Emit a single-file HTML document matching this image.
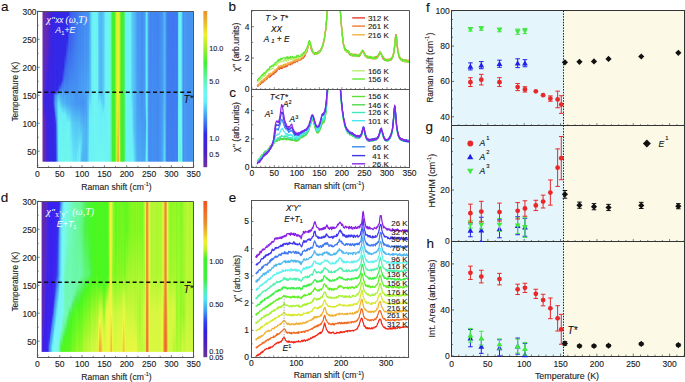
<!DOCTYPE html>
<html><head><meta charset="utf-8"><style>
html,body{margin:0;padding:0;background:#fff;width:685px;height:382px;overflow:hidden}
svg{display:block}
svg{font-family:"Liberation Sans",sans-serif}
</style></head><body>
<svg width="685" height="382" viewBox="0 0 685 382">
<defs><linearGradient id="a0" x2="0" y2="1"><stop offset="0.000" stop-color="#7030a0"/><stop offset="0.588" stop-color="#692dab"/><stop offset="0.912" stop-color="#7030a0"/><stop offset="1.000" stop-color="#7030a0"/></linearGradient><linearGradient id="a1" x2="0" y2="1"><stop offset="0.000" stop-color="#6e2fa3"/><stop offset="0.540" stop-color="#622bb5"/><stop offset="0.614" stop-color="#5928c1"/><stop offset="0.744" stop-color="#6a2ea9"/><stop offset="1.000" stop-color="#6a2ea9"/></linearGradient><linearGradient id="a2" x2="0" y2="1"><stop offset="0.000" stop-color="#692dab"/><stop offset="0.521" stop-color="#5928c1"/><stop offset="0.588" stop-color="#4822d7"/><stop offset="0.614" stop-color="#4522da"/><stop offset="0.744" stop-color="#612ab6"/><stop offset="1.000" stop-color="#612ab6"/></linearGradient><linearGradient id="a3" x2="0" y2="1"><stop offset="0.000" stop-color="#672dad"/><stop offset="0.372" stop-color="#5d29bc"/><stop offset="0.521" stop-color="#4a23d4"/><stop offset="0.558" stop-color="#3b23e3"/><stop offset="0.651" stop-color="#4120df"/><stop offset="0.744" stop-color="#5b28be"/><stop offset="1.000" stop-color="#5b28be"/></linearGradient><linearGradient id="a4" x2="0" y2="1"><stop offset="0.000" stop-color="#622bb4"/><stop offset="0.279" stop-color="#5b28bf"/><stop offset="0.484" stop-color="#3e21e1"/><stop offset="0.614" stop-color="#3427e7"/><stop offset="0.744" stop-color="#4a23d4"/><stop offset="1.000" stop-color="#4a23d4"/></linearGradient><linearGradient id="a5" x2="0" y2="1"><stop offset="0.000" stop-color="#5d29bb"/><stop offset="0.279" stop-color="#5226ca"/><stop offset="0.484" stop-color="#3626e6"/><stop offset="0.688" stop-color="#3427e7"/><stop offset="0.856" stop-color="#3d22e2"/><stop offset="1.000" stop-color="#3d22e2"/></linearGradient><linearGradient id="a6" x2="0" y2="1"><stop offset="0.000" stop-color="#5727c4"/><stop offset="0.186" stop-color="#5426c8"/><stop offset="0.372" stop-color="#3c22e2"/><stop offset="1.000" stop-color="#3526e6"/></linearGradient><linearGradient id="a7" x2="0" y2="1"><stop offset="0.000" stop-color="#4d24d0"/><stop offset="0.186" stop-color="#4a23d4"/><stop offset="0.372" stop-color="#3626e6"/><stop offset="1.000" stop-color="#3427e7"/></linearGradient><linearGradient id="a8" x2="0" y2="1"><stop offset="0.000" stop-color="#4722d7"/><stop offset="0.688" stop-color="#3427e7"/><stop offset="1.000" stop-color="#3427e7"/></linearGradient><linearGradient id="a9" x2="0" y2="1"><stop offset="0.000" stop-color="#3f21e1"/><stop offset="1.000" stop-color="#3327e7"/></linearGradient><linearGradient id="a10" x2="0" y2="1"><stop offset="0.000" stop-color="#3b23e3"/><stop offset="1.000" stop-color="#3427e7"/></linearGradient><linearGradient id="a11" x2="0" y2="1"><stop offset="0.000" stop-color="#3725e5"/><stop offset="0.540" stop-color="#3327e7"/><stop offset="0.558" stop-color="#353cea"/><stop offset="0.614" stop-color="#3641eb"/><stop offset="0.651" stop-color="#3228e8"/><stop offset="1.000" stop-color="#3327e7"/></linearGradient><linearGradient id="a12" x2="0" y2="1"><stop offset="0.000" stop-color="#3626e6"/><stop offset="0.540" stop-color="#3228e8"/><stop offset="0.558" stop-color="#3d6ef0"/><stop offset="0.614" stop-color="#407cf1"/><stop offset="0.651" stop-color="#3a5def"/><stop offset="0.688" stop-color="#3432e9"/><stop offset="1.000" stop-color="#3228e8"/></linearGradient><linearGradient id="a13" x2="0" y2="1"><stop offset="0.000" stop-color="#3526e6"/><stop offset="0.540" stop-color="#332be8"/><stop offset="0.558" stop-color="#4590f2"/><stop offset="0.614" stop-color="#49a4f4"/><stop offset="0.651" stop-color="#479af3"/><stop offset="0.688" stop-color="#407bf1"/><stop offset="0.744" stop-color="#3436ea"/><stop offset="1.000" stop-color="#332be8"/></linearGradient><linearGradient id="a14" x2="0" y2="1"><stop offset="0.000" stop-color="#3626e6"/><stop offset="0.521" stop-color="#3327e7"/><stop offset="0.540" stop-color="#3952ed"/><stop offset="0.558" stop-color="#479bf3"/><stop offset="0.614" stop-color="#50b5f5"/><stop offset="0.688" stop-color="#4ba9f4"/><stop offset="0.744" stop-color="#4180f1"/><stop offset="1.000" stop-color="#3b64ef"/></linearGradient><linearGradient id="a15" x2="0" y2="1"><stop offset="0.000" stop-color="#3626e6"/><stop offset="0.521" stop-color="#3328e8"/><stop offset="0.540" stop-color="#3f77f1"/><stop offset="0.558" stop-color="#4daff4"/><stop offset="0.614" stop-color="#5acdf6"/><stop offset="0.688" stop-color="#59cdf6"/><stop offset="0.856" stop-color="#4eb1f4"/><stop offset="1.000" stop-color="#49a3f4"/></linearGradient><linearGradient id="a16" x2="0" y2="1"><stop offset="0.000" stop-color="#3427e7"/><stop offset="0.484" stop-color="#3228e8"/><stop offset="0.521" stop-color="#363feb"/><stop offset="0.540" stop-color="#438af2"/><stop offset="0.558" stop-color="#51b9f5"/><stop offset="0.614" stop-color="#65e8f8"/><stop offset="0.856" stop-color="#68eff8"/><stop offset="1.000" stop-color="#66eaf8"/></linearGradient><linearGradient id="a17" x2="0" y2="1"><stop offset="0.000" stop-color="#3427e7"/><stop offset="0.484" stop-color="#332be8"/><stop offset="0.521" stop-color="#3d6cf0"/><stop offset="0.540" stop-color="#479bf3"/><stop offset="0.558" stop-color="#50b7f5"/><stop offset="0.651" stop-color="#68f0f8"/><stop offset="1.000" stop-color="#6df4f3"/></linearGradient><linearGradient id="a18" x2="0" y2="1"><stop offset="0.000" stop-color="#3427e7"/><stop offset="0.458" stop-color="#3228e8"/><stop offset="0.484" stop-color="#332fe9"/><stop offset="0.540" stop-color="#489ff3"/><stop offset="0.651" stop-color="#64e7f8"/><stop offset="0.744" stop-color="#6cf3f4"/><stop offset="1.000" stop-color="#6df4f3"/></linearGradient><linearGradient id="a19" x2="0" y2="1"><stop offset="0.000" stop-color="#3427e7"/><stop offset="0.458" stop-color="#3228e8"/><stop offset="0.484" stop-color="#3958ee"/><stop offset="0.521" stop-color="#417df1"/><stop offset="0.540" stop-color="#489df3"/><stop offset="0.614" stop-color="#54bff5"/><stop offset="0.651" stop-color="#61e0f7"/><stop offset="0.688" stop-color="#69f1f7"/><stop offset="1.000" stop-color="#6ef4f2"/></linearGradient><linearGradient id="a20" x2="0" y2="1"><stop offset="0.000" stop-color="#3328e8"/><stop offset="0.372" stop-color="#332be8"/><stop offset="0.458" stop-color="#3642eb"/><stop offset="0.484" stop-color="#3f73f1"/><stop offset="0.521" stop-color="#4388f2"/><stop offset="0.540" stop-color="#49a1f4"/><stop offset="0.614" stop-color="#53bdf5"/><stop offset="0.651" stop-color="#61dff7"/><stop offset="0.688" stop-color="#69f1f7"/><stop offset="1.000" stop-color="#70f6f0"/></linearGradient><linearGradient id="a21" x2="0" y2="1"><stop offset="0.000" stop-color="#3427e7"/><stop offset="0.372" stop-color="#3327e7"/><stop offset="0.484" stop-color="#3f76f1"/><stop offset="0.521" stop-color="#4181f2"/><stop offset="0.540" stop-color="#4798f3"/><stop offset="0.614" stop-color="#4eb2f5"/><stop offset="0.688" stop-color="#67edf8"/><stop offset="1.000" stop-color="#6ff5f1"/></linearGradient><linearGradient id="a22" x2="0" y2="1"><stop offset="0.000" stop-color="#3228e8"/><stop offset="0.279" stop-color="#322ae8"/><stop offset="0.372" stop-color="#374bec"/><stop offset="0.484" stop-color="#4387f2"/><stop offset="0.521" stop-color="#438af2"/><stop offset="0.558" stop-color="#4aa9f4"/><stop offset="0.614" stop-color="#50b6f5"/><stop offset="0.688" stop-color="#68f0f8"/><stop offset="1.000" stop-color="#6ef6ea"/></linearGradient><linearGradient id="a23" x2="0" y2="1"><stop offset="0.000" stop-color="#3327e7"/><stop offset="0.279" stop-color="#3228e8"/><stop offset="0.372" stop-color="#3c65f0"/><stop offset="0.521" stop-color="#4286f2"/><stop offset="0.558" stop-color="#49a3f4"/><stop offset="0.614" stop-color="#4daff4"/><stop offset="0.688" stop-color="#66ebf8"/><stop offset="0.856" stop-color="#6ff5f1"/><stop offset="1.000" stop-color="#6ef6e9"/></linearGradient><linearGradient id="a24" x2="0" y2="1"><stop offset="0.000" stop-color="#3327e7"/><stop offset="0.186" stop-color="#3327e7"/><stop offset="0.372" stop-color="#3d6cf0"/><stop offset="0.484" stop-color="#4283f2"/><stop offset="0.521" stop-color="#4285f2"/><stop offset="0.558" stop-color="#48a1f4"/><stop offset="0.614" stop-color="#4babf4"/><stop offset="0.688" stop-color="#62e2f7"/><stop offset="0.744" stop-color="#6df3f3"/><stop offset="1.000" stop-color="#6df6e5"/></linearGradient><linearGradient id="a25" x2="0" y2="1"><stop offset="0.000" stop-color="#3327e7"/><stop offset="0.186" stop-color="#3328e8"/><stop offset="0.279" stop-color="#3b5fef"/><stop offset="0.484" stop-color="#4284f2"/><stop offset="0.521" stop-color="#4386f2"/><stop offset="0.558" stop-color="#489ff3"/><stop offset="0.614" stop-color="#4aa8f4"/><stop offset="0.744" stop-color="#6df4f3"/><stop offset="1.000" stop-color="#6ef6e9"/></linearGradient><linearGradient id="a26" x2="0" y2="1"><stop offset="0.000" stop-color="#3328e8"/><stop offset="0.093" stop-color="#332fe9"/><stop offset="0.279" stop-color="#3c68f0"/><stop offset="0.521" stop-color="#4389f2"/><stop offset="0.558" stop-color="#48a0f4"/><stop offset="0.614" stop-color="#4aa7f4"/><stop offset="0.744" stop-color="#6cf3f4"/><stop offset="1.000" stop-color="#6ff6f1"/></linearGradient><linearGradient id="a27" x2="0" y2="1"><stop offset="0.000" stop-color="#353deb"/><stop offset="0.093" stop-color="#3958ee"/><stop offset="0.521" stop-color="#458ff2"/><stop offset="0.558" stop-color="#49a4f4"/><stop offset="0.614" stop-color="#4aa9f4"/><stop offset="0.744" stop-color="#6af1f6"/><stop offset="1.000" stop-color="#6ef5f2"/></linearGradient><linearGradient id="a28" x2="0" y2="1"><stop offset="0.000" stop-color="#3a5aee"/><stop offset="0.186" stop-color="#3b5fef"/><stop offset="0.484" stop-color="#4389f2"/><stop offset="0.521" stop-color="#438af2"/><stop offset="0.558" stop-color="#489df3"/><stop offset="0.614" stop-color="#48a0f4"/><stop offset="0.744" stop-color="#63e4f7"/><stop offset="0.967" stop-color="#6bf2f5"/><stop offset="1.000" stop-color="#6bf2f5"/></linearGradient><linearGradient id="a29" x2="0" y2="1"><stop offset="0.000" stop-color="#3b62ef"/><stop offset="0.186" stop-color="#3c67f0"/><stop offset="0.521" stop-color="#458ff2"/><stop offset="0.558" stop-color="#48a0f4"/><stop offset="0.614" stop-color="#48a1f4"/><stop offset="0.744" stop-color="#5dd6f7"/><stop offset="0.912" stop-color="#68f0f8"/><stop offset="1.000" stop-color="#6af1f6"/></linearGradient><linearGradient id="a30" x2="0" y2="1"><stop offset="0.000" stop-color="#3c67f0"/><stop offset="0.186" stop-color="#3d6cf0"/><stop offset="0.521" stop-color="#4591f3"/><stop offset="0.558" stop-color="#48a0f3"/><stop offset="0.614" stop-color="#489ff3"/><stop offset="0.744" stop-color="#59cdf6"/><stop offset="1.000" stop-color="#68eff8"/></linearGradient><linearGradient id="a31" x2="0" y2="1"><stop offset="0.000" stop-color="#3c68f0"/><stop offset="0.186" stop-color="#3d6ef0"/><stop offset="0.521" stop-color="#458ff2"/><stop offset="0.558" stop-color="#479cf3"/><stop offset="0.614" stop-color="#479bf3"/><stop offset="0.744" stop-color="#58c9f6"/><stop offset="1.000" stop-color="#64e6f7"/></linearGradient><linearGradient id="a32" x2="0" y2="1"><stop offset="0.000" stop-color="#3d6df0"/><stop offset="0.279" stop-color="#417ff1"/><stop offset="0.521" stop-color="#4592f3"/><stop offset="0.558" stop-color="#479cf3"/><stop offset="0.614" stop-color="#479bf3"/><stop offset="0.744" stop-color="#58caf6"/><stop offset="1.000" stop-color="#64e7f8"/></linearGradient><linearGradient id="a33" x2="0" y2="1"><stop offset="0.000" stop-color="#3d6cf0"/><stop offset="0.372" stop-color="#4386f2"/><stop offset="0.614" stop-color="#4696f3"/><stop offset="0.744" stop-color="#56c4f6"/><stop offset="1.000" stop-color="#63e3f7"/></linearGradient><linearGradient id="a34" x2="0" y2="1"><stop offset="0.000" stop-color="#3e6ff0"/><stop offset="0.372" stop-color="#4388f2"/><stop offset="0.614" stop-color="#4694f3"/><stop offset="0.744" stop-color="#55c3f5"/><stop offset="1.000" stop-color="#63e3f7"/></linearGradient><linearGradient id="a35" x2="0" y2="1"><stop offset="0.000" stop-color="#3f75f1"/><stop offset="0.372" stop-color="#448bf2"/><stop offset="0.588" stop-color="#4695f3"/><stop offset="0.614" stop-color="#4694f3"/><stop offset="0.744" stop-color="#55c3f6"/><stop offset="0.912" stop-color="#5fdbf7"/><stop offset="0.967" stop-color="#67edf8"/><stop offset="1.000" stop-color="#67edf8"/></linearGradient><linearGradient id="a36" x2="0" y2="1"><stop offset="0.000" stop-color="#417ef1"/><stop offset="0.279" stop-color="#4389f2"/><stop offset="0.558" stop-color="#4799f3"/><stop offset="0.614" stop-color="#4697f3"/><stop offset="0.744" stop-color="#57c6f6"/><stop offset="1.000" stop-color="#6bf2f5"/></linearGradient><linearGradient id="a37" x2="0" y2="1"><stop offset="0.000" stop-color="#4180f2"/><stop offset="0.279" stop-color="#4389f2"/><stop offset="0.540" stop-color="#479af3"/><stop offset="0.614" stop-color="#4694f3"/><stop offset="0.744" stop-color="#55c3f5"/><stop offset="0.856" stop-color="#5ed9f7"/><stop offset="0.912" stop-color="#68f0f8"/><stop offset="1.000" stop-color="#6af1f6"/></linearGradient><linearGradient id="a38" x2="0" y2="1"><stop offset="0.000" stop-color="#4282f2"/><stop offset="0.279" stop-color="#4389f2"/><stop offset="0.521" stop-color="#479af3"/><stop offset="0.614" stop-color="#4592f3"/><stop offset="0.856" stop-color="#60dcf7"/><stop offset="0.912" stop-color="#63e4f7"/><stop offset="1.000" stop-color="#60dcf7"/></linearGradient><linearGradient id="a39" x2="0" y2="1"><stop offset="0.000" stop-color="#4284f2"/><stop offset="0.279" stop-color="#448df2"/><stop offset="0.521" stop-color="#489ef3"/><stop offset="0.614" stop-color="#4694f3"/><stop offset="0.856" stop-color="#5cd4f6"/><stop offset="0.912" stop-color="#5cd4f6"/><stop offset="0.967" stop-color="#54c1f5"/><stop offset="1.000" stop-color="#54c1f5"/></linearGradient><linearGradient id="a40" x2="0" y2="1"><stop offset="0.000" stop-color="#4285f2"/><stop offset="0.279" stop-color="#448df2"/><stop offset="0.521" stop-color="#489ef3"/><stop offset="0.614" stop-color="#4592f3"/><stop offset="0.800" stop-color="#54c1f5"/><stop offset="0.856" stop-color="#57c7f6"/><stop offset="1.000" stop-color="#4eb1f4"/></linearGradient><linearGradient id="a41" x2="0" y2="1"><stop offset="0.000" stop-color="#4386f2"/><stop offset="0.279" stop-color="#448ef2"/><stop offset="0.521" stop-color="#489df3"/><stop offset="0.614" stop-color="#4590f2"/><stop offset="0.800" stop-color="#52baf5"/><stop offset="1.000" stop-color="#4daff4"/></linearGradient><linearGradient id="a42" x2="0" y2="1"><stop offset="0.000" stop-color="#448ef2"/><stop offset="0.279" stop-color="#4695f3"/><stop offset="0.521" stop-color="#49a2f4"/><stop offset="0.614" stop-color="#4696f3"/><stop offset="0.800" stop-color="#51baf5"/><stop offset="1.000" stop-color="#4fb4f5"/></linearGradient><linearGradient id="a43" x2="0" y2="1"><stop offset="0.000" stop-color="#448ef2"/><stop offset="0.279" stop-color="#4695f3"/><stop offset="0.521" stop-color="#49a2f4"/><stop offset="0.614" stop-color="#479af3"/><stop offset="0.744" stop-color="#4eb3f5"/><stop offset="1.000" stop-color="#4eb3f5"/></linearGradient><linearGradient id="a44" x2="0" y2="1"><stop offset="0.000" stop-color="#438af2"/><stop offset="0.279" stop-color="#4592f3"/><stop offset="0.521" stop-color="#48a0f3"/><stop offset="0.651" stop-color="#48a0f4"/><stop offset="0.856" stop-color="#50b7f5"/><stop offset="1.000" stop-color="#4daff4"/></linearGradient><linearGradient id="a45" x2="0" y2="1"><stop offset="0.000" stop-color="#448ff2"/><stop offset="0.279" stop-color="#4697f3"/><stop offset="0.800" stop-color="#54c1f5"/><stop offset="1.000" stop-color="#54c1f5"/></linearGradient><linearGradient id="a46" x2="0" y2="1"><stop offset="0.000" stop-color="#4591f3"/><stop offset="0.279" stop-color="#4799f3"/><stop offset="0.521" stop-color="#4aa8f4"/><stop offset="0.588" stop-color="#54bff5"/><stop offset="1.000" stop-color="#61def7"/></linearGradient><linearGradient id="a47" x2="0" y2="1"><stop offset="0.000" stop-color="#4baaf4"/><stop offset="0.521" stop-color="#50b7f5"/><stop offset="0.558" stop-color="#5dd5f7"/><stop offset="0.688" stop-color="#68f0f8"/><stop offset="1.000" stop-color="#6af2f6"/></linearGradient><linearGradient id="a48" x2="0" y2="1"><stop offset="0.000" stop-color="#55c3f6"/><stop offset="0.521" stop-color="#55c3f6"/><stop offset="0.651" stop-color="#69f0f7"/><stop offset="1.000" stop-color="#6df3f3"/></linearGradient><linearGradient id="a49" x2="0" y2="1"><stop offset="0.000" stop-color="#61e0f7"/><stop offset="0.558" stop-color="#64e5f7"/><stop offset="0.744" stop-color="#6cf3f4"/><stop offset="1.000" stop-color="#6cf3f4"/></linearGradient><linearGradient id="a51" x2="0" y2="1"><stop offset="0.000" stop-color="#6bf2f5"/><stop offset="0.912" stop-color="#6df3f3"/><stop offset="1.000" stop-color="#6df4f3"/></linearGradient><linearGradient id="a53" x2="0" y2="1"><stop offset="0.000" stop-color="#6df4f3"/><stop offset="0.912" stop-color="#6ef5f2"/><stop offset="1.000" stop-color="#6ff5f1"/></linearGradient><linearGradient id="a54" x2="0" y2="1"><stop offset="0.000" stop-color="#6bf2f5"/><stop offset="0.800" stop-color="#6df3f3"/><stop offset="1.000" stop-color="#6ef5f2"/></linearGradient><linearGradient id="a55" x2="0" y2="1"><stop offset="0.000" stop-color="#68f0f8"/><stop offset="1.000" stop-color="#6ff5f1"/></linearGradient><linearGradient id="a56" x2="0" y2="1"><stop offset="0.000" stop-color="#5acff6"/><stop offset="0.540" stop-color="#5dd4f6"/><stop offset="0.651" stop-color="#69f1f7"/><stop offset="1.000" stop-color="#6ff5f1"/></linearGradient><linearGradient id="a57" x2="0" y2="1"><stop offset="0.000" stop-color="#54c0f5"/><stop offset="0.521" stop-color="#54c0f5"/><stop offset="0.614" stop-color="#68f0f8"/><stop offset="1.000" stop-color="#70f6f0"/></linearGradient><linearGradient id="a58" x2="0" y2="1"><stop offset="0.000" stop-color="#51b8f5"/><stop offset="0.521" stop-color="#51b8f5"/><stop offset="0.614" stop-color="#66ecf8"/><stop offset="1.000" stop-color="#70f6ef"/></linearGradient><linearGradient id="a59" x2="0" y2="1"><stop offset="0.000" stop-color="#50b6f5"/><stop offset="0.521" stop-color="#50b6f5"/><stop offset="0.651" stop-color="#67edf8"/><stop offset="1.000" stop-color="#70f6f0"/></linearGradient><linearGradient id="a60" x2="0" y2="1"><stop offset="0.000" stop-color="#55c2f5"/><stop offset="0.540" stop-color="#56c6f6"/><stop offset="0.614" stop-color="#5dd5f7"/><stop offset="0.688" stop-color="#69f1f7"/><stop offset="1.000" stop-color="#70f6f0"/></linearGradient><linearGradient id="a61" x2="0" y2="1"><stop offset="0.000" stop-color="#56c6f6"/><stop offset="0.558" stop-color="#58caf6"/><stop offset="0.614" stop-color="#5bd0f6"/><stop offset="0.688" stop-color="#69f1f7"/><stop offset="1.000" stop-color="#6ff5f1"/></linearGradient><linearGradient id="a62" x2="0" y2="1"><stop offset="0.000" stop-color="#5fdbf7"/><stop offset="0.614" stop-color="#61e0f7"/><stop offset="0.651" stop-color="#67eff8"/><stop offset="1.000" stop-color="#6ff5f1"/></linearGradient><linearGradient id="a63" x2="0" y2="1"><stop offset="0.000" stop-color="#69f1f7"/><stop offset="0.651" stop-color="#69f1f7"/><stop offset="1.000" stop-color="#6ef5f2"/></linearGradient><linearGradient id="a67" x2="0" y2="1"><stop offset="0.000" stop-color="#6ef6e6"/><stop offset="0.558" stop-color="#6ff6ea"/><stop offset="0.744" stop-color="#6ff6ea"/><stop offset="1.000" stop-color="#6af5d8"/></linearGradient><linearGradient id="a68" x2="0" y2="1"><stop offset="0.000" stop-color="#65f5c6"/><stop offset="0.912" stop-color="#65f5c6"/><stop offset="1.000" stop-color="#65f5c4"/></linearGradient><linearGradient id="a69" x2="0" y2="1"><stop offset="0.000" stop-color="#54f280"/><stop offset="0.558" stop-color="#55f384"/><stop offset="0.912" stop-color="#57f38b"/><stop offset="1.000" stop-color="#57f38b"/></linearGradient><linearGradient id="a73" x2="0" y2="1"><stop offset="0.000" stop-color="#96ec30"/><stop offset="0.540" stop-color="#91ec30"/><stop offset="0.614" stop-color="#7ced30"/><stop offset="1.000" stop-color="#75ee30"/></linearGradient><linearGradient id="a74" x2="0" y2="1"><stop offset="0.000" stop-color="#d0ef2b"/><stop offset="0.558" stop-color="#ccee2b"/><stop offset="1.000" stop-color="#c7ee2c"/></linearGradient><linearGradient id="a75" x2="0" y2="1"><stop offset="0.000" stop-color="#e5f029"/><stop offset="0.540" stop-color="#e9f029"/><stop offset="0.744" stop-color="#eee42a"/><stop offset="1.000" stop-color="#e8ba30"/></linearGradient><linearGradient id="a76" x2="0" y2="1"><stop offset="0.000" stop-color="#e6f029"/><stop offset="0.540" stop-color="#ebf028"/><stop offset="0.856" stop-color="#eac32e"/><stop offset="1.000" stop-color="#e8b930"/></linearGradient><linearGradient id="a77" x2="0" y2="1"><stop offset="0.000" stop-color="#ceee2b"/><stop offset="0.744" stop-color="#cbee2b"/><stop offset="0.912" stop-color="#f0ef28"/><stop offset="1.000" stop-color="#eee42a"/></linearGradient><linearGradient id="a78" x2="0" y2="1"><stop offset="0.000" stop-color="#77ed30"/><stop offset="0.651" stop-color="#70ee30"/><stop offset="0.800" stop-color="#72ee30"/><stop offset="1.000" stop-color="#82ed30"/></linearGradient><linearGradient id="a82" x2="0" y2="1"><stop offset="0.000" stop-color="#53f27b"/><stop offset="0.540" stop-color="#52f276"/><stop offset="0.614" stop-color="#4df264"/><stop offset="1.000" stop-color="#4df264"/></linearGradient><linearGradient id="a83" x2="0" y2="1"><stop offset="0.000" stop-color="#68f5d1"/><stop offset="0.540" stop-color="#67f5cb"/><stop offset="0.614" stop-color="#61f4b6"/><stop offset="1.000" stop-color="#61f4b6"/></linearGradient><linearGradient id="a84" x2="0" y2="1"><stop offset="0.000" stop-color="#6cf3f4"/><stop offset="0.688" stop-color="#6ff6ed"/><stop offset="1.000" stop-color="#6ff6eb"/></linearGradient><linearGradient id="a89" x2="0" y2="1"><stop offset="0.000" stop-color="#5ed9f7"/><stop offset="0.540" stop-color="#61def7"/><stop offset="0.651" stop-color="#69f1f7"/><stop offset="1.000" stop-color="#6cf3f4"/></linearGradient><linearGradient id="a90" x2="0" y2="1"><stop offset="0.000" stop-color="#57c8f6"/><stop offset="0.540" stop-color="#59ccf6"/><stop offset="0.651" stop-color="#5fdbf7"/><stop offset="0.800" stop-color="#64e5f7"/><stop offset="0.967" stop-color="#6bf2f5"/><stop offset="1.000" stop-color="#6bf2f5"/></linearGradient><linearGradient id="a91" x2="0" y2="1"><stop offset="0.000" stop-color="#55c2f5"/><stop offset="0.744" stop-color="#58c9f6"/><stop offset="1.000" stop-color="#68eff8"/></linearGradient><linearGradient id="a92" x2="0" y2="1"><stop offset="0.000" stop-color="#51b8f5"/><stop offset="0.744" stop-color="#53bdf5"/><stop offset="1.000" stop-color="#5fd9f7"/></linearGradient><linearGradient id="a93" x2="0" y2="1"><stop offset="0.000" stop-color="#4db0f4"/><stop offset="0.800" stop-color="#50b7f5"/><stop offset="1.000" stop-color="#58c9f6"/></linearGradient><linearGradient id="a94" x2="0" y2="1"><stop offset="0.000" stop-color="#49a1f4"/><stop offset="0.800" stop-color="#4baaf4"/><stop offset="1.000" stop-color="#51b8f5"/></linearGradient><linearGradient id="a95" x2="0" y2="1"><stop offset="0.000" stop-color="#479af3"/><stop offset="0.588" stop-color="#48a0f4"/><stop offset="1.000" stop-color="#4cadf4"/></linearGradient><linearGradient id="a96" x2="0" y2="1"><stop offset="0.000" stop-color="#4593f3"/><stop offset="0.558" stop-color="#4798f3"/><stop offset="1.000" stop-color="#4aa7f4"/></linearGradient><linearGradient id="a97" x2="0" y2="1"><stop offset="0.000" stop-color="#4696f3"/><stop offset="0.558" stop-color="#479af3"/><stop offset="1.000" stop-color="#4babf4"/></linearGradient><linearGradient id="a98" x2="0" y2="1"><stop offset="0.000" stop-color="#4694f3"/><stop offset="0.558" stop-color="#4798f3"/><stop offset="1.000" stop-color="#4cacf4"/></linearGradient><linearGradient id="a99" x2="0" y2="1"><stop offset="0.000" stop-color="#448bf2"/><stop offset="0.588" stop-color="#4591f3"/><stop offset="1.000" stop-color="#49a5f4"/></linearGradient><linearGradient id="a100" x2="0" y2="1"><stop offset="0.000" stop-color="#448df2"/><stop offset="0.614" stop-color="#4694f3"/><stop offset="1.000" stop-color="#49a5f4"/></linearGradient><linearGradient id="a101" x2="0" y2="1"><stop offset="0.000" stop-color="#4593f3"/><stop offset="0.800" stop-color="#479bf3"/><stop offset="1.000" stop-color="#49a6f4"/></linearGradient><linearGradient id="a102" x2="0" y2="1"><stop offset="0.000" stop-color="#4799f3"/><stop offset="0.800" stop-color="#479af3"/><stop offset="1.000" stop-color="#49a6f4"/></linearGradient><linearGradient id="a103" x2="0" y2="1"><stop offset="0.000" stop-color="#50b7f5"/><stop offset="0.614" stop-color="#51b9f5"/><stop offset="0.744" stop-color="#4696f3"/><stop offset="1.000" stop-color="#56c5f6"/></linearGradient><linearGradient id="a104" x2="0" y2="1"><stop offset="0.000" stop-color="#64e7f8"/><stop offset="0.588" stop-color="#67edf8"/><stop offset="0.744" stop-color="#63e4f7"/><stop offset="1.000" stop-color="#6af2f6"/></linearGradient><linearGradient id="a105" x2="0" y2="1"><stop offset="0.000" stop-color="#58caf6"/><stop offset="0.651" stop-color="#5bd0f6"/><stop offset="1.000" stop-color="#5ed9f7"/></linearGradient><linearGradient id="a108" x2="0" y2="1"><stop offset="0.000" stop-color="#4282f2"/><stop offset="0.688" stop-color="#4389f2"/><stop offset="1.000" stop-color="#448bf2"/></linearGradient><linearGradient id="a109" x2="0" y2="1"><stop offset="0.000" stop-color="#4284f2"/><stop offset="0.688" stop-color="#448bf2"/><stop offset="1.000" stop-color="#448df2"/></linearGradient><linearGradient id="a110" x2="0" y2="1"><stop offset="0.000" stop-color="#4388f2"/><stop offset="0.688" stop-color="#448ff2"/><stop offset="1.000" stop-color="#4591f3"/></linearGradient><linearGradient id="a111" x2="0" y2="1"><stop offset="0.000" stop-color="#4285f2"/><stop offset="0.688" stop-color="#448cf2"/><stop offset="1.000" stop-color="#448ef2"/></linearGradient><linearGradient id="a112" x2="0" y2="1"><stop offset="0.000" stop-color="#4284f2"/><stop offset="0.688" stop-color="#448bf2"/><stop offset="1.000" stop-color="#448df2"/></linearGradient><linearGradient id="a113" x2="0" y2="1"><stop offset="0.000" stop-color="#4285f2"/><stop offset="0.688" stop-color="#448cf2"/><stop offset="1.000" stop-color="#448ef2"/></linearGradient><linearGradient id="a114" x2="0" y2="1"><stop offset="0.000" stop-color="#4285f2"/><stop offset="0.688" stop-color="#448cf2"/><stop offset="1.000" stop-color="#448ef2"/></linearGradient><linearGradient id="a115" x2="0" y2="1"><stop offset="0.000" stop-color="#417ff1"/><stop offset="0.651" stop-color="#4285f2"/><stop offset="1.000" stop-color="#4388f2"/></linearGradient><linearGradient id="a116" x2="0" y2="1"><stop offset="0.000" stop-color="#4387f2"/><stop offset="0.688" stop-color="#448ef2"/><stop offset="1.000" stop-color="#4590f3"/></linearGradient><linearGradient id="a117" x2="0" y2="1"><stop offset="0.000" stop-color="#4386f2"/><stop offset="0.688" stop-color="#448df2"/><stop offset="1.000" stop-color="#458ff2"/></linearGradient><linearGradient id="a118" x2="0" y2="1"><stop offset="0.000" stop-color="#448bf2"/><stop offset="0.688" stop-color="#4592f3"/><stop offset="1.000" stop-color="#4695f3"/></linearGradient><linearGradient id="a119" x2="0" y2="1"><stop offset="0.000" stop-color="#4591f3"/><stop offset="0.614" stop-color="#4798f3"/><stop offset="1.000" stop-color="#48a0f3"/></linearGradient><linearGradient id="a120" x2="0" y2="1"><stop offset="0.000" stop-color="#4695f3"/><stop offset="0.588" stop-color="#479bf3"/><stop offset="1.000" stop-color="#4aa7f4"/></linearGradient><linearGradient id="a121" x2="0" y2="1"><stop offset="0.000" stop-color="#4aa7f4"/><stop offset="0.558" stop-color="#4babf4"/><stop offset="1.000" stop-color="#55c2f5"/></linearGradient><linearGradient id="a122" x2="0" y2="1"><stop offset="0.000" stop-color="#50b6f5"/><stop offset="0.558" stop-color="#52baf5"/><stop offset="1.000" stop-color="#5fdaf7"/></linearGradient><linearGradient id="a123" x2="0" y2="1"><stop offset="0.000" stop-color="#49a5f4"/><stop offset="0.688" stop-color="#4cacf4"/><stop offset="1.000" stop-color="#50b7f5"/></linearGradient><linearGradient id="a126" x2="0" y2="1"><stop offset="0.000" stop-color="#3f78f1"/><stop offset="0.588" stop-color="#417ef1"/><stop offset="1.000" stop-color="#4181f2"/></linearGradient><linearGradient id="a127" x2="0" y2="1"><stop offset="0.000" stop-color="#3f77f1"/><stop offset="0.558" stop-color="#407bf1"/><stop offset="1.000" stop-color="#4180f2"/></linearGradient><linearGradient id="a128" x2="0" y2="1"><stop offset="0.000" stop-color="#4079f1"/><stop offset="0.588" stop-color="#417ff1"/><stop offset="1.000" stop-color="#4282f2"/></linearGradient><linearGradient id="a129" x2="0" y2="1"><stop offset="0.000" stop-color="#3f76f1"/><stop offset="0.558" stop-color="#407af1"/><stop offset="1.000" stop-color="#417ff1"/></linearGradient><linearGradient id="a130" x2="0" y2="1"><stop offset="0.000" stop-color="#3f76f1"/><stop offset="0.588" stop-color="#407cf1"/><stop offset="1.000" stop-color="#417ff1"/></linearGradient><linearGradient id="a131" x2="0" y2="1"><stop offset="0.000" stop-color="#3f77f1"/><stop offset="0.558" stop-color="#407bf1"/><stop offset="1.000" stop-color="#4180f2"/></linearGradient><linearGradient id="a132" x2="0" y2="1"><stop offset="0.000" stop-color="#3f77f1"/><stop offset="0.588" stop-color="#417df1"/><stop offset="1.000" stop-color="#4180f1"/></linearGradient><linearGradient id="a133" x2="0" y2="1"><stop offset="0.000" stop-color="#4079f1"/><stop offset="0.558" stop-color="#417df1"/><stop offset="1.000" stop-color="#4282f2"/></linearGradient><linearGradient id="a134" x2="0" y2="1"><stop offset="0.000" stop-color="#3f76f1"/><stop offset="0.558" stop-color="#407af1"/><stop offset="1.000" stop-color="#417ff1"/></linearGradient><linearGradient id="a135" x2="0" y2="1"><stop offset="0.000" stop-color="#417ef1"/><stop offset="0.588" stop-color="#4284f2"/><stop offset="1.000" stop-color="#4387f2"/></linearGradient><linearGradient id="a136" x2="0" y2="1"><stop offset="0.000" stop-color="#61dff7"/><stop offset="0.540" stop-color="#62e3f7"/><stop offset="0.688" stop-color="#6af1f6"/><stop offset="1.000" stop-color="#6df4f3"/></linearGradient><linearGradient id="a137" x2="0" y2="1"><stop offset="0.000" stop-color="#6af2f6"/><stop offset="0.800" stop-color="#6ff6ed"/><stop offset="1.000" stop-color="#6bf5dd"/></linearGradient><linearGradient id="a138" x2="0" y2="1"><stop offset="0.000" stop-color="#6af2f6"/><stop offset="0.800" stop-color="#6ff6ed"/><stop offset="1.000" stop-color="#6bf5dd"/></linearGradient><linearGradient id="a139" x2="0" y2="1"><stop offset="0.000" stop-color="#60ddf7"/><stop offset="0.540" stop-color="#61e0f7"/><stop offset="0.651" stop-color="#69f0f7"/><stop offset="1.000" stop-color="#6df4f3"/></linearGradient><linearGradient id="a140" x2="0" y2="1"><stop offset="0.000" stop-color="#4cadf4"/><stop offset="0.651" stop-color="#4fb4f5"/><stop offset="1.000" stop-color="#53bff5"/></linearGradient><linearGradient id="cba" x1="0" y1="1" x2="0" y2="0"><stop offset="0.000" stop-color="#7030a0"/><stop offset="0.100" stop-color="#4a20c8"/><stop offset="0.210" stop-color="#3228e8"/><stop offset="0.270" stop-color="#3c68f0"/><stop offset="0.340" stop-color="#4aa8f4"/><stop offset="0.420" stop-color="#68f0f8"/><stop offset="0.480" stop-color="#70f6f0"/><stop offset="0.560" stop-color="#60f4b0"/><stop offset="0.670" stop-color="#40f030"/><stop offset="0.750" stop-color="#98ec30"/><stop offset="0.850" stop-color="#f0f028"/><stop offset="0.930" stop-color="#e8b830"/><stop offset="1.000" stop-color="#e8902c"/></linearGradient><linearGradient id="d0" x2="0" y2="1"><stop offset="0.000" stop-color="#6a28a0"/><stop offset="0.743" stop-color="#6928a2"/><stop offset="1.000" stop-color="#5c28bd"/></linearGradient><linearGradient id="d1" x2="0" y2="1"><stop offset="0.000" stop-color="#6528a9"/><stop offset="0.743" stop-color="#5f28b5"/><stop offset="1.000" stop-color="#4827db"/></linearGradient><linearGradient id="d2" x2="0" y2="1"><stop offset="0.000" stop-color="#6328af"/><stop offset="0.743" stop-color="#5928c2"/><stop offset="0.855" stop-color="#4b28d7"/><stop offset="0.910" stop-color="#3d22eb"/><stop offset="1.000" stop-color="#3a20f0"/></linearGradient><linearGradient id="d3" x2="0" y2="1"><stop offset="0.000" stop-color="#6028b4"/><stop offset="0.650" stop-color="#5428c9"/><stop offset="0.743" stop-color="#4f28d0"/><stop offset="0.855" stop-color="#3d22eb"/><stop offset="1.000" stop-color="#3b21ee"/></linearGradient><linearGradient id="d4" x2="0" y2="1"><stop offset="0.000" stop-color="#5928c1"/><stop offset="0.483" stop-color="#4f28d0"/><stop offset="0.855" stop-color="#3a20f0"/><stop offset="1.000" stop-color="#3a20f0"/></linearGradient><linearGradient id="d5" x2="0" y2="1"><stop offset="0.000" stop-color="#5428c9"/><stop offset="0.372" stop-color="#4c28d5"/><stop offset="0.687" stop-color="#3c21ed"/><stop offset="1.000" stop-color="#3c21ed"/></linearGradient><linearGradient id="d6" x2="0" y2="1"><stop offset="0.000" stop-color="#4b28d7"/><stop offset="0.279" stop-color="#4425e0"/><stop offset="0.557" stop-color="#3a20f0"/><stop offset="1.000" stop-color="#3a26f0"/></linearGradient><linearGradient id="d7" x2="0" y2="1"><stop offset="0.000" stop-color="#3e22ea"/><stop offset="0.910" stop-color="#3a27f0"/><stop offset="0.966" stop-color="#3b4ff0"/><stop offset="1.000" stop-color="#3b4ff0"/></linearGradient><linearGradient id="d8" x2="0" y2="1"><stop offset="0.000" stop-color="#3a23f0"/><stop offset="0.855" stop-color="#3a23f0"/><stop offset="0.910" stop-color="#3a3ef0"/><stop offset="0.966" stop-color="#4492f0"/><stop offset="1.000" stop-color="#4492f0"/></linearGradient><linearGradient id="d9" x2="0" y2="1"><stop offset="0.000" stop-color="#3a21f0"/><stop offset="0.799" stop-color="#3a21f0"/><stop offset="0.855" stop-color="#3a36f0"/><stop offset="0.910" stop-color="#4491f0"/><stop offset="0.966" stop-color="#4dabf3"/><stop offset="1.000" stop-color="#4dabf3"/></linearGradient><linearGradient id="d10" x2="0" y2="1"><stop offset="0.000" stop-color="#3b20ef"/><stop offset="0.743" stop-color="#3b20ef"/><stop offset="0.799" stop-color="#3a31f0"/><stop offset="0.855" stop-color="#438df0"/><stop offset="0.910" stop-color="#49a3f1"/><stop offset="0.966" stop-color="#5cc8f8"/><stop offset="1.000" stop-color="#5cc8f8"/></linearGradient><linearGradient id="d11" x2="0" y2="1"><stop offset="0.000" stop-color="#3b20ef"/><stop offset="0.687" stop-color="#3b20ef"/><stop offset="0.743" stop-color="#3a2ef0"/><stop offset="0.799" stop-color="#4081f0"/><stop offset="0.910" stop-color="#58c1f8"/><stop offset="0.966" stop-color="#71f1f8"/><stop offset="1.000" stop-color="#71f1f8"/></linearGradient><linearGradient id="d12" x2="0" y2="1"><stop offset="0.000" stop-color="#3b21ee"/><stop offset="0.650" stop-color="#3a27f0"/><stop offset="0.687" stop-color="#3a33f0"/><stop offset="0.799" stop-color="#49a2f0"/><stop offset="0.855" stop-color="#53b6f6"/><stop offset="0.910" stop-color="#6ce7f8"/><stop offset="1.000" stop-color="#77f7f8"/></linearGradient><linearGradient id="d13" x2="0" y2="1"><stop offset="0.000" stop-color="#3a22f0"/><stop offset="0.557" stop-color="#3a28f0"/><stop offset="0.613" stop-color="#3a36f0"/><stop offset="0.650" stop-color="#3c52f0"/><stop offset="0.687" stop-color="#4184f0"/><stop offset="0.743" stop-color="#4eabf3"/><stop offset="0.799" stop-color="#56bcf7"/><stop offset="0.855" stop-color="#6be6f8"/><stop offset="0.910" stop-color="#77f8f3"/><stop offset="1.000" stop-color="#77f8f3"/></linearGradient><linearGradient id="d14" x2="0" y2="1"><stop offset="0.000" stop-color="#3a20f0"/><stop offset="0.483" stop-color="#3a26f0"/><stop offset="0.557" stop-color="#3a3af0"/><stop offset="0.587" stop-color="#3b4ff0"/><stop offset="0.650" stop-color="#4490f0"/><stop offset="0.743" stop-color="#54b8f6"/><stop offset="0.855" stop-color="#78f8f7"/><stop offset="1.000" stop-color="#78f8f7"/></linearGradient><linearGradient id="d15" x2="0" y2="1"><stop offset="0.000" stop-color="#3a22f0"/><stop offset="0.372" stop-color="#3a2cf0"/><stop offset="0.483" stop-color="#3a37f0"/><stop offset="0.539" stop-color="#3d5ef0"/><stop offset="0.613" stop-color="#4698f0"/><stop offset="0.799" stop-color="#76f6f8"/><stop offset="1.000" stop-color="#77f8f3"/></linearGradient><linearGradient id="d16" x2="0" y2="1"><stop offset="0.000" stop-color="#3b20ef"/><stop offset="0.186" stop-color="#3a28f0"/><stop offset="0.483" stop-color="#3c52f0"/><stop offset="0.539" stop-color="#4286f0"/><stop offset="0.743" stop-color="#72f2f8"/><stop offset="1.000" stop-color="#77f7f8"/></linearGradient><linearGradient id="d17" x2="0" y2="1"><stop offset="0.000" stop-color="#3b21ee"/><stop offset="0.093" stop-color="#3a28f0"/><stop offset="0.279" stop-color="#3e6df0"/><stop offset="0.483" stop-color="#4287f0"/><stop offset="0.687" stop-color="#73f3f8"/><stop offset="0.910" stop-color="#77f7f8"/><stop offset="0.966" stop-color="#74f8d5"/><stop offset="1.000" stop-color="#74f8d5"/></linearGradient><linearGradient id="d18" x2="0" y2="1"><stop offset="0.000" stop-color="#3a2ef0"/><stop offset="0.093" stop-color="#3c56f0"/><stop offset="0.186" stop-color="#4aa4f1"/><stop offset="0.483" stop-color="#52b4f5"/><stop offset="0.613" stop-color="#73f3f8"/><stop offset="0.855" stop-color="#77f8f2"/><stop offset="0.910" stop-color="#75f8e3"/><stop offset="0.966" stop-color="#67f897"/><stop offset="1.000" stop-color="#67f897"/></linearGradient><linearGradient id="d19" x2="0" y2="1"><stop offset="0.000" stop-color="#3d5ef0"/><stop offset="0.093" stop-color="#4ba6f2"/><stop offset="0.186" stop-color="#5bc6f8"/><stop offset="0.483" stop-color="#63d6f8"/><stop offset="0.557" stop-color="#72f2f8"/><stop offset="0.855" stop-color="#77f8ef"/><stop offset="0.966" stop-color="#58f467"/><stop offset="1.000" stop-color="#58f467"/></linearGradient><linearGradient id="d20" x2="0" y2="1"><stop offset="0.000" stop-color="#4aa5f1"/><stop offset="0.186" stop-color="#6ae5f8"/><stop offset="0.799" stop-color="#77f8f1"/><stop offset="0.910" stop-color="#67f89a"/><stop offset="0.966" stop-color="#4bf539"/><stop offset="1.000" stop-color="#4bf539"/></linearGradient><linearGradient id="d21" x2="0" y2="1"><stop offset="0.000" stop-color="#5ac4f8"/><stop offset="0.093" stop-color="#6ae4f8"/><stop offset="0.186" stop-color="#75f5f8"/><stop offset="0.743" stop-color="#77f8f2"/><stop offset="0.799" stop-color="#74f8d5"/><stop offset="0.855" stop-color="#6cf8a8"/><stop offset="0.910" stop-color="#5af56e"/><stop offset="0.966" stop-color="#50f820"/><stop offset="1.000" stop-color="#50f820"/></linearGradient><linearGradient id="d22" x2="0" y2="1"><stop offset="0.000" stop-color="#6ae4f8"/><stop offset="0.093" stop-color="#75f5f8"/><stop offset="0.186" stop-color="#77f8ee"/><stop offset="0.372" stop-color="#78f8f8"/><stop offset="0.539" stop-color="#76f8e4"/><stop offset="0.743" stop-color="#75f8e2"/><stop offset="0.799" stop-color="#6df8af"/><stop offset="0.855" stop-color="#69f8a1"/><stop offset="0.910" stop-color="#4ef245"/><stop offset="0.966" stop-color="#54f820"/><stop offset="1.000" stop-color="#54f820"/></linearGradient><linearGradient id="d23" x2="0" y2="1"><stop offset="0.000" stop-color="#75f5f8"/><stop offset="0.186" stop-color="#76f8e7"/><stop offset="0.372" stop-color="#76f8e7"/><stop offset="0.483" stop-color="#72f8cb"/><stop offset="0.743" stop-color="#71f8c3"/><stop offset="0.799" stop-color="#6df8ae"/><stop offset="0.855" stop-color="#5cf674"/><stop offset="0.910" stop-color="#48f825"/><stop offset="1.000" stop-color="#57f820"/></linearGradient><linearGradient id="d24" x2="0" y2="1"><stop offset="0.000" stop-color="#78f8f8"/><stop offset="0.279" stop-color="#76f8ea"/><stop offset="0.372" stop-color="#75f8dd"/><stop offset="0.483" stop-color="#70f8bb"/><stop offset="0.743" stop-color="#71f8bd"/><stop offset="0.799" stop-color="#6ff8b3"/><stop offset="0.855" stop-color="#4ff14c"/><stop offset="0.910" stop-color="#48f820"/><stop offset="1.000" stop-color="#51f820"/></linearGradient><linearGradient id="d25" x2="0" y2="1"><stop offset="0.000" stop-color="#76f8ec"/><stop offset="0.279" stop-color="#74f8d6"/><stop offset="0.483" stop-color="#6cf8aa"/><stop offset="0.743" stop-color="#70f8b8"/><stop offset="0.855" stop-color="#4df33f"/><stop offset="0.910" stop-color="#4ff820"/><stop offset="1.000" stop-color="#5af820"/></linearGradient><linearGradient id="d26" x2="0" y2="1"><stop offset="0.000" stop-color="#76f8e7"/><stop offset="0.279" stop-color="#72f8c9"/><stop offset="0.372" stop-color="#6ef8b2"/><stop offset="0.587" stop-color="#6ef8b2"/><stop offset="0.743" stop-color="#70f8bb"/><stop offset="0.799" stop-color="#4ff14d"/><stop offset="0.855" stop-color="#48f820"/><stop offset="1.000" stop-color="#5bf820"/></linearGradient><linearGradient id="d27" x2="0" y2="1"><stop offset="0.000" stop-color="#76f8e5"/><stop offset="0.372" stop-color="#70f8b6"/><stop offset="0.650" stop-color="#70f8bb"/><stop offset="0.687" stop-color="#71f8be"/><stop offset="0.799" stop-color="#4ef247"/><stop offset="0.855" stop-color="#48f821"/><stop offset="1.000" stop-color="#59f820"/></linearGradient><linearGradient id="d28" x2="0" y2="1"><stop offset="0.000" stop-color="#75f8dd"/><stop offset="0.372" stop-color="#6ff8b5"/><stop offset="0.650" stop-color="#70f8bb"/><stop offset="0.687" stop-color="#71f8be"/><stop offset="0.743" stop-color="#50f051"/><stop offset="0.855" stop-color="#48f820"/><stop offset="1.000" stop-color="#5df820"/></linearGradient><linearGradient id="d29" x2="0" y2="1"><stop offset="0.000" stop-color="#73f8d0"/><stop offset="0.279" stop-color="#6ff8b4"/><stop offset="0.587" stop-color="#6ff8b3"/><stop offset="0.687" stop-color="#70f8b9"/><stop offset="0.743" stop-color="#4ef248"/><stop offset="0.799" stop-color="#48f820"/><stop offset="1.000" stop-color="#66f820"/></linearGradient><linearGradient id="d30" x2="0" y2="1"><stop offset="0.000" stop-color="#72f8c9"/><stop offset="0.372" stop-color="#6ef8b0"/><stop offset="0.650" stop-color="#70f8b7"/><stop offset="0.743" stop-color="#4df341"/><stop offset="0.799" stop-color="#48f820"/><stop offset="1.000" stop-color="#69f820"/></linearGradient><linearGradient id="d31" x2="0" y2="1"><stop offset="0.000" stop-color="#70f8b8"/><stop offset="0.483" stop-color="#6bf8a7"/><stop offset="0.613" stop-color="#6df8ae"/><stop offset="0.650" stop-color="#6bf8a8"/><stop offset="0.687" stop-color="#52f157"/><stop offset="0.743" stop-color="#48f827"/><stop offset="0.966" stop-color="#76f820"/><stop offset="1.000" stop-color="#76f820"/></linearGradient><linearGradient id="d32" x2="0" y2="1"><stop offset="0.000" stop-color="#6df8ae"/><stop offset="0.483" stop-color="#6af8a2"/><stop offset="0.613" stop-color="#6cf8a9"/><stop offset="0.687" stop-color="#4ff14c"/><stop offset="0.743" stop-color="#53f820"/><stop offset="1.000" stop-color="#7ff820"/></linearGradient><linearGradient id="d33" x2="0" y2="1"><stop offset="0.000" stop-color="#6ff8b3"/><stop offset="0.372" stop-color="#6cf8aa"/><stop offset="0.587" stop-color="#6ef8b0"/><stop offset="0.613" stop-color="#6bf8a5"/><stop offset="0.650" stop-color="#58f468"/><stop offset="0.743" stop-color="#4df820"/><stop offset="1.000" stop-color="#79f820"/></linearGradient><linearGradient id="d34" x2="0" y2="1"><stop offset="0.000" stop-color="#6bf8a7"/><stop offset="0.279" stop-color="#69f89f"/><stop offset="0.587" stop-color="#6af8a2"/><stop offset="0.650" stop-color="#51f154"/><stop offset="0.687" stop-color="#4df342"/><stop offset="0.743" stop-color="#5af820"/><stop offset="1.000" stop-color="#88f823"/></linearGradient><linearGradient id="d35" x2="0" y2="1"><stop offset="0.000" stop-color="#6af8a2"/><stop offset="0.279" stop-color="#68f89c"/><stop offset="0.557" stop-color="#6bf8a6"/><stop offset="0.650" stop-color="#4ff14d"/><stop offset="0.687" stop-color="#49f72d"/><stop offset="0.743" stop-color="#5ff820"/><stop offset="0.966" stop-color="#8ef825"/><stop offset="1.000" stop-color="#8ef825"/></linearGradient><linearGradient id="d36" x2="0" y2="1"><stop offset="0.000" stop-color="#69f89e"/><stop offset="0.279" stop-color="#68f89b"/><stop offset="0.539" stop-color="#6af8a4"/><stop offset="0.613" stop-color="#55f25e"/><stop offset="0.650" stop-color="#4ff149"/><stop offset="0.687" stop-color="#48f821"/><stop offset="0.743" stop-color="#62f820"/><stop offset="0.966" stop-color="#92f826"/><stop offset="1.000" stop-color="#92f826"/></linearGradient><linearGradient id="d37" x2="0" y2="1"><stop offset="0.000" stop-color="#6af8a4"/><stop offset="0.186" stop-color="#67f899"/><stop offset="0.520" stop-color="#6df8ac"/><stop offset="0.613" stop-color="#55f25f"/><stop offset="0.650" stop-color="#4ef247"/><stop offset="0.687" stop-color="#48f820"/><stop offset="0.966" stop-color="#89f823"/><stop offset="1.000" stop-color="#89f823"/></linearGradient><linearGradient id="d38" x2="0" y2="1"><stop offset="0.000" stop-color="#6af8a3"/><stop offset="0.186" stop-color="#65f890"/><stop offset="0.483" stop-color="#6df8af"/><stop offset="0.539" stop-color="#66f895"/><stop offset="0.613" stop-color="#53f259"/><stop offset="0.650" stop-color="#4af630"/><stop offset="0.687" stop-color="#49f820"/><stop offset="0.966" stop-color="#8af823"/><stop offset="1.000" stop-color="#8af823"/></linearGradient><linearGradient id="d39" x2="0" y2="1"><stop offset="0.000" stop-color="#68f89b"/><stop offset="0.186" stop-color="#61f885"/><stop offset="0.483" stop-color="#6cf8aa"/><stop offset="0.539" stop-color="#62f887"/><stop offset="0.613" stop-color="#51f052"/><stop offset="0.650" stop-color="#48f823"/><stop offset="0.966" stop-color="#8ff825"/><stop offset="1.000" stop-color="#8ff825"/></linearGradient><linearGradient id="d40" x2="0" y2="1"><stop offset="0.000" stop-color="#65f890"/><stop offset="0.186" stop-color="#5ef77b"/><stop offset="0.483" stop-color="#6af8a2"/><stop offset="0.613" stop-color="#4ef245"/><stop offset="0.650" stop-color="#48f820"/><stop offset="0.966" stop-color="#93f826"/><stop offset="1.000" stop-color="#93f826"/></linearGradient><linearGradient id="d41" x2="0" y2="1"><stop offset="0.000" stop-color="#61f885"/><stop offset="0.186" stop-color="#5bf671"/><stop offset="0.483" stop-color="#67f89a"/><stop offset="0.587" stop-color="#52f156"/><stop offset="0.613" stop-color="#49f72f"/><stop offset="0.650" stop-color="#48f820"/><stop offset="0.799" stop-color="#72f820"/><stop offset="0.966" stop-color="#98f828"/><stop offset="1.000" stop-color="#98f828"/></linearGradient><linearGradient id="d42" x2="0" y2="1"><stop offset="0.000" stop-color="#5cf675"/><stop offset="0.186" stop-color="#55f35f"/><stop offset="0.483" stop-color="#63f88b"/><stop offset="0.557" stop-color="#54f25d"/><stop offset="0.613" stop-color="#48f823"/><stop offset="0.799" stop-color="#7ef820"/><stop offset="0.966" stop-color="#a7f82d"/><stop offset="1.000" stop-color="#a7f82d"/></linearGradient><linearGradient id="d43" x2="0" y2="1"><stop offset="0.000" stop-color="#58f467"/><stop offset="0.186" stop-color="#50f04e"/><stop offset="0.483" stop-color="#5ff87e"/><stop offset="0.557" stop-color="#51f153"/><stop offset="0.587" stop-color="#49f72b"/><stop offset="0.613" stop-color="#51f820"/><stop offset="0.855" stop-color="#96f827"/><stop offset="0.966" stop-color="#b2f831"/><stop offset="1.000" stop-color="#b2f831"/></linearGradient><linearGradient id="d44" x2="0" y2="1"><stop offset="0.000" stop-color="#54f25c"/><stop offset="0.186" stop-color="#4ef247"/><stop offset="0.483" stop-color="#5ef779"/><stop offset="0.539" stop-color="#53f25a"/><stop offset="0.587" stop-color="#48f823"/><stop offset="0.799" stop-color="#8cf824"/><stop offset="0.966" stop-color="#b5f832"/><stop offset="1.000" stop-color="#b5f832"/></linearGradient><linearGradient id="d45" x2="0" y2="1"><stop offset="0.000" stop-color="#51f053"/><stop offset="0.186" stop-color="#4df341"/><stop offset="0.483" stop-color="#5ef779"/><stop offset="0.520" stop-color="#57f365"/><stop offset="0.557" stop-color="#4bf536"/><stop offset="0.587" stop-color="#49f820"/><stop offset="0.855" stop-color="#96f827"/><stop offset="0.966" stop-color="#b2f831"/><stop offset="1.000" stop-color="#b2f831"/></linearGradient><linearGradient id="d46" x2="0" y2="1"><stop offset="0.000" stop-color="#4ef248"/><stop offset="0.186" stop-color="#4bf538"/><stop offset="0.483" stop-color="#5bf672"/><stop offset="0.520" stop-color="#54f25b"/><stop offset="0.557" stop-color="#48f826"/><stop offset="0.799" stop-color="#91f826"/><stop offset="0.966" stop-color="#b9f834"/><stop offset="1.000" stop-color="#b9f834"/></linearGradient><linearGradient id="d47" x2="0" y2="1"><stop offset="0.000" stop-color="#4df33f"/><stop offset="0.186" stop-color="#49f72f"/><stop offset="0.483" stop-color="#59f46b"/><stop offset="0.539" stop-color="#48f82a"/><stop offset="0.557" stop-color="#48f820"/><stop offset="0.799" stop-color="#99f828"/><stop offset="0.966" stop-color="#c0f838"/><stop offset="1.000" stop-color="#c0f838"/></linearGradient><linearGradient id="d48" x2="0" y2="1"><stop offset="0.000" stop-color="#4cf43d"/><stop offset="0.186" stop-color="#49f72d"/><stop offset="0.372" stop-color="#50f04e"/><stop offset="0.483" stop-color="#5bf570"/><stop offset="0.539" stop-color="#48f825"/><stop offset="0.613" stop-color="#53f820"/><stop offset="0.855" stop-color="#9bf829"/><stop offset="0.966" stop-color="#b6f833"/><stop offset="1.000" stop-color="#b6f833"/></linearGradient><linearGradient id="d49" x2="0" y2="1"><stop offset="0.000" stop-color="#4af630"/><stop offset="0.186" stop-color="#48f826"/><stop offset="0.372" stop-color="#4cf43d"/><stop offset="0.483" stop-color="#52f157"/><stop offset="0.520" stop-color="#48f827"/><stop offset="0.650" stop-color="#6ef820"/><stop offset="0.799" stop-color="#9ff82a"/><stop offset="0.966" stop-color="#c5f83b"/><stop offset="1.000" stop-color="#c5f83b"/></linearGradient><linearGradient id="d50" x2="0" y2="1"><stop offset="0.000" stop-color="#48f827"/><stop offset="0.279" stop-color="#48f826"/><stop offset="0.483" stop-color="#4df342"/><stop offset="0.520" stop-color="#48f821"/><stop offset="0.743" stop-color="#9bf829"/><stop offset="0.966" stop-color="#cef83f"/><stop offset="1.000" stop-color="#cef83f"/></linearGradient><linearGradient id="d51" x2="0" y2="1"><stop offset="0.000" stop-color="#48f825"/><stop offset="0.372" stop-color="#48f826"/><stop offset="0.483" stop-color="#4af633"/><stop offset="0.520" stop-color="#4ff820"/><stop offset="0.743" stop-color="#9df82a"/><stop offset="0.966" stop-color="#cff840"/><stop offset="1.000" stop-color="#cff840"/></linearGradient><linearGradient id="d52" x2="0" y2="1"><stop offset="0.000" stop-color="#48f823"/><stop offset="0.483" stop-color="#48f827"/><stop offset="0.650" stop-color="#7af820"/><stop offset="0.799" stop-color="#aff830"/><stop offset="1.000" stop-color="#d1f840"/></linearGradient><linearGradient id="d53" x2="0" y2="1"><stop offset="0.000" stop-color="#48f821"/><stop offset="0.520" stop-color="#4df820"/><stop offset="0.743" stop-color="#9ff82a"/><stop offset="0.966" stop-color="#d1f840"/><stop offset="1.000" stop-color="#d1f840"/></linearGradient><linearGradient id="d54" x2="0" y2="1"><stop offset="0.000" stop-color="#48f821"/><stop offset="0.520" stop-color="#4af820"/><stop offset="0.743" stop-color="#9df82a"/><stop offset="0.966" stop-color="#d0f840"/><stop offset="1.000" stop-color="#d0f840"/></linearGradient><linearGradient id="d55" x2="0" y2="1"><stop offset="0.000" stop-color="#4ef820"/><stop offset="0.483" stop-color="#4ef820"/><stop offset="0.687" stop-color="#97f828"/><stop offset="0.743" stop-color="#b0f830"/><stop offset="0.966" stop-color="#d8f840"/><stop offset="1.000" stop-color="#d8f840"/></linearGradient><linearGradient id="d56" x2="0" y2="1"><stop offset="0.000" stop-color="#48f820"/><stop offset="0.483" stop-color="#48f820"/><stop offset="0.687" stop-color="#91f826"/><stop offset="0.799" stop-color="#b7f833"/><stop offset="0.966" stop-color="#d5f840"/><stop offset="1.000" stop-color="#d5f840"/></linearGradient><linearGradient id="d57" x2="0" y2="1"><stop offset="0.000" stop-color="#4ef820"/><stop offset="0.539" stop-color="#4bf820"/><stop offset="0.687" stop-color="#a0f82b"/><stop offset="0.799" stop-color="#d6f840"/><stop offset="0.910" stop-color="#f0f840"/><stop offset="1.000" stop-color="#f0e840"/></linearGradient><linearGradient id="d58" x2="0" y2="1"><stop offset="0.000" stop-color="#51f820"/><stop offset="0.520" stop-color="#48f820"/><stop offset="0.613" stop-color="#81f820"/><stop offset="0.687" stop-color="#b7f833"/><stop offset="0.743" stop-color="#d5f840"/><stop offset="0.799" stop-color="#edf840"/><stop offset="0.966" stop-color="#edae3a"/><stop offset="1.000" stop-color="#edae3a"/></linearGradient><linearGradient id="d59" x2="0" y2="1"><stop offset="0.000" stop-color="#48f820"/><stop offset="0.539" stop-color="#4df820"/><stop offset="0.613" stop-color="#81f820"/><stop offset="0.687" stop-color="#bcf836"/><stop offset="0.799" stop-color="#eff840"/><stop offset="0.966" stop-color="#eeb33c"/><stop offset="1.000" stop-color="#eeb33c"/></linearGradient><linearGradient id="d60" x2="0" y2="1"><stop offset="0.000" stop-color="#48f820"/><stop offset="0.539" stop-color="#4cf820"/><stop offset="0.650" stop-color="#9bf829"/><stop offset="0.743" stop-color="#d6f840"/><stop offset="0.855" stop-color="#f0ed40"/><stop offset="0.966" stop-color="#f0c340"/><stop offset="1.000" stop-color="#f0c340"/></linearGradient><linearGradient id="d61" x2="0" y2="1"><stop offset="0.000" stop-color="#51f820"/><stop offset="0.520" stop-color="#48f820"/><stop offset="0.650" stop-color="#8df824"/><stop offset="0.743" stop-color="#c5f83a"/><stop offset="0.910" stop-color="#f0f640"/><stop offset="1.000" stop-color="#f0e740"/></linearGradient><linearGradient id="d62" x2="0" y2="1"><stop offset="0.000" stop-color="#4cf820"/><stop offset="0.557" stop-color="#4af820"/><stop offset="0.687" stop-color="#7ff820"/><stop offset="0.855" stop-color="#d0f840"/><stop offset="1.000" stop-color="#eaf840"/></linearGradient><linearGradient id="d63" x2="0" y2="1"><stop offset="0.000" stop-color="#48f821"/><stop offset="0.557" stop-color="#48f821"/><stop offset="0.743" stop-color="#98f828"/><stop offset="0.855" stop-color="#cbf83d"/><stop offset="1.000" stop-color="#e5f840"/></linearGradient><linearGradient id="d64" x2="0" y2="1"><stop offset="0.000" stop-color="#48f821"/><stop offset="0.539" stop-color="#48f820"/><stop offset="0.650" stop-color="#8ef825"/><stop offset="0.743" stop-color="#cff83f"/><stop offset="1.000" stop-color="#e4f840"/></linearGradient><linearGradient id="d65" x2="0" y2="1"><stop offset="0.000" stop-color="#48f821"/><stop offset="0.539" stop-color="#4cf820"/><stop offset="0.613" stop-color="#86f822"/><stop offset="0.687" stop-color="#c6f83b"/><stop offset="0.743" stop-color="#e1f840"/><stop offset="1.000" stop-color="#e5f840"/></linearGradient><linearGradient id="d66" x2="0" y2="1"><stop offset="0.000" stop-color="#50f820"/><stop offset="0.483" stop-color="#48f823"/><stop offset="0.520" stop-color="#4ff820"/><stop offset="0.613" stop-color="#a1f82b"/><stop offset="0.687" stop-color="#d9f840"/><stop offset="0.743" stop-color="#f0f840"/><stop offset="1.000" stop-color="#ecf840"/></linearGradient><linearGradient id="d67" x2="0" y2="1"><stop offset="0.000" stop-color="#74f820"/><stop offset="0.279" stop-color="#6bf820"/><stop offset="0.483" stop-color="#57f820"/><stop offset="0.557" stop-color="#8ef825"/><stop offset="0.650" stop-color="#d2f840"/><stop offset="0.743" stop-color="#f0f540"/><stop offset="1.000" stop-color="#ebf840"/></linearGradient><linearGradient id="d68" x2="0" y2="1"><stop offset="0.000" stop-color="#bcf836"/><stop offset="0.279" stop-color="#b5f833"/><stop offset="0.483" stop-color="#a4f82c"/><stop offset="0.613" stop-color="#d4f840"/><stop offset="0.743" stop-color="#edf840"/><stop offset="1.000" stop-color="#e5f840"/></linearGradient><linearGradient id="d69" x2="0" y2="1"><stop offset="0.000" stop-color="#f0f440"/><stop offset="0.743" stop-color="#f0f440"/><stop offset="1.000" stop-color="#f0cf40"/></linearGradient><linearGradient id="d70" x2="0" y2="1"><stop offset="0.000" stop-color="#def840"/><stop offset="0.372" stop-color="#d3f840"/><stop offset="0.483" stop-color="#c9f83d"/><stop offset="0.743" stop-color="#edf840"/><stop offset="0.966" stop-color="#efba3e"/><stop offset="1.000" stop-color="#efba3e"/></linearGradient><linearGradient id="d71" x2="0" y2="1"><stop offset="0.000" stop-color="#b9f835"/><stop offset="0.279" stop-color="#b1f830"/><stop offset="0.483" stop-color="#99f828"/><stop offset="0.687" stop-color="#d2f840"/><stop offset="0.910" stop-color="#f0f840"/><stop offset="1.000" stop-color="#f0ef40"/></linearGradient><linearGradient id="d72" x2="0" y2="1"><stop offset="0.000" stop-color="#8bf824"/><stop offset="0.483" stop-color="#84f821"/><stop offset="0.743" stop-color="#cdf83f"/><stop offset="1.000" stop-color="#dff840"/></linearGradient><linearGradient id="d73" x2="0" y2="1"><stop offset="0.000" stop-color="#75f820"/><stop offset="0.483" stop-color="#81f820"/><stop offset="0.743" stop-color="#d0f840"/><stop offset="1.000" stop-color="#e0f840"/></linearGradient><linearGradient id="d74" x2="0" y2="1"><stop offset="0.000" stop-color="#61f820"/><stop offset="0.279" stop-color="#68f820"/><stop offset="0.483" stop-color="#79f820"/><stop offset="0.743" stop-color="#c9f83c"/><stop offset="1.000" stop-color="#dcf840"/></linearGradient><linearGradient id="d75" x2="0" y2="1"><stop offset="0.000" stop-color="#5ff820"/><stop offset="0.279" stop-color="#66f820"/><stop offset="0.520" stop-color="#81f820"/><stop offset="0.743" stop-color="#c7f83b"/><stop offset="1.000" stop-color="#dbf840"/></linearGradient><linearGradient id="d76" x2="0" y2="1"><stop offset="0.000" stop-color="#71f820"/><stop offset="0.279" stop-color="#79f820"/><stop offset="0.483" stop-color="#8bf824"/><stop offset="0.743" stop-color="#d5f840"/><stop offset="1.000" stop-color="#e5f840"/></linearGradient><linearGradient id="d77" x2="0" y2="1"><stop offset="0.000" stop-color="#6bf820"/><stop offset="0.279" stop-color="#72f820"/><stop offset="0.483" stop-color="#83f821"/><stop offset="0.743" stop-color="#d1f840"/><stop offset="1.000" stop-color="#e1f840"/></linearGradient><linearGradient id="d78" x2="0" y2="1"><stop offset="0.000" stop-color="#69f820"/><stop offset="0.279" stop-color="#70f820"/><stop offset="0.483" stop-color="#81f820"/><stop offset="0.743" stop-color="#d0f840"/><stop offset="1.000" stop-color="#e0f840"/></linearGradient><linearGradient id="d79" x2="0" y2="1"><stop offset="0.000" stop-color="#70f820"/><stop offset="0.279" stop-color="#78f820"/><stop offset="0.483" stop-color="#8af823"/><stop offset="0.743" stop-color="#d4f840"/><stop offset="1.000" stop-color="#e4f840"/></linearGradient><linearGradient id="d80" x2="0" y2="1"><stop offset="0.000" stop-color="#67f820"/><stop offset="0.279" stop-color="#6ef820"/><stop offset="0.483" stop-color="#7ff820"/><stop offset="0.743" stop-color="#cff83f"/><stop offset="1.000" stop-color="#eaf840"/></linearGradient><linearGradient id="d81" x2="0" y2="1"><stop offset="0.000" stop-color="#6ff820"/><stop offset="0.279" stop-color="#77f820"/><stop offset="0.483" stop-color="#89f823"/><stop offset="0.687" stop-color="#d2f840"/><stop offset="0.855" stop-color="#f0f840"/><stop offset="1.000" stop-color="#f0e140"/></linearGradient><linearGradient id="d82" x2="0" y2="1"><stop offset="0.000" stop-color="#6ef820"/><stop offset="0.279" stop-color="#76f820"/><stop offset="0.483" stop-color="#88f823"/><stop offset="0.613" stop-color="#caf83d"/><stop offset="0.743" stop-color="#ebf840"/><stop offset="0.966" stop-color="#f0c940"/><stop offset="1.000" stop-color="#f0c940"/></linearGradient><linearGradient id="d83" x2="0" y2="1"><stop offset="0.000" stop-color="#62f820"/><stop offset="0.279" stop-color="#6af820"/><stop offset="0.483" stop-color="#7af820"/><stop offset="0.650" stop-color="#d0f840"/><stop offset="0.799" stop-color="#f0f840"/><stop offset="1.000" stop-color="#f0d440"/></linearGradient><linearGradient id="d84" x2="0" y2="1"><stop offset="0.000" stop-color="#63f820"/><stop offset="0.186" stop-color="#63f820"/><stop offset="0.483" stop-color="#81f820"/><stop offset="0.687" stop-color="#caf83d"/><stop offset="0.966" stop-color="#f0f440"/><stop offset="1.000" stop-color="#f0f440"/></linearGradient><linearGradient id="d85" x2="0" y2="1"><stop offset="0.000" stop-color="#64f820"/><stop offset="0.186" stop-color="#64f820"/><stop offset="0.557" stop-color="#a3f82c"/><stop offset="0.799" stop-color="#d4f840"/><stop offset="1.000" stop-color="#e6f840"/></linearGradient><linearGradient id="d86" x2="0" y2="1"><stop offset="0.000" stop-color="#63f820"/><stop offset="0.186" stop-color="#63f820"/><stop offset="0.587" stop-color="#aef82f"/><stop offset="0.855" stop-color="#daf840"/><stop offset="1.000" stop-color="#e6f840"/></linearGradient><linearGradient id="d87" x2="0" y2="1"><stop offset="0.000" stop-color="#70f820"/><stop offset="0.186" stop-color="#70f820"/><stop offset="0.650" stop-color="#c1f839"/><stop offset="1.000" stop-color="#e9f840"/></linearGradient><linearGradient id="d88" x2="0" y2="1"><stop offset="0.000" stop-color="#75f820"/><stop offset="0.186" stop-color="#75f820"/><stop offset="0.557" stop-color="#aaf82e"/><stop offset="0.855" stop-color="#daf840"/><stop offset="1.000" stop-color="#e6f840"/></linearGradient><linearGradient id="d89" x2="0" y2="1"><stop offset="0.000" stop-color="#7ef820"/><stop offset="0.186" stop-color="#7ef820"/><stop offset="0.557" stop-color="#aef82f"/><stop offset="0.855" stop-color="#dbf840"/><stop offset="1.000" stop-color="#e7f840"/></linearGradient><linearGradient id="d90" x2="0" y2="1"><stop offset="0.000" stop-color="#79f820"/><stop offset="0.279" stop-color="#82f821"/><stop offset="0.557" stop-color="#a8f82d"/><stop offset="0.855" stop-color="#d8f840"/><stop offset="1.000" stop-color="#e4f840"/></linearGradient><linearGradient id="d91" x2="0" y2="1"><stop offset="0.000" stop-color="#89f823"/><stop offset="0.186" stop-color="#89f823"/><stop offset="0.855" stop-color="#dff840"/><stop offset="1.000" stop-color="#ecf840"/></linearGradient><linearGradient id="d92" x2="0" y2="1"><stop offset="0.000" stop-color="#7df820"/><stop offset="0.186" stop-color="#7df820"/><stop offset="0.910" stop-color="#e0f840"/><stop offset="1.000" stop-color="#e7f840"/></linearGradient><linearGradient id="d93" x2="0" y2="1"><stop offset="0.000" stop-color="#7ff820"/><stop offset="0.186" stop-color="#7ff820"/><stop offset="0.743" stop-color="#c2f839"/><stop offset="0.966" stop-color="#e8f840"/><stop offset="1.000" stop-color="#e8f840"/></linearGradient><linearGradient id="d94" x2="0" y2="1"><stop offset="0.000" stop-color="#82f821"/><stop offset="0.186" stop-color="#82f821"/><stop offset="0.743" stop-color="#bef837"/><stop offset="0.910" stop-color="#e0f840"/><stop offset="1.000" stop-color="#e9f840"/></linearGradient><linearGradient id="d95" x2="0" y2="1"><stop offset="0.000" stop-color="#89f823"/><stop offset="0.186" stop-color="#89f823"/><stop offset="0.587" stop-color="#b6f833"/><stop offset="0.743" stop-color="#bef837"/><stop offset="0.966" stop-color="#e4f840"/><stop offset="1.000" stop-color="#e4f840"/></linearGradient><linearGradient id="d96" x2="0" y2="1"><stop offset="0.000" stop-color="#7ef820"/><stop offset="0.186" stop-color="#7ef820"/><stop offset="0.557" stop-color="#a9f82e"/><stop offset="0.799" stop-color="#b6f833"/><stop offset="1.000" stop-color="#cef83f"/></linearGradient><linearGradient id="d97" x2="0" y2="1"><stop offset="0.000" stop-color="#8af823"/><stop offset="0.186" stop-color="#8af823"/><stop offset="0.520" stop-color="#b2f831"/><stop offset="0.799" stop-color="#b7f834"/><stop offset="1.000" stop-color="#c9f83d"/></linearGradient><linearGradient id="d98" x2="0" y2="1"><stop offset="0.000" stop-color="#80f820"/><stop offset="0.186" stop-color="#80f820"/><stop offset="0.483" stop-color="#abf82e"/><stop offset="0.743" stop-color="#a1f82b"/><stop offset="1.000" stop-color="#c3f83a"/></linearGradient><linearGradient id="d99" x2="0" y2="1"><stop offset="0.000" stop-color="#81f820"/><stop offset="0.186" stop-color="#81f820"/><stop offset="0.520" stop-color="#acf82f"/><stop offset="0.743" stop-color="#a7f82d"/><stop offset="1.000" stop-color="#c6f83b"/></linearGradient><linearGradient id="d100" x2="0" y2="1"><stop offset="0.000" stop-color="#81f820"/><stop offset="0.186" stop-color="#81f820"/><stop offset="0.557" stop-color="#b1f830"/><stop offset="1.000" stop-color="#c8f83c"/></linearGradient><linearGradient id="d101" x2="0" y2="1"><stop offset="0.000" stop-color="#77f820"/><stop offset="0.186" stop-color="#77f820"/><stop offset="0.743" stop-color="#bff837"/><stop offset="1.000" stop-color="#c0f838"/></linearGradient><linearGradient id="d102" x2="0" y2="1"><stop offset="0.000" stop-color="#95f827"/><stop offset="0.279" stop-color="#9df82a"/><stop offset="0.613" stop-color="#c1f839"/><stop offset="0.799" stop-color="#d1f840"/><stop offset="1.000" stop-color="#caf83d"/></linearGradient><linearGradient id="d103" x2="0" y2="1"><stop offset="0.000" stop-color="#baf835"/><stop offset="0.372" stop-color="#b0f830"/><stop offset="0.483" stop-color="#a9f82e"/><stop offset="0.743" stop-color="#d6f840"/><stop offset="1.000" stop-color="#c7f83c"/></linearGradient><linearGradient id="d104" x2="0" y2="1"><stop offset="0.000" stop-color="#d7f840"/><stop offset="0.799" stop-color="#d6f840"/><stop offset="1.000" stop-color="#c6f83b"/></linearGradient><linearGradient id="d105" x2="0" y2="1"><stop offset="0.000" stop-color="#ea9b34"/><stop offset="0.557" stop-color="#e99532"/><stop offset="1.000" stop-color="#ed7b30"/></linearGradient><linearGradient id="d106" x2="0" y2="1"><stop offset="0.000" stop-color="#e99431"/><stop offset="0.539" stop-color="#e88e30"/><stop offset="1.000" stop-color="#f07030"/></linearGradient><linearGradient id="d107" x2="0" y2="1"><stop offset="0.000" stop-color="#f0ce40"/><stop offset="0.613" stop-color="#f0c740"/><stop offset="1.000" stop-color="#efb93e"/></linearGradient><linearGradient id="d108" x2="0" y2="1"><stop offset="0.000" stop-color="#daf840"/><stop offset="1.000" stop-color="#e1f840"/></linearGradient><linearGradient id="d109" x2="0" y2="1"><stop offset="0.000" stop-color="#c1f839"/><stop offset="0.520" stop-color="#c7f83b"/><stop offset="0.799" stop-color="#ddf840"/><stop offset="1.000" stop-color="#ddf840"/></linearGradient><linearGradient id="d110" x2="0" y2="1"><stop offset="0.000" stop-color="#acf82f"/><stop offset="0.483" stop-color="#acf82f"/><stop offset="0.743" stop-color="#d8f840"/><stop offset="1.000" stop-color="#d8f840"/></linearGradient><linearGradient id="d111" x2="0" y2="1"><stop offset="0.000" stop-color="#b0f830"/><stop offset="0.483" stop-color="#b0f830"/><stop offset="0.743" stop-color="#d8f840"/><stop offset="1.000" stop-color="#d8f840"/></linearGradient><linearGradient id="d112" x2="0" y2="1"><stop offset="0.000" stop-color="#b1f831"/><stop offset="0.483" stop-color="#b1f831"/><stop offset="0.743" stop-color="#d9f840"/><stop offset="1.000" stop-color="#d9f840"/></linearGradient><linearGradient id="d113" x2="0" y2="1"><stop offset="0.000" stop-color="#b5f833"/><stop offset="0.483" stop-color="#b5f833"/><stop offset="0.743" stop-color="#dbf840"/><stop offset="1.000" stop-color="#dbf840"/></linearGradient><linearGradient id="d114" x2="0" y2="1"><stop offset="0.000" stop-color="#a7f82d"/><stop offset="0.483" stop-color="#a7f82d"/><stop offset="0.743" stop-color="#d4f840"/><stop offset="1.000" stop-color="#d4f840"/></linearGradient><linearGradient id="d115" x2="0" y2="1"><stop offset="0.000" stop-color="#b1f831"/><stop offset="0.483" stop-color="#b1f831"/><stop offset="0.743" stop-color="#d9f840"/><stop offset="1.000" stop-color="#d9f840"/></linearGradient><linearGradient id="d116" x2="0" y2="1"><stop offset="0.000" stop-color="#aaf82e"/><stop offset="0.483" stop-color="#aaf82e"/><stop offset="0.743" stop-color="#d6f840"/><stop offset="1.000" stop-color="#d6f840"/></linearGradient><linearGradient id="d117" x2="0" y2="1"><stop offset="0.000" stop-color="#abf82e"/><stop offset="0.483" stop-color="#abf82e"/><stop offset="0.743" stop-color="#d6f840"/><stop offset="1.000" stop-color="#d6f840"/></linearGradient><linearGradient id="d118" x2="0" y2="1"><stop offset="0.000" stop-color="#b5f833"/><stop offset="0.483" stop-color="#b5f833"/><stop offset="0.743" stop-color="#dbf840"/><stop offset="1.000" stop-color="#dbf840"/></linearGradient><linearGradient id="d119" x2="0" y2="1"><stop offset="0.000" stop-color="#b0f830"/><stop offset="0.483" stop-color="#b0f830"/><stop offset="0.743" stop-color="#dcf840"/><stop offset="1.000" stop-color="#dcf840"/></linearGradient><linearGradient id="d120" x2="0" y2="1"><stop offset="0.000" stop-color="#b1f831"/><stop offset="0.483" stop-color="#b1f831"/><stop offset="0.650" stop-color="#d8f840"/><stop offset="0.799" stop-color="#e5f840"/><stop offset="1.000" stop-color="#e5f840"/></linearGradient><linearGradient id="d121" x2="0" y2="1"><stop offset="0.000" stop-color="#d2f840"/><stop offset="0.539" stop-color="#d8f840"/><stop offset="0.799" stop-color="#eef840"/><stop offset="1.000" stop-color="#eef840"/></linearGradient><linearGradient id="d122" x2="0" y2="1"><stop offset="0.000" stop-color="#f0e140"/><stop offset="0.520" stop-color="#f0dc40"/><stop offset="0.855" stop-color="#efbb3e"/><stop offset="1.000" stop-color="#eeb63d"/></linearGradient><linearGradient id="d123" x2="0" y2="1"><stop offset="0.000" stop-color="#edae3a"/><stop offset="0.520" stop-color="#ecaa39"/><stop offset="0.966" stop-color="#ed7d30"/><stop offset="1.000" stop-color="#ed7d30"/></linearGradient><linearGradient id="d124" x2="0" y2="1"><stop offset="0.000" stop-color="#ea8930"/><stop offset="0.539" stop-color="#eb8330"/><stop offset="0.910" stop-color="#f0692d"/><stop offset="1.000" stop-color="#f0672c"/></linearGradient><linearGradient id="d125" x2="0" y2="1"><stop offset="0.000" stop-color="#edae3a"/><stop offset="0.520" stop-color="#eca938"/><stop offset="0.966" stop-color="#ed7d30"/><stop offset="1.000" stop-color="#ed7d30"/></linearGradient><linearGradient id="d126" x2="0" y2="1"><stop offset="0.000" stop-color="#f0f340"/><stop offset="0.520" stop-color="#f0ef40"/><stop offset="0.910" stop-color="#f0c840"/><stop offset="1.000" stop-color="#f0c540"/></linearGradient><linearGradient id="d127" x2="0" y2="1"><stop offset="0.000" stop-color="#b8f834"/><stop offset="0.520" stop-color="#c1f839"/><stop offset="0.743" stop-color="#daf840"/><stop offset="1.000" stop-color="#d9f840"/></linearGradient><linearGradient id="d128" x2="0" y2="1"><stop offset="0.000" stop-color="#97f828"/><stop offset="0.483" stop-color="#a5f82c"/><stop offset="0.743" stop-color="#d8f840"/><stop offset="1.000" stop-color="#d5f840"/></linearGradient><linearGradient id="d129" x2="0" y2="1"><stop offset="0.000" stop-color="#8af823"/><stop offset="0.372" stop-color="#96f827"/><stop offset="0.483" stop-color="#9ef82a"/><stop offset="0.687" stop-color="#d1f840"/><stop offset="0.910" stop-color="#d5f840"/><stop offset="1.000" stop-color="#d3f840"/></linearGradient><linearGradient id="d130" x2="0" y2="1"><stop offset="0.000" stop-color="#89f823"/><stop offset="0.372" stop-color="#95f827"/><stop offset="0.483" stop-color="#9cf829"/><stop offset="0.687" stop-color="#d1f840"/><stop offset="0.855" stop-color="#d4f840"/><stop offset="1.000" stop-color="#d1f840"/></linearGradient><linearGradient id="d131" x2="0" y2="1"><stop offset="0.000" stop-color="#94f827"/><stop offset="0.372" stop-color="#a0f82b"/><stop offset="0.483" stop-color="#a7f82d"/><stop offset="0.687" stop-color="#d5f840"/><stop offset="0.799" stop-color="#d8f840"/><stop offset="1.000" stop-color="#c8f83c"/></linearGradient><linearGradient id="d132" x2="0" y2="1"><stop offset="0.000" stop-color="#8ef825"/><stop offset="0.372" stop-color="#9af829"/><stop offset="0.483" stop-color="#a1f82b"/><stop offset="0.687" stop-color="#d3f840"/><stop offset="0.743" stop-color="#daf840"/><stop offset="1.000" stop-color="#b4f832"/></linearGradient><linearGradient id="d133" x2="0" y2="1"><stop offset="0.000" stop-color="#92f826"/><stop offset="0.372" stop-color="#9ef82a"/><stop offset="0.483" stop-color="#a5f82c"/><stop offset="0.687" stop-color="#d5f840"/><stop offset="0.743" stop-color="#dcf840"/><stop offset="1.000" stop-color="#b7f834"/></linearGradient><linearGradient id="d134" x2="0" y2="1"><stop offset="0.000" stop-color="#94f827"/><stop offset="0.372" stop-color="#a0f82b"/><stop offset="0.743" stop-color="#c8f83c"/><stop offset="1.000" stop-color="#b8f834"/></linearGradient><linearGradient id="d135" x2="0" y2="1"><stop offset="0.000" stop-color="#84f821"/><stop offset="0.372" stop-color="#90f825"/><stop offset="0.799" stop-color="#9cf829"/><stop offset="1.000" stop-color="#aaf82e"/></linearGradient><linearGradient id="d136" x2="0" y2="1"><stop offset="0.000" stop-color="#8bf824"/><stop offset="0.372" stop-color="#97f828"/><stop offset="0.799" stop-color="#a3f82c"/><stop offset="1.000" stop-color="#b1f831"/></linearGradient><linearGradient id="d137" x2="0" y2="1"><stop offset="0.000" stop-color="#94f827"/><stop offset="0.372" stop-color="#a0f82b"/><stop offset="0.799" stop-color="#acf82f"/><stop offset="1.000" stop-color="#b9f834"/></linearGradient><linearGradient id="d138" x2="0" y2="1"><stop offset="0.000" stop-color="#91f826"/><stop offset="0.372" stop-color="#9df82a"/><stop offset="0.855" stop-color="#aef82f"/><stop offset="1.000" stop-color="#b7f833"/></linearGradient><linearGradient id="d139" x2="0" y2="1"><stop offset="0.000" stop-color="#81f820"/><stop offset="0.372" stop-color="#8df824"/><stop offset="0.743" stop-color="#94f827"/><stop offset="1.000" stop-color="#b1f831"/></linearGradient><linearGradient id="d140" x2="0" y2="1"><stop offset="0.000" stop-color="#81f820"/><stop offset="0.372" stop-color="#8df824"/><stop offset="0.743" stop-color="#94f827"/><stop offset="1.000" stop-color="#c1f838"/></linearGradient><linearGradient id="d141" x2="0" y2="1"><stop offset="0.000" stop-color="#92f826"/><stop offset="0.650" stop-color="#9df82a"/><stop offset="0.743" stop-color="#9bf829"/><stop offset="0.966" stop-color="#cff83f"/><stop offset="1.000" stop-color="#cff83f"/></linearGradient><linearGradient id="d142" x2="0" y2="1"><stop offset="0.000" stop-color="#9df82a"/><stop offset="0.587" stop-color="#9cf829"/><stop offset="0.743" stop-color="#93f826"/><stop offset="0.966" stop-color="#c8f83c"/><stop offset="1.000" stop-color="#c8f83c"/></linearGradient><linearGradient id="d143" x2="0" y2="1"><stop offset="0.000" stop-color="#aaf82e"/><stop offset="0.687" stop-color="#a2f82b"/><stop offset="0.743" stop-color="#a0f82b"/><stop offset="1.000" stop-color="#cbf83e"/></linearGradient><linearGradient id="d144" x2="0" y2="1"><stop offset="0.000" stop-color="#a6f82d"/><stop offset="0.687" stop-color="#aef82f"/><stop offset="1.000" stop-color="#c8f83c"/></linearGradient><linearGradient id="d145" x2="0" y2="1"><stop offset="0.000" stop-color="#b3f832"/><stop offset="0.587" stop-color="#baf835"/><stop offset="1.000" stop-color="#d2f840"/></linearGradient><linearGradient id="d146" x2="0" y2="1"><stop offset="0.000" stop-color="#b5f833"/><stop offset="0.587" stop-color="#bcf836"/><stop offset="1.000" stop-color="#d3f840"/></linearGradient><linearGradient id="d147" x2="0" y2="1"><stop offset="0.000" stop-color="#b8f834"/><stop offset="0.587" stop-color="#bef837"/><stop offset="1.000" stop-color="#d4f840"/></linearGradient><linearGradient id="d148" x2="0" y2="1"><stop offset="0.000" stop-color="#a8f82d"/><stop offset="0.557" stop-color="#aef82f"/><stop offset="1.000" stop-color="#c9f83d"/></linearGradient><linearGradient id="d149" x2="0" y2="1"><stop offset="0.000" stop-color="#b4f832"/><stop offset="0.587" stop-color="#bbf835"/><stop offset="1.000" stop-color="#d2f840"/></linearGradient><linearGradient id="d150" x2="0" y2="1"><stop offset="0.000" stop-color="#b3f832"/><stop offset="0.587" stop-color="#b9f835"/><stop offset="1.000" stop-color="#d2f840"/></linearGradient><linearGradient id="d151" x2="0" y2="1"><stop offset="0.000" stop-color="#a8f82d"/><stop offset="0.587" stop-color="#aff830"/><stop offset="1.000" stop-color="#c9f83d"/></linearGradient><linearGradient id="d152" x2="0" y2="1"><stop offset="0.000" stop-color="#b7f834"/><stop offset="0.587" stop-color="#bef837"/><stop offset="1.000" stop-color="#d4f840"/></linearGradient><linearGradient id="cbd" x1="0" y1="1" x2="0" y2="0"><stop offset="0.000" stop-color="#6a3098"/><stop offset="0.090" stop-color="#4a20c0"/><stop offset="0.170" stop-color="#3020e0"/><stop offset="0.225" stop-color="#3040f0"/><stop offset="0.300" stop-color="#40a0f0"/><stop offset="0.375" stop-color="#50e8f0"/><stop offset="0.440" stop-color="#50f0a0"/><stop offset="0.500" stop-color="#40f040"/><stop offset="0.630" stop-color="#40f030"/><stop offset="0.690" stop-color="#c0f030"/><stop offset="0.740" stop-color="#f0f030"/><stop offset="0.855" stop-color="#e89030"/><stop offset="1.000" stop-color="#f05020"/></linearGradient><clipPath id="clipb"><rect x="251.8" y="10.9" width="157.2" height="78.5"/></clipPath><clipPath id="clipc"><rect x="251.8" y="89.4" width="157.2" height="77.7"/></clipPath><clipPath id="clipe"><rect x="251.3" y="200.9" width="157.3" height="156.6"/></clipPath></defs>
<text x="1.00" y="10.80" font-size="13.50" text-anchor="start" fill="#111" stroke="#111" stroke-width="0.12" >a</text>
<text x="228.50" y="10.60" font-size="13.50" text-anchor="start" fill="#111" stroke="#111" stroke-width="0.12" >b</text>
<text x="229.30" y="96.90" font-size="13.50" text-anchor="start" fill="#111" stroke="#111" stroke-width="0.12" >c</text>
<text x="0.80" y="201.60" font-size="13.50" text-anchor="start" fill="#111" stroke="#111" stroke-width="0.12" >d</text>
<text x="228.80" y="202.40" font-size="13.50" text-anchor="start" fill="#111" stroke="#111" stroke-width="0.12" >e</text>
<text x="426.00" y="11.60" font-size="13.50" text-anchor="start" fill="#111" stroke="#111" stroke-width="0.12" >f</text>
<text x="425.40" y="131.40" font-size="13.50" text-anchor="start" fill="#111" stroke="#111" stroke-width="0.12" >g</text>
<text x="426.60" y="248.00" font-size="13.50" text-anchor="start" fill="#111" stroke="#111" stroke-width="0.12" >h</text>
<rect x="42.5" y="11.3" width="0.55" height="150.4" fill="url(#a0)"/>
<rect x="43.0" y="11.3" width="1.05" height="150.4" fill="url(#a1)"/>
<rect x="44.0" y="11.3" width="1.05" height="150.4" fill="url(#a2)"/>
<rect x="45.0" y="11.3" width="1.05" height="150.4" fill="url(#a3)"/>
<rect x="46.0" y="11.3" width="1.05" height="150.4" fill="url(#a4)"/>
<rect x="47.0" y="11.3" width="1.05" height="150.4" fill="url(#a5)"/>
<rect x="48.0" y="11.3" width="1.05" height="150.4" fill="url(#a6)"/>
<rect x="49.0" y="11.3" width="1.05" height="150.4" fill="url(#a7)"/>
<rect x="50.0" y="11.3" width="1.05" height="150.4" fill="url(#a8)"/>
<rect x="51.0" y="11.3" width="1.05" height="150.4" fill="url(#a9)"/>
<rect x="52.0" y="11.3" width="1.05" height="150.4" fill="url(#a10)"/>
<rect x="53.0" y="11.3" width="1.05" height="150.4" fill="url(#a11)"/>
<rect x="54.0" y="11.3" width="1.05" height="150.4" fill="url(#a12)"/>
<rect x="55.0" y="11.3" width="1.05" height="150.4" fill="url(#a13)"/>
<rect x="56.0" y="11.3" width="1.05" height="150.4" fill="url(#a14)"/>
<rect x="57.0" y="11.3" width="1.05" height="150.4" fill="url(#a15)"/>
<rect x="58.0" y="11.3" width="1.05" height="150.4" fill="url(#a16)"/>
<rect x="59.0" y="11.3" width="1.05" height="150.4" fill="url(#a17)"/>
<rect x="60.0" y="11.3" width="1.05" height="150.4" fill="url(#a18)"/>
<rect x="61.0" y="11.3" width="1.05" height="150.4" fill="url(#a19)"/>
<rect x="62.0" y="11.3" width="1.05" height="150.4" fill="url(#a20)"/>
<rect x="63.0" y="11.3" width="1.05" height="150.4" fill="url(#a21)"/>
<rect x="64.0" y="11.3" width="1.05" height="150.4" fill="url(#a22)"/>
<rect x="65.0" y="11.3" width="1.05" height="150.4" fill="url(#a23)"/>
<rect x="66.0" y="11.3" width="1.05" height="150.4" fill="url(#a24)"/>
<rect x="67.0" y="11.3" width="1.05" height="150.4" fill="url(#a25)"/>
<rect x="68.0" y="11.3" width="1.05" height="150.4" fill="url(#a26)"/>
<rect x="69.0" y="11.3" width="1.05" height="150.4" fill="url(#a27)"/>
<rect x="70.0" y="11.3" width="1.05" height="150.4" fill="url(#a28)"/>
<rect x="71.0" y="11.3" width="1.05" height="150.4" fill="url(#a29)"/>
<rect x="72.0" y="11.3" width="1.05" height="150.4" fill="url(#a30)"/>
<rect x="73.0" y="11.3" width="1.05" height="150.4" fill="url(#a31)"/>
<rect x="74.0" y="11.3" width="1.05" height="150.4" fill="url(#a32)"/>
<rect x="75.0" y="11.3" width="1.05" height="150.4" fill="url(#a33)"/>
<rect x="76.0" y="11.3" width="1.05" height="150.4" fill="url(#a34)"/>
<rect x="77.0" y="11.3" width="1.05" height="150.4" fill="url(#a35)"/>
<rect x="78.0" y="11.3" width="1.05" height="150.4" fill="url(#a36)"/>
<rect x="79.0" y="11.3" width="1.05" height="150.4" fill="url(#a37)"/>
<rect x="80.0" y="11.3" width="1.05" height="150.4" fill="url(#a38)"/>
<rect x="81.0" y="11.3" width="1.05" height="150.4" fill="url(#a39)"/>
<rect x="82.0" y="11.3" width="1.05" height="150.4" fill="url(#a40)"/>
<rect x="83.0" y="11.3" width="1.05" height="150.4" fill="url(#a41)"/>
<rect x="84.0" y="11.3" width="1.05" height="150.4" fill="url(#a42)"/>
<rect x="85.0" y="11.3" width="1.05" height="150.4" fill="url(#a43)"/>
<rect x="86.0" y="11.3" width="1.05" height="150.4" fill="url(#a44)"/>
<rect x="87.0" y="11.3" width="1.05" height="150.4" fill="url(#a45)"/>
<rect x="88.0" y="11.3" width="1.05" height="150.4" fill="url(#a46)"/>
<rect x="89.0" y="11.3" width="1.05" height="150.4" fill="url(#a47)"/>
<rect x="90.0" y="11.3" width="1.05" height="150.4" fill="url(#a48)"/>
<rect x="91.0" y="11.3" width="1.05" height="150.4" fill="url(#a49)"/>
<rect x="92.0" y="11.3" width="1.05" height="150.4" fill="#6bf2f5"/>
<rect x="93.0" y="11.3" width="1.05" height="150.4" fill="url(#a51)"/>
<rect x="94.0" y="11.3" width="1.05" height="150.4" fill="#6df4f3"/>
<rect x="95.0" y="11.3" width="1.05" height="150.4" fill="url(#a53)"/>
<rect x="96.0" y="11.3" width="1.05" height="150.4" fill="url(#a54)"/>
<rect x="97.0" y="11.3" width="1.05" height="150.4" fill="url(#a55)"/>
<rect x="98.0" y="11.3" width="1.05" height="150.4" fill="url(#a56)"/>
<rect x="99.0" y="11.3" width="1.05" height="150.4" fill="url(#a57)"/>
<rect x="100.0" y="11.3" width="1.05" height="150.4" fill="url(#a58)"/>
<rect x="101.0" y="11.3" width="1.05" height="150.4" fill="url(#a59)"/>
<rect x="102.0" y="11.3" width="1.05" height="150.4" fill="url(#a60)"/>
<rect x="103.0" y="11.3" width="1.05" height="150.4" fill="url(#a61)"/>
<rect x="104.0" y="11.3" width="1.05" height="150.4" fill="url(#a62)"/>
<rect x="105.0" y="11.3" width="1.05" height="150.4" fill="url(#a63)"/>
<rect x="106.0" y="11.3" width="1.05" height="150.4" fill="#6bf2f5"/>
<rect x="107.0" y="11.3" width="1.05" height="150.4" fill="#6cf3f4"/>
<rect x="108.0" y="11.3" width="1.05" height="150.4" fill="#6ef5f2"/>
<rect x="109.0" y="11.3" width="1.05" height="150.4" fill="url(#a67)"/>
<rect x="110.0" y="11.3" width="1.05" height="150.4" fill="url(#a68)"/>
<rect x="111.0" y="11.3" width="1.05" height="150.4" fill="url(#a69)"/>
<rect x="112.0" y="11.3" width="1.05" height="150.4" fill="#41f035"/>
<rect x="113.0" y="11.3" width="1.05" height="150.4" fill="#42f030"/>
<rect x="114.0" y="11.3" width="1.05" height="150.4" fill="#42f030"/>
<rect x="115.0" y="11.3" width="1.05" height="150.4" fill="url(#a73)"/>
<rect x="116.0" y="11.3" width="1.05" height="150.4" fill="url(#a74)"/>
<rect x="117.0" y="11.3" width="1.05" height="150.4" fill="url(#a75)"/>
<rect x="118.0" y="11.3" width="1.05" height="150.4" fill="url(#a76)"/>
<rect x="119.0" y="11.3" width="1.05" height="150.4" fill="url(#a77)"/>
<rect x="120.0" y="11.3" width="1.05" height="150.4" fill="url(#a78)"/>
<rect x="121.0" y="11.3" width="1.05" height="150.4" fill="#40f030"/>
<rect x="122.0" y="11.3" width="1.05" height="150.4" fill="#41f034"/>
<rect x="123.0" y="11.3" width="1.05" height="150.4" fill="#41f034"/>
<rect x="124.0" y="11.3" width="1.05" height="150.4" fill="url(#a82)"/>
<rect x="125.0" y="11.3" width="1.05" height="150.4" fill="url(#a83)"/>
<rect x="126.0" y="11.3" width="1.05" height="150.4" fill="url(#a84)"/>
<rect x="127.0" y="11.3" width="1.05" height="150.4" fill="#6bf2f5"/>
<rect x="128.0" y="11.3" width="1.05" height="150.4" fill="#6bf2f5"/>
<rect x="129.0" y="11.3" width="1.05" height="150.4" fill="#6bf3f5"/>
<rect x="130.0" y="11.3" width="1.05" height="150.4" fill="#68f0f8"/>
<rect x="131.0" y="11.3" width="1.05" height="150.4" fill="url(#a89)"/>
<rect x="132.0" y="11.3" width="1.05" height="150.4" fill="url(#a90)"/>
<rect x="133.0" y="11.3" width="1.05" height="150.4" fill="url(#a91)"/>
<rect x="134.0" y="11.3" width="1.05" height="150.4" fill="url(#a92)"/>
<rect x="135.0" y="11.3" width="1.05" height="150.4" fill="url(#a93)"/>
<rect x="136.0" y="11.3" width="1.05" height="150.4" fill="url(#a94)"/>
<rect x="137.0" y="11.3" width="1.05" height="150.4" fill="url(#a95)"/>
<rect x="138.0" y="11.3" width="1.05" height="150.4" fill="url(#a96)"/>
<rect x="139.0" y="11.3" width="1.05" height="150.4" fill="url(#a97)"/>
<rect x="140.0" y="11.3" width="1.05" height="150.4" fill="url(#a98)"/>
<rect x="141.0" y="11.3" width="1.05" height="150.4" fill="url(#a99)"/>
<rect x="142.0" y="11.3" width="1.05" height="150.4" fill="url(#a100)"/>
<rect x="143.0" y="11.3" width="1.05" height="150.4" fill="url(#a101)"/>
<rect x="144.0" y="11.3" width="1.05" height="150.4" fill="url(#a102)"/>
<rect x="145.0" y="11.3" width="1.05" height="150.4" fill="url(#a103)"/>
<rect x="146.0" y="11.3" width="1.05" height="150.4" fill="url(#a104)"/>
<rect x="147.0" y="11.3" width="1.05" height="150.4" fill="url(#a105)"/>
<rect x="148.0" y="11.3" width="1.05" height="150.4" fill="#479af3"/>
<rect x="149.0" y="11.3" width="1.05" height="150.4" fill="#448cf2"/>
<rect x="150.0" y="11.3" width="1.05" height="150.4" fill="url(#a108)"/>
<rect x="151.0" y="11.3" width="1.05" height="150.4" fill="url(#a109)"/>
<rect x="152.0" y="11.3" width="1.05" height="150.4" fill="url(#a110)"/>
<rect x="153.0" y="11.3" width="1.05" height="150.4" fill="url(#a111)"/>
<rect x="154.0" y="11.3" width="1.05" height="150.4" fill="url(#a112)"/>
<rect x="155.0" y="11.3" width="1.05" height="150.4" fill="url(#a113)"/>
<rect x="156.0" y="11.3" width="1.05" height="150.4" fill="url(#a114)"/>
<rect x="157.0" y="11.3" width="1.05" height="150.4" fill="url(#a115)"/>
<rect x="158.0" y="11.3" width="1.05" height="150.4" fill="url(#a116)"/>
<rect x="159.0" y="11.3" width="1.05" height="150.4" fill="url(#a117)"/>
<rect x="160.0" y="11.3" width="1.05" height="150.4" fill="url(#a118)"/>
<rect x="161.0" y="11.3" width="1.05" height="150.4" fill="url(#a119)"/>
<rect x="162.0" y="11.3" width="1.05" height="150.4" fill="url(#a120)"/>
<rect x="163.0" y="11.3" width="1.05" height="150.4" fill="url(#a121)"/>
<rect x="164.0" y="11.3" width="1.05" height="150.4" fill="url(#a122)"/>
<rect x="165.0" y="11.3" width="1.05" height="150.4" fill="url(#a123)"/>
<rect x="166.0" y="11.3" width="1.05" height="150.4" fill="#4389f2"/>
<rect x="167.0" y="11.3" width="1.05" height="150.4" fill="#407cf1"/>
<rect x="168.0" y="11.3" width="1.05" height="150.4" fill="url(#a126)"/>
<rect x="169.0" y="11.3" width="1.05" height="150.4" fill="url(#a127)"/>
<rect x="170.0" y="11.3" width="1.05" height="150.4" fill="url(#a128)"/>
<rect x="171.0" y="11.3" width="1.05" height="150.4" fill="url(#a129)"/>
<rect x="172.0" y="11.3" width="1.05" height="150.4" fill="url(#a130)"/>
<rect x="173.0" y="11.3" width="1.05" height="150.4" fill="url(#a131)"/>
<rect x="174.0" y="11.3" width="1.05" height="150.4" fill="url(#a132)"/>
<rect x="175.0" y="11.3" width="1.05" height="150.4" fill="url(#a133)"/>
<rect x="176.0" y="11.3" width="1.05" height="150.4" fill="url(#a134)"/>
<rect x="177.0" y="11.3" width="1.05" height="150.4" fill="url(#a135)"/>
<rect x="178.0" y="11.3" width="1.05" height="150.4" fill="url(#a136)"/>
<rect x="179.0" y="11.3" width="1.05" height="150.4" fill="url(#a137)"/>
<rect x="180.0" y="11.3" width="1.05" height="150.4" fill="url(#a138)"/>
<rect x="181.0" y="11.3" width="1.05" height="150.4" fill="url(#a139)"/>
<rect x="182.0" y="11.3" width="1.05" height="150.4" fill="url(#a140)"/>
<rect x="183.0" y="11.3" width="1.05" height="150.4" fill="#4592f3"/>
<rect x="184.0" y="11.3" width="1.05" height="150.4" fill="#4799f3"/>
<rect x="185.0" y="11.3" width="1.05" height="150.4" fill="#479af3"/>
<rect x="186.0" y="11.3" width="1.05" height="150.4" fill="#4695f3"/>
<rect x="187.0" y="11.3" width="1.05" height="150.4" fill="#4696f3"/>
<rect x="188.0" y="11.3" width="1.05" height="150.4" fill="#4592f3"/>
<rect x="189.0" y="11.3" width="1.05" height="150.4" fill="#4592f3"/>
<rect x="190.0" y="11.3" width="1.05" height="150.4" fill="#4694f3"/>
<rect x="191.0" y="11.3" width="1.05" height="150.4" fill="#4694f3"/>
<rect x="192.0" y="11.3" width="1.05" height="150.4" fill="#4799f3"/>
<rect x="193.0" y="11.3" width="0.75" height="150.4" fill="#4593f3"/>
<line x1="37.40" y1="92.27" x2="193.70" y2="92.27" stroke="#111" stroke-width="1.40" stroke-dasharray="4.0 2.8"/>
<line x1="37.50" y1="11.50" x2="193.50" y2="11.50" stroke="#555" stroke-width="1.00" />
<line x1="193.50" y1="11.50" x2="193.50" y2="167.50" stroke="#555" stroke-width="1.00" />
<line x1="37.50" y1="11.00" x2="37.50" y2="168.00" stroke="#555" stroke-width="1.00" />
<line x1="37.00" y1="167.50" x2="194.00" y2="167.50" stroke="#555" stroke-width="1.00" />
<line x1="37.40" y1="151.20" x2="39.60" y2="151.20" stroke="#555" stroke-width="0.80" />
<text x="36.50" y="154.80" font-size="8.40" text-anchor="end" fill="#1a1a1a" stroke="#1a1a1a" stroke-width="0.12" >50</text>
<line x1="37.40" y1="123.22" x2="39.60" y2="123.22" stroke="#555" stroke-width="0.80" />
<text x="36.50" y="126.82" font-size="8.40" text-anchor="end" fill="#1a1a1a" stroke="#1a1a1a" stroke-width="0.12" >100</text>
<line x1="37.40" y1="95.24" x2="39.60" y2="95.24" stroke="#555" stroke-width="0.80" />
<text x="36.50" y="98.84" font-size="8.40" text-anchor="end" fill="#1a1a1a" stroke="#1a1a1a" stroke-width="0.12" >150</text>
<line x1="37.40" y1="67.26" x2="39.60" y2="67.26" stroke="#555" stroke-width="0.80" />
<text x="36.50" y="70.86" font-size="8.40" text-anchor="end" fill="#1a1a1a" stroke="#1a1a1a" stroke-width="0.12" >200</text>
<line x1="37.40" y1="39.28" x2="39.60" y2="39.28" stroke="#555" stroke-width="0.80" />
<text x="36.50" y="42.88" font-size="8.40" text-anchor="end" fill="#1a1a1a" stroke="#1a1a1a" stroke-width="0.12" >250</text>
<line x1="37.40" y1="11.30" x2="39.60" y2="11.30" stroke="#555" stroke-width="0.80" />
<text x="36.50" y="14.90" font-size="8.40" text-anchor="end" fill="#1a1a1a" stroke="#1a1a1a" stroke-width="0.12" >300</text>
<line x1="37.40" y1="165.19" x2="38.70" y2="165.19" stroke="#555" stroke-width="0.70" />
<line x1="37.40" y1="137.21" x2="38.70" y2="137.21" stroke="#555" stroke-width="0.70" />
<line x1="37.40" y1="109.23" x2="38.70" y2="109.23" stroke="#555" stroke-width="0.70" />
<line x1="37.40" y1="81.25" x2="38.70" y2="81.25" stroke="#555" stroke-width="0.70" />
<line x1="37.40" y1="53.27" x2="38.70" y2="53.27" stroke="#555" stroke-width="0.70" />
<line x1="37.40" y1="25.29" x2="38.70" y2="25.29" stroke="#555" stroke-width="0.70" />
<line x1="37.40" y1="167.20" x2="37.40" y2="165.20" stroke="#555" stroke-width="0.80" />
<text x="37.40" y="176.50" font-size="8.50" text-anchor="middle" fill="#1a1a1a" stroke="#1a1a1a" stroke-width="0.12" >0</text>
<line x1="59.73" y1="167.20" x2="59.73" y2="165.20" stroke="#555" stroke-width="0.80" />
<text x="59.73" y="176.50" font-size="8.50" text-anchor="middle" fill="#1a1a1a" stroke="#1a1a1a" stroke-width="0.12" >50</text>
<line x1="82.06" y1="167.20" x2="82.06" y2="165.20" stroke="#555" stroke-width="0.80" />
<text x="82.06" y="176.50" font-size="8.50" text-anchor="middle" fill="#1a1a1a" stroke="#1a1a1a" stroke-width="0.12" >100</text>
<line x1="104.39" y1="167.20" x2="104.39" y2="165.20" stroke="#555" stroke-width="0.80" />
<text x="104.39" y="176.50" font-size="8.50" text-anchor="middle" fill="#1a1a1a" stroke="#1a1a1a" stroke-width="0.12" >150</text>
<line x1="126.72" y1="167.20" x2="126.72" y2="165.20" stroke="#555" stroke-width="0.80" />
<text x="126.72" y="176.50" font-size="8.50" text-anchor="middle" fill="#1a1a1a" stroke="#1a1a1a" stroke-width="0.12" >200</text>
<line x1="149.05" y1="167.20" x2="149.05" y2="165.20" stroke="#555" stroke-width="0.80" />
<text x="149.05" y="176.50" font-size="8.50" text-anchor="middle" fill="#1a1a1a" stroke="#1a1a1a" stroke-width="0.12" >250</text>
<line x1="171.38" y1="167.20" x2="171.38" y2="165.20" stroke="#555" stroke-width="0.80" />
<text x="171.38" y="176.50" font-size="8.50" text-anchor="middle" fill="#1a1a1a" stroke="#1a1a1a" stroke-width="0.12" >300</text>
<line x1="193.71" y1="167.20" x2="193.71" y2="165.20" stroke="#555" stroke-width="0.80" />
<text x="193.71" y="176.50" font-size="8.50" text-anchor="middle" fill="#1a1a1a" stroke="#1a1a1a" stroke-width="0.12" >350</text>
<line x1="48.56" y1="167.20" x2="48.56" y2="165.90" stroke="#555" stroke-width="0.70" />
<line x1="70.89" y1="167.20" x2="70.89" y2="165.90" stroke="#555" stroke-width="0.70" />
<line x1="93.22" y1="167.20" x2="93.22" y2="165.90" stroke="#555" stroke-width="0.70" />
<line x1="115.56" y1="167.20" x2="115.56" y2="165.90" stroke="#555" stroke-width="0.70" />
<line x1="137.88" y1="167.20" x2="137.88" y2="165.90" stroke="#555" stroke-width="0.70" />
<line x1="160.22" y1="167.20" x2="160.22" y2="165.90" stroke="#555" stroke-width="0.70" />
<line x1="182.55" y1="167.20" x2="182.55" y2="165.90" stroke="#555" stroke-width="0.70" />
<text x="116.50" y="189.70" font-size="8.60" text-anchor="middle" fill="#222" stroke="#222" stroke-width="0.12" >Raman shift (cm<tspan dy="-3.5" font-size="5.5">-1</tspan><tspan dy="3.5">)</tspan></text>
<text x="0" y="0" font-size="8.3" text-anchor="middle" fill="#222" transform="translate(18.3,91.60) rotate(-90)" stroke="#222" stroke-width="0.12">Temperature (K)</text>
<rect x="203.40" y="11.00" width="3.80" height="156.20" fill="url(#cba)" />
<text x="209.20" y="51.40" font-size="7.30" text-anchor="start" fill="#222" stroke="#222" stroke-width="0.12" >10.0</text>
<text x="209.20" y="83.60" font-size="7.30" text-anchor="start" fill="#222" stroke="#222" stroke-width="0.12" >5.0</text>
<text x="209.20" y="140.90" font-size="7.30" text-anchor="start" fill="#222" stroke="#222" stroke-width="0.12" >1.0</text>
<text x="209.20" y="156.90" font-size="7.30" text-anchor="start" fill="#222" stroke="#222" stroke-width="0.12" >0.5</text>
<text x="46.6" y="22.6" font-size="10" fill="#fff" style="font-family:Liberation Serif,serif;font-style:italic">&#967;<tspan style="font-family:Liberation Sans,sans-serif" font-size="9" dx="0.3">''</tspan><tspan style="font-family:Liberation Sans,sans-serif" font-size="8.2" dx="0.5">xx</tspan><tspan dx="2">(&#969;,T)</tspan></text>
<text x="55.3" y="32.9" font-size="8.8" fill="#fff" font-style="italic">A<tspan font-size="5.8" dy="1.8" font-style="normal">1</tspan><tspan dy="-1.8" font-style="normal">+</tspan>E</text>
<text x="183.60" y="102.80" font-size="10.00" text-anchor="start" fill="#111" stroke="#111" stroke-width="0.12" font-style="italic">T<tspan font-size="9" dy="-1.5">*</tspan></text>
<rect x="41.6" y="201.3" width="0.45" height="150.6" fill="url(#d0)"/>
<rect x="42.0" y="201.3" width="1.05" height="150.6" fill="url(#d1)"/>
<rect x="43.0" y="201.3" width="1.05" height="150.6" fill="url(#d2)"/>
<rect x="44.0" y="201.3" width="1.05" height="150.6" fill="url(#d3)"/>
<rect x="45.0" y="201.3" width="1.05" height="150.6" fill="url(#d4)"/>
<rect x="46.0" y="201.3" width="1.05" height="150.6" fill="url(#d5)"/>
<rect x="47.0" y="201.3" width="1.05" height="150.6" fill="url(#d6)"/>
<rect x="48.0" y="201.3" width="1.05" height="150.6" fill="url(#d7)"/>
<rect x="49.0" y="201.3" width="1.05" height="150.6" fill="url(#d8)"/>
<rect x="50.0" y="201.3" width="1.05" height="150.6" fill="url(#d9)"/>
<rect x="51.0" y="201.3" width="1.05" height="150.6" fill="url(#d10)"/>
<rect x="52.0" y="201.3" width="1.05" height="150.6" fill="url(#d11)"/>
<rect x="53.0" y="201.3" width="1.05" height="150.6" fill="url(#d12)"/>
<rect x="54.0" y="201.3" width="1.05" height="150.6" fill="url(#d13)"/>
<rect x="55.0" y="201.3" width="1.05" height="150.6" fill="url(#d14)"/>
<rect x="56.0" y="201.3" width="1.05" height="150.6" fill="url(#d15)"/>
<rect x="57.0" y="201.3" width="1.05" height="150.6" fill="url(#d16)"/>
<rect x="58.0" y="201.3" width="1.05" height="150.6" fill="url(#d17)"/>
<rect x="59.0" y="201.3" width="1.05" height="150.6" fill="url(#d18)"/>
<rect x="60.0" y="201.3" width="1.05" height="150.6" fill="url(#d19)"/>
<rect x="61.0" y="201.3" width="1.05" height="150.6" fill="url(#d20)"/>
<rect x="62.0" y="201.3" width="1.05" height="150.6" fill="url(#d21)"/>
<rect x="63.0" y="201.3" width="1.05" height="150.6" fill="url(#d22)"/>
<rect x="64.0" y="201.3" width="1.05" height="150.6" fill="url(#d23)"/>
<rect x="65.0" y="201.3" width="1.05" height="150.6" fill="url(#d24)"/>
<rect x="66.0" y="201.3" width="1.05" height="150.6" fill="url(#d25)"/>
<rect x="67.0" y="201.3" width="1.05" height="150.6" fill="url(#d26)"/>
<rect x="68.0" y="201.3" width="1.05" height="150.6" fill="url(#d27)"/>
<rect x="69.0" y="201.3" width="1.05" height="150.6" fill="url(#d28)"/>
<rect x="70.0" y="201.3" width="1.05" height="150.6" fill="url(#d29)"/>
<rect x="71.0" y="201.3" width="1.05" height="150.6" fill="url(#d30)"/>
<rect x="72.0" y="201.3" width="1.05" height="150.6" fill="url(#d31)"/>
<rect x="73.0" y="201.3" width="1.05" height="150.6" fill="url(#d32)"/>
<rect x="74.0" y="201.3" width="1.05" height="150.6" fill="url(#d33)"/>
<rect x="75.0" y="201.3" width="1.05" height="150.6" fill="url(#d34)"/>
<rect x="76.0" y="201.3" width="1.05" height="150.6" fill="url(#d35)"/>
<rect x="77.0" y="201.3" width="1.05" height="150.6" fill="url(#d36)"/>
<rect x="78.0" y="201.3" width="1.05" height="150.6" fill="url(#d37)"/>
<rect x="79.0" y="201.3" width="1.05" height="150.6" fill="url(#d38)"/>
<rect x="80.0" y="201.3" width="1.05" height="150.6" fill="url(#d39)"/>
<rect x="81.0" y="201.3" width="1.05" height="150.6" fill="url(#d40)"/>
<rect x="82.0" y="201.3" width="1.05" height="150.6" fill="url(#d41)"/>
<rect x="83.0" y="201.3" width="1.05" height="150.6" fill="url(#d42)"/>
<rect x="84.0" y="201.3" width="1.05" height="150.6" fill="url(#d43)"/>
<rect x="85.0" y="201.3" width="1.05" height="150.6" fill="url(#d44)"/>
<rect x="86.0" y="201.3" width="1.05" height="150.6" fill="url(#d45)"/>
<rect x="87.0" y="201.3" width="1.05" height="150.6" fill="url(#d46)"/>
<rect x="88.0" y="201.3" width="1.05" height="150.6" fill="url(#d47)"/>
<rect x="89.0" y="201.3" width="1.05" height="150.6" fill="url(#d48)"/>
<rect x="90.0" y="201.3" width="1.05" height="150.6" fill="url(#d49)"/>
<rect x="91.0" y="201.3" width="1.05" height="150.6" fill="url(#d50)"/>
<rect x="92.0" y="201.3" width="1.05" height="150.6" fill="url(#d51)"/>
<rect x="93.0" y="201.3" width="1.05" height="150.6" fill="url(#d52)"/>
<rect x="94.0" y="201.3" width="1.05" height="150.6" fill="url(#d53)"/>
<rect x="95.0" y="201.3" width="1.05" height="150.6" fill="url(#d54)"/>
<rect x="96.0" y="201.3" width="1.05" height="150.6" fill="url(#d55)"/>
<rect x="97.0" y="201.3" width="1.05" height="150.6" fill="url(#d56)"/>
<rect x="98.0" y="201.3" width="1.05" height="150.6" fill="url(#d57)"/>
<rect x="99.0" y="201.3" width="1.05" height="150.6" fill="url(#d58)"/>
<rect x="100.0" y="201.3" width="1.05" height="150.6" fill="url(#d59)"/>
<rect x="101.0" y="201.3" width="1.05" height="150.6" fill="url(#d60)"/>
<rect x="102.0" y="201.3" width="1.05" height="150.6" fill="url(#d61)"/>
<rect x="103.0" y="201.3" width="1.05" height="150.6" fill="url(#d62)"/>
<rect x="104.0" y="201.3" width="1.05" height="150.6" fill="url(#d63)"/>
<rect x="105.0" y="201.3" width="1.05" height="150.6" fill="url(#d64)"/>
<rect x="106.0" y="201.3" width="1.05" height="150.6" fill="url(#d65)"/>
<rect x="107.0" y="201.3" width="1.05" height="150.6" fill="url(#d66)"/>
<rect x="108.0" y="201.3" width="1.05" height="150.6" fill="url(#d67)"/>
<rect x="109.0" y="201.3" width="1.05" height="150.6" fill="url(#d68)"/>
<rect x="110.0" y="201.3" width="1.05" height="150.6" fill="url(#d69)"/>
<rect x="111.0" y="201.3" width="1.05" height="150.6" fill="url(#d70)"/>
<rect x="112.0" y="201.3" width="1.05" height="150.6" fill="url(#d71)"/>
<rect x="113.0" y="201.3" width="1.05" height="150.6" fill="url(#d72)"/>
<rect x="114.0" y="201.3" width="1.05" height="150.6" fill="url(#d73)"/>
<rect x="115.0" y="201.3" width="1.05" height="150.6" fill="url(#d74)"/>
<rect x="116.0" y="201.3" width="1.05" height="150.6" fill="url(#d75)"/>
<rect x="117.0" y="201.3" width="1.05" height="150.6" fill="url(#d76)"/>
<rect x="118.0" y="201.3" width="1.05" height="150.6" fill="url(#d77)"/>
<rect x="119.0" y="201.3" width="1.05" height="150.6" fill="url(#d78)"/>
<rect x="120.0" y="201.3" width="1.05" height="150.6" fill="url(#d79)"/>
<rect x="121.0" y="201.3" width="1.05" height="150.6" fill="url(#d80)"/>
<rect x="122.0" y="201.3" width="1.05" height="150.6" fill="url(#d81)"/>
<rect x="123.0" y="201.3" width="1.05" height="150.6" fill="url(#d82)"/>
<rect x="124.0" y="201.3" width="1.05" height="150.6" fill="url(#d83)"/>
<rect x="125.0" y="201.3" width="1.05" height="150.6" fill="url(#d84)"/>
<rect x="126.0" y="201.3" width="1.05" height="150.6" fill="url(#d85)"/>
<rect x="127.0" y="201.3" width="1.05" height="150.6" fill="url(#d86)"/>
<rect x="128.0" y="201.3" width="1.05" height="150.6" fill="url(#d87)"/>
<rect x="129.0" y="201.3" width="1.05" height="150.6" fill="url(#d88)"/>
<rect x="130.0" y="201.3" width="1.05" height="150.6" fill="url(#d89)"/>
<rect x="131.0" y="201.3" width="1.05" height="150.6" fill="url(#d90)"/>
<rect x="132.0" y="201.3" width="1.05" height="150.6" fill="url(#d91)"/>
<rect x="133.0" y="201.3" width="1.05" height="150.6" fill="url(#d92)"/>
<rect x="134.0" y="201.3" width="1.05" height="150.6" fill="url(#d93)"/>
<rect x="135.0" y="201.3" width="1.05" height="150.6" fill="url(#d94)"/>
<rect x="136.0" y="201.3" width="1.05" height="150.6" fill="url(#d95)"/>
<rect x="137.0" y="201.3" width="1.05" height="150.6" fill="url(#d96)"/>
<rect x="138.0" y="201.3" width="1.05" height="150.6" fill="url(#d97)"/>
<rect x="139.0" y="201.3" width="1.05" height="150.6" fill="url(#d98)"/>
<rect x="140.0" y="201.3" width="1.05" height="150.6" fill="url(#d99)"/>
<rect x="141.0" y="201.3" width="1.05" height="150.6" fill="url(#d100)"/>
<rect x="142.0" y="201.3" width="1.05" height="150.6" fill="url(#d101)"/>
<rect x="143.0" y="201.3" width="1.05" height="150.6" fill="url(#d102)"/>
<rect x="144.0" y="201.3" width="1.05" height="150.6" fill="url(#d103)"/>
<rect x="145.0" y="201.3" width="1.05" height="150.6" fill="url(#d104)"/>
<rect x="146.0" y="201.3" width="1.05" height="150.6" fill="url(#d105)"/>
<rect x="147.0" y="201.3" width="1.05" height="150.6" fill="url(#d106)"/>
<rect x="148.0" y="201.3" width="1.05" height="150.6" fill="url(#d107)"/>
<rect x="149.0" y="201.3" width="1.05" height="150.6" fill="url(#d108)"/>
<rect x="150.0" y="201.3" width="1.05" height="150.6" fill="url(#d109)"/>
<rect x="151.0" y="201.3" width="1.05" height="150.6" fill="url(#d110)"/>
<rect x="152.0" y="201.3" width="1.05" height="150.6" fill="url(#d111)"/>
<rect x="153.0" y="201.3" width="1.05" height="150.6" fill="url(#d112)"/>
<rect x="154.0" y="201.3" width="1.05" height="150.6" fill="url(#d113)"/>
<rect x="155.0" y="201.3" width="1.05" height="150.6" fill="url(#d114)"/>
<rect x="156.0" y="201.3" width="1.05" height="150.6" fill="url(#d115)"/>
<rect x="157.0" y="201.3" width="1.05" height="150.6" fill="url(#d116)"/>
<rect x="158.0" y="201.3" width="1.05" height="150.6" fill="url(#d117)"/>
<rect x="159.0" y="201.3" width="1.05" height="150.6" fill="url(#d118)"/>
<rect x="160.0" y="201.3" width="1.05" height="150.6" fill="url(#d119)"/>
<rect x="161.0" y="201.3" width="1.05" height="150.6" fill="url(#d120)"/>
<rect x="162.0" y="201.3" width="1.05" height="150.6" fill="url(#d121)"/>
<rect x="163.0" y="201.3" width="1.05" height="150.6" fill="url(#d122)"/>
<rect x="164.0" y="201.3" width="1.05" height="150.6" fill="url(#d123)"/>
<rect x="165.0" y="201.3" width="1.05" height="150.6" fill="url(#d124)"/>
<rect x="166.0" y="201.3" width="1.05" height="150.6" fill="url(#d125)"/>
<rect x="167.0" y="201.3" width="1.05" height="150.6" fill="url(#d126)"/>
<rect x="168.0" y="201.3" width="1.05" height="150.6" fill="url(#d127)"/>
<rect x="169.0" y="201.3" width="1.05" height="150.6" fill="url(#d128)"/>
<rect x="170.0" y="201.3" width="1.05" height="150.6" fill="url(#d129)"/>
<rect x="171.0" y="201.3" width="1.05" height="150.6" fill="url(#d130)"/>
<rect x="172.0" y="201.3" width="1.05" height="150.6" fill="url(#d131)"/>
<rect x="173.0" y="201.3" width="1.05" height="150.6" fill="url(#d132)"/>
<rect x="174.0" y="201.3" width="1.05" height="150.6" fill="url(#d133)"/>
<rect x="175.0" y="201.3" width="1.05" height="150.6" fill="url(#d134)"/>
<rect x="176.0" y="201.3" width="1.05" height="150.6" fill="url(#d135)"/>
<rect x="177.0" y="201.3" width="1.05" height="150.6" fill="url(#d136)"/>
<rect x="178.0" y="201.3" width="1.05" height="150.6" fill="url(#d137)"/>
<rect x="179.0" y="201.3" width="1.05" height="150.6" fill="url(#d138)"/>
<rect x="180.0" y="201.3" width="1.05" height="150.6" fill="url(#d139)"/>
<rect x="181.0" y="201.3" width="1.05" height="150.6" fill="url(#d140)"/>
<rect x="182.0" y="201.3" width="1.05" height="150.6" fill="url(#d141)"/>
<rect x="183.0" y="201.3" width="1.05" height="150.6" fill="url(#d142)"/>
<rect x="184.0" y="201.3" width="1.05" height="150.6" fill="url(#d143)"/>
<rect x="185.0" y="201.3" width="1.05" height="150.6" fill="url(#d144)"/>
<rect x="186.0" y="201.3" width="1.05" height="150.6" fill="url(#d145)"/>
<rect x="187.0" y="201.3" width="1.05" height="150.6" fill="url(#d146)"/>
<rect x="188.0" y="201.3" width="1.05" height="150.6" fill="url(#d147)"/>
<rect x="189.0" y="201.3" width="1.05" height="150.6" fill="url(#d148)"/>
<rect x="190.0" y="201.3" width="1.05" height="150.6" fill="url(#d149)"/>
<rect x="191.0" y="201.3" width="1.05" height="150.6" fill="url(#d150)"/>
<rect x="192.0" y="201.3" width="1.05" height="150.6" fill="url(#d151)"/>
<rect x="193.0" y="201.3" width="0.75" height="150.6" fill="url(#d152)"/>
<line x1="37.40" y1="282.27" x2="193.70" y2="282.27" stroke="#111" stroke-width="1.40" stroke-dasharray="4.0 2.8"/>
<line x1="37.50" y1="201.50" x2="193.50" y2="201.50" stroke="#555" stroke-width="1.00" />
<line x1="193.50" y1="201.50" x2="193.50" y2="357.50" stroke="#555" stroke-width="1.00" />
<line x1="37.50" y1="201.00" x2="37.50" y2="358.00" stroke="#555" stroke-width="1.00" />
<line x1="37.00" y1="357.50" x2="194.00" y2="357.50" stroke="#555" stroke-width="1.00" />
<line x1="37.40" y1="341.20" x2="39.60" y2="341.20" stroke="#555" stroke-width="0.80" />
<text x="36.50" y="344.80" font-size="8.40" text-anchor="end" fill="#1a1a1a" stroke="#1a1a1a" stroke-width="0.12" >50</text>
<line x1="37.40" y1="313.22" x2="39.60" y2="313.22" stroke="#555" stroke-width="0.80" />
<text x="36.50" y="316.82" font-size="8.40" text-anchor="end" fill="#1a1a1a" stroke="#1a1a1a" stroke-width="0.12" >100</text>
<line x1="37.40" y1="285.24" x2="39.60" y2="285.24" stroke="#555" stroke-width="0.80" />
<text x="36.50" y="288.84" font-size="8.40" text-anchor="end" fill="#1a1a1a" stroke="#1a1a1a" stroke-width="0.12" >150</text>
<line x1="37.40" y1="257.26" x2="39.60" y2="257.26" stroke="#555" stroke-width="0.80" />
<text x="36.50" y="260.86" font-size="8.40" text-anchor="end" fill="#1a1a1a" stroke="#1a1a1a" stroke-width="0.12" >200</text>
<line x1="37.40" y1="229.28" x2="39.60" y2="229.28" stroke="#555" stroke-width="0.80" />
<text x="36.50" y="232.88" font-size="8.40" text-anchor="end" fill="#1a1a1a" stroke="#1a1a1a" stroke-width="0.12" >250</text>
<line x1="37.40" y1="201.30" x2="39.60" y2="201.30" stroke="#555" stroke-width="0.80" />
<text x="36.50" y="204.90" font-size="8.40" text-anchor="end" fill="#1a1a1a" stroke="#1a1a1a" stroke-width="0.12" >300</text>
<line x1="37.40" y1="355.19" x2="38.70" y2="355.19" stroke="#555" stroke-width="0.70" />
<line x1="37.40" y1="327.21" x2="38.70" y2="327.21" stroke="#555" stroke-width="0.70" />
<line x1="37.40" y1="299.23" x2="38.70" y2="299.23" stroke="#555" stroke-width="0.70" />
<line x1="37.40" y1="271.25" x2="38.70" y2="271.25" stroke="#555" stroke-width="0.70" />
<line x1="37.40" y1="243.27" x2="38.70" y2="243.27" stroke="#555" stroke-width="0.70" />
<line x1="37.40" y1="215.29" x2="38.70" y2="215.29" stroke="#555" stroke-width="0.70" />
<line x1="37.40" y1="357.20" x2="37.40" y2="355.20" stroke="#555" stroke-width="0.80" />
<text x="37.40" y="366.50" font-size="8.50" text-anchor="middle" fill="#1a1a1a" stroke="#1a1a1a" stroke-width="0.12" >0</text>
<line x1="59.73" y1="357.20" x2="59.73" y2="355.20" stroke="#555" stroke-width="0.80" />
<text x="59.73" y="366.50" font-size="8.50" text-anchor="middle" fill="#1a1a1a" stroke="#1a1a1a" stroke-width="0.12" >50</text>
<line x1="82.06" y1="357.20" x2="82.06" y2="355.20" stroke="#555" stroke-width="0.80" />
<text x="82.06" y="366.50" font-size="8.50" text-anchor="middle" fill="#1a1a1a" stroke="#1a1a1a" stroke-width="0.12" >100</text>
<line x1="104.39" y1="357.20" x2="104.39" y2="355.20" stroke="#555" stroke-width="0.80" />
<text x="104.39" y="366.50" font-size="8.50" text-anchor="middle" fill="#1a1a1a" stroke="#1a1a1a" stroke-width="0.12" >150</text>
<line x1="126.72" y1="357.20" x2="126.72" y2="355.20" stroke="#555" stroke-width="0.80" />
<text x="126.72" y="366.50" font-size="8.50" text-anchor="middle" fill="#1a1a1a" stroke="#1a1a1a" stroke-width="0.12" >200</text>
<line x1="149.05" y1="357.20" x2="149.05" y2="355.20" stroke="#555" stroke-width="0.80" />
<text x="149.05" y="366.50" font-size="8.50" text-anchor="middle" fill="#1a1a1a" stroke="#1a1a1a" stroke-width="0.12" >250</text>
<line x1="171.38" y1="357.20" x2="171.38" y2="355.20" stroke="#555" stroke-width="0.80" />
<text x="171.38" y="366.50" font-size="8.50" text-anchor="middle" fill="#1a1a1a" stroke="#1a1a1a" stroke-width="0.12" >300</text>
<line x1="193.71" y1="357.20" x2="193.71" y2="355.20" stroke="#555" stroke-width="0.80" />
<text x="193.71" y="366.50" font-size="8.50" text-anchor="middle" fill="#1a1a1a" stroke="#1a1a1a" stroke-width="0.12" >350</text>
<line x1="48.56" y1="357.20" x2="48.56" y2="355.90" stroke="#555" stroke-width="0.70" />
<line x1="70.89" y1="357.20" x2="70.89" y2="355.90" stroke="#555" stroke-width="0.70" />
<line x1="93.22" y1="357.20" x2="93.22" y2="355.90" stroke="#555" stroke-width="0.70" />
<line x1="115.56" y1="357.20" x2="115.56" y2="355.90" stroke="#555" stroke-width="0.70" />
<line x1="137.88" y1="357.20" x2="137.88" y2="355.90" stroke="#555" stroke-width="0.70" />
<line x1="160.22" y1="357.20" x2="160.22" y2="355.90" stroke="#555" stroke-width="0.70" />
<line x1="182.55" y1="357.20" x2="182.55" y2="355.90" stroke="#555" stroke-width="0.70" />
<text x="116.50" y="379.70" font-size="8.60" text-anchor="middle" fill="#222" stroke="#222" stroke-width="0.12" >Raman shift (cm<tspan dy="-3.5" font-size="5.5">-1</tspan><tspan dy="3.5">)</tspan></text>
<text x="0" y="0" font-size="8.3" text-anchor="middle" fill="#222" transform="translate(18.3,281.60) rotate(-90)" stroke="#222" stroke-width="0.12">Temperature (K)</text>
<rect x="203.40" y="201.00" width="3.80" height="156.20" fill="url(#cbd)" />
<text x="209.20" y="263.80" font-size="7.30" text-anchor="start" fill="#222" stroke="#222" stroke-width="0.12" >1.00</text>
<text x="209.20" y="307.10" font-size="7.30" text-anchor="start" fill="#222" stroke="#222" stroke-width="0.12" >0.50</text>
<text x="209.20" y="353.60" font-size="7.30" text-anchor="start" fill="#222" stroke="#222" stroke-width="0.12" >0.10</text>
<text x="209.20" y="360.30" font-size="7.30" text-anchor="start" fill="#222" stroke="#222" stroke-width="0.12" >0.05</text>
<text x="46.2" y="214.7" font-size="10.5" fill="#fff" style="font-family:Liberation Serif,serif;font-style:italic">&#967;<tspan style="font-family:Liberation Sans,sans-serif" font-size="9.5" dx="0.3">''</tspan><tspan dy="2.2" font-size="7.5" style="font-style:normal" dx="0.5">x&#8217;y&#8217;</tspan><tspan dy="-2.2" dx="4.5" font-size="10">(&#969;,T)</tspan></text>
<text x="56.8" y="227.4" font-size="8.9" fill="#fff" font-style="italic">E+T<tspan font-size="5.8" dy="2" font-style="normal">1</tspan></text>
<text x="183.60" y="292.80" font-size="10.00" text-anchor="start" fill="#111" stroke="#111" stroke-width="0.12" font-style="italic">T<tspan font-size="9" dy="-1.5">*</tspan></text>
<g clip-path="url(#clipb)" fill="none" stroke-linejoin="round">
<path d="M257.21 86.06 L257.66 86.12 L258.11 85.48 L258.56 85.95 L259.01 84.24 L259.46 83.82 L259.91 83.77 L260.36 84.43 L260.81 83.21 L261.26 83.22 L261.71 82.99 L262.16 81.07 L262.61 80.62 L263.06 82.40 L263.52 80.35 L263.97 80.71 L264.42 80.95 L264.87 80.84 L265.32 79.60 L265.77 79.64 L266.22 78.67 L266.67 78.24 L267.12 78.91 L267.57 77.05 L268.02 76.14 L268.47 75.78 L268.92 76.23 L269.37 77.24 L269.82 77.14 L270.27 76.63 L270.73 74.60 L271.18 75.72 L271.63 75.27 L272.08 73.77 L272.53 74.69 L272.98 73.81 L273.43 73.67 L273.88 74.08 L274.33 72.54 L274.78 71.56 L275.23 72.66 L275.68 72.10 L276.13 71.28 L276.58 71.70 L277.03 70.31 L277.48 69.23 L277.93 69.22 L278.39 69.15 L278.84 68.13 L279.29 69.39 L279.74 68.21 L280.19 68.40 L280.64 67.71 L281.09 68.68 L281.54 67.11 L281.99 68.47 L282.44 68.17 L282.89 66.61 L283.34 66.14 L283.79 67.09 L284.24 66.95 L284.69 67.13 L285.14 66.87 L285.60 65.91 L286.05 66.67 L286.50 66.58 L286.95 65.63 L287.40 66.05 L287.85 64.77 L288.30 64.17 L288.75 64.05 L289.20 64.48 L289.65 64.56 L290.10 64.16 L290.55 64.90 L291.00 63.15 L291.45 63.79 L291.90 63.63 L292.35 63.98 L292.80 63.00 L293.26 62.55 L293.71 62.82 L294.16 61.64 L294.61 61.93 L295.06 62.71 L295.51 61.90 L295.96 60.84 L296.41 61.47 L296.86 61.05 L297.31 61.98 L297.76 60.80 L298.21 60.61 L298.66 60.50 L299.11 60.23 L299.56 59.64 L300.01 59.54 L300.46 59.41 L300.92 59.84 L301.37 58.91 L301.82 57.39 L302.27 58.20 L302.72 58.60 L303.17 58.20 L303.62 56.53 L304.07 57.05 L304.52 56.38 L304.97 55.71 L305.42 54.24 L305.87 52.39 L306.32 52.66 L306.77 51.68 L307.22 50.43 L307.67 48.72 L308.12 47.04 L308.58 44.62 L309.03 42.82 L309.48 42.69 L309.93 43.80 L310.38 44.66 L310.83 45.83 L311.28 49.20 L311.73 50.49 L312.18 50.84 L312.63 51.60 L313.08 52.38 L313.53 52.98 L313.98 52.79 L314.43 53.77 L314.88 53.15 L315.33 52.81 L315.79 53.89 L316.24 52.80 L316.69 52.88 L317.14 52.34 L317.59 53.97 L318.04 51.81 L318.49 51.82 L318.94 51.02 L319.39 50.55 L319.84 51.58 L320.29 50.17 L320.74 50.66 L321.19 48.90 L321.64 47.29 L322.09 47.85 L322.54 46.31 L322.99 45.50 L323.45 43.62 L323.90 41.69 L324.35 39.71 L324.80 35.10 L325.25 32.24 L325.70 29.48 L326.15 24.46 L326.60 19.28 L327.05 13.28 L327.50 5.74 L327.95 -4.28 L328.40 -15.73 L328.85 -29.57 L329.30 -47.79 L329.75 -70.77 L330.20 -98.49 L330.66 -131.32 L331.11 -171.83 L331.56 -215.84 L332.01 -257.71 L332.46 -288.69 L332.91 -299.02 L333.36 -293.58 L333.81 -276.09 L334.26 -251.36 L334.71 -222.54 L335.16 -192.16 L335.61 -162.68 L336.06 -134.32 L336.51 -108.22 L336.96 -86.71 L337.41 -66.70 L337.86 -49.69 L338.32 -34.43 L338.77 -22.08 L339.22 -10.82 L339.67 -2.07 L340.12 6.82 L340.57 14.21 L341.02 20.55 L341.47 26.19 L341.92 30.72 L342.37 35.08 L342.82 38.84 L343.27 43.22 L343.72 44.69 L344.17 46.11 L344.62 47.40 L345.07 48.97 L345.52 51.10 L345.98 49.84 L346.43 50.17 L346.88 52.17 L347.33 51.65 L347.78 51.85 L348.23 51.19 L348.68 51.86 L349.13 53.33 L349.58 54.16 L350.03 54.69 L350.48 55.25 L350.93 54.03 L351.38 53.94 L351.83 55.67 L352.28 54.62 L352.73 54.22 L353.19 55.92 L353.64 55.08 L354.09 55.36 L354.54 54.17 L354.99 54.38 L355.44 56.25 L355.89 55.86 L356.34 54.48 L356.79 55.25 L357.24 55.48 L357.69 54.93 L358.14 55.04 L358.59 54.57 L359.04 55.82 L359.49 56.20 L359.94 54.43 L360.39 55.32 L360.85 53.50 L361.30 51.98 L361.75 52.06 L362.20 50.83 L362.65 51.49 L363.10 51.88 L363.55 51.76 L364.00 52.22 L364.45 52.88 L364.90 55.80 L365.35 54.47 L365.80 55.85 L366.25 56.57 L366.70 56.74 L367.15 56.57 L367.60 57.24 L368.05 57.82 L368.51 56.35 L368.96 56.79 L369.41 57.08 L369.86 56.89 L370.31 56.37 L370.76 58.26 L371.21 56.94 L371.66 57.03 L372.11 58.17 L372.56 57.76 L373.01 58.03 L373.46 58.65 L373.91 58.15 L374.36 58.76 L374.81 57.02 L375.26 58.58 L375.72 57.49 L376.17 57.46 L376.62 56.33 L377.07 56.39 L377.52 56.88 L377.97 56.25 L378.42 56.20 L378.87 55.31 L379.32 53.84 L379.77 51.76 L380.22 53.52 L380.67 53.63 L381.12 53.48 L381.57 55.15 L382.02 56.59 L382.47 55.85 L382.92 58.60 L383.38 58.01 L383.83 58.88 L384.28 59.46 L384.73 60.10 L385.18 60.43 L385.63 60.10 L386.08 59.49 L386.53 60.24 L386.98 59.65 L387.43 59.44 L387.88 60.98 L388.33 59.40 L388.78 59.98 L389.23 60.23 L389.68 59.89 L390.13 58.87 L390.58 59.71 L391.04 60.03 L391.49 57.70 L391.94 58.98 L392.39 58.24 L392.84 55.86 L393.29 55.34 L393.74 53.40 L394.19 49.83 L394.64 45.50 L395.09 41.98 L395.54 36.20 L395.99 34.82 L396.44 36.86 L396.89 41.57 L397.34 47.43 L397.79 50.91 L398.25 52.56 L398.70 54.51 L399.15 57.25 L399.60 57.11 L400.05 58.24 L400.50 58.60 L400.95 59.44 L401.40 60.19 L401.85 60.16 L402.30 59.04 L402.75 60.94 L403.20 59.61 L403.65 60.46 L404.10 61.57 L404.55 60.04 L405.00 61.86 L405.45 60.12 L405.91 61.27 L406.36 60.05 L406.81 60.51 L407.26 61.36 L407.71 60.81 L408.16 60.05 L408.61 61.86 L409.06 61.82 L409.51 61.66" stroke="#ea3a2a" stroke-width="1.2"/>
<path d="M257.21 86.00 L257.66 85.49 L258.11 84.37 L258.56 85.01 L259.01 84.51 L259.46 83.91 L259.91 84.36 L260.36 83.19 L260.81 82.48 L261.26 81.68 L261.71 82.79 L262.16 81.93 L262.61 82.03 L263.06 80.12 L263.52 80.10 L263.97 81.32 L264.42 79.01 L264.87 78.72 L265.32 79.02 L265.77 78.66 L266.22 79.20 L266.67 79.03 L267.12 77.42 L267.57 77.98 L268.02 77.25 L268.47 76.75 L268.92 76.89 L269.37 75.69 L269.82 75.55 L270.27 74.44 L270.73 74.89 L271.18 74.33 L271.63 74.32 L272.08 73.63 L272.53 73.71 L272.98 73.73 L273.43 71.76 L273.88 71.36 L274.33 71.29 L274.78 71.16 L275.23 71.60 L275.68 71.37 L276.13 70.83 L276.58 70.90 L277.03 68.98 L277.48 69.40 L277.93 68.05 L278.39 68.72 L278.84 67.14 L279.29 67.09 L279.74 68.68 L280.19 67.98 L280.64 66.25 L281.09 67.12 L281.54 65.88 L281.99 67.04 L282.44 67.61 L282.89 66.24 L283.34 65.75 L283.79 66.70 L284.24 66.92 L284.69 66.20 L285.14 64.62 L285.60 64.87 L286.05 66.07 L286.50 65.59 L286.95 65.69 L287.40 65.57 L287.85 63.74 L288.30 64.89 L288.75 63.84 L289.20 63.88 L289.65 64.23 L290.10 62.84 L290.55 63.96 L291.00 62.64 L291.45 63.61 L291.90 62.76 L292.35 63.04 L292.80 62.76 L293.26 61.06 L293.71 61.29 L294.16 62.25 L294.61 60.85 L295.06 62.17 L295.51 61.59 L295.96 60.38 L296.41 60.63 L296.86 61.59 L297.31 59.41 L297.76 60.88 L298.21 60.55 L298.66 59.19 L299.11 59.94 L299.56 59.80 L300.01 60.09 L300.46 59.83 L300.92 58.48 L301.37 58.91 L301.82 57.77 L302.27 57.89 L302.72 57.29 L303.17 55.72 L303.62 56.28 L304.07 55.56 L304.52 54.35 L304.97 55.22 L305.42 54.59 L305.87 52.26 L306.32 51.63 L306.77 51.85 L307.22 50.69 L307.67 47.93 L308.12 45.71 L308.58 45.54 L309.03 42.48 L309.48 42.07 L309.93 43.21 L310.38 44.98 L310.83 47.44 L311.28 49.30 L311.73 48.77 L312.18 51.56 L312.63 51.46 L313.08 53.13 L313.53 52.39 L313.98 53.24 L314.43 54.13 L314.88 54.50 L315.33 53.32 L315.79 54.68 L316.24 54.18 L316.69 53.23 L317.14 52.42 L317.59 52.72 L318.04 53.19 L318.49 51.49 L318.94 52.69 L319.39 52.67 L319.84 51.62 L320.29 50.66 L320.74 50.84 L321.19 49.81 L321.64 48.50 L322.09 47.02 L322.54 46.79 L322.99 44.88 L323.45 42.10 L323.90 40.00 L324.35 38.48 L324.80 35.77 L325.25 32.90 L325.70 30.19 L326.15 26.02 L326.60 20.77 L327.05 12.43 L327.50 5.13 L327.95 -4.93 L328.40 -14.55 L328.85 -30.38 L329.30 -48.04 L329.75 -70.99 L330.20 -97.82 L330.66 -133.06 L331.11 -170.66 L331.56 -215.12 L332.01 -257.42 L332.46 -289.23 L332.91 -300.48 L333.36 -294.20 L333.81 -277.64 L334.26 -253.25 L334.71 -222.75 L335.16 -192.66 L335.61 -162.99 L336.06 -134.85 L336.51 -108.51 L336.96 -86.92 L337.41 -67.48 L337.86 -49.84 L338.32 -35.23 L338.77 -21.95 L339.22 -11.35 L339.67 -1.81 L340.12 7.70 L340.57 13.78 L341.02 19.42 L341.47 25.32 L341.92 30.64 L342.37 35.81 L342.82 38.99 L343.27 42.84 L343.72 45.47 L344.17 46.39 L344.62 49.39 L345.07 48.91 L345.52 51.18 L345.98 50.38 L346.43 50.95 L346.88 51.70 L347.33 50.84 L347.78 51.46 L348.23 51.46 L348.68 51.18 L349.13 53.39 L349.58 54.54 L350.03 54.40 L350.48 53.97 L350.93 55.32 L351.38 55.62 L351.83 54.16 L352.28 54.80 L352.73 55.34 L353.19 54.38 L353.64 55.62 L354.09 54.86 L354.54 55.87 L354.99 55.34 L355.44 54.52 L355.89 54.29 L356.34 54.41 L356.79 55.66 L357.24 55.35 L357.69 56.01 L358.14 56.42 L358.59 55.58 L359.04 54.70 L359.49 54.44 L359.94 54.38 L360.39 53.35 L360.85 54.13 L361.30 53.50 L361.75 51.94 L362.20 51.55 L362.65 51.39 L363.10 51.32 L363.55 51.72 L364.00 53.03 L364.45 54.38 L364.90 54.03 L365.35 54.33 L365.80 55.98 L366.25 57.17 L366.70 57.55 L367.15 55.92 L367.60 57.91 L368.05 56.59 L368.51 57.00 L368.96 57.66 L369.41 56.68 L369.86 58.43 L370.31 58.23 L370.76 57.65 L371.21 58.69 L371.66 57.02 L372.11 58.40 L372.56 58.68 L373.01 58.94 L373.46 57.70 L373.91 58.12 L374.36 57.71 L374.81 57.63 L375.26 57.22 L375.72 56.78 L376.17 57.21 L376.62 58.03 L377.07 57.09 L377.52 57.28 L377.97 57.05 L378.42 55.27 L378.87 53.86 L379.32 54.13 L379.77 53.24 L380.22 52.87 L380.67 52.48 L381.12 53.73 L381.57 54.60 L382.02 55.34 L382.47 57.07 L382.92 56.96 L383.38 57.33 L383.83 59.63 L384.28 58.17 L384.73 58.95 L385.18 60.50 L385.63 59.99 L386.08 59.77 L386.53 59.27 L386.98 60.52 L387.43 60.12 L387.88 59.44 L388.33 59.58 L388.78 59.19 L389.23 60.14 L389.68 59.59 L390.13 60.37 L390.58 58.99 L391.04 58.45 L391.49 58.40 L391.94 57.67 L392.39 58.01 L392.84 55.47 L393.29 53.87 L393.74 51.89 L394.19 50.08 L394.64 45.72 L395.09 42.03 L395.54 36.19 L395.99 34.30 L396.44 37.43 L396.89 42.55 L397.34 46.49 L397.79 50.05 L398.25 52.36 L398.70 54.97 L399.15 57.40 L399.60 56.73 L400.05 59.14 L400.50 58.11 L400.95 59.93 L401.40 59.93 L401.85 59.22 L402.30 60.86 L402.75 61.03 L403.20 60.37 L403.65 60.04 L404.10 59.89 L404.55 60.31 L405.00 59.82 L405.45 60.88 L405.91 59.93 L406.36 61.88 L406.81 61.62 L407.26 60.99 L407.71 61.54 L408.16 60.61 L408.61 60.84 L409.06 61.12 L409.51 60.44" stroke="#f07830" stroke-width="1.2"/>
<path d="M257.21 85.46 L257.66 84.76 L258.11 84.39 L258.56 85.15 L259.01 85.01 L259.46 83.75 L259.91 83.49 L260.36 81.83 L260.81 81.60 L261.26 81.32 L261.71 80.96 L262.16 80.30 L262.61 81.03 L263.06 80.03 L263.52 80.35 L263.97 78.48 L264.42 80.09 L264.87 78.08 L265.32 79.32 L265.77 77.52 L266.22 77.80 L266.67 77.15 L267.12 75.69 L267.57 77.02 L268.02 76.47 L268.47 74.19 L268.92 74.75 L269.37 75.41 L269.82 73.25 L270.27 73.11 L270.73 74.67 L271.18 73.69 L271.63 74.00 L272.08 73.27 L272.53 72.22 L272.98 72.84 L273.43 71.27 L273.88 72.27 L274.33 71.59 L274.78 69.75 L275.23 70.23 L275.68 69.77 L276.13 68.96 L276.58 68.80 L277.03 68.60 L277.48 68.99 L277.93 67.09 L278.39 66.21 L278.84 65.86 L279.29 66.25 L279.74 66.65 L280.19 66.40 L280.64 65.48 L281.09 65.42 L281.54 66.54 L281.99 66.16 L282.44 65.75 L282.89 65.28 L283.34 64.48 L283.79 65.00 L284.24 65.87 L284.69 63.95 L285.14 64.63 L285.60 64.25 L286.05 64.71 L286.50 64.07 L286.95 63.96 L287.40 62.92 L287.85 64.18 L288.30 63.00 L288.75 63.62 L289.20 62.29 L289.65 63.54 L290.10 62.82 L290.55 62.48 L291.00 61.66 L291.45 62.76 L291.90 61.70 L292.35 62.09 L292.80 61.77 L293.26 61.20 L293.71 60.00 L294.16 60.92 L294.61 59.77 L295.06 61.36 L295.51 59.54 L295.96 60.60 L296.41 60.80 L296.86 59.37 L297.31 58.81 L297.76 60.60 L298.21 59.82 L298.66 58.51 L299.11 59.25 L299.56 59.28 L300.01 59.61 L300.46 59.32 L300.92 57.79 L301.37 56.69 L301.82 56.33 L302.27 57.04 L302.72 57.69 L303.17 56.60 L303.62 55.11 L304.07 54.51 L304.52 54.37 L304.97 54.65 L305.42 53.30 L305.87 52.73 L306.32 51.57 L306.77 51.33 L307.22 48.53 L307.67 47.06 L308.12 46.87 L308.58 44.77 L309.03 42.07 L309.48 42.82 L309.93 41.92 L310.38 44.29 L310.83 45.71 L311.28 47.48 L311.73 50.10 L312.18 51.19 L312.63 52.23 L313.08 52.02 L313.53 52.53 L313.98 54.14 L314.43 52.74 L314.88 53.89 L315.33 54.32 L315.79 53.85 L316.24 52.52 L316.69 53.23 L317.14 52.92 L317.59 52.06 L318.04 51.71 L318.49 51.84 L318.94 52.23 L319.39 51.43 L319.84 50.25 L320.29 49.92 L320.74 49.71 L321.19 49.45 L321.64 48.51 L322.09 46.68 L322.54 45.85 L322.99 45.66 L323.45 42.51 L323.90 40.18 L324.35 38.18 L324.80 35.34 L325.25 32.20 L325.70 29.34 L326.15 24.38 L326.60 19.99 L327.05 14.23 L327.50 5.91 L327.95 -3.49 L328.40 -16.54 L328.85 -30.48 L329.30 -48.16 L329.75 -70.74 L330.20 -97.38 L330.66 -132.03 L331.11 -172.02 L331.56 -214.78 L332.01 -256.33 L332.46 -288.14 L332.91 -299.56 L333.36 -294.15 L333.81 -276.20 L334.26 -251.43 L334.71 -222.66 L335.16 -192.68 L335.61 -162.67 L336.06 -134.38 L336.51 -109.64 L336.96 -85.98 L337.41 -65.65 L337.86 -49.65 L338.32 -34.83 L338.77 -21.50 L339.22 -11.53 L339.67 -1.22 L340.12 7.36 L340.57 14.47 L341.02 19.53 L341.47 27.23 L341.92 31.45 L342.37 36.05 L342.82 40.16 L343.27 43.16 L343.72 45.95 L344.17 46.21 L344.62 48.48 L345.07 49.02 L345.52 50.89 L345.98 50.68 L346.43 50.67 L346.88 50.36 L347.33 51.82 L347.78 51.54 L348.23 50.94 L348.68 51.38 L349.13 53.45 L349.58 53.39 L350.03 53.39 L350.48 54.59 L350.93 54.29 L351.38 54.53 L351.83 54.01 L352.28 55.04 L352.73 54.82 L353.19 55.57 L353.64 54.73 L354.09 55.62 L354.54 55.21 L354.99 55.50 L355.44 55.61 L355.89 56.00 L356.34 55.84 L356.79 55.31 L357.24 56.08 L357.69 56.60 L358.14 54.96 L358.59 56.04 L359.04 54.48 L359.49 54.99 L359.94 55.09 L360.39 53.51 L360.85 52.77 L361.30 53.17 L361.75 52.65 L362.20 50.74 L362.65 50.01 L363.10 50.89 L363.55 51.37 L364.00 53.21 L364.45 53.72 L364.90 55.29 L365.35 55.60 L365.80 56.13 L366.25 56.49 L366.70 56.74 L367.15 56.06 L367.60 57.63 L368.05 57.69 L368.51 57.69 L368.96 56.21 L369.41 57.27 L369.86 58.36 L370.31 56.70 L370.76 56.73 L371.21 56.95 L371.66 58.05 L372.11 57.31 L372.56 58.32 L373.01 58.74 L373.46 57.18 L373.91 57.27 L374.36 58.63 L374.81 57.13 L375.26 58.94 L375.72 58.21 L376.17 58.69 L376.62 58.10 L377.07 57.77 L377.52 56.10 L377.97 56.42 L378.42 55.89 L378.87 55.02 L379.32 53.84 L379.77 51.95 L380.22 52.30 L380.67 53.79 L381.12 53.37 L381.57 54.77 L382.02 56.02 L382.47 56.77 L382.92 57.27 L383.38 57.56 L383.83 58.71 L384.28 58.82 L384.73 59.51 L385.18 59.39 L385.63 60.13 L386.08 60.23 L386.53 60.13 L386.98 59.78 L387.43 60.76 L387.88 59.34 L388.33 60.25 L388.78 59.38 L389.23 59.64 L389.68 58.92 L390.13 59.33 L390.58 59.63 L391.04 59.35 L391.49 58.48 L391.94 57.59 L392.39 56.64 L392.84 57.16 L393.29 55.89 L393.74 53.80 L394.19 51.07 L394.64 47.33 L395.09 42.72 L395.54 37.64 L395.99 35.93 L396.44 36.69 L396.89 41.38 L397.34 45.34 L397.79 49.15 L398.25 52.41 L398.70 53.95 L399.15 57.40 L399.60 58.01 L400.05 57.25 L400.50 58.82 L400.95 59.86 L401.40 59.00 L401.85 60.02 L402.30 59.98 L402.75 60.66 L403.20 60.97 L403.65 61.44 L404.10 60.40 L404.55 59.73 L405.00 59.73 L405.45 60.28 L405.91 59.97 L406.36 61.27 L406.81 61.45 L407.26 60.12 L407.71 60.86 L408.16 60.74 L408.61 62.21 L409.06 61.76 L409.51 61.23" stroke="#f0b040" stroke-width="1.2"/>
<path d="M257.21 82.63 L257.66 81.37 L258.11 81.00 L258.56 80.21 L259.01 81.20 L259.46 80.61 L259.91 80.28 L260.36 79.59 L260.81 77.95 L261.26 78.76 L261.71 77.38 L262.16 77.61 L262.61 77.01 L263.06 76.33 L263.52 75.12 L263.97 75.37 L264.42 76.40 L264.87 75.46 L265.32 75.30 L265.77 73.22 L266.22 72.82 L266.67 72.28 L267.12 71.68 L267.57 71.33 L268.02 70.39 L268.47 70.29 L268.92 71.09 L269.37 69.51 L269.82 70.11 L270.27 69.27 L270.73 69.41 L271.18 69.40 L271.63 69.20 L272.08 68.69 L272.53 68.55 L272.98 68.58 L273.43 66.61 L273.88 66.23 L274.33 65.37 L274.78 65.57 L275.23 65.42 L275.68 64.54 L276.13 65.44 L276.58 63.82 L277.03 63.91 L277.48 64.08 L277.93 63.63 L278.39 62.56 L278.84 62.80 L279.29 62.03 L279.74 61.43 L280.19 61.64 L280.64 62.00 L281.09 61.16 L281.54 61.66 L281.99 61.60 L282.44 61.62 L282.89 61.16 L283.34 61.73 L283.79 60.37 L284.24 59.62 L284.69 60.76 L285.14 59.94 L285.60 59.38 L286.05 61.23 L286.50 60.91 L286.95 59.34 L287.40 59.16 L287.85 59.49 L288.30 60.44 L288.75 59.77 L289.20 58.66 L289.65 58.52 L290.10 58.59 L290.55 59.80 L291.00 58.27 L291.45 59.21 L291.90 58.36 L292.35 59.54 L292.80 57.61 L293.26 58.32 L293.71 57.97 L294.16 59.01 L294.61 58.04 L295.06 58.03 L295.51 57.91 L295.96 58.31 L296.41 57.39 L296.86 58.11 L297.31 58.09 L297.76 58.24 L298.21 56.97 L298.66 58.09 L299.11 57.70 L299.56 57.90 L300.01 56.49 L300.46 56.47 L300.92 56.25 L301.37 57.07 L301.82 55.87 L302.27 55.72 L302.72 55.88 L303.17 55.66 L303.62 53.02 L304.07 54.45 L304.52 53.51 L304.97 52.98 L305.42 51.58 L305.87 52.10 L306.32 50.46 L306.77 49.71 L307.22 47.47 L307.67 47.81 L308.12 45.39 L308.58 43.33 L309.03 40.97 L309.48 41.50 L309.93 42.22 L310.38 43.27 L310.83 45.94 L311.28 48.35 L311.73 48.91 L312.18 49.32 L312.63 50.72 L313.08 52.56 L313.53 52.22 L313.98 52.29 L314.43 53.89 L314.88 53.36 L315.33 53.96 L315.79 54.19 L316.24 54.01 L316.69 54.01 L317.14 53.52 L317.59 53.99 L318.04 52.94 L318.49 53.31 L318.94 51.47 L319.39 51.39 L319.84 52.20 L320.29 49.94 L320.74 50.55 L321.19 49.15 L321.64 48.09 L322.09 47.55 L322.54 46.44 L322.99 44.73 L323.45 43.75 L323.90 40.25 L324.35 39.67 L324.80 35.48 L325.25 33.71 L325.70 29.83 L326.15 25.24 L326.60 20.74 L327.05 14.15 L327.50 5.88 L327.95 -3.79 L328.40 -16.43 L328.85 -31.15 L329.30 -47.08 L329.75 -70.56 L330.20 -97.40 L330.66 -132.63 L331.11 -171.20 L331.56 -215.88 L332.01 -257.00 L332.46 -287.53 L332.91 -298.87 L333.36 -293.20 L333.81 -277.80 L334.26 -251.57 L334.71 -223.03 L335.16 -191.97 L335.61 -161.77 L336.06 -134.69 L336.51 -108.07 L336.96 -86.76 L337.41 -67.05 L337.86 -50.63 L338.32 -35.00 L338.77 -23.13 L339.22 -11.04 L339.67 -1.74 L340.12 6.52 L340.57 13.34 L341.02 19.63 L341.47 26.99 L341.92 31.94 L342.37 35.49 L342.82 38.82 L343.27 42.94 L343.72 45.78 L344.17 46.12 L344.62 48.92 L345.07 50.36 L345.52 51.13 L345.98 51.64 L346.43 50.41 L346.88 51.97 L347.33 50.80 L347.78 50.65 L348.23 50.62 L348.68 51.43 L349.13 53.02 L349.58 53.20 L350.03 53.24 L350.48 53.89 L350.93 55.13 L351.38 54.32 L351.83 55.91 L352.28 55.57 L352.73 54.13 L353.19 55.30 L353.64 55.75 L354.09 54.60 L354.54 55.32 L354.99 56.28 L355.44 56.22 L355.89 55.73 L356.34 55.61 L356.79 54.45 L357.24 56.09 L357.69 54.84 L358.14 54.85 L358.59 55.75 L359.04 54.36 L359.49 54.63 L359.94 54.88 L360.39 54.86 L360.85 53.72 L361.30 51.89 L361.75 51.75 L362.20 51.72 L362.65 51.04 L363.10 51.18 L363.55 52.67 L364.00 52.86 L364.45 55.00 L364.90 54.07 L365.35 56.10 L365.80 56.74 L366.25 56.04 L366.70 56.94 L367.15 55.89 L367.60 56.91 L368.05 57.00 L368.51 56.42 L368.96 57.87 L369.41 56.78 L369.86 57.05 L370.31 57.59 L370.76 56.54 L371.21 58.70 L371.66 56.95 L372.11 58.60 L372.56 57.14 L373.01 58.70 L373.46 58.96 L373.91 58.00 L374.36 57.06 L374.81 58.50 L375.26 57.93 L375.72 57.55 L376.17 58.18 L376.62 57.31 L377.07 58.11 L377.52 56.69 L377.97 55.40 L378.42 55.56 L378.87 54.94 L379.32 54.42 L379.77 52.30 L380.22 52.69 L380.67 52.01 L381.12 53.25 L381.57 55.72 L382.02 55.00 L382.47 55.88 L382.92 56.91 L383.38 57.50 L383.83 58.32 L384.28 58.63 L384.73 59.07 L385.18 59.49 L385.63 60.42 L386.08 60.85 L386.53 59.67 L386.98 60.04 L387.43 61.25 L387.88 59.96 L388.33 59.99 L388.78 60.14 L389.23 59.46 L389.68 59.09 L390.13 59.99 L390.58 58.78 L391.04 59.15 L391.49 58.56 L391.94 58.33 L392.39 56.43 L392.84 56.47 L393.29 53.93 L393.74 53.30 L394.19 49.78 L394.64 45.45 L395.09 41.23 L395.54 37.37 L395.99 36.01 L396.44 37.14 L396.89 41.83 L397.34 45.67 L397.79 49.54 L398.25 51.88 L398.70 55.05 L399.15 56.56 L399.60 57.27 L400.05 57.63 L400.50 59.69 L400.95 59.84 L401.40 60.35 L401.85 60.23 L402.30 60.51 L402.75 59.23 L403.20 61.05 L403.65 59.58 L404.10 61.09 L404.55 61.37 L405.00 59.76 L405.45 61.77 L405.91 61.77 L406.36 61.78 L406.81 61.96 L407.26 61.30 L407.71 61.71 L408.16 61.86 L408.61 62.21 L409.06 60.73 L409.51 62.18" stroke="#b8f070" stroke-width="1.2"/>
<path d="M257.21 81.23 L257.66 79.59 L258.11 79.30 L258.56 78.22 L259.01 79.21 L259.46 78.72 L259.91 77.14 L260.36 76.76 L260.81 76.99 L261.26 75.61 L261.71 75.73 L262.16 74.40 L262.61 75.40 L263.06 74.78 L263.52 72.96 L263.97 73.88 L264.42 73.81 L264.87 72.22 L265.32 72.14 L265.77 72.67 L266.22 71.23 L266.67 70.40 L267.12 70.91 L267.57 69.28 L268.02 69.91 L268.47 68.97 L268.92 69.14 L269.37 68.58 L269.82 66.68 L270.27 67.69 L270.73 66.13 L271.18 67.03 L271.63 66.31 L272.08 65.37 L272.53 65.39 L272.98 66.24 L273.43 64.77 L273.88 64.24 L274.33 64.79 L274.78 64.53 L275.23 62.36 L275.68 62.71 L276.13 62.96 L276.58 61.96 L277.03 62.05 L277.48 60.37 L277.93 60.63 L278.39 61.13 L278.84 59.21 L279.29 60.49 L279.74 59.79 L280.19 60.09 L280.64 58.32 L281.09 59.61 L281.54 58.59 L281.99 59.41 L282.44 58.42 L282.89 57.82 L283.34 58.01 L283.79 58.05 L284.24 57.87 L284.69 57.88 L285.14 57.51 L285.60 58.58 L286.05 57.73 L286.50 58.22 L286.95 56.81 L287.40 56.62 L287.85 58.50 L288.30 58.30 L288.75 57.04 L289.20 57.29 L289.65 58.47 L290.10 56.92 L290.55 56.36 L291.00 57.46 L291.45 57.59 L291.90 57.06 L292.35 56.20 L292.80 57.63 L293.26 57.50 L293.71 57.70 L294.16 56.68 L294.61 56.96 L295.06 57.35 L295.51 56.97 L295.96 57.65 L296.41 56.94 L296.86 55.37 L297.31 56.13 L297.76 56.67 L298.21 55.12 L298.66 56.26 L299.11 56.37 L299.56 56.71 L300.01 56.33 L300.46 56.03 L300.92 55.74 L301.37 54.08 L301.82 55.14 L302.27 54.86 L302.72 53.74 L303.17 52.69 L303.62 53.65 L304.07 52.17 L304.52 52.52 L304.97 51.53 L305.42 50.80 L305.87 49.43 L306.32 49.08 L306.77 48.68 L307.22 46.76 L307.67 46.35 L308.12 44.65 L308.58 41.71 L309.03 41.33 L309.48 40.41 L309.93 42.08 L310.38 42.28 L310.83 44.84 L311.28 47.51 L311.73 47.63 L312.18 49.99 L312.63 51.34 L313.08 52.33 L313.53 53.31 L313.98 53.57 L314.43 52.82 L314.88 54.25 L315.33 54.11 L315.79 53.71 L316.24 53.42 L316.69 53.62 L317.14 52.56 L317.59 53.51 L318.04 53.00 L318.49 52.57 L318.94 52.85 L319.39 52.22 L319.84 51.89 L320.29 50.04 L320.74 50.65 L321.19 48.74 L321.64 48.82 L322.09 46.86 L322.54 45.64 L322.99 44.90 L323.45 42.00 L323.90 40.71 L324.35 38.69 L324.80 37.19 L325.25 33.29 L325.70 29.91 L326.15 25.06 L326.60 18.76 L327.05 12.53 L327.50 6.54 L327.95 -4.31 L328.40 -16.56 L328.85 -30.17 L329.30 -47.20 L329.75 -71.29 L330.20 -98.05 L330.66 -133.02 L331.11 -172.41 L331.56 -215.74 L332.01 -257.84 L332.46 -287.41 L332.91 -300.60 L333.36 -293.32 L333.81 -276.19 L334.26 -252.07 L334.71 -223.27 L335.16 -191.17 L335.61 -162.00 L336.06 -134.66 L336.51 -108.68 L336.96 -86.34 L337.41 -66.24 L337.86 -50.71 L338.32 -34.40 L338.77 -22.61 L339.22 -11.49 L339.67 -0.48 L340.12 5.69 L340.57 14.67 L341.02 19.43 L341.47 25.21 L341.92 30.26 L342.37 34.79 L342.82 39.73 L343.27 43.14 L343.72 45.68 L344.17 46.17 L344.62 49.51 L345.07 50.26 L345.52 49.14 L345.98 49.93 L346.43 50.45 L346.88 50.08 L347.33 51.22 L347.78 50.72 L348.23 51.84 L348.68 51.23 L349.13 53.80 L349.58 53.60 L350.03 53.80 L350.48 53.72 L350.93 54.84 L351.38 54.50 L351.83 54.02 L352.28 55.33 L352.73 55.87 L353.19 56.27 L353.64 54.45 L354.09 55.28 L354.54 55.45 L354.99 55.15 L355.44 56.02 L355.89 55.81 L356.34 55.82 L356.79 55.95 L357.24 54.74 L357.69 56.16 L358.14 56.52 L358.59 54.77 L359.04 55.31 L359.49 56.24 L359.94 54.46 L360.39 53.92 L360.85 53.31 L361.30 52.17 L361.75 52.00 L362.20 51.66 L362.65 50.23 L363.10 50.86 L363.55 51.54 L364.00 53.71 L364.45 54.26 L364.90 54.35 L365.35 55.65 L365.80 55.65 L366.25 56.30 L366.70 55.96 L367.15 57.07 L367.60 56.91 L368.05 56.32 L368.51 57.57 L368.96 57.95 L369.41 57.02 L369.86 58.18 L370.31 56.65 L370.76 58.04 L371.21 56.76 L371.66 57.67 L372.11 58.58 L372.56 57.84 L373.01 57.54 L373.46 58.01 L373.91 57.70 L374.36 58.28 L374.81 56.96 L375.26 58.61 L375.72 57.13 L376.17 58.66 L376.62 57.36 L377.07 57.99 L377.52 57.38 L377.97 55.78 L378.42 54.33 L378.87 54.75 L379.32 53.64 L379.77 52.79 L380.22 52.30 L380.67 53.24 L381.12 54.10 L381.57 54.07 L382.02 55.78 L382.47 57.16 L382.92 56.90 L383.38 57.13 L383.83 58.87 L384.28 60.18 L384.73 59.86 L385.18 58.82 L385.63 60.61 L386.08 60.71 L386.53 59.53 L386.98 61.10 L387.43 59.51 L387.88 60.87 L388.33 60.48 L388.78 59.96 L389.23 60.91 L389.68 59.31 L390.13 59.86 L390.58 58.88 L391.04 58.57 L391.49 59.64 L391.94 57.44 L392.39 56.68 L392.84 56.92 L393.29 54.73 L393.74 53.59 L394.19 50.07 L394.64 45.81 L395.09 41.91 L395.54 37.02 L395.99 35.89 L396.44 36.30 L396.89 41.36 L397.34 45.64 L397.79 51.08 L398.25 52.41 L398.70 55.84 L399.15 56.24 L399.60 58.00 L400.05 57.30 L400.50 59.63 L400.95 59.28 L401.40 59.63 L401.85 60.10 L402.30 61.03 L402.75 59.89 L403.20 59.37 L403.65 60.84 L404.10 59.76 L404.55 61.08 L405.00 61.30 L405.45 60.96 L405.91 59.88 L406.36 60.36 L406.81 60.72 L407.26 62.06 L407.71 61.19 L408.16 62.18 L408.61 62.10 L409.06 61.44 L409.51 61.76" stroke="#60e830" stroke-width="1.2"/>
</g>
<g clip-path="url(#clipc)" fill="none" stroke-linejoin="round">
<path d="M257.21 160.22 L257.66 160.42 L258.11 160.59 L258.56 158.97 L259.01 159.42 L259.46 158.87 L259.91 158.10 L260.36 157.11 L260.81 155.89 L261.26 156.39 L261.71 154.79 L262.16 154.25 L262.61 155.19 L263.06 154.99 L263.52 154.30 L263.97 152.46 L264.42 152.48 L264.87 151.42 L265.32 150.92 L265.77 151.20 L266.22 151.13 L266.67 151.80 L267.12 151.54 L267.57 149.55 L268.02 149.29 L268.47 148.52 L268.92 148.28 L269.37 147.42 L269.82 146.84 L270.27 145.70 L270.73 146.66 L271.18 145.37 L271.63 145.29 L272.08 143.91 L272.53 143.55 L272.98 144.41 L273.43 144.30 L273.88 143.47 L274.33 142.79 L274.78 141.37 L275.23 141.59 L275.68 140.49 L276.13 141.05 L276.58 140.47 L277.03 141.05 L277.48 140.03 L277.93 140.17 L278.39 139.35 L278.84 139.05 L279.29 139.76 L279.74 140.51 L280.19 138.66 L280.64 138.52 L281.09 139.34 L281.54 139.22 L281.99 138.29 L282.44 139.64 L282.89 139.65 L283.34 138.80 L283.79 138.87 L284.24 138.87 L284.69 138.61 L285.14 139.25 L285.60 139.44 L286.05 139.83 L286.50 139.87 L286.95 139.60 L287.40 139.53 L287.85 138.98 L288.30 139.28 L288.75 139.56 L289.20 139.88 L289.65 139.46 L290.10 140.00 L290.55 139.22 L291.00 139.55 L291.45 139.46 L291.90 140.12 L292.35 139.87 L292.80 139.53 L293.26 139.14 L293.71 140.07 L294.16 140.57 L294.61 139.93 L295.06 141.14 L295.51 140.79 L295.96 141.44 L296.41 140.45 L296.86 141.05 L297.31 140.69 L297.76 139.67 L298.21 139.69 L298.66 140.56 L299.11 139.41 L299.56 139.91 L300.01 137.91 L300.46 138.16 L300.92 137.07 L301.37 137.84 L301.82 136.37 L302.27 137.36 L302.72 135.59 L303.17 136.36 L303.62 136.80 L304.07 134.93 L304.52 134.85 L304.97 135.86 L305.42 134.81 L305.87 134.66 L306.32 134.92 L306.77 133.89 L307.22 132.25 L307.67 132.76 L308.12 131.23 L308.58 130.30 L309.03 129.18 L309.48 128.21 L309.93 126.18 L310.38 125.67 L310.83 123.71 L311.28 122.16 L311.73 121.50 L312.18 119.87 L312.63 119.23 L313.08 120.33 L313.53 122.43 L313.98 123.96 L314.43 125.25 L314.88 127.71 L315.33 129.07 L315.79 129.32 L316.24 131.63 L316.69 132.40 L317.14 132.80 L317.59 132.26 L318.04 133.13 L318.49 131.66 L318.94 131.65 L319.39 130.82 L319.84 130.07 L320.29 129.10 L320.74 128.08 L321.19 126.85 L321.64 124.70 L322.09 124.44 L322.54 123.49 L322.99 122.33 L323.45 122.43 L323.90 122.95 L324.35 121.45 L324.80 119.63 L325.25 118.19 L325.70 114.43 L326.15 111.71 L326.60 107.03 L327.05 100.81 L327.50 94.02 L327.95 84.51 L328.40 74.42 L328.85 61.43 L329.30 43.94 L329.75 23.47 L330.20 -1.66 L330.66 -31.06 L331.11 -67.36 L331.56 -106.46 L332.01 -145.78 L332.46 -173.89 L332.91 -183.93 L333.36 -180.32 L333.81 -163.85 L334.26 -141.89 L334.71 -117.54 L335.16 -89.20 L335.61 -63.15 L336.06 -37.64 L336.51 -14.22 L336.96 5.00 L337.41 21.80 L337.86 38.31 L338.32 49.79 L338.77 61.85 L339.22 71.21 L339.67 79.98 L340.12 86.35 L340.57 93.30 L341.02 98.93 L341.47 104.58 L341.92 107.56 L342.37 112.47 L342.82 115.00 L343.27 119.19 L343.72 121.68 L344.17 123.08 L344.62 125.67 L345.07 126.69 L345.52 127.90 L345.98 129.75 L346.43 130.39 L346.88 131.51 L347.33 132.89 L347.78 131.88 L348.23 132.97 L348.68 132.69 L349.13 133.46 L349.58 133.74 L350.03 134.99 L350.48 134.17 L350.93 134.73 L351.38 135.21 L351.83 135.73 L352.28 135.80 L352.73 136.31 L353.19 135.53 L353.64 136.34 L354.09 137.24 L354.54 136.64 L354.99 136.26 L355.44 136.37 L355.89 138.22 L356.34 137.29 L356.79 137.43 L357.24 137.79 L357.69 138.07 L358.14 137.92 L358.59 138.17 L359.04 138.03 L359.49 138.36 L359.94 137.13 L360.39 136.45 L360.85 135.65 L361.30 136.00 L361.75 135.10 L362.20 133.45 L362.65 131.92 L363.10 128.74 L363.55 128.97 L364.00 129.33 L364.45 130.77 L364.90 133.35 L365.35 135.36 L365.80 136.53 L366.25 137.92 L366.70 138.31 L367.15 139.35 L367.60 140.46 L368.05 141.02 L368.51 139.48 L368.96 141.23 L369.41 140.48 L369.86 139.84 L370.31 139.92 L370.76 140.07 L371.21 141.44 L371.66 141.42 L372.11 140.39 L372.56 141.15 L373.01 140.82 L373.46 140.66 L373.91 139.48 L374.36 139.34 L374.81 139.26 L375.26 138.96 L375.72 138.82 L376.17 140.03 L376.62 138.19 L377.07 139.17 L377.52 138.06 L377.97 137.37 L378.42 137.79 L378.87 135.50 L379.32 134.88 L379.77 133.21 L380.22 132.12 L380.67 129.87 L381.12 130.28 L381.57 130.75 L382.02 131.64 L382.47 133.18 L382.92 135.44 L383.38 136.78 L383.83 138.82 L384.28 138.84 L384.73 140.02 L385.18 140.34 L385.63 140.50 L386.08 140.56 L386.53 140.91 L386.98 140.08 L387.43 141.12 L387.88 141.08 L388.33 139.49 L388.78 139.62 L389.23 138.20 L389.68 138.41 L390.13 137.85 L390.58 137.06 L391.04 137.00 L391.49 134.65 L391.94 133.36 L392.39 131.59 L392.84 128.32 L393.29 124.30 L393.74 118.14 L394.19 112.02 L394.64 107.98 L395.09 108.40 L395.54 115.01 L395.99 120.88 L396.44 126.22 L396.89 129.23 L397.34 132.10 L397.79 135.01 L398.25 135.95 L398.70 137.22 L399.15 138.28 L399.60 138.47 L400.05 139.69 L400.50 139.91 L400.95 140.01 L401.40 140.19 L401.85 140.10 L402.30 140.43 L402.75 139.97 L403.20 140.80 L403.65 140.68 L404.10 141.33 L404.55 139.74 L405.00 140.04 L405.45 141.53 L405.91 140.24 L406.36 140.56 L406.81 140.17 L407.26 140.09 L407.71 140.35 L408.16 140.42 L408.61 141.11 L409.06 141.25 L409.51 140.97" stroke="#60e030" stroke-width="1.2"/>
<path d="M257.21 161.68 L257.66 161.18 L258.11 160.29 L258.56 159.32 L259.01 159.97 L259.46 159.56 L259.91 158.83 L260.36 157.27 L260.81 157.95 L261.26 156.23 L261.71 155.83 L262.16 156.32 L262.61 154.99 L263.06 154.63 L263.52 154.18 L263.97 152.53 L264.42 153.84 L264.87 153.55 L265.32 151.34 L265.77 152.05 L266.22 152.15 L266.67 151.64 L267.12 151.23 L267.57 149.63 L268.02 150.59 L268.47 150.00 L268.92 148.67 L269.37 148.11 L269.82 146.68 L270.27 146.29 L270.73 146.67 L271.18 146.46 L271.63 144.77 L272.08 144.13 L272.53 145.72 L272.98 143.90 L273.43 143.12 L273.88 142.96 L274.33 143.21 L274.78 141.46 L275.23 141.03 L275.68 141.60 L276.13 140.34 L276.58 141.01 L277.03 141.26 L277.48 140.55 L277.93 140.40 L278.39 140.12 L278.84 139.46 L279.29 138.92 L279.74 138.51 L280.19 138.31 L280.64 138.13 L281.09 138.40 L281.54 139.24 L281.99 139.43 L282.44 138.54 L282.89 138.68 L283.34 138.42 L283.79 139.56 L284.24 139.36 L284.69 137.91 L285.14 138.53 L285.60 138.33 L286.05 139.50 L286.50 138.94 L286.95 137.99 L287.40 138.59 L287.85 138.00 L288.30 139.67 L288.75 139.27 L289.20 138.69 L289.65 139.49 L290.10 138.90 L290.55 139.42 L291.00 140.35 L291.45 140.42 L291.90 138.69 L292.35 140.42 L292.80 140.32 L293.26 140.09 L293.71 139.41 L294.16 139.19 L294.61 140.00 L295.06 140.02 L295.51 139.49 L295.96 140.53 L296.41 140.36 L296.86 139.88 L297.31 139.74 L297.76 140.69 L298.21 140.27 L298.66 139.90 L299.11 138.39 L299.56 138.09 L300.01 137.15 L300.46 137.17 L300.92 137.79 L301.37 136.39 L301.82 135.59 L302.27 136.49 L302.72 136.83 L303.17 135.93 L303.62 135.93 L304.07 135.93 L304.52 135.96 L304.97 135.55 L305.42 133.79 L305.87 135.06 L306.32 133.54 L306.77 133.88 L307.22 133.35 L307.67 131.45 L308.12 131.70 L308.58 131.00 L309.03 129.37 L309.48 127.61 L309.93 126.49 L310.38 124.21 L310.83 123.43 L311.28 121.57 L311.73 119.85 L312.18 119.50 L312.63 118.89 L313.08 120.10 L313.53 122.07 L313.98 123.74 L314.43 124.19 L314.88 125.97 L315.33 127.11 L315.79 128.92 L316.24 130.18 L316.69 131.77 L317.14 130.90 L317.59 132.52 L318.04 131.79 L318.49 132.17 L318.94 131.39 L319.39 131.05 L319.84 130.04 L320.29 128.35 L320.74 127.21 L321.19 126.10 L321.64 123.43 L322.09 122.35 L322.54 121.37 L322.99 122.72 L323.45 121.48 L323.90 120.55 L324.35 120.93 L324.80 119.53 L325.25 116.15 L325.70 114.14 L326.15 110.36 L326.60 104.91 L327.05 100.06 L327.50 93.40 L327.95 84.72 L328.40 73.79 L328.85 59.87 L329.30 44.09 L329.75 22.88 L330.20 -0.96 L330.66 -32.00 L331.11 -68.73 L331.56 -107.86 L332.01 -145.93 L332.46 -175.43 L332.91 -184.89 L333.36 -179.41 L333.81 -164.32 L334.26 -143.30 L334.71 -116.87 L335.16 -89.75 L335.61 -61.96 L336.06 -36.94 L336.51 -15.15 L336.96 4.01 L337.41 22.29 L337.86 36.14 L338.32 49.80 L338.77 61.37 L339.22 70.34 L339.67 79.82 L340.12 86.38 L340.57 92.27 L341.02 98.45 L341.47 103.78 L341.92 108.53 L342.37 111.41 L342.82 115.56 L343.27 118.22 L343.72 120.59 L344.17 122.22 L344.62 124.67 L345.07 126.61 L345.52 127.34 L345.98 129.61 L346.43 130.46 L346.88 130.72 L347.33 131.66 L347.78 132.90 L348.23 133.00 L348.68 132.57 L349.13 134.04 L349.58 133.39 L350.03 134.92 L350.48 133.33 L350.93 134.04 L351.38 134.94 L351.83 133.82 L352.28 134.40 L352.73 136.15 L353.19 136.17 L353.64 136.04 L354.09 135.35 L354.54 137.31 L354.99 137.74 L355.44 137.42 L355.89 138.13 L356.34 137.56 L356.79 137.43 L357.24 137.72 L357.69 138.38 L358.14 138.65 L358.59 137.12 L359.04 137.80 L359.49 137.63 L359.94 137.42 L360.39 136.64 L360.85 135.64 L361.30 134.96 L361.75 133.97 L362.20 133.13 L362.65 131.47 L363.10 129.72 L363.55 127.40 L364.00 130.05 L364.45 131.21 L364.90 132.81 L365.35 135.86 L365.80 137.18 L366.25 138.22 L366.70 138.01 L367.15 139.15 L367.60 139.20 L368.05 141.03 L368.51 139.84 L368.96 140.51 L369.41 140.68 L369.86 139.90 L370.31 140.07 L370.76 139.71 L371.21 140.01 L371.66 139.62 L372.11 140.51 L372.56 140.18 L373.01 139.64 L373.46 140.20 L373.91 140.73 L374.36 139.73 L374.81 139.04 L375.26 138.91 L375.72 140.24 L376.17 139.56 L376.62 139.63 L377.07 139.10 L377.52 137.47 L377.97 137.99 L378.42 137.50 L378.87 136.65 L379.32 135.10 L379.77 133.11 L380.22 132.02 L380.67 130.79 L381.12 130.06 L381.57 130.73 L382.02 131.10 L382.47 134.42 L382.92 134.94 L383.38 137.57 L383.83 137.30 L384.28 139.16 L384.73 138.79 L385.18 139.98 L385.63 141.06 L386.08 141.29 L386.53 139.90 L386.98 140.34 L387.43 140.31 L387.88 140.37 L388.33 139.43 L388.78 139.50 L389.23 139.90 L389.68 138.32 L390.13 138.24 L390.58 136.39 L391.04 135.97 L391.49 134.22 L391.94 133.79 L392.39 130.30 L392.84 127.29 L393.29 122.45 L393.74 116.80 L394.19 111.51 L394.64 107.67 L395.09 108.38 L395.54 114.43 L395.99 119.91 L396.44 124.58 L396.89 128.85 L397.34 131.79 L397.79 133.24 L398.25 134.54 L398.70 137.12 L399.15 138.38 L399.60 138.02 L400.05 139.49 L400.50 138.25 L400.95 139.53 L401.40 139.67 L401.85 139.31 L402.30 139.38 L402.75 140.96 L403.20 140.46 L403.65 141.10 L404.10 140.63 L404.55 141.35 L405.00 139.95 L405.45 141.03 L405.91 141.01 L406.36 140.05 L406.81 140.24 L407.26 141.24 L407.71 140.95 L408.16 140.66 L408.61 141.64 L409.06 141.78 L409.51 140.38" stroke="#50d850" stroke-width="1.2"/>
<path d="M257.21 162.34 L257.66 161.77 L258.11 161.24 L258.56 159.67 L259.01 160.03 L259.46 159.11 L259.91 159.84 L260.36 158.50 L260.81 157.30 L261.26 157.38 L261.71 155.98 L262.16 155.54 L262.61 156.00 L263.06 156.18 L263.52 154.16 L263.97 154.90 L264.42 154.65 L264.87 152.78 L265.32 152.15 L265.77 151.80 L266.22 151.25 L266.67 152.48 L267.12 152.39 L267.57 151.89 L268.02 149.70 L268.47 150.86 L268.92 150.17 L269.37 149.83 L269.82 149.16 L270.27 148.58 L270.73 147.38 L271.18 147.24 L271.63 146.49 L272.08 144.90 L272.53 145.97 L272.98 144.08 L273.43 143.48 L273.88 142.96 L274.33 142.03 L274.78 140.72 L275.23 140.20 L275.68 140.14 L276.13 139.38 L276.58 139.33 L277.03 138.92 L277.48 137.66 L277.93 138.61 L278.39 139.11 L278.84 138.04 L279.29 137.04 L279.74 137.39 L280.19 136.46 L280.64 137.24 L281.09 136.91 L281.54 135.44 L281.99 136.54 L282.44 136.12 L282.89 136.12 L283.34 136.70 L283.79 137.20 L284.24 137.42 L284.69 135.68 L285.14 136.28 L285.60 135.82 L286.05 136.77 L286.50 136.00 L286.95 136.34 L287.40 136.99 L287.85 137.34 L288.30 137.54 L288.75 138.25 L289.20 138.08 L289.65 137.49 L290.10 138.60 L290.55 137.35 L291.00 138.06 L291.45 137.92 L291.90 137.55 L292.35 137.99 L292.80 139.13 L293.26 139.04 L293.71 139.65 L294.16 139.70 L294.61 137.96 L295.06 138.73 L295.51 138.03 L295.96 138.43 L296.41 139.36 L296.86 138.06 L297.31 138.06 L297.76 138.77 L298.21 139.24 L298.66 138.48 L299.11 138.44 L299.56 137.69 L300.01 137.88 L300.46 136.25 L300.92 135.34 L301.37 136.48 L301.82 134.99 L302.27 135.03 L302.72 134.90 L303.17 133.90 L303.62 134.76 L304.07 133.68 L304.52 135.02 L304.97 132.92 L305.42 134.18 L305.87 134.20 L306.32 132.07 L306.77 131.92 L307.22 131.46 L307.67 130.63 L308.12 130.62 L308.58 130.22 L309.03 128.72 L309.48 126.19 L309.93 124.68 L310.38 124.56 L310.83 122.45 L311.28 120.82 L311.73 118.59 L312.18 119.51 L312.63 117.77 L313.08 119.62 L313.53 120.33 L313.98 122.79 L314.43 124.61 L314.88 124.72 L315.33 126.98 L315.79 127.34 L316.24 128.58 L316.69 129.55 L317.14 131.36 L317.59 130.50 L318.04 129.55 L318.49 130.27 L318.94 130.76 L319.39 129.93 L319.84 127.47 L320.29 126.26 L320.74 126.12 L321.19 124.19 L321.64 121.71 L322.09 120.90 L322.54 120.76 L322.99 118.98 L323.45 119.62 L323.90 119.78 L324.35 119.59 L324.80 117.15 L325.25 114.52 L325.70 112.78 L326.15 109.28 L326.60 103.42 L327.05 97.35 L327.50 91.43 L327.95 82.63 L328.40 71.67 L328.85 58.71 L329.30 43.09 L329.75 22.41 L330.20 -2.65 L330.66 -33.27 L331.11 -69.01 L331.56 -108.99 L332.01 -146.64 L332.46 -176.49 L332.91 -186.18 L333.36 -182.12 L333.81 -166.99 L334.26 -143.97 L334.71 -117.64 L335.16 -90.96 L335.61 -63.87 L336.06 -38.95 L336.51 -15.56 L336.96 3.58 L337.41 20.54 L337.86 36.25 L338.32 49.66 L338.77 59.60 L339.22 70.57 L339.67 77.62 L340.12 85.55 L340.57 93.30 L341.02 98.02 L341.47 103.53 L341.92 106.61 L342.37 111.17 L342.82 115.24 L343.27 116.57 L343.72 119.59 L344.17 122.41 L344.62 124.41 L345.07 127.03 L345.52 126.64 L345.98 129.18 L346.43 129.74 L346.88 130.65 L347.33 131.39 L347.78 132.88 L348.23 131.63 L348.68 132.82 L349.13 133.34 L349.58 132.69 L350.03 132.93 L350.48 133.41 L350.93 133.23 L351.38 134.52 L351.83 135.19 L352.28 134.93 L352.73 134.72 L353.19 134.75 L353.64 135.21 L354.09 135.73 L354.54 136.07 L354.99 136.18 L355.44 136.57 L355.89 137.87 L356.34 136.97 L356.79 137.64 L357.24 138.15 L357.69 137.15 L358.14 136.75 L358.59 137.87 L359.04 137.07 L359.49 137.07 L359.94 136.74 L360.39 135.98 L360.85 135.75 L361.30 136.13 L361.75 133.88 L362.20 132.79 L362.65 130.66 L363.10 128.23 L363.55 128.42 L364.00 128.61 L364.45 130.20 L364.90 134.20 L365.35 134.60 L365.80 136.37 L366.25 138.10 L366.70 138.24 L367.15 140.24 L367.60 140.43 L368.05 139.02 L368.51 139.94 L368.96 140.96 L369.41 141.11 L369.86 140.52 L370.31 140.33 L370.76 139.43 L371.21 140.98 L371.66 140.04 L372.11 140.36 L372.56 140.05 L373.01 139.20 L373.46 140.74 L373.91 139.21 L374.36 139.31 L374.81 140.10 L375.26 140.26 L375.72 138.87 L376.17 138.48 L376.62 139.24 L377.07 139.32 L377.52 138.07 L377.97 137.29 L378.42 137.18 L378.87 136.12 L379.32 135.49 L379.77 133.86 L380.22 131.94 L380.67 129.33 L381.12 129.93 L381.57 130.53 L382.02 131.66 L382.47 134.05 L382.92 135.68 L383.38 136.08 L383.83 138.16 L384.28 138.37 L384.73 139.99 L385.18 139.65 L385.63 139.68 L386.08 140.45 L386.53 140.96 L386.98 141.20 L387.43 140.57 L387.88 140.08 L388.33 140.41 L388.78 139.40 L389.23 138.80 L389.68 139.14 L390.13 137.29 L390.58 135.90 L391.04 135.38 L391.49 134.56 L391.94 132.06 L392.39 129.49 L392.84 126.27 L393.29 121.89 L393.74 116.66 L394.19 110.36 L394.64 106.94 L395.09 108.87 L395.54 114.32 L395.99 119.67 L396.44 124.42 L396.89 129.20 L397.34 131.88 L397.79 134.52 L398.25 136.17 L398.70 136.93 L399.15 136.68 L399.60 138.96 L400.05 139.35 L400.50 139.24 L400.95 138.43 L401.40 140.17 L401.85 140.73 L402.30 140.90 L402.75 140.46 L403.20 141.26 L403.65 140.05 L404.10 141.35 L404.55 141.18 L405.00 141.48 L405.45 141.16 L405.91 141.58 L406.36 141.48 L406.81 141.47 L407.26 141.43 L407.71 140.68 L408.16 141.24 L408.61 141.60 L409.06 142.02 L409.51 140.37" stroke="#40e8b8" stroke-width="1.2"/>
<path d="M257.21 162.08 L257.66 161.65 L258.11 160.93 L258.56 161.59 L259.01 160.40 L259.46 159.44 L259.91 158.89 L260.36 159.78 L260.81 158.30 L261.26 157.80 L261.71 157.45 L262.16 155.95 L262.61 156.24 L263.06 155.84 L263.52 154.31 L263.97 154.39 L264.42 154.55 L264.87 154.07 L265.32 153.27 L265.77 153.76 L266.22 152.32 L266.67 151.78 L267.12 152.06 L267.57 150.80 L268.02 150.14 L268.47 150.32 L268.92 149.47 L269.37 149.95 L269.82 149.44 L270.27 146.97 L270.73 147.73 L271.18 147.28 L271.63 145.38 L272.08 145.17 L272.53 145.75 L272.98 144.41 L273.43 143.41 L273.88 142.01 L274.33 141.06 L274.78 138.49 L275.23 137.42 L275.68 135.94 L276.13 135.45 L276.58 135.31 L277.03 135.46 L277.48 133.83 L277.93 134.00 L278.39 134.12 L278.84 134.52 L279.29 133.81 L279.74 133.00 L280.19 131.58 L280.64 130.99 L281.09 129.54 L281.54 128.98 L281.99 128.83 L282.44 128.31 L282.89 129.43 L283.34 130.28 L283.79 131.36 L284.24 131.73 L284.69 131.83 L285.14 133.23 L285.60 134.05 L286.05 133.49 L286.50 134.06 L286.95 133.60 L287.40 135.23 L287.85 133.98 L288.30 135.89 L288.75 134.99 L289.20 135.24 L289.65 135.47 L290.10 134.22 L290.55 134.43 L291.00 135.38 L291.45 134.77 L291.90 134.71 L292.35 136.20 L292.80 136.53 L293.26 135.94 L293.71 136.05 L294.16 136.88 L294.61 137.19 L295.06 137.19 L295.51 137.80 L295.96 136.67 L296.41 136.56 L296.86 137.54 L297.31 138.41 L297.76 137.50 L298.21 136.47 L298.66 137.16 L299.11 137.29 L299.56 136.80 L300.01 135.41 L300.46 135.23 L300.92 135.53 L301.37 134.50 L301.82 133.88 L302.27 133.14 L302.72 133.10 L303.17 133.72 L303.62 132.81 L304.07 132.39 L304.52 132.29 L304.97 132.29 L305.42 132.33 L305.87 132.15 L306.32 131.10 L306.77 131.09 L307.22 130.36 L307.67 130.69 L308.12 130.19 L308.58 128.92 L309.03 127.22 L309.48 125.97 L309.93 125.26 L310.38 123.67 L310.83 120.49 L311.28 120.62 L311.73 117.60 L312.18 117.06 L312.63 117.33 L313.08 117.20 L313.53 119.10 L313.98 122.04 L314.43 121.92 L314.88 124.62 L315.33 125.12 L315.79 126.59 L316.24 128.93 L316.69 129.86 L317.14 130.35 L317.59 128.99 L318.04 128.80 L318.49 129.61 L318.94 129.37 L319.39 128.19 L319.84 126.35 L320.29 125.13 L320.74 123.19 L321.19 121.11 L321.64 119.76 L322.09 118.33 L322.54 119.18 L322.99 119.02 L323.45 117.28 L323.90 117.43 L324.35 117.16 L324.80 116.10 L325.25 113.57 L325.70 110.71 L326.15 106.75 L326.60 102.27 L327.05 97.11 L327.50 90.38 L327.95 81.56 L328.40 71.10 L328.85 58.00 L329.30 41.02 L329.75 21.23 L330.20 -5.26 L330.66 -35.36 L331.11 -71.11 L331.56 -110.81 L332.01 -147.97 L332.46 -176.12 L332.91 -186.91 L333.36 -182.06 L333.81 -167.24 L334.26 -145.04 L334.71 -119.02 L335.16 -92.51 L335.61 -63.95 L336.06 -39.74 L336.51 -17.00 L336.96 3.18 L337.41 19.74 L337.86 35.85 L338.32 49.28 L338.77 60.34 L339.22 68.48 L339.67 78.20 L340.12 86.01 L340.57 90.74 L341.02 97.01 L341.47 101.33 L341.92 106.93 L342.37 109.84 L342.82 114.80 L343.27 117.47 L343.72 119.10 L344.17 122.11 L344.62 123.49 L345.07 125.94 L345.52 126.38 L345.98 129.16 L346.43 129.09 L346.88 130.80 L347.33 131.49 L347.78 130.73 L348.23 132.12 L348.68 131.77 L349.13 133.15 L349.58 132.54 L350.03 132.43 L350.48 133.20 L350.93 134.17 L351.38 133.51 L351.83 133.15 L352.28 133.66 L352.73 134.66 L353.19 135.15 L353.64 136.11 L354.09 135.10 L354.54 136.59 L354.99 136.72 L355.44 137.31 L355.89 137.24 L356.34 136.97 L356.79 136.93 L357.24 137.63 L357.69 137.22 L358.14 136.62 L358.59 137.94 L359.04 137.84 L359.49 136.99 L359.94 136.01 L360.39 135.60 L360.85 135.70 L361.30 135.80 L361.75 133.06 L362.20 131.20 L362.65 129.37 L363.10 128.18 L363.55 127.66 L364.00 128.37 L364.45 130.19 L364.90 132.13 L365.35 135.08 L365.80 136.57 L366.25 138.12 L366.70 138.55 L367.15 139.21 L367.60 140.07 L368.05 139.97 L368.51 139.25 L368.96 140.71 L369.41 140.74 L369.86 140.68 L370.31 139.59 L370.76 140.66 L371.21 139.59 L371.66 139.33 L372.11 139.37 L372.56 139.43 L373.01 140.55 L373.46 139.94 L373.91 139.10 L374.36 140.13 L374.81 139.30 L375.26 138.64 L375.72 138.36 L376.17 139.33 L376.62 139.52 L377.07 139.35 L377.52 138.34 L377.97 137.31 L378.42 137.09 L378.87 135.05 L379.32 134.13 L379.77 132.61 L380.22 130.43 L380.67 129.85 L381.12 128.54 L381.57 129.90 L382.02 131.69 L382.47 133.94 L382.92 134.32 L383.38 135.51 L383.83 138.34 L384.28 137.86 L384.73 139.84 L385.18 139.68 L385.63 140.28 L386.08 139.41 L386.53 140.33 L386.98 140.09 L387.43 140.24 L387.88 140.21 L388.33 139.93 L388.78 139.91 L389.23 139.55 L389.68 137.94 L390.13 136.89 L390.58 136.19 L391.04 135.96 L391.49 133.19 L391.94 133.23 L392.39 130.17 L392.84 127.13 L393.29 123.05 L393.74 115.90 L394.19 110.42 L394.64 107.80 L395.09 108.78 L395.54 112.61 L395.99 119.55 L396.44 124.89 L396.89 128.84 L397.34 131.67 L397.79 133.28 L398.25 135.42 L398.70 136.08 L399.15 138.06 L399.60 137.87 L400.05 138.35 L400.50 139.26 L400.95 138.50 L401.40 138.64 L401.85 139.40 L402.30 140.07 L402.75 140.71 L403.20 139.94 L403.65 140.73 L404.10 141.08 L404.55 140.44 L405.00 141.18 L405.45 140.39 L405.91 140.22 L406.36 141.75 L406.81 140.58 L407.26 141.50 L407.71 141.26 L408.16 140.54 L408.61 140.10 L409.06 141.43 L409.51 140.59" stroke="#48e8f0" stroke-width="1.2"/>
<path d="M257.21 163.27 L257.66 162.84 L258.11 161.96 L258.56 161.43 L259.01 161.00 L259.46 161.52 L259.91 159.83 L260.36 160.31 L260.81 159.97 L261.26 159.79 L261.71 158.37 L262.16 158.47 L262.61 157.64 L263.06 156.38 L263.52 155.48 L263.97 154.97 L264.42 155.76 L264.87 155.32 L265.32 154.47 L265.77 153.47 L266.22 152.53 L266.67 152.29 L267.12 151.69 L267.57 151.95 L268.02 151.35 L268.47 151.48 L268.92 150.83 L269.37 150.41 L269.82 149.10 L270.27 148.29 L270.73 147.68 L271.18 147.38 L271.63 146.66 L272.08 146.36 L272.53 144.27 L272.98 143.36 L273.43 141.33 L273.88 139.23 L274.33 138.07 L274.78 136.05 L275.23 133.40 L275.68 130.18 L276.13 129.06 L276.58 129.43 L277.03 128.81 L277.48 129.85 L277.93 128.81 L278.39 130.02 L278.84 128.03 L279.29 126.46 L279.74 126.10 L280.19 124.23 L280.64 122.93 L281.09 120.84 L281.54 119.70 L281.99 119.32 L282.44 120.53 L282.89 121.50 L283.34 123.58 L283.79 124.39 L284.24 126.04 L284.69 127.54 L285.14 127.01 L285.60 128.94 L286.05 129.02 L286.50 128.96 L286.95 129.79 L287.40 129.87 L287.85 130.96 L288.30 130.73 L288.75 132.48 L289.20 131.16 L289.65 131.77 L290.10 131.48 L290.55 130.21 L291.00 129.98 L291.45 130.81 L291.90 131.10 L292.35 131.90 L292.80 131.41 L293.26 132.81 L293.71 134.17 L294.16 134.15 L294.61 135.49 L295.06 135.36 L295.51 135.11 L295.96 134.33 L296.41 134.66 L296.86 135.34 L297.31 134.92 L297.76 135.83 L298.21 134.79 L298.66 133.97 L299.11 135.37 L299.56 133.54 L300.01 133.12 L300.46 134.01 L300.92 132.79 L301.37 132.10 L301.82 133.44 L302.27 132.49 L302.72 131.94 L303.17 131.40 L303.62 132.29 L304.07 131.16 L304.52 131.06 L304.97 130.52 L305.42 130.50 L305.87 129.94 L306.32 130.07 L306.77 129.75 L307.22 129.38 L307.67 128.86 L308.12 127.99 L308.58 127.02 L309.03 126.15 L309.48 125.38 L309.93 123.44 L310.38 120.76 L310.83 120.36 L311.28 117.42 L311.73 116.39 L312.18 116.30 L312.63 116.64 L313.08 116.02 L313.53 117.13 L313.98 119.99 L314.43 120.97 L314.88 122.43 L315.33 124.15 L315.79 126.38 L316.24 127.13 L316.69 126.88 L317.14 127.47 L317.59 127.53 L318.04 128.10 L318.49 126.52 L318.94 126.14 L319.39 125.88 L319.84 124.01 L320.29 123.61 L320.74 121.32 L321.19 119.32 L321.64 116.55 L322.09 115.25 L322.54 115.69 L322.99 114.67 L323.45 115.60 L323.90 114.14 L324.35 113.32 L324.80 112.31 L325.25 111.50 L325.70 108.16 L326.15 104.81 L326.60 99.63 L327.05 94.95 L327.50 87.98 L327.95 79.37 L328.40 67.30 L328.85 54.71 L329.30 37.88 L329.75 17.43 L330.20 -6.94 L330.66 -38.04 L331.11 -73.09 L331.56 -112.73 L332.01 -149.76 L332.46 -178.82 L332.91 -188.77 L333.36 -184.07 L333.81 -170.14 L334.26 -148.16 L334.71 -121.49 L335.16 -92.50 L335.61 -67.38 L336.06 -41.35 L336.51 -18.97 L336.96 1.59 L337.41 18.36 L337.86 34.44 L338.32 47.96 L338.77 58.60 L339.22 68.95 L339.67 77.38 L340.12 84.84 L340.57 90.30 L341.02 96.00 L341.47 101.89 L341.92 105.37 L342.37 110.56 L342.82 112.22 L343.27 116.71 L343.72 118.92 L344.17 121.68 L344.62 122.65 L345.07 125.13 L345.52 127.08 L345.98 126.92 L346.43 128.49 L346.88 129.98 L347.33 129.82 L347.78 130.06 L348.23 130.86 L348.68 131.18 L349.13 132.39 L349.58 132.92 L350.03 133.53 L350.48 132.08 L350.93 133.60 L351.38 133.53 L351.83 132.88 L352.28 134.47 L352.73 133.16 L353.19 134.29 L353.64 135.43 L354.09 134.49 L354.54 135.06 L354.99 136.52 L355.44 135.91 L355.89 135.67 L356.34 136.71 L356.79 136.74 L357.24 135.83 L357.69 137.34 L358.14 137.18 L358.59 137.46 L359.04 136.71 L359.49 136.72 L359.94 136.83 L360.39 136.79 L360.85 136.14 L361.30 134.03 L361.75 133.17 L362.20 131.09 L362.65 130.43 L363.10 126.85 L363.55 126.55 L364.00 127.91 L364.45 129.68 L364.90 133.56 L365.35 134.51 L365.80 136.69 L366.25 138.44 L366.70 137.93 L367.15 140.05 L367.60 139.01 L368.05 140.16 L368.51 139.21 L368.96 140.88 L369.41 140.11 L369.86 139.16 L370.31 140.05 L370.76 139.85 L371.21 140.01 L371.66 139.81 L372.11 140.12 L372.56 140.30 L373.01 140.15 L373.46 138.97 L373.91 139.88 L374.36 139.03 L374.81 138.43 L375.26 138.31 L375.72 138.32 L376.17 138.02 L376.62 138.23 L377.07 138.08 L377.52 138.46 L377.97 137.92 L378.42 136.69 L378.87 135.33 L379.32 134.03 L379.77 133.37 L380.22 130.44 L380.67 129.31 L381.12 128.54 L381.57 129.93 L382.02 130.26 L382.47 132.14 L382.92 134.00 L383.38 136.69 L383.83 138.01 L384.28 137.08 L384.73 138.47 L385.18 138.38 L385.63 139.88 L386.08 139.41 L386.53 140.74 L386.98 140.70 L387.43 139.33 L387.88 139.11 L388.33 139.41 L388.78 138.66 L389.23 138.00 L389.68 138.21 L390.13 137.96 L390.58 136.19 L391.04 135.51 L391.49 132.78 L391.94 132.53 L392.39 129.47 L392.84 126.83 L393.29 122.02 L393.74 116.84 L394.19 110.82 L394.64 106.00 L395.09 107.07 L395.54 112.35 L395.99 117.80 L396.44 123.11 L396.89 127.94 L397.34 130.17 L397.79 132.73 L398.25 134.17 L398.70 136.46 L399.15 136.08 L399.60 137.32 L400.05 139.05 L400.50 139.69 L400.95 139.29 L401.40 139.00 L401.85 139.87 L402.30 139.98 L402.75 139.40 L403.20 140.55 L403.65 141.10 L404.10 140.46 L404.55 140.71 L405.00 140.22 L405.45 141.39 L405.91 139.99 L406.36 139.80 L406.81 140.33 L407.26 140.85 L407.71 141.51 L408.16 141.88 L408.61 140.67 L409.06 140.18 L409.51 141.47" stroke="#3a88f0" stroke-width="1.2"/>
<path d="M257.21 163.75 L257.66 163.03 L258.11 162.65 L258.56 161.99 L259.01 162.66 L259.46 160.80 L259.91 161.05 L260.36 160.12 L260.81 159.51 L261.26 158.56 L261.71 159.24 L262.16 158.44 L262.61 157.14 L263.06 156.79 L263.52 155.88 L263.97 156.07 L264.42 154.35 L264.87 155.70 L265.32 153.82 L265.77 154.07 L266.22 154.36 L266.67 152.74 L267.12 153.62 L267.57 152.83 L268.02 152.14 L268.47 151.90 L268.92 151.27 L269.37 150.79 L269.82 148.57 L270.27 149.37 L270.73 148.49 L271.18 147.92 L271.63 145.53 L272.08 145.48 L272.53 143.75 L272.98 141.79 L273.43 140.68 L273.88 138.47 L274.33 135.77 L274.78 133.10 L275.23 129.57 L275.68 126.36 L276.13 125.62 L276.58 124.67 L277.03 124.62 L277.48 125.05 L277.93 125.44 L278.39 125.33 L278.84 125.35 L279.29 123.40 L279.74 120.54 L280.19 118.99 L280.64 115.93 L281.09 114.37 L281.54 112.11 L281.99 112.53 L282.44 112.47 L282.89 114.40 L283.34 118.33 L283.79 119.33 L284.24 122.43 L284.69 122.34 L285.14 125.12 L285.60 126.17 L286.05 125.40 L286.50 126.81 L286.95 128.73 L287.40 128.43 L287.85 128.17 L288.30 129.80 L288.75 128.77 L289.20 129.60 L289.65 129.00 L290.10 128.58 L290.55 128.67 L291.00 127.57 L291.45 127.32 L291.90 127.58 L292.35 128.62 L292.80 130.45 L293.26 130.65 L293.71 132.18 L294.16 131.69 L294.61 133.82 L295.06 132.88 L295.51 134.54 L295.96 133.82 L296.41 134.39 L296.86 134.29 L297.31 133.89 L297.76 133.61 L298.21 135.06 L298.66 133.13 L299.11 133.36 L299.56 134.18 L300.01 132.71 L300.46 132.18 L300.92 132.72 L301.37 131.40 L301.82 132.50 L302.27 131.62 L302.72 131.75 L303.17 130.48 L303.62 131.36 L304.07 131.30 L304.52 129.64 L304.97 130.58 L305.42 130.22 L305.87 129.44 L306.32 130.11 L306.77 128.43 L307.22 128.15 L307.67 127.91 L308.12 126.55 L308.58 125.50 L309.03 125.97 L309.48 123.02 L309.93 122.45 L310.38 120.34 L310.83 118.89 L311.28 116.73 L311.73 115.79 L312.18 115.99 L312.63 116.06 L313.08 116.24 L313.53 117.76 L313.98 119.39 L314.43 120.45 L314.88 122.15 L315.33 123.80 L315.79 124.30 L316.24 126.48 L316.69 126.59 L317.14 127.01 L317.59 126.79 L318.04 126.07 L318.49 126.17 L318.94 126.69 L319.39 124.62 L319.84 123.87 L320.29 122.17 L320.74 119.96 L321.19 118.56 L321.64 115.48 L322.09 114.92 L322.54 114.20 L322.99 113.71 L323.45 114.67 L323.90 113.85 L324.35 111.74 L324.80 112.06 L325.25 109.46 L325.70 105.92 L326.15 102.92 L326.60 98.13 L327.05 92.09 L327.50 85.21 L327.95 77.51 L328.40 67.14 L328.85 54.72 L329.30 36.99 L329.75 17.91 L330.20 -7.82 L330.66 -37.67 L331.11 -74.74 L331.56 -113.43 L332.01 -150.62 L332.46 -180.05 L332.91 -189.67 L333.36 -184.74 L333.81 -169.67 L334.26 -148.53 L334.71 -122.01 L335.16 -93.61 L335.61 -66.84 L336.06 -41.91 L336.51 -19.98 L336.96 1.03 L337.41 17.75 L337.86 34.29 L338.32 47.34 L338.77 57.40 L339.22 68.05 L339.67 77.20 L340.12 84.32 L340.57 90.36 L341.02 96.70 L341.47 101.13 L341.92 104.32 L342.37 110.05 L342.82 112.98 L343.27 116.15 L343.72 119.26 L344.17 120.18 L344.62 123.43 L345.07 125.26 L345.52 126.19 L345.98 128.13 L346.43 128.36 L346.88 129.81 L347.33 129.91 L347.78 131.21 L348.23 130.29 L348.68 131.43 L349.13 131.50 L349.58 132.64 L350.03 133.25 L350.48 133.08 L350.93 132.78 L351.38 133.97 L351.83 133.82 L352.28 132.58 L352.73 134.13 L353.19 134.76 L353.64 133.89 L354.09 135.26 L354.54 135.03 L354.99 135.35 L355.44 135.64 L355.89 136.74 L356.34 135.65 L356.79 136.51 L357.24 135.59 L357.69 135.47 L358.14 136.72 L358.59 135.78 L359.04 135.58 L359.49 137.04 L359.94 136.57 L360.39 134.96 L360.85 134.44 L361.30 134.87 L361.75 133.66 L362.20 130.73 L362.65 130.24 L363.10 128.11 L363.55 127.32 L364.00 128.25 L364.45 130.20 L364.90 133.23 L365.35 135.14 L365.80 135.20 L366.25 137.44 L366.70 138.40 L367.15 139.44 L367.60 138.41 L368.05 139.41 L368.51 139.84 L368.96 140.64 L369.41 139.53 L369.86 140.33 L370.31 139.21 L370.76 140.72 L371.21 139.80 L371.66 139.36 L372.11 139.59 L372.56 138.83 L373.01 138.68 L373.46 139.14 L373.91 140.27 L374.36 138.46 L374.81 139.19 L375.26 139.32 L375.72 139.28 L376.17 139.64 L376.62 138.99 L377.07 138.62 L377.52 138.02 L377.97 136.34 L378.42 136.84 L378.87 135.59 L379.32 133.62 L379.77 132.91 L380.22 129.81 L380.67 129.75 L381.12 128.15 L381.57 129.53 L382.02 131.45 L382.47 132.21 L382.92 134.21 L383.38 135.75 L383.83 137.23 L384.28 138.08 L384.73 139.36 L385.18 140.07 L385.63 139.60 L386.08 139.52 L386.53 140.34 L386.98 139.74 L387.43 139.56 L387.88 139.52 L388.33 139.53 L388.78 138.46 L389.23 138.39 L389.68 137.61 L390.13 136.21 L390.58 135.71 L391.04 134.26 L391.49 132.92 L391.94 131.47 L392.39 129.89 L392.84 125.29 L393.29 121.59 L393.74 115.33 L394.19 110.82 L394.64 105.89 L395.09 107.10 L395.54 111.72 L395.99 118.06 L396.44 123.15 L396.89 127.67 L397.34 129.86 L397.79 132.50 L398.25 135.22 L398.70 134.89 L399.15 137.25 L399.60 138.14 L400.05 138.58 L400.50 137.99 L400.95 138.70 L401.40 139.10 L401.85 139.94 L402.30 139.59 L402.75 139.16 L403.20 139.66 L403.65 140.19 L404.10 139.72 L404.55 140.80 L405.00 141.27 L405.45 140.06 L405.91 141.49 L406.36 141.69 L406.81 140.19 L407.26 140.84 L407.71 141.83 L408.16 141.32 L408.61 141.69 L409.06 141.01 L409.51 141.24" stroke="#3a38e8" stroke-width="1.2"/>
<path d="M257.21 164.28 L257.66 162.65 L258.11 162.31 L258.56 161.96 L259.01 161.73 L259.46 161.04 L259.91 162.22 L260.36 160.40 L260.81 160.55 L261.26 158.98 L261.71 158.94 L262.16 158.06 L262.61 157.47 L263.06 156.79 L263.52 155.69 L263.97 154.79 L264.42 155.49 L264.87 154.05 L265.32 153.38 L265.77 153.91 L266.22 154.02 L266.67 152.92 L267.12 152.02 L267.57 152.04 L268.02 152.17 L268.47 150.54 L268.92 150.64 L269.37 148.83 L269.82 149.51 L270.27 147.90 L270.73 147.52 L271.18 145.50 L271.63 146.32 L272.08 143.94 L272.53 143.48 L272.98 141.67 L273.43 139.63 L273.88 136.29 L274.33 132.27 L274.78 128.72 L275.23 125.44 L275.68 123.16 L276.13 121.99 L276.58 120.97 L277.03 121.02 L277.48 122.20 L277.93 121.02 L278.39 122.45 L278.84 121.14 L279.29 119.51 L279.74 117.22 L280.19 114.50 L280.64 110.92 L281.09 107.67 L281.54 104.55 L281.99 104.98 L282.44 106.22 L282.89 109.36 L283.34 112.79 L283.79 115.00 L284.24 117.27 L284.69 120.65 L285.14 121.20 L285.60 123.35 L286.05 123.38 L286.50 125.09 L286.95 126.37 L287.40 127.07 L287.85 126.29 L288.30 127.09 L288.75 128.06 L289.20 126.24 L289.65 126.99 L290.10 126.24 L290.55 125.95 L291.00 124.75 L291.45 124.20 L291.90 124.11 L292.35 126.45 L292.80 127.49 L293.26 129.70 L293.71 129.69 L294.16 131.40 L294.61 131.98 L295.06 132.74 L295.51 132.07 L295.96 132.06 L296.41 133.95 L296.86 133.51 L297.31 134.29 L297.76 133.01 L298.21 132.62 L298.66 134.01 L299.11 132.71 L299.56 133.22 L300.01 132.67 L300.46 132.14 L300.92 132.21 L301.37 131.37 L301.82 131.71 L302.27 131.09 L302.72 131.09 L303.17 130.85 L303.62 131.27 L304.07 130.69 L304.52 131.00 L304.97 129.78 L305.42 129.93 L305.87 129.63 L306.32 128.33 L306.77 129.37 L307.22 128.12 L307.67 127.34 L308.12 126.55 L308.58 125.40 L309.03 125.14 L309.48 122.77 L309.93 121.84 L310.38 121.43 L310.83 118.72 L311.28 117.30 L311.73 115.16 L312.18 114.74 L312.63 114.72 L313.08 115.39 L313.53 116.57 L313.98 118.66 L314.43 120.25 L314.88 121.78 L315.33 124.24 L315.79 124.48 L316.24 125.62 L316.69 126.30 L317.14 126.44 L317.59 126.38 L318.04 126.69 L318.49 125.86 L318.94 125.87 L319.39 123.48 L319.84 122.85 L320.29 121.18 L320.74 119.17 L321.19 118.46 L321.64 116.20 L322.09 114.39 L322.54 113.55 L322.99 113.50 L323.45 113.25 L323.90 112.76 L324.35 111.74 L324.80 110.45 L325.25 108.95 L325.70 105.30 L326.15 101.79 L326.60 97.00 L327.05 93.30 L327.50 85.30 L327.95 77.59 L328.40 65.70 L328.85 52.47 L329.30 36.74 L329.75 17.16 L330.20 -9.01 L330.66 -38.81 L331.11 -75.00 L331.56 -113.26 L332.01 -150.96 L332.46 -180.87 L332.91 -191.52 L333.36 -185.11 L333.81 -169.57 L334.26 -147.92 L334.71 -122.90 L335.16 -93.90 L335.61 -67.93 L336.06 -41.90 L336.51 -20.45 L336.96 0.81 L337.41 17.13 L337.86 33.21 L338.32 47.34 L338.77 57.95 L339.22 67.72 L339.67 76.80 L340.12 84.36 L340.57 89.91 L341.02 95.27 L341.47 100.26 L341.92 105.49 L342.37 109.69 L342.82 112.63 L343.27 115.22 L343.72 119.00 L344.17 120.16 L344.62 121.92 L345.07 124.84 L345.52 126.64 L345.98 127.05 L346.43 128.87 L346.88 128.27 L347.33 129.60 L347.78 130.56 L348.23 130.20 L348.68 130.78 L349.13 131.20 L349.58 132.77 L350.03 132.48 L350.48 132.77 L350.93 131.96 L351.38 133.36 L351.83 133.86 L352.28 133.42 L352.73 134.01 L353.19 133.72 L353.64 134.66 L354.09 135.48 L354.54 134.71 L354.99 134.45 L355.44 135.16 L355.89 135.62 L356.34 136.78 L356.79 136.68 L357.24 135.89 L357.69 135.43 L358.14 136.43 L358.59 135.48 L359.04 137.17 L359.49 136.75 L359.94 136.50 L360.39 135.32 L360.85 135.35 L361.30 133.91 L361.75 133.88 L362.20 131.01 L362.65 128.89 L363.10 128.02 L363.55 127.24 L364.00 127.91 L364.45 130.09 L364.90 132.50 L365.35 133.60 L365.80 136.82 L366.25 137.09 L366.70 138.27 L367.15 138.76 L367.60 139.77 L368.05 139.08 L368.51 139.13 L368.96 140.83 L369.41 140.25 L369.86 140.96 L370.31 139.80 L370.76 139.46 L371.21 140.10 L371.66 138.92 L372.11 139.24 L372.56 139.37 L373.01 140.37 L373.46 139.90 L373.91 138.77 L374.36 139.32 L374.81 139.69 L375.26 140.00 L375.72 138.39 L376.17 139.10 L376.62 139.13 L377.07 137.96 L377.52 137.05 L377.97 136.69 L378.42 137.02 L378.87 134.20 L379.32 133.94 L379.77 131.89 L380.22 130.73 L380.67 129.00 L381.12 128.75 L381.57 128.22 L382.02 131.17 L382.47 132.28 L382.92 133.72 L383.38 134.71 L383.83 137.78 L384.28 137.35 L384.73 138.87 L385.18 140.05 L385.63 139.42 L386.08 140.03 L386.53 139.92 L386.98 140.35 L387.43 140.22 L387.88 140.00 L388.33 138.94 L388.78 139.44 L389.23 137.22 L389.68 137.10 L390.13 135.85 L390.58 135.39 L391.04 134.12 L391.49 132.64 L391.94 131.06 L392.39 128.72 L392.84 126.02 L393.29 120.83 L393.74 115.15 L394.19 109.53 L394.64 105.21 L395.09 106.57 L395.54 112.87 L395.99 117.47 L396.44 124.24 L396.89 128.30 L397.34 130.28 L397.79 131.89 L398.25 134.04 L398.70 136.42 L399.15 137.08 L399.60 137.82 L400.05 137.66 L400.50 139.31 L400.95 138.39 L401.40 139.71 L401.85 140.34 L402.30 138.77 L402.75 139.15 L403.20 139.40 L403.65 139.44 L404.10 140.19 L404.55 139.57 L405.00 140.23 L405.45 140.62 L405.91 140.13 L406.36 140.17 L406.81 140.50 L407.26 141.16 L407.71 140.88 L408.16 141.65 L408.61 141.20 L409.06 140.70 L409.51 140.61" stroke="#8a28e8" stroke-width="1.2"/>
</g>
<line x1="251.50" y1="10.50" x2="409.50" y2="10.50" stroke="#555" stroke-width="1.00" />
<line x1="409.50" y1="10.50" x2="409.50" y2="89.50" stroke="#555" stroke-width="1.00" />
<line x1="251.50" y1="10.00" x2="251.50" y2="90.00" stroke="#555" stroke-width="1.00" />
<line x1="251.00" y1="89.50" x2="410.00" y2="89.50" stroke="#555" stroke-width="1.00" />
<line x1="251.80" y1="89.40" x2="254.00" y2="89.40" stroke="#555" stroke-width="0.80" />
<text x="249.60" y="92.30" font-size="8.50" text-anchor="end" fill="#1a1a1a" stroke="#1a1a1a" stroke-width="0.12" >0</text>
<line x1="251.80" y1="58.06" x2="254.00" y2="58.06" stroke="#555" stroke-width="0.80" />
<text x="249.60" y="60.96" font-size="8.50" text-anchor="end" fill="#1a1a1a" stroke="#1a1a1a" stroke-width="0.12" >2</text>
<line x1="251.80" y1="26.72" x2="254.00" y2="26.72" stroke="#555" stroke-width="0.80" />
<text x="249.60" y="29.62" font-size="8.50" text-anchor="end" fill="#1a1a1a" stroke="#1a1a1a" stroke-width="0.12" >4</text>
<line x1="251.80" y1="73.73" x2="253.20" y2="73.73" stroke="#555" stroke-width="0.70" />
<line x1="251.80" y1="42.39" x2="253.20" y2="42.39" stroke="#555" stroke-width="0.70" />
<line x1="251.80" y1="11.05" x2="253.20" y2="11.05" stroke="#555" stroke-width="0.70" />
<line x1="251.50" y1="89.50" x2="409.50" y2="89.50" stroke="#555" stroke-width="1.00" />
<line x1="409.50" y1="89.50" x2="409.50" y2="167.50" stroke="#555" stroke-width="1.00" />
<line x1="251.50" y1="89.00" x2="251.50" y2="168.00" stroke="#555" stroke-width="1.00" />
<line x1="251.00" y1="167.50" x2="410.00" y2="167.50" stroke="#555" stroke-width="1.00" />
<line x1="251.80" y1="167.10" x2="254.00" y2="167.10" stroke="#555" stroke-width="0.80" />
<text x="249.60" y="170.00" font-size="8.50" text-anchor="end" fill="#1a1a1a" stroke="#1a1a1a" stroke-width="0.12" >0</text>
<line x1="251.80" y1="138.86" x2="254.00" y2="138.86" stroke="#555" stroke-width="0.80" />
<text x="249.60" y="141.76" font-size="8.50" text-anchor="end" fill="#1a1a1a" stroke="#1a1a1a" stroke-width="0.12" >2</text>
<line x1="251.80" y1="110.62" x2="254.00" y2="110.62" stroke="#555" stroke-width="0.80" />
<text x="249.60" y="113.52" font-size="8.50" text-anchor="end" fill="#1a1a1a" stroke="#1a1a1a" stroke-width="0.12" >4</text>
<line x1="251.80" y1="152.98" x2="253.20" y2="152.98" stroke="#555" stroke-width="0.70" />
<line x1="251.80" y1="124.74" x2="253.20" y2="124.74" stroke="#555" stroke-width="0.70" />
<line x1="251.80" y1="96.50" x2="253.20" y2="96.50" stroke="#555" stroke-width="0.70" />
<line x1="251.80" y1="89.40" x2="251.80" y2="87.20" stroke="#555" stroke-width="0.70" />
<line x1="251.80" y1="167.10" x2="251.80" y2="164.90" stroke="#555" stroke-width="0.70" />
<line x1="256.31" y1="89.40" x2="256.31" y2="88.00" stroke="#555" stroke-width="0.70" />
<line x1="256.31" y1="167.10" x2="256.31" y2="165.70" stroke="#555" stroke-width="0.70" />
<line x1="260.81" y1="89.40" x2="260.81" y2="88.00" stroke="#555" stroke-width="0.70" />
<line x1="260.81" y1="167.10" x2="260.81" y2="165.70" stroke="#555" stroke-width="0.70" />
<line x1="265.32" y1="89.40" x2="265.32" y2="88.00" stroke="#555" stroke-width="0.70" />
<line x1="265.32" y1="167.10" x2="265.32" y2="165.70" stroke="#555" stroke-width="0.70" />
<line x1="269.82" y1="89.40" x2="269.82" y2="88.00" stroke="#555" stroke-width="0.70" />
<line x1="269.82" y1="167.10" x2="269.82" y2="165.70" stroke="#555" stroke-width="0.70" />
<line x1="274.33" y1="89.40" x2="274.33" y2="87.20" stroke="#555" stroke-width="0.70" />
<line x1="274.33" y1="167.10" x2="274.33" y2="164.90" stroke="#555" stroke-width="0.70" />
<line x1="278.84" y1="89.40" x2="278.84" y2="88.00" stroke="#555" stroke-width="0.70" />
<line x1="278.84" y1="167.10" x2="278.84" y2="165.70" stroke="#555" stroke-width="0.70" />
<line x1="283.34" y1="89.40" x2="283.34" y2="88.00" stroke="#555" stroke-width="0.70" />
<line x1="283.34" y1="167.10" x2="283.34" y2="165.70" stroke="#555" stroke-width="0.70" />
<line x1="287.85" y1="89.40" x2="287.85" y2="88.00" stroke="#555" stroke-width="0.70" />
<line x1="287.85" y1="167.10" x2="287.85" y2="165.70" stroke="#555" stroke-width="0.70" />
<line x1="292.35" y1="89.40" x2="292.35" y2="88.00" stroke="#555" stroke-width="0.70" />
<line x1="292.35" y1="167.10" x2="292.35" y2="165.70" stroke="#555" stroke-width="0.70" />
<line x1="296.86" y1="89.40" x2="296.86" y2="87.20" stroke="#555" stroke-width="0.70" />
<line x1="296.86" y1="167.10" x2="296.86" y2="164.90" stroke="#555" stroke-width="0.70" />
<line x1="301.37" y1="89.40" x2="301.37" y2="88.00" stroke="#555" stroke-width="0.70" />
<line x1="301.37" y1="167.10" x2="301.37" y2="165.70" stroke="#555" stroke-width="0.70" />
<line x1="305.87" y1="89.40" x2="305.87" y2="88.00" stroke="#555" stroke-width="0.70" />
<line x1="305.87" y1="167.10" x2="305.87" y2="165.70" stroke="#555" stroke-width="0.70" />
<line x1="310.38" y1="89.40" x2="310.38" y2="88.00" stroke="#555" stroke-width="0.70" />
<line x1="310.38" y1="167.10" x2="310.38" y2="165.70" stroke="#555" stroke-width="0.70" />
<line x1="314.88" y1="89.40" x2="314.88" y2="88.00" stroke="#555" stroke-width="0.70" />
<line x1="314.88" y1="167.10" x2="314.88" y2="165.70" stroke="#555" stroke-width="0.70" />
<line x1="319.39" y1="89.40" x2="319.39" y2="87.20" stroke="#555" stroke-width="0.70" />
<line x1="319.39" y1="167.10" x2="319.39" y2="164.90" stroke="#555" stroke-width="0.70" />
<line x1="323.90" y1="89.40" x2="323.90" y2="88.00" stroke="#555" stroke-width="0.70" />
<line x1="323.90" y1="167.10" x2="323.90" y2="165.70" stroke="#555" stroke-width="0.70" />
<line x1="328.40" y1="89.40" x2="328.40" y2="88.00" stroke="#555" stroke-width="0.70" />
<line x1="328.40" y1="167.10" x2="328.40" y2="165.70" stroke="#555" stroke-width="0.70" />
<line x1="332.91" y1="89.40" x2="332.91" y2="88.00" stroke="#555" stroke-width="0.70" />
<line x1="332.91" y1="167.10" x2="332.91" y2="165.70" stroke="#555" stroke-width="0.70" />
<line x1="337.41" y1="89.40" x2="337.41" y2="88.00" stroke="#555" stroke-width="0.70" />
<line x1="337.41" y1="167.10" x2="337.41" y2="165.70" stroke="#555" stroke-width="0.70" />
<line x1="341.92" y1="89.40" x2="341.92" y2="87.20" stroke="#555" stroke-width="0.70" />
<line x1="341.92" y1="167.10" x2="341.92" y2="164.90" stroke="#555" stroke-width="0.70" />
<line x1="346.43" y1="89.40" x2="346.43" y2="88.00" stroke="#555" stroke-width="0.70" />
<line x1="346.43" y1="167.10" x2="346.43" y2="165.70" stroke="#555" stroke-width="0.70" />
<line x1="350.93" y1="89.40" x2="350.93" y2="88.00" stroke="#555" stroke-width="0.70" />
<line x1="350.93" y1="167.10" x2="350.93" y2="165.70" stroke="#555" stroke-width="0.70" />
<line x1="355.44" y1="89.40" x2="355.44" y2="88.00" stroke="#555" stroke-width="0.70" />
<line x1="355.44" y1="167.10" x2="355.44" y2="165.70" stroke="#555" stroke-width="0.70" />
<line x1="359.94" y1="89.40" x2="359.94" y2="88.00" stroke="#555" stroke-width="0.70" />
<line x1="359.94" y1="167.10" x2="359.94" y2="165.70" stroke="#555" stroke-width="0.70" />
<line x1="364.45" y1="89.40" x2="364.45" y2="87.20" stroke="#555" stroke-width="0.70" />
<line x1="364.45" y1="167.10" x2="364.45" y2="164.90" stroke="#555" stroke-width="0.70" />
<line x1="368.96" y1="89.40" x2="368.96" y2="88.00" stroke="#555" stroke-width="0.70" />
<line x1="368.96" y1="167.10" x2="368.96" y2="165.70" stroke="#555" stroke-width="0.70" />
<line x1="373.46" y1="89.40" x2="373.46" y2="88.00" stroke="#555" stroke-width="0.70" />
<line x1="373.46" y1="167.10" x2="373.46" y2="165.70" stroke="#555" stroke-width="0.70" />
<line x1="377.97" y1="89.40" x2="377.97" y2="88.00" stroke="#555" stroke-width="0.70" />
<line x1="377.97" y1="167.10" x2="377.97" y2="165.70" stroke="#555" stroke-width="0.70" />
<line x1="382.47" y1="89.40" x2="382.47" y2="88.00" stroke="#555" stroke-width="0.70" />
<line x1="382.47" y1="167.10" x2="382.47" y2="165.70" stroke="#555" stroke-width="0.70" />
<line x1="386.98" y1="89.40" x2="386.98" y2="87.20" stroke="#555" stroke-width="0.70" />
<line x1="386.98" y1="167.10" x2="386.98" y2="164.90" stroke="#555" stroke-width="0.70" />
<line x1="391.49" y1="89.40" x2="391.49" y2="88.00" stroke="#555" stroke-width="0.70" />
<line x1="391.49" y1="167.10" x2="391.49" y2="165.70" stroke="#555" stroke-width="0.70" />
<line x1="395.99" y1="89.40" x2="395.99" y2="88.00" stroke="#555" stroke-width="0.70" />
<line x1="395.99" y1="167.10" x2="395.99" y2="165.70" stroke="#555" stroke-width="0.70" />
<line x1="400.50" y1="89.40" x2="400.50" y2="88.00" stroke="#555" stroke-width="0.70" />
<line x1="400.50" y1="167.10" x2="400.50" y2="165.70" stroke="#555" stroke-width="0.70" />
<line x1="405.00" y1="89.40" x2="405.00" y2="88.00" stroke="#555" stroke-width="0.70" />
<line x1="405.00" y1="167.10" x2="405.00" y2="165.70" stroke="#555" stroke-width="0.70" />
<line x1="409.51" y1="89.40" x2="409.51" y2="87.20" stroke="#555" stroke-width="0.70" />
<line x1="409.51" y1="167.10" x2="409.51" y2="164.90" stroke="#555" stroke-width="0.70" />
<text x="251.80" y="176.20" font-size="8.50" text-anchor="middle" fill="#1a1a1a" stroke="#1a1a1a" stroke-width="0.12" >0</text>
<text x="274.33" y="176.20" font-size="8.50" text-anchor="middle" fill="#1a1a1a" stroke="#1a1a1a" stroke-width="0.12" >50</text>
<text x="296.86" y="176.20" font-size="8.50" text-anchor="middle" fill="#1a1a1a" stroke="#1a1a1a" stroke-width="0.12" >100</text>
<text x="319.39" y="176.20" font-size="8.50" text-anchor="middle" fill="#1a1a1a" stroke="#1a1a1a" stroke-width="0.12" >150</text>
<text x="341.92" y="176.20" font-size="8.50" text-anchor="middle" fill="#1a1a1a" stroke="#1a1a1a" stroke-width="0.12" >200</text>
<text x="364.45" y="176.20" font-size="8.50" text-anchor="middle" fill="#1a1a1a" stroke="#1a1a1a" stroke-width="0.12" >250</text>
<text x="386.98" y="176.20" font-size="8.50" text-anchor="middle" fill="#1a1a1a" stroke="#1a1a1a" stroke-width="0.12" >300</text>
<text x="409.51" y="176.20" font-size="8.50" text-anchor="middle" fill="#1a1a1a" stroke="#1a1a1a" stroke-width="0.12" >350</text>
<text x="329.10" y="188.90" font-size="8.60" text-anchor="middle" fill="#222" stroke="#222" stroke-width="0.12" >Raman shift (cm<tspan dy="-3.5" font-size="5.5">-1</tspan><tspan dy="3.5">)</tspan></text>
<text x="0" y="0" font-size="8.8" text-anchor="middle" fill="#222" transform="translate(239.2,47.0) rotate(-90)" textLength="49" lengthAdjust="spacingAndGlyphs" stroke="#222" stroke-width="0.12">&#967;" (arb.units)</text>
<text x="0" y="0" font-size="8.8" text-anchor="middle" fill="#222" transform="translate(239.2,127.0) rotate(-90)" textLength="50" lengthAdjust="spacingAndGlyphs" stroke="#222" stroke-width="0.12">&#967;" (arb.units)</text>
<text x="276.6" y="21.3" font-size="8.3" text-anchor="middle" fill="#111" font-style="italic" stroke="#111" stroke-width="0.12">T &gt; T*</text>
<text x="276.6" y="31.5" font-size="8.3" text-anchor="middle" fill="#111" font-style="italic" stroke="#111" stroke-width="0.12">XX</text>
<text x="276.6" y="41.6" font-size="8.3" text-anchor="middle" fill="#111" font-style="italic" stroke="#111" stroke-width="0.12">A <tspan font-size="6" dy="1">1</tspan><tspan dy="-1"> + E</tspan></text>
<line x1="352.20" y1="17.90" x2="365.00" y2="17.90" stroke="#ea3a2a" stroke-width="1.40" />
<text x="388.80" y="20.80" font-size="8.00" text-anchor="end" fill="#222" stroke="#222" stroke-width="0.12" >312 K</text>
<line x1="352.20" y1="26.10" x2="365.00" y2="26.10" stroke="#f07830" stroke-width="1.40" />
<text x="388.80" y="29.00" font-size="8.00" text-anchor="end" fill="#222" stroke="#222" stroke-width="0.12" >261 K</text>
<line x1="352.20" y1="34.80" x2="365.00" y2="34.80" stroke="#f0b040" stroke-width="1.40" />
<text x="388.80" y="37.70" font-size="8.00" text-anchor="end" fill="#222" stroke="#222" stroke-width="0.12" >216 K</text>
<line x1="352.20" y1="70.80" x2="365.00" y2="70.80" stroke="#b8f070" stroke-width="1.40" />
<text x="388.80" y="73.70" font-size="8.00" text-anchor="end" fill="#222" stroke="#222" stroke-width="0.12" >166 K</text>
<line x1="352.20" y1="79.00" x2="365.00" y2="79.00" stroke="#60e830" stroke-width="1.40" />
<text x="388.80" y="81.90" font-size="8.00" text-anchor="end" fill="#222" stroke="#222" stroke-width="0.12" >156 K</text>
<text x="278.8" y="100.0" font-size="8.3" text-anchor="middle" fill="#111" font-style="italic" stroke="#111" stroke-width="0.12">T&lt;T*</text>
<text x="264.8" y="117.0" font-size="8.3" fill="#111" font-style="italic" stroke="#111" stroke-width="0.12">A<tspan font-size="5.5" dy="-3" font-style="normal">1</tspan></text>
<text x="283.0" y="106.8" font-size="8.3" fill="#111" font-style="italic" stroke="#111" stroke-width="0.12">A<tspan font-size="5.5" dy="-3" font-style="normal">2</tspan></text>
<text x="289.6" y="121.8" font-size="8.3" fill="#111" font-style="italic" stroke="#111" stroke-width="0.12">A<tspan font-size="5.5" dy="-3" font-style="normal">3</tspan></text>
<line x1="352.00" y1="96.50" x2="365.20" y2="96.50" stroke="#60e030" stroke-width="1.40" />
<text x="388.80" y="99.40" font-size="8.00" text-anchor="end" fill="#222" stroke="#222" stroke-width="0.12" >156 K</text>
<line x1="352.00" y1="104.80" x2="365.20" y2="104.80" stroke="#50d850" stroke-width="1.40" />
<text x="388.80" y="107.70" font-size="8.00" text-anchor="end" fill="#222" stroke="#222" stroke-width="0.12" >146 K</text>
<line x1="352.00" y1="112.50" x2="365.20" y2="112.50" stroke="#40e8b8" stroke-width="1.40" />
<text x="388.80" y="115.40" font-size="8.00" text-anchor="end" fill="#222" stroke="#222" stroke-width="0.12" >126 K</text>
<line x1="352.00" y1="120.70" x2="365.20" y2="120.70" stroke="#48e8f0" stroke-width="1.40" />
<text x="388.80" y="123.60" font-size="8.00" text-anchor="end" fill="#222" stroke="#222" stroke-width="0.12" >101 K</text>
<line x1="352.00" y1="146.80" x2="365.20" y2="146.80" stroke="#3a88f0" stroke-width="1.40" />
<text x="388.80" y="149.70" font-size="8.00" text-anchor="end" fill="#222" stroke="#222" stroke-width="0.12" >66 K</text>
<line x1="352.00" y1="155.60" x2="365.20" y2="155.60" stroke="#3a38e8" stroke-width="1.40" />
<text x="388.80" y="158.50" font-size="8.00" text-anchor="end" fill="#222" stroke="#222" stroke-width="0.12" >41 K</text>
<line x1="352.00" y1="163.80" x2="365.20" y2="163.80" stroke="#8a28e8" stroke-width="1.40" />
<text x="388.80" y="166.70" font-size="8.00" text-anchor="end" fill="#222" stroke="#222" stroke-width="0.12" >26 K</text>
<g clip-path="url(#clipe)" fill="none" stroke-linejoin="round">
<path d="M255.79 355.85 L256.24 356.09 L256.69 355.31 L257.14 355.76 L257.59 355.18 L258.04 354.13 L258.49 355.33 L258.94 354.68 L259.39 353.82 L259.84 354.49 L260.29 354.08 L260.74 352.67 L261.19 352.10 L261.64 352.85 L262.09 352.74 L262.54 351.13 L262.98 351.85 L263.43 351.08 L263.88 350.75 L264.33 350.38 L264.78 349.61 L265.23 349.23 L265.68 349.38 L266.13 348.89 L266.58 348.67 L267.03 348.67 L267.48 348.78 L267.93 348.90 L268.38 348.64 L268.83 347.39 L269.28 347.62 L269.73 348.45 L270.17 346.97 L270.62 347.82 L271.07 346.91 L271.52 347.05 L271.97 347.11 L272.42 346.94 L272.87 346.05 L273.32 346.02 L273.77 345.37 L274.22 344.94 L274.67 344.43 L275.12 344.06 L275.57 344.11 L276.02 343.24 L276.47 343.70 L276.92 342.76 L277.37 342.59 L277.81 342.30 L278.26 343.17 L278.71 342.19 L279.16 342.04 L279.61 342.51 L280.06 341.86 L280.51 341.44 L280.96 342.02 L281.41 341.68 L281.86 340.30 L282.31 340.07 L282.76 338.54 L283.21 338.07 L283.66 337.45 L284.11 337.12 L284.56 338.47 L285.00 338.36 L285.45 340.12 L285.90 340.70 L286.35 340.86 L286.80 341.51 L287.25 342.16 L287.70 341.46 L288.15 340.82 L288.60 342.36 L289.05 342.19 L289.50 341.15 L289.95 341.88 L290.40 342.06 L290.85 342.21 L291.30 341.60 L291.75 342.22 L292.20 342.30 L292.64 342.34 L293.09 341.63 L293.54 342.82 L293.99 342.08 L294.44 341.71 L294.89 342.69 L295.34 342.13 L295.79 342.02 L296.24 341.47 L296.69 341.61 L297.14 341.58 L297.59 341.84 L298.04 341.56 L298.49 340.68 L298.94 341.94 L299.39 341.91 L299.84 341.73 L300.28 341.84 L300.73 341.62 L301.18 341.28 L301.63 340.53 L302.08 340.11 L302.53 341.59 L302.98 340.74 L303.43 341.12 L303.88 340.00 L304.33 339.80 L304.78 340.25 L305.23 341.31 L305.68 340.44 L306.13 340.42 L306.58 340.10 L307.03 340.47 L307.48 340.62 L307.92 339.50 L308.37 338.95 L308.82 339.55 L309.27 339.27 L309.72 339.59 L310.17 338.57 L310.62 337.88 L311.07 338.19 L311.52 338.52 L311.97 338.30 L312.42 336.85 L312.87 336.82 L313.32 337.32 L313.77 336.64 L314.22 337.03 L314.67 336.07 L315.11 336.69 L315.56 335.99 L316.01 335.45 L316.46 335.24 L316.91 335.28 L317.36 334.44 L317.81 334.88 L318.26 333.77 L318.71 333.45 L319.16 333.63 L319.61 332.74 L320.06 333.62 L320.51 332.18 L320.96 333.36 L321.41 332.09 L321.86 332.12 L322.31 331.42 L322.75 330.04 L323.20 328.35 L323.65 327.09 L324.10 324.83 L324.55 322.96 L325.00 323.89 L325.45 325.83 L325.90 327.13 L326.35 329.34 L326.80 329.94 L327.25 330.45 L327.70 331.57 L328.15 331.98 L328.60 332.80 L329.05 331.73 L329.50 332.86 L329.95 333.20 L330.39 333.23 L330.84 332.39 L331.29 333.24 L331.74 332.64 L332.19 332.72 L332.64 332.22 L333.09 332.42 L333.54 332.18 L333.99 333.36 L334.44 333.63 L334.89 333.61 L335.34 333.30 L335.79 333.44 L336.24 333.30 L336.69 332.34 L337.14 332.72 L337.58 332.97 L338.03 332.52 L338.48 332.94 L338.93 332.63 L339.38 332.53 L339.83 333.01 L340.28 331.51 L340.73 331.52 L341.18 332.33 L341.63 331.84 L342.08 332.75 L342.53 332.11 L342.98 331.69 L343.43 331.91 L343.88 332.35 L344.33 331.69 L344.78 332.01 L345.22 331.33 L345.67 331.16 L346.12 331.34 L346.57 330.77 L347.02 330.82 L347.47 331.86 L347.92 330.40 L348.37 330.86 L348.82 331.02 L349.27 331.06 L349.72 330.46 L350.17 331.23 L350.62 330.58 L351.07 330.97 L351.52 330.62 L351.97 330.47 L352.42 330.50 L352.86 330.30 L353.31 331.09 L353.76 330.68 L354.21 330.26 L354.66 330.18 L355.11 329.93 L355.56 329.82 L356.01 329.58 L356.46 329.00 L356.91 329.16 L357.36 328.80 L357.81 326.96 L358.26 326.65 L358.71 325.53 L359.16 325.17 L359.61 322.84 L360.05 321.90 L360.50 320.02 L360.95 319.26 L361.40 318.32 L361.85 318.15 L362.30 319.32 L362.75 321.76 L363.20 322.51 L363.65 324.08 L364.10 326.11 L364.55 326.54 L365.00 325.91 L365.45 327.12 L365.90 328.31 L366.35 327.48 L366.80 328.17 L367.25 328.77 L367.69 327.54 L368.14 328.52 L368.59 328.15 L369.04 328.76 L369.49 327.89 L369.94 328.39 L370.39 328.82 L370.84 328.91 L371.29 327.84 L371.74 328.26 L372.19 327.66 L372.64 328.89 L373.09 328.39 L373.54 327.84 L373.99 327.22 L374.44 327.39 L374.88 327.65 L375.33 326.63 L375.78 326.52 L376.23 326.75 L376.68 326.09 L377.13 325.02 L377.58 323.40 L378.03 322.84 L378.48 321.94 L378.93 320.19 L379.38 320.11 L379.83 318.99 L380.28 319.26 L380.73 320.07 L381.18 321.10 L381.63 323.80 L382.08 323.98 L382.52 325.18 L382.97 326.26 L383.42 326.49 L383.87 327.33 L384.32 327.81 L384.77 326.94 L385.22 327.63 L385.67 328.65 L386.12 328.38 L386.57 328.92 L387.02 328.52 L387.47 328.58 L387.92 329.14 L388.37 329.14 L388.82 328.57 L389.27 327.69 L389.72 328.82 L390.16 327.79 L390.61 329.09 L391.06 327.94 L391.51 329.04 L391.96 328.11 L392.41 328.93 L392.86 327.68 L393.31 327.64 L393.76 328.72 L394.21 327.44 L394.66 327.87 L395.11 328.90 L395.56 327.51 L396.01 328.19 L396.46 328.15 L396.91 328.06 L397.36 328.38 L397.80 327.20 L398.25 327.50 L398.70 327.37 L399.15 327.23 L399.60 328.09 L400.05 327.31 L400.50 327.19 L400.95 327.78 L401.40 327.26 L401.85 327.32 L402.30 326.80 L402.75 327.38 L403.20 327.52 L403.65 327.09 L404.10 326.81 L404.55 326.92 L404.99 327.35 L405.44 327.01 L405.89 326.39 L406.34 326.81 L406.79 326.66 L407.24 327.54 L407.69 327.03 L408.14 326.93 L408.59 327.31" stroke="#f02818" stroke-width="1.25"/>
<path d="M255.79 348.05 L256.24 347.45 L256.69 347.86 L257.14 346.52 L257.59 347.30 L258.04 346.50 L258.49 345.59 L258.94 346.21 L259.39 344.93 L259.84 345.02 L260.29 345.02 L260.74 344.55 L261.19 344.29 L261.64 344.33 L262.09 342.90 L262.54 343.58 L262.98 342.24 L263.43 342.13 L263.88 343.22 L264.33 342.51 L264.78 341.83 L265.23 340.95 L265.68 341.76 L266.13 340.73 L266.58 340.88 L267.03 339.91 L267.48 339.42 L267.93 339.47 L268.38 340.24 L268.83 339.08 L269.28 339.46 L269.73 338.61 L270.17 339.05 L270.62 338.08 L271.07 337.70 L271.52 337.73 L271.97 337.45 L272.42 337.18 L272.87 337.27 L273.32 337.69 L273.77 335.98 L274.22 336.56 L274.67 337.02 L275.12 335.98 L275.57 335.70 L276.02 335.76 L276.47 334.15 L276.92 335.33 L277.37 333.69 L277.81 334.04 L278.26 334.42 L278.71 333.87 L279.16 333.49 L279.61 333.85 L280.06 332.54 L280.51 332.55 L280.96 331.74 L281.41 331.68 L281.86 331.34 L282.31 330.48 L282.76 330.03 L283.21 329.88 L283.66 329.44 L284.11 329.11 L284.56 328.97 L285.00 329.42 L285.45 330.24 L285.90 330.81 L286.35 332.70 L286.80 332.41 L287.25 333.25 L287.70 332.47 L288.15 332.55 L288.60 332.65 L289.05 332.21 L289.50 333.37 L289.95 332.56 L290.40 332.87 L290.85 333.56 L291.30 332.29 L291.75 333.91 L292.20 333.18 L292.64 333.03 L293.09 332.90 L293.54 332.20 L293.99 332.91 L294.44 332.30 L294.89 333.28 L295.34 332.91 L295.79 333.44 L296.24 332.54 L296.69 332.87 L297.14 332.19 L297.59 333.30 L298.04 332.64 L298.49 331.73 L298.94 333.30 L299.39 332.15 L299.84 332.11 L300.28 332.02 L300.73 332.30 L301.18 332.38 L301.63 331.46 L302.08 332.48 L302.53 331.59 L302.98 331.51 L303.43 331.29 L303.88 331.68 L304.33 332.42 L304.78 331.07 L305.23 331.89 L305.68 330.91 L306.13 330.44 L306.58 330.66 L307.03 331.15 L307.48 330.20 L307.92 330.84 L308.37 330.77 L308.82 330.14 L309.27 329.79 L309.72 329.52 L310.17 329.53 L310.62 329.55 L311.07 328.74 L311.52 329.21 L311.97 328.46 L312.42 329.21 L312.87 328.69 L313.32 327.09 L313.77 327.84 L314.22 327.12 L314.67 327.44 L315.11 326.04 L315.56 326.70 L316.01 327.08 L316.46 326.56 L316.91 325.27 L317.36 325.39 L317.81 326.49 L318.26 324.65 L318.71 325.96 L319.16 325.04 L319.61 324.72 L320.06 324.03 L320.51 324.91 L320.96 323.44 L321.41 323.99 L321.86 322.64 L322.31 321.57 L322.75 321.12 L323.20 320.74 L323.65 317.86 L324.10 316.59 L324.55 315.31 L325.00 315.86 L325.45 318.56 L325.90 319.35 L326.35 320.48 L326.80 320.91 L327.25 322.15 L327.70 322.67 L328.15 322.79 L328.60 324.12 L329.05 323.12 L329.50 323.75 L329.95 323.77 L330.39 324.69 L330.84 324.11 L331.29 324.35 L331.74 324.72 L332.19 323.46 L332.64 323.63 L333.09 324.28 L333.54 324.92 L333.99 323.33 L334.44 324.78 L334.89 324.07 L335.34 323.92 L335.79 323.36 L336.24 323.63 L336.69 323.65 L337.14 323.71 L337.58 322.81 L338.03 322.97 L338.48 323.64 L338.93 322.75 L339.38 322.37 L339.83 323.09 L340.28 323.74 L340.73 323.77 L341.18 322.24 L341.63 323.56 L342.08 322.54 L342.53 323.58 L342.98 323.51 L343.43 323.59 L343.88 322.43 L344.33 323.64 L344.78 322.94 L345.22 322.31 L345.67 322.75 L346.12 323.59 L346.57 323.53 L347.02 322.08 L347.47 322.94 L347.92 323.27 L348.37 322.45 L348.82 321.96 L349.27 322.74 L349.72 322.98 L350.17 322.84 L350.62 322.30 L351.07 321.71 L351.52 322.85 L351.97 321.61 L352.42 321.67 L352.86 321.80 L353.31 322.00 L353.76 322.49 L354.21 321.55 L354.66 321.56 L355.11 320.93 L355.56 321.80 L356.01 321.40 L356.46 321.38 L356.91 320.24 L357.36 320.58 L357.81 319.26 L358.26 318.79 L358.71 318.16 L359.16 317.35 L359.61 314.74 L360.05 313.82 L360.50 312.56 L360.95 309.94 L361.40 308.55 L361.85 309.19 L362.30 309.78 L362.75 311.67 L363.20 313.70 L363.65 316.30 L364.10 316.80 L364.55 317.49 L365.00 318.73 L365.45 318.65 L365.90 318.74 L366.35 318.88 L366.80 319.08 L367.25 319.28 L367.69 320.19 L368.14 319.77 L368.59 320.05 L369.04 319.67 L369.49 320.81 L369.94 320.75 L370.39 319.83 L370.84 319.81 L371.29 320.65 L371.74 319.69 L372.19 319.63 L372.64 319.78 L373.09 320.01 L373.54 320.60 L373.99 320.16 L374.44 319.07 L374.88 318.56 L375.33 319.61 L375.78 319.48 L376.23 318.50 L376.68 316.92 L377.13 317.44 L377.58 315.29 L378.03 314.40 L378.48 312.96 L378.93 311.27 L379.38 310.61 L379.83 310.86 L380.28 310.75 L380.73 311.86 L381.18 312.79 L381.63 314.73 L382.08 315.30 L382.52 317.50 L382.97 317.96 L383.42 318.59 L383.87 319.16 L384.32 318.55 L384.77 318.62 L385.22 320.20 L385.67 319.72 L386.12 320.67 L386.57 320.37 L387.02 320.63 L387.47 319.76 L387.92 319.56 L388.37 319.59 L388.82 320.59 L389.27 320.38 L389.72 320.70 L390.16 319.95 L390.61 320.70 L391.06 319.76 L391.51 320.26 L391.96 320.10 L392.41 319.53 L392.86 319.41 L393.31 320.52 L393.76 319.70 L394.21 320.45 L394.66 320.87 L395.11 319.38 L395.56 320.48 L396.01 320.29 L396.46 319.50 L396.91 319.23 L397.36 319.99 L397.80 319.38 L398.25 319.89 L398.70 320.50 L399.15 319.54 L399.60 320.15 L400.05 320.05 L400.50 319.67 L400.95 319.22 L401.40 319.91 L401.85 319.87 L402.30 319.23 L402.75 319.70 L403.20 319.17 L403.65 318.94 L404.10 319.53 L404.55 318.48 L404.99 318.33 L405.44 319.90 L405.89 319.82 L406.34 319.72 L406.79 319.04 L407.24 319.34 L407.69 318.57 L408.14 318.12 L408.59 319.01" stroke="#f06a20" stroke-width="1.25"/>
<path d="M255.79 338.50 L256.24 340.01 L256.69 338.60 L257.14 338.82 L257.59 337.75 L258.04 338.45 L258.49 337.23 L258.94 338.31 L259.39 336.47 L259.84 337.19 L260.29 337.27 L260.74 336.62 L261.19 335.75 L261.64 336.47 L262.09 335.48 L262.54 335.81 L262.98 335.35 L263.43 334.83 L263.88 334.39 L264.33 333.99 L264.78 332.78 L265.23 333.15 L265.68 332.07 L266.13 331.71 L266.58 331.44 L267.03 331.08 L267.48 331.50 L267.93 331.09 L268.38 330.48 L268.83 330.88 L269.28 331.41 L269.73 330.53 L270.17 330.30 L270.62 330.70 L271.07 330.60 L271.52 330.16 L271.97 328.94 L272.42 328.43 L272.87 328.41 L273.32 328.51 L273.77 328.91 L274.22 328.63 L274.67 327.13 L275.12 327.05 L275.57 326.87 L276.02 327.08 L276.47 326.88 L276.92 326.51 L277.37 326.35 L277.81 325.24 L278.26 325.53 L278.71 324.85 L279.16 324.86 L279.61 324.44 L280.06 323.90 L280.51 323.65 L280.96 324.57 L281.41 322.78 L281.86 322.58 L282.31 322.18 L282.76 322.31 L283.21 320.80 L283.66 320.47 L284.11 321.16 L284.56 320.67 L285.00 320.94 L285.45 321.70 L285.90 321.96 L286.35 323.07 L286.80 323.14 L287.25 324.45 L287.70 323.44 L288.15 324.43 L288.60 323.43 L289.05 323.16 L289.50 324.17 L289.95 324.77 L290.40 324.86 L290.85 324.04 L291.30 324.72 L291.75 323.68 L292.20 323.89 L292.64 324.07 L293.09 323.74 L293.54 324.66 L293.99 324.08 L294.44 324.80 L294.89 323.87 L295.34 323.39 L295.79 324.52 L296.24 323.52 L296.69 322.93 L297.14 324.11 L297.59 324.28 L298.04 324.15 L298.49 323.05 L298.94 324.37 L299.39 323.12 L299.84 324.10 L300.28 323.26 L300.73 323.06 L301.18 323.15 L301.63 324.16 L302.08 323.27 L302.53 323.42 L302.98 322.17 L303.43 323.05 L303.88 323.23 L304.33 322.75 L304.78 323.28 L305.23 322.98 L305.68 322.00 L306.13 322.56 L306.58 322.68 L307.03 321.16 L307.48 322.22 L307.92 321.08 L308.37 321.10 L308.82 321.14 L309.27 320.77 L309.72 320.69 L310.17 320.00 L310.62 320.04 L311.07 320.57 L311.52 319.61 L311.97 319.60 L312.42 318.54 L312.87 319.64 L313.32 318.62 L313.77 317.20 L314.22 318.32 L314.67 316.76 L315.11 316.36 L315.56 316.94 L316.01 317.99 L316.46 316.66 L316.91 317.50 L317.36 316.91 L317.81 316.22 L318.26 316.97 L318.71 316.92 L319.16 316.96 L319.61 316.35 L320.06 316.56 L320.51 315.28 L320.96 314.77 L321.41 315.81 L321.86 314.46 L322.31 313.30 L322.75 312.38 L323.20 312.03 L323.65 309.97 L324.10 308.16 L324.55 307.73 L325.00 307.42 L325.45 308.93 L325.90 310.21 L326.35 312.81 L326.80 313.80 L327.25 313.43 L327.70 313.99 L328.15 314.97 L328.60 315.30 L329.05 314.52 L329.50 314.66 L329.95 316.19 L330.39 316.08 L330.84 315.05 L331.29 315.62 L331.74 316.13 L332.19 314.70 L332.64 315.81 L333.09 316.25 L333.54 315.62 L333.99 315.60 L334.44 315.11 L334.89 314.84 L335.34 316.01 L335.79 315.23 L336.24 314.36 L336.69 315.00 L337.14 314.14 L337.58 313.97 L338.03 313.96 L338.48 314.04 L338.93 314.82 L339.38 313.06 L339.83 314.20 L340.28 314.18 L340.73 313.88 L341.18 313.92 L341.63 313.58 L342.08 314.07 L342.53 313.42 L342.98 313.70 L343.43 313.96 L343.88 314.63 L344.33 313.96 L344.78 314.18 L345.22 313.68 L345.67 314.53 L346.12 313.55 L346.57 313.65 L347.02 314.58 L347.47 313.16 L347.92 313.94 L348.37 313.98 L348.82 314.12 L349.27 313.99 L349.72 313.19 L350.17 312.93 L350.62 313.71 L351.07 313.55 L351.52 313.61 L351.97 314.17 L352.42 312.72 L352.86 313.49 L353.31 314.11 L353.76 313.64 L354.21 313.40 L354.66 312.39 L355.11 313.34 L355.56 313.20 L356.01 311.65 L356.46 312.49 L356.91 311.06 L357.36 312.36 L357.81 311.77 L358.26 310.97 L358.71 309.90 L359.16 308.67 L359.61 307.78 L360.05 305.01 L360.50 303.09 L360.95 301.73 L361.40 299.45 L361.85 299.39 L362.30 300.27 L362.75 302.84 L363.20 305.66 L363.65 306.48 L364.10 308.72 L364.55 309.04 L365.00 308.71 L365.45 310.34 L365.90 310.22 L366.35 310.05 L366.80 310.73 L367.25 311.51 L367.69 311.43 L368.14 312.26 L368.59 311.16 L369.04 311.47 L369.49 312.11 L369.94 311.95 L370.39 311.21 L370.84 312.67 L371.29 312.34 L371.74 311.58 L372.19 311.24 L372.64 311.63 L373.09 311.39 L373.54 312.41 L373.99 311.27 L374.44 311.13 L374.88 311.80 L375.33 310.71 L375.78 310.88 L376.23 310.30 L376.68 308.95 L377.13 308.16 L377.58 308.76 L378.03 307.48 L378.48 305.10 L378.93 303.05 L379.38 302.20 L379.83 301.95 L380.28 301.39 L380.73 302.13 L381.18 305.14 L381.63 306.70 L382.08 307.29 L382.52 307.86 L382.97 309.05 L383.42 309.78 L383.87 310.87 L384.32 311.26 L384.77 311.78 L385.22 311.26 L385.67 311.81 L386.12 311.38 L386.57 311.71 L387.02 312.07 L387.47 311.34 L387.92 312.17 L388.37 311.99 L388.82 312.03 L389.27 311.61 L389.72 311.11 L390.16 311.56 L390.61 312.90 L391.06 311.54 L391.51 311.94 L391.96 311.72 L392.41 312.81 L392.86 312.82 L393.31 312.80 L393.76 312.59 L394.21 312.57 L394.66 311.46 L395.11 311.34 L395.56 311.95 L396.01 312.27 L396.46 311.83 L396.91 312.39 L397.36 312.12 L397.80 311.72 L398.25 310.87 L398.70 311.14 L399.15 312.22 L399.60 310.94 L400.05 310.58 L400.50 310.71 L400.95 311.98 L401.40 311.19 L401.85 310.50 L402.30 311.72 L402.75 311.11 L403.20 310.97 L403.65 310.34 L404.10 310.56 L404.55 311.18 L404.99 310.93 L405.44 311.60 L405.89 310.46 L406.34 311.48 L406.79 310.70 L407.24 311.62 L407.69 310.54 L408.14 310.38 L408.59 311.63" stroke="#f0b030" stroke-width="1.25"/>
<path d="M255.79 330.90 L256.24 330.21 L256.69 330.83 L257.14 330.11 L257.59 329.42 L258.04 329.93 L258.49 329.22 L258.94 328.90 L259.39 328.32 L259.84 329.53 L260.29 328.91 L260.74 326.97 L261.19 327.07 L261.64 327.62 L262.09 326.33 L262.54 327.06 L262.98 326.34 L263.43 325.84 L263.88 325.91 L264.33 325.76 L264.78 324.77 L265.23 324.22 L265.68 324.57 L266.13 323.64 L266.58 322.75 L267.03 324.24 L267.48 323.55 L267.93 323.65 L268.38 322.28 L268.83 322.55 L269.28 322.28 L269.73 322.43 L270.17 321.18 L270.62 320.96 L271.07 321.27 L271.52 320.26 L271.97 321.09 L272.42 320.56 L272.87 319.07 L273.32 320.14 L273.77 319.97 L274.22 319.86 L274.67 318.32 L275.12 317.72 L275.57 318.88 L276.02 317.77 L276.47 317.64 L276.92 317.53 L277.37 317.47 L277.81 316.95 L278.26 317.18 L278.71 315.48 L279.16 316.64 L279.61 315.81 L280.06 315.42 L280.51 315.21 L280.96 315.33 L281.41 314.94 L281.86 313.78 L282.31 314.80 L282.76 314.24 L283.21 313.49 L283.66 312.10 L284.11 312.37 L284.56 312.71 L285.00 313.80 L285.45 314.23 L285.90 313.68 L286.35 314.86 L286.80 314.71 L287.25 315.32 L287.70 315.22 L288.15 315.48 L288.60 314.14 L289.05 314.72 L289.50 315.01 L289.95 315.53 L290.40 314.40 L290.85 314.95 L291.30 315.78 L291.75 315.70 L292.20 314.20 L292.64 315.38 L293.09 315.20 L293.54 315.79 L293.99 314.30 L294.44 315.49 L294.89 314.87 L295.34 314.55 L295.79 314.88 L296.24 315.17 L296.69 315.37 L297.14 314.52 L297.59 315.33 L298.04 314.61 L298.49 313.93 L298.94 313.95 L299.39 314.48 L299.84 314.73 L300.28 315.68 L300.73 314.53 L301.18 314.40 L301.63 315.23 L302.08 315.44 L302.53 314.18 L302.98 314.04 L303.43 313.00 L303.88 313.13 L304.33 313.69 L304.78 313.45 L305.23 313.49 L305.68 313.03 L306.13 312.95 L306.58 312.77 L307.03 313.46 L307.48 312.18 L307.92 313.44 L308.37 312.86 L308.82 312.12 L309.27 312.93 L309.72 311.63 L310.17 311.96 L310.62 311.71 L311.07 311.95 L311.52 311.11 L311.97 310.44 L312.42 311.11 L312.87 309.20 L313.32 308.42 L313.77 308.69 L314.22 307.99 L314.67 307.07 L315.11 307.37 L315.56 307.56 L316.01 308.11 L316.46 308.10 L316.91 308.39 L317.36 308.82 L317.81 307.43 L318.26 307.52 L318.71 308.63 L319.16 307.00 L319.61 306.43 L320.06 307.33 L320.51 306.18 L320.96 307.27 L321.41 306.15 L321.86 305.39 L322.31 305.52 L322.75 304.89 L323.20 304.02 L323.65 301.81 L324.10 300.87 L324.55 299.87 L325.00 300.07 L325.45 301.97 L325.90 302.82 L326.35 304.41 L326.80 303.92 L327.25 304.41 L327.70 305.79 L328.15 306.38 L328.60 305.87 L329.05 306.43 L329.50 305.90 L329.95 306.14 L330.39 306.78 L330.84 306.88 L331.29 306.63 L331.74 306.61 L332.19 306.84 L332.64 306.70 L333.09 307.01 L333.54 306.37 L333.99 306.71 L334.44 307.33 L334.89 306.31 L335.34 306.82 L335.79 306.69 L336.24 306.11 L336.69 305.42 L337.14 306.14 L337.58 305.94 L338.03 305.24 L338.48 304.57 L338.93 304.39 L339.38 303.80 L339.83 305.45 L340.28 304.57 L340.73 305.01 L341.18 305.18 L341.63 305.44 L342.08 305.05 L342.53 304.83 L342.98 305.10 L343.43 306.26 L343.88 305.53 L344.33 304.85 L344.78 305.69 L345.22 305.88 L345.67 305.71 L346.12 305.20 L346.57 305.76 L347.02 305.97 L347.47 306.24 L347.92 305.98 L348.37 304.90 L348.82 306.03 L349.27 305.49 L349.72 305.56 L350.17 304.50 L350.62 304.43 L351.07 305.89 L351.52 305.66 L351.97 305.38 L352.42 305.51 L352.86 304.83 L353.31 303.87 L353.76 304.81 L354.21 304.18 L354.66 304.39 L355.11 303.47 L355.56 304.32 L356.01 303.62 L356.46 304.44 L356.91 303.69 L357.36 304.01 L357.81 302.69 L358.26 301.94 L358.71 302.12 L359.16 300.69 L359.61 299.14 L360.05 298.29 L360.50 295.20 L360.95 294.63 L361.40 292.15 L361.85 290.14 L362.30 290.92 L362.75 293.69 L363.20 296.43 L363.65 297.99 L364.10 299.32 L364.55 300.50 L365.00 301.17 L365.45 301.91 L365.90 301.35 L366.35 303.31 L366.80 302.03 L367.25 303.12 L367.69 302.15 L368.14 302.43 L368.59 302.51 L369.04 303.32 L369.49 302.75 L369.94 304.16 L370.39 303.81 L370.84 304.20 L371.29 304.36 L371.74 302.66 L372.19 303.68 L372.64 303.91 L373.09 302.56 L373.54 302.63 L373.99 302.88 L374.44 303.33 L374.88 303.49 L375.33 303.22 L375.78 301.98 L376.23 301.01 L376.68 301.01 L377.13 301.07 L377.58 300.38 L378.03 297.96 L378.48 296.69 L378.93 295.60 L379.38 293.86 L379.83 293.87 L380.28 293.72 L380.73 293.15 L381.18 296.51 L381.63 296.66 L382.08 299.29 L382.52 299.36 L382.97 301.36 L383.42 302.14 L383.87 301.59 L384.32 301.50 L384.77 302.63 L385.22 302.12 L385.67 302.76 L386.12 302.56 L386.57 303.25 L387.02 302.73 L387.47 303.21 L387.92 303.79 L388.37 303.83 L388.82 303.05 L389.27 304.56 L389.72 303.78 L390.16 304.51 L390.61 303.12 L391.06 303.67 L391.51 303.14 L391.96 303.98 L392.41 303.86 L392.86 303.65 L393.31 303.52 L393.76 304.21 L394.21 304.54 L394.66 303.66 L395.11 304.39 L395.56 303.62 L396.01 304.29 L396.46 303.36 L396.91 303.47 L397.36 304.16 L397.80 302.91 L398.25 303.51 L398.70 302.61 L399.15 303.77 L399.60 303.38 L400.05 303.55 L400.50 302.92 L400.95 303.59 L401.40 303.12 L401.85 303.29 L402.30 303.77 L402.75 302.30 L403.20 303.49 L403.65 302.37 L404.10 302.92 L404.55 303.20 L404.99 303.28 L405.44 303.50 L405.89 303.72 L406.34 303.36 L406.79 302.13 L407.24 303.60 L407.69 302.95 L408.14 302.98 L408.59 303.24" stroke="#d8e830" stroke-width="1.25"/>
<path d="M255.79 322.06 L256.24 323.43 L256.69 322.38 L257.14 322.28 L257.59 321.05 L258.04 321.90 L258.49 321.44 L258.94 320.84 L259.39 320.86 L259.84 319.43 L260.29 319.12 L260.74 319.04 L261.19 319.98 L261.64 317.73 L262.09 318.22 L262.54 317.74 L262.98 317.49 L263.43 317.19 L263.88 316.02 L264.33 317.02 L264.78 316.99 L265.23 315.01 L265.68 316.21 L266.13 315.89 L266.58 315.29 L267.03 314.10 L267.48 314.86 L267.93 315.31 L268.38 314.54 L268.83 314.36 L269.28 314.53 L269.73 312.55 L270.17 312.60 L270.62 313.51 L271.07 313.00 L271.52 311.22 L271.97 311.46 L272.42 311.64 L272.87 311.04 L273.32 309.91 L273.77 311.06 L274.22 309.94 L274.67 310.85 L275.12 309.60 L275.57 309.79 L276.02 309.29 L276.47 308.91 L276.92 308.62 L277.37 307.46 L277.81 308.30 L278.26 308.77 L278.71 306.93 L279.16 306.56 L279.61 306.53 L280.06 307.44 L280.51 307.15 L280.96 306.11 L281.41 307.19 L281.86 306.89 L282.31 305.58 L282.76 305.66 L283.21 304.67 L283.66 304.76 L284.11 302.85 L284.56 304.00 L285.00 304.73 L285.45 305.26 L285.90 305.71 L286.35 305.01 L286.80 305.22 L287.25 305.39 L287.70 305.12 L288.15 305.78 L288.60 306.23 L289.05 306.17 L289.50 306.76 L289.95 306.31 L290.40 306.08 L290.85 305.33 L291.30 305.91 L291.75 306.87 L292.20 305.95 L292.64 306.34 L293.09 305.41 L293.54 305.35 L293.99 305.83 L294.44 305.71 L294.89 306.18 L295.34 306.46 L295.79 305.41 L296.24 305.47 L296.69 305.89 L297.14 305.14 L297.59 305.34 L298.04 305.56 L298.49 306.72 L298.94 304.99 L299.39 306.81 L299.84 306.75 L300.28 307.09 L300.73 307.13 L301.18 306.19 L301.63 306.16 L302.08 306.59 L302.53 305.98 L302.98 304.47 L303.43 305.02 L303.88 305.17 L304.33 303.94 L304.78 304.97 L305.23 305.25 L305.68 304.27 L306.13 303.71 L306.58 305.03 L307.03 303.64 L307.48 304.36 L307.92 302.83 L308.37 303.45 L308.82 303.52 L309.27 303.34 L309.72 303.66 L310.17 303.54 L310.62 302.39 L311.07 302.16 L311.52 302.56 L311.97 302.33 L312.42 301.29 L312.87 299.89 L313.32 301.03 L313.77 299.08 L314.22 297.79 L314.67 298.58 L315.11 298.51 L315.56 298.51 L316.01 299.47 L316.46 300.07 L316.91 299.90 L317.36 298.41 L317.81 299.27 L318.26 298.28 L318.71 299.57 L319.16 298.29 L319.61 299.19 L320.06 298.75 L320.51 297.83 L320.96 297.11 L321.41 296.85 L321.86 296.80 L322.31 297.63 L322.75 295.82 L323.20 294.60 L323.65 294.22 L324.10 292.41 L324.55 292.23 L325.00 291.90 L325.45 292.73 L325.90 293.85 L326.35 295.52 L326.80 296.49 L327.25 296.59 L327.70 296.69 L328.15 297.98 L328.60 296.97 L329.05 297.12 L329.50 297.41 L329.95 297.89 L330.39 297.06 L330.84 298.14 L331.29 298.33 L331.74 297.41 L332.19 297.91 L332.64 297.99 L333.09 298.17 L333.54 298.59 L333.99 298.41 L334.44 298.10 L334.89 297.20 L335.34 297.86 L335.79 297.97 L336.24 298.16 L336.69 296.64 L337.14 297.37 L337.58 297.03 L338.03 297.41 L338.48 295.74 L338.93 296.11 L339.38 295.92 L339.83 295.66 L340.28 295.89 L340.73 295.88 L341.18 296.21 L341.63 296.50 L342.08 295.72 L342.53 295.58 L342.98 296.52 L343.43 297.33 L343.88 297.39 L344.33 297.07 L344.78 295.96 L345.22 295.86 L345.67 297.54 L346.12 297.53 L346.57 295.90 L347.02 296.26 L347.47 296.70 L347.92 296.30 L348.37 296.51 L348.82 297.27 L349.27 295.72 L349.72 297.44 L350.17 296.77 L350.62 297.38 L351.07 297.31 L351.52 297.00 L351.97 296.99 L352.42 295.43 L352.86 296.11 L353.31 295.91 L353.76 295.41 L354.21 295.83 L354.66 296.48 L355.11 296.30 L355.56 296.46 L356.01 295.60 L356.46 294.68 L356.91 294.12 L357.36 294.44 L357.81 294.97 L358.26 293.28 L358.71 293.07 L359.16 292.58 L359.61 290.85 L360.05 290.31 L360.50 287.58 L360.95 286.11 L361.40 283.52 L361.85 282.67 L362.30 283.08 L362.75 283.83 L363.20 285.89 L363.65 289.53 L364.10 290.85 L364.55 290.93 L365.00 291.55 L365.45 292.93 L365.90 292.72 L366.35 293.86 L366.80 293.33 L367.25 294.46 L367.69 294.82 L368.14 294.10 L368.59 293.94 L369.04 295.64 L369.49 295.75 L369.94 295.42 L370.39 295.86 L370.84 295.81 L371.29 295.15 L371.74 294.19 L372.19 294.47 L372.64 295.46 L373.09 295.40 L373.54 295.31 L373.99 294.09 L374.44 295.03 L374.88 295.23 L375.33 293.44 L375.78 293.23 L376.23 293.45 L376.68 293.25 L377.13 293.14 L377.58 291.66 L378.03 290.82 L378.48 288.49 L378.93 288.03 L379.38 285.00 L379.83 283.57 L380.28 283.34 L380.73 284.54 L381.18 287.66 L381.63 288.24 L382.08 290.26 L382.52 292.28 L382.97 293.14 L383.42 292.87 L383.87 292.96 L384.32 294.03 L384.77 294.96 L385.22 295.49 L385.67 294.65 L386.12 295.25 L386.57 296.01 L387.02 294.47 L387.47 295.34 L387.92 294.99 L388.37 296.18 L388.82 294.49 L389.27 295.21 L389.72 296.42 L390.16 295.15 L390.61 296.42 L391.06 295.95 L391.51 295.33 L391.96 294.72 L392.41 295.40 L392.86 296.45 L393.31 294.85 L393.76 295.79 L394.21 294.84 L394.66 295.44 L395.11 295.30 L395.56 296.27 L396.01 294.99 L396.46 295.93 L396.91 294.93 L397.36 295.27 L397.80 294.84 L398.25 294.58 L398.70 295.99 L399.15 294.59 L399.60 295.88 L400.05 296.15 L400.50 295.73 L400.95 294.92 L401.40 295.79 L401.85 294.90 L402.30 295.55 L402.75 294.19 L403.20 294.76 L403.65 294.65 L404.10 295.94 L404.55 295.11 L404.99 294.37 L405.44 294.29 L405.89 295.67 L406.34 294.23 L406.79 295.32 L407.24 294.15 L407.69 295.04 L408.14 294.63 L408.59 294.45" stroke="#a8f030" stroke-width="1.25"/>
<path d="M255.79 315.50 L256.24 313.52 L256.69 314.96 L257.14 313.47 L257.59 312.96 L258.04 312.84 L258.49 313.42 L258.94 312.95 L259.39 311.80 L259.84 310.90 L260.29 311.12 L260.74 310.97 L261.19 310.88 L261.64 310.44 L262.09 309.38 L262.54 309.60 L262.98 309.00 L263.43 308.44 L263.88 308.10 L264.33 309.01 L264.78 308.33 L265.23 307.08 L265.68 307.09 L266.13 306.25 L266.58 307.61 L267.03 306.95 L267.48 306.09 L267.93 305.30 L268.38 306.16 L268.83 304.70 L269.28 305.17 L269.73 305.12 L270.17 303.74 L270.62 304.94 L271.07 302.90 L271.52 303.87 L271.97 303.43 L272.42 303.42 L272.87 302.53 L273.32 301.40 L273.77 302.36 L274.22 301.33 L274.67 301.24 L275.12 301.21 L275.57 301.27 L276.02 299.80 L276.47 300.13 L276.92 299.81 L277.37 299.32 L277.81 300.15 L278.26 298.47 L278.71 298.12 L279.16 299.25 L279.61 297.90 L280.06 297.96 L280.51 298.63 L280.96 298.48 L281.41 298.59 L281.86 297.57 L282.31 297.12 L282.76 296.60 L283.21 296.13 L283.66 295.51 L284.11 296.09 L284.56 296.06 L285.00 295.72 L285.45 296.28 L285.90 297.22 L286.35 297.27 L286.80 296.00 L287.25 296.48 L287.70 296.63 L288.15 297.39 L288.60 297.25 L289.05 296.65 L289.50 296.95 L289.95 296.78 L290.40 298.04 L290.85 296.62 L291.30 297.68 L291.75 297.40 L292.20 296.93 L292.64 296.06 L293.09 297.20 L293.54 296.71 L293.99 297.64 L294.44 296.12 L294.89 297.58 L295.34 296.98 L295.79 296.70 L296.24 296.67 L296.69 297.21 L297.14 296.79 L297.59 298.12 L298.04 296.08 L298.49 296.96 L298.94 296.86 L299.39 297.70 L299.84 297.44 L300.28 297.34 L300.73 298.04 L301.18 298.78 L301.63 298.25 L302.08 296.32 L302.53 297.14 L302.98 295.98 L303.43 295.21 L303.88 296.18 L304.33 294.89 L304.78 295.52 L305.23 294.47 L305.68 295.90 L306.13 295.31 L306.58 295.30 L307.03 295.34 L307.48 294.86 L307.92 294.69 L308.37 294.58 L308.82 293.42 L309.27 294.37 L309.72 294.74 L310.17 293.09 L310.62 293.53 L311.07 294.14 L311.52 292.34 L311.97 292.06 L312.42 291.81 L312.87 290.95 L313.32 291.44 L313.77 289.40 L314.22 289.50 L314.67 287.93 L315.11 287.79 L315.56 289.24 L316.01 289.98 L316.46 289.63 L316.91 289.81 L317.36 290.30 L317.81 291.17 L318.26 290.53 L318.71 289.77 L319.16 291.07 L319.61 290.13 L320.06 288.92 L320.51 289.21 L320.96 289.97 L321.41 289.98 L321.86 288.72 L322.31 288.14 L322.75 288.14 L323.20 286.75 L323.65 284.61 L324.10 284.20 L324.55 283.85 L325.00 285.14 L325.45 285.09 L325.90 286.80 L326.35 285.38 L326.80 286.77 L327.25 287.15 L327.70 287.55 L328.15 289.35 L328.60 288.05 L329.05 288.53 L329.50 290.00 L329.95 288.35 L330.39 288.53 L330.84 288.32 L331.29 290.22 L331.74 288.51 L332.19 288.79 L332.64 289.87 L333.09 290.20 L333.54 288.90 L333.99 290.12 L334.44 289.04 L334.89 288.41 L335.34 289.15 L335.79 289.15 L336.24 288.80 L336.69 289.23 L337.14 289.09 L337.58 287.73 L338.03 286.84 L338.48 286.06 L338.93 287.49 L339.38 286.74 L339.83 285.50 L340.28 286.66 L340.73 285.91 L341.18 285.88 L341.63 286.37 L342.08 287.13 L342.53 287.12 L342.98 287.02 L343.43 288.63 L343.88 288.30 L344.33 287.53 L344.78 288.10 L345.22 287.51 L345.67 287.09 L346.12 287.61 L346.57 287.88 L347.02 287.59 L347.47 287.14 L347.92 288.85 L348.37 288.93 L348.82 287.35 L349.27 287.20 L349.72 287.58 L350.17 287.97 L350.62 288.34 L351.07 286.82 L351.52 287.37 L351.97 286.75 L352.42 287.39 L352.86 286.93 L353.31 288.18 L353.76 287.09 L354.21 288.32 L354.66 287.75 L355.11 287.39 L355.56 287.12 L356.01 286.00 L356.46 286.59 L356.91 287.47 L357.36 285.78 L357.81 285.54 L358.26 284.99 L358.71 284.24 L359.16 283.86 L359.61 283.47 L360.05 281.87 L360.50 281.40 L360.95 278.49 L361.40 275.89 L361.85 273.20 L362.30 274.24 L362.75 275.47 L363.20 277.83 L363.65 280.26 L364.10 281.56 L364.55 281.86 L365.00 284.25 L365.45 285.52 L365.90 286.16 L366.35 285.05 L366.80 286.08 L367.25 285.08 L367.69 286.81 L368.14 285.45 L368.59 286.94 L369.04 285.64 L369.49 285.81 L369.94 286.96 L370.39 287.65 L370.84 286.56 L371.29 286.63 L371.74 286.52 L372.19 287.52 L372.64 286.03 L373.09 287.00 L373.54 286.98 L373.99 287.39 L374.44 287.37 L374.88 286.31 L375.33 286.76 L375.78 286.13 L376.23 284.88 L376.68 284.39 L377.13 284.42 L377.58 284.08 L378.03 282.16 L378.48 281.27 L378.93 278.28 L379.38 276.86 L379.83 275.17 L380.28 275.95 L380.73 275.80 L381.18 278.24 L381.63 280.48 L382.08 282.42 L382.52 282.91 L382.97 283.62 L383.42 285.20 L383.87 286.11 L384.32 285.53 L384.77 285.99 L385.22 285.84 L385.67 285.75 L386.12 287.38 L386.57 285.83 L387.02 287.36 L387.47 286.50 L387.92 287.64 L388.37 286.60 L388.82 287.50 L389.27 287.18 L389.72 286.46 L390.16 286.73 L390.61 286.76 L391.06 286.45 L391.51 287.51 L391.96 287.85 L392.41 286.65 L392.86 287.16 L393.31 287.81 L393.76 286.32 L394.21 286.50 L394.66 286.69 L395.11 287.38 L395.56 286.66 L396.01 287.49 L396.46 287.71 L396.91 286.60 L397.36 287.02 L397.80 286.72 L398.25 288.09 L398.70 287.14 L399.15 287.35 L399.60 288.12 L400.05 286.42 L400.50 287.22 L400.95 287.15 L401.40 286.93 L401.85 286.82 L402.30 287.84 L402.75 287.67 L403.20 287.86 L403.65 286.72 L404.10 287.68 L404.55 286.58 L404.99 286.36 L405.44 286.44 L405.89 285.94 L406.34 286.89 L406.79 286.84 L407.24 286.75 L407.69 286.68 L408.14 286.85 L408.59 287.39" stroke="#60f020" stroke-width="1.25"/>
<path d="M255.79 305.39 L256.24 306.07 L256.69 306.02 L257.14 305.64 L257.59 304.80 L258.04 303.98 L258.49 304.85 L258.94 304.88 L259.39 304.16 L259.84 304.42 L260.29 302.74 L260.74 301.56 L261.19 302.84 L261.64 301.21 L262.09 301.99 L262.54 300.02 L262.98 300.45 L263.43 300.45 L263.88 300.88 L264.33 300.30 L264.78 298.39 L265.23 299.70 L265.68 298.50 L266.13 298.34 L266.58 298.30 L267.03 297.42 L267.48 298.40 L267.93 296.91 L268.38 297.93 L268.83 297.31 L269.28 296.01 L269.73 296.77 L270.17 296.58 L270.62 295.47 L271.07 294.82 L271.52 295.85 L271.97 294.05 L272.42 293.89 L272.87 294.80 L273.32 293.22 L273.77 294.10 L274.22 292.56 L274.67 292.11 L275.12 292.28 L275.57 292.04 L276.02 290.82 L276.47 291.87 L276.92 291.09 L277.37 290.82 L277.81 291.62 L278.26 289.58 L278.71 290.95 L279.16 289.44 L279.61 289.97 L280.06 290.79 L280.51 289.98 L280.96 289.17 L281.41 289.18 L281.86 287.89 L282.31 289.45 L282.76 287.31 L283.21 286.79 L283.66 287.87 L284.11 286.83 L284.56 287.95 L285.00 287.09 L285.45 287.15 L285.90 288.29 L286.35 287.41 L286.80 288.73 L287.25 289.21 L287.70 288.26 L288.15 287.66 L288.60 288.60 L289.05 288.76 L289.50 287.78 L289.95 287.73 L290.40 288.88 L290.85 288.79 L291.30 287.77 L291.75 287.38 L292.20 288.74 L292.64 287.67 L293.09 287.64 L293.54 289.01 L293.99 287.64 L294.44 288.09 L294.89 288.94 L295.34 288.91 L295.79 288.67 L296.24 287.72 L296.69 288.95 L297.14 288.02 L297.59 287.41 L298.04 288.07 L298.49 287.80 L298.94 289.05 L299.39 287.38 L299.84 287.67 L300.28 288.17 L300.73 289.80 L301.18 289.19 L301.63 288.42 L302.08 289.15 L302.53 288.48 L302.98 286.20 L303.43 286.51 L303.88 285.67 L304.33 286.69 L304.78 285.50 L305.23 285.90 L305.68 286.92 L306.13 286.70 L306.58 285.04 L307.03 286.69 L307.48 284.66 L307.92 285.20 L308.37 284.38 L308.82 285.84 L309.27 285.98 L309.72 283.86 L310.17 284.53 L310.62 284.87 L311.07 283.92 L311.52 284.63 L311.97 283.08 L312.42 282.79 L312.87 282.17 L313.32 282.03 L313.77 281.01 L314.22 280.33 L314.67 280.14 L315.11 279.39 L315.56 280.46 L316.01 280.97 L316.46 281.93 L316.91 280.75 L317.36 281.27 L317.81 282.33 L318.26 281.54 L318.71 281.53 L319.16 280.58 L319.61 281.53 L320.06 281.53 L320.51 280.93 L320.96 280.09 L321.41 281.66 L321.86 279.33 L322.31 280.80 L322.75 280.33 L323.20 279.02 L323.65 277.08 L324.10 275.67 L324.55 276.20 L325.00 276.99 L325.45 277.05 L325.90 277.78 L326.35 277.68 L326.80 278.94 L327.25 278.13 L327.70 278.42 L328.15 280.21 L328.60 280.12 L329.05 279.18 L329.50 281.02 L329.95 281.59 L330.39 280.21 L330.84 280.72 L331.29 280.82 L331.74 281.23 L332.19 280.40 L332.64 279.75 L333.09 279.97 L333.54 280.86 L333.99 281.16 L334.44 280.44 L334.89 279.34 L335.34 280.03 L335.79 279.83 L336.24 279.58 L336.69 278.68 L337.14 278.22 L337.58 279.54 L338.03 277.97 L338.48 277.57 L338.93 277.58 L339.38 276.69 L339.83 277.78 L340.28 277.09 L340.73 278.15 L341.18 278.77 L341.63 277.87 L342.08 277.44 L342.53 278.78 L342.98 278.62 L343.43 278.94 L343.88 279.81 L344.33 279.73 L344.78 279.09 L345.22 279.23 L345.67 280.38 L346.12 279.43 L346.57 279.32 L347.02 279.03 L347.47 280.22 L347.92 278.51 L348.37 279.29 L348.82 278.78 L349.27 278.80 L349.72 279.79 L350.17 279.95 L350.62 279.73 L351.07 278.69 L351.52 279.79 L351.97 278.22 L352.42 278.80 L352.86 278.84 L353.31 279.30 L353.76 279.06 L354.21 278.36 L354.66 278.91 L355.11 278.01 L355.56 277.64 L356.01 278.44 L356.46 277.66 L356.91 278.97 L357.36 278.79 L357.81 278.04 L358.26 276.50 L358.71 277.85 L359.16 276.79 L359.61 274.66 L360.05 275.01 L360.50 273.58 L360.95 271.12 L361.40 268.31 L361.85 265.38 L362.30 264.21 L362.75 265.70 L363.20 266.89 L363.65 270.05 L364.10 271.96 L364.55 273.63 L365.00 275.22 L365.45 275.55 L365.90 276.11 L366.35 276.20 L366.80 276.81 L367.25 277.21 L367.69 276.86 L368.14 277.95 L368.59 278.92 L369.04 278.82 L369.49 277.34 L369.94 279.12 L370.39 277.82 L370.84 278.82 L371.29 278.66 L371.74 279.51 L372.19 278.37 L372.64 277.67 L373.09 277.79 L373.54 279.34 L373.99 277.91 L374.44 277.42 L374.88 278.38 L375.33 278.55 L375.78 278.24 L376.23 276.99 L376.68 277.34 L377.13 276.43 L377.58 274.39 L378.03 274.16 L378.48 272.95 L378.93 271.79 L379.38 268.95 L379.83 266.88 L380.28 266.88 L380.73 266.73 L381.18 270.29 L381.63 272.02 L382.08 272.80 L382.52 275.29 L382.97 274.70 L383.42 276.77 L383.87 276.13 L384.32 278.46 L384.77 278.40 L385.22 277.50 L385.67 278.39 L386.12 278.09 L386.57 279.23 L387.02 278.39 L387.47 277.87 L387.92 279.60 L388.37 278.09 L388.82 277.86 L389.27 278.46 L389.72 278.37 L390.16 279.03 L390.61 278.28 L391.06 278.67 L391.51 279.60 L391.96 278.62 L392.41 279.13 L392.86 278.45 L393.31 278.85 L393.76 278.35 L394.21 280.13 L394.66 278.67 L395.11 279.93 L395.56 280.21 L396.01 279.01 L396.46 279.30 L396.91 279.86 L397.36 278.89 L397.80 278.21 L398.25 278.85 L398.70 279.89 L399.15 278.79 L399.60 278.03 L400.05 279.88 L400.50 280.10 L400.95 279.52 L401.40 279.54 L401.85 279.98 L402.30 279.30 L402.75 279.52 L403.20 279.80 L403.65 278.54 L404.10 279.23 L404.55 278.73 L404.99 279.95 L405.44 278.41 L405.89 278.55 L406.34 278.33 L406.79 278.08 L407.24 277.91 L407.69 279.35 L408.14 277.85 L408.59 277.78" stroke="#40f048" stroke-width="1.25"/>
<path d="M255.79 299.20 L256.24 297.75 L256.69 298.79 L257.14 297.38 L257.59 296.01 L258.04 297.21 L258.49 295.27 L258.94 295.64 L259.39 294.65 L259.84 296.18 L260.29 294.11 L260.74 294.16 L261.19 293.52 L261.64 293.59 L262.09 291.80 L262.54 292.12 L262.98 291.56 L263.43 291.28 L263.88 291.25 L264.33 290.33 L264.78 290.50 L265.23 290.37 L265.68 291.07 L266.13 289.85 L266.58 290.47 L267.03 289.19 L267.48 289.24 L267.93 288.16 L268.38 288.23 L268.83 288.42 L269.28 287.76 L269.73 288.12 L270.17 286.05 L270.62 285.99 L271.07 286.68 L271.52 286.72 L271.97 285.83 L272.42 285.03 L272.87 285.10 L273.32 283.61 L273.77 285.27 L274.22 284.27 L274.67 283.54 L275.12 284.30 L275.57 283.05 L276.02 282.54 L276.47 282.90 L276.92 281.16 L277.37 282.45 L277.81 282.23 L278.26 281.54 L278.71 282.12 L279.16 281.48 L279.61 282.02 L280.06 282.08 L280.51 280.48 L280.96 281.21 L281.41 281.23 L281.86 280.73 L282.31 280.04 L282.76 280.28 L283.21 278.62 L283.66 278.15 L284.11 277.32 L284.56 279.50 L285.00 279.11 L285.45 278.53 L285.90 278.34 L286.35 279.83 L286.80 278.52 L287.25 280.43 L287.70 279.24 L288.15 280.38 L288.60 280.02 L289.05 278.72 L289.50 279.29 L289.95 278.20 L290.40 278.10 L290.85 279.18 L291.30 278.95 L291.75 279.26 L292.20 279.69 L292.64 279.14 L293.09 278.30 L293.54 279.21 L293.99 278.35 L294.44 279.91 L294.89 280.01 L295.34 278.07 L295.79 279.81 L296.24 280.05 L296.69 278.40 L297.14 278.73 L297.59 278.47 L298.04 278.52 L298.49 280.22 L298.94 279.19 L299.39 279.24 L299.84 280.43 L300.28 280.02 L300.73 280.91 L301.18 281.20 L301.63 280.54 L302.08 279.48 L302.53 279.54 L302.98 277.58 L303.43 277.93 L303.88 277.81 L304.33 277.70 L304.78 277.28 L305.23 276.30 L305.68 276.35 L306.13 277.05 L306.58 277.81 L307.03 277.77 L307.48 275.86 L307.92 277.59 L308.37 276.84 L308.82 276.13 L309.27 277.09 L309.72 275.48 L310.17 274.73 L310.62 275.03 L311.07 274.69 L311.52 274.33 L311.97 274.18 L312.42 275.12 L312.87 274.46 L313.32 271.98 L313.77 270.90 L314.22 269.59 L314.67 269.16 L315.11 270.60 L315.56 271.91 L316.01 271.47 L316.46 273.13 L316.91 272.02 L317.36 272.98 L317.81 272.19 L318.26 272.07 L318.71 271.61 L319.16 272.54 L319.61 272.56 L320.06 273.16 L320.51 272.90 L320.96 273.24 L321.41 270.97 L321.86 272.56 L322.31 270.84 L322.75 272.00 L323.20 270.32 L323.65 270.09 L324.10 267.95 L324.55 268.92 L325.00 267.58 L325.45 267.92 L325.90 268.87 L326.35 269.07 L326.80 269.51 L327.25 269.42 L327.70 270.58 L328.15 270.11 L328.60 272.03 L329.05 272.42 L329.50 271.51 L329.95 272.53 L330.39 272.59 L330.84 271.65 L331.29 270.87 L331.74 272.78 L332.19 272.48 L332.64 272.49 L333.09 272.23 L333.54 271.50 L333.99 271.64 L334.44 272.27 L334.89 270.60 L335.34 272.11 L335.79 271.62 L336.24 270.14 L336.69 270.17 L337.14 269.97 L337.58 270.60 L338.03 270.13 L338.48 268.51 L338.93 268.85 L339.38 268.58 L339.83 267.65 L340.28 267.85 L340.73 268.46 L341.18 267.82 L341.63 269.62 L342.08 268.51 L342.53 270.21 L342.98 271.21 L343.43 270.58 L343.88 271.01 L344.33 271.45 L344.78 271.01 L345.22 270.91 L345.67 271.27 L346.12 270.26 L346.57 269.65 L347.02 271.66 L347.47 271.56 L347.92 271.12 L348.37 269.91 L348.82 271.07 L349.27 270.17 L349.72 271.15 L350.17 271.31 L350.62 271.64 L351.07 271.52 L351.52 270.67 L351.97 270.19 L352.42 270.13 L352.86 271.40 L353.31 271.13 L353.76 269.95 L354.21 269.65 L354.66 270.08 L355.11 270.92 L355.56 269.67 L356.01 269.09 L356.46 271.02 L356.91 269.62 L357.36 270.38 L357.81 268.74 L358.26 268.54 L358.71 268.45 L359.16 267.41 L359.61 267.26 L360.05 265.36 L360.50 264.92 L360.95 263.97 L361.40 260.72 L361.85 258.11 L362.30 255.10 L362.75 256.78 L363.20 258.66 L363.65 262.39 L364.10 262.61 L364.55 265.16 L365.00 266.21 L365.45 267.11 L365.90 267.84 L366.35 269.74 L366.80 269.68 L367.25 269.84 L367.69 268.98 L368.14 270.45 L368.59 270.43 L369.04 270.46 L369.49 270.09 L369.94 270.81 L370.39 270.40 L370.84 269.14 L371.29 269.58 L371.74 271.07 L372.19 269.45 L372.64 269.69 L373.09 269.43 L373.54 270.47 L373.99 269.11 L374.44 268.82 L374.88 269.96 L375.33 269.74 L375.78 269.50 L376.23 268.04 L376.68 269.13 L377.13 269.15 L377.58 268.26 L378.03 267.18 L378.48 266.12 L378.93 264.13 L379.38 261.06 L379.83 259.84 L380.28 257.15 L380.73 258.47 L381.18 260.88 L381.63 262.64 L382.08 265.02 L382.52 265.66 L382.97 266.42 L383.42 268.22 L383.87 267.79 L384.32 268.42 L384.77 268.94 L385.22 268.84 L385.67 269.61 L386.12 271.02 L386.57 269.45 L387.02 269.65 L387.47 271.23 L387.92 270.70 L388.37 270.62 L388.82 269.84 L389.27 271.46 L389.72 270.32 L390.16 271.12 L390.61 269.83 L391.06 271.63 L391.51 271.37 L391.96 270.15 L392.41 271.83 L392.86 271.29 L393.31 270.00 L393.76 271.74 L394.21 269.86 L394.66 271.92 L395.11 270.82 L395.56 270.95 L396.01 269.90 L396.46 271.20 L396.91 271.09 L397.36 270.64 L397.80 271.03 L398.25 271.31 L398.70 270.38 L399.15 271.71 L399.60 271.22 L400.05 270.93 L400.50 271.50 L400.95 271.25 L401.40 271.38 L401.85 270.00 L402.30 272.05 L402.75 271.72 L403.20 271.39 L403.65 271.77 L404.10 269.88 L404.55 269.77 L404.99 269.87 L405.44 271.86 L405.89 270.01 L406.34 269.86 L406.79 270.29 L407.24 269.91 L407.69 271.10 L408.14 270.40 L408.59 270.04" stroke="#50f0b0" stroke-width="1.25"/>
<path d="M255.79 289.73 L256.24 290.40 L256.69 289.11 L257.14 288.09 L257.59 289.88 L258.04 288.54 L258.49 288.37 L258.94 288.10 L259.39 286.27 L259.84 285.60 L260.29 285.52 L260.74 285.96 L261.19 284.43 L261.64 285.78 L262.09 284.43 L262.54 284.05 L262.98 284.58 L263.43 283.06 L263.88 283.13 L264.33 282.84 L264.78 283.20 L265.23 281.63 L265.68 282.63 L266.13 282.58 L266.58 280.32 L267.03 281.33 L267.48 280.29 L267.93 279.69 L268.38 279.27 L268.83 278.57 L269.28 280.01 L269.73 278.98 L270.17 279.38 L270.62 277.62 L271.07 278.40 L271.52 277.93 L271.97 277.58 L272.42 276.09 L272.87 276.28 L273.32 275.08 L273.77 275.29 L274.22 274.94 L274.67 274.41 L275.12 274.90 L275.57 274.45 L276.02 274.45 L276.47 274.40 L276.92 272.60 L277.37 273.14 L277.81 273.34 L278.26 272.79 L278.71 273.67 L279.16 271.85 L279.61 272.60 L280.06 272.89 L280.51 271.79 L280.96 272.10 L281.41 271.35 L281.86 272.45 L282.31 270.19 L282.76 270.03 L283.21 271.43 L283.66 270.14 L284.11 271.02 L284.56 271.00 L285.00 270.80 L285.45 271.29 L285.90 269.33 L286.35 270.51 L286.80 270.41 L287.25 270.02 L287.70 270.99 L288.15 270.43 L288.60 269.85 L289.05 270.04 L289.50 270.65 L289.95 271.19 L290.40 269.18 L290.85 268.91 L291.30 268.87 L291.75 270.83 L292.20 270.60 L292.64 270.62 L293.09 269.17 L293.54 270.21 L293.99 269.47 L294.44 269.49 L294.89 270.18 L295.34 270.91 L295.79 269.10 L296.24 270.14 L296.69 269.75 L297.14 271.48 L297.59 270.28 L298.04 269.84 L298.49 270.83 L298.94 270.70 L299.39 269.93 L299.84 271.14 L300.28 271.22 L300.73 272.26 L301.18 273.25 L301.63 271.58 L302.08 270.58 L302.53 269.45 L302.98 269.41 L303.43 267.90 L303.88 267.84 L304.33 269.48 L304.78 269.30 L305.23 267.61 L305.68 267.44 L306.13 267.38 L306.58 268.80 L307.03 266.74 L307.48 268.51 L307.92 268.24 L308.37 266.97 L308.82 266.62 L309.27 268.05 L309.72 266.32 L310.17 267.53 L310.62 266.65 L311.07 266.77 L311.52 265.20 L311.97 265.55 L312.42 265.99 L312.87 263.47 L313.32 263.65 L313.77 261.26 L314.22 261.69 L314.67 261.10 L315.11 261.04 L315.56 261.75 L316.01 263.58 L316.46 262.79 L316.91 262.75 L317.36 263.49 L317.81 263.81 L318.26 263.04 L318.71 264.16 L319.16 264.71 L319.61 264.40 L320.06 262.86 L320.51 264.56 L320.96 263.79 L321.41 263.84 L321.86 262.26 L322.31 262.61 L322.75 262.66 L323.20 262.41 L323.65 261.81 L324.10 261.52 L324.55 260.34 L325.00 259.94 L325.45 259.94 L325.90 260.99 L326.35 261.39 L326.80 261.01 L327.25 260.03 L327.70 261.16 L328.15 261.07 L328.60 262.41 L329.05 262.80 L329.50 262.06 L329.95 263.84 L330.39 263.82 L330.84 263.89 L331.29 263.91 L331.74 264.12 L332.19 262.22 L332.64 263.30 L333.09 263.15 L333.54 263.15 L333.99 263.83 L334.44 263.67 L334.89 263.87 L335.34 261.78 L335.79 263.25 L336.24 262.60 L336.69 260.72 L337.14 260.78 L337.58 260.29 L338.03 261.33 L338.48 259.94 L338.93 258.11 L339.38 258.42 L339.83 257.54 L340.28 258.83 L340.73 259.14 L341.18 258.61 L341.63 259.66 L342.08 261.55 L342.53 260.07 L342.98 261.83 L343.43 262.69 L343.88 261.10 L344.33 261.09 L344.78 262.87 L345.22 262.01 L345.67 262.58 L346.12 262.44 L346.57 261.38 L347.02 262.88 L347.47 261.16 L347.92 262.06 L348.37 262.22 L348.82 262.20 L349.27 261.86 L349.72 262.81 L350.17 262.74 L350.62 262.04 L351.07 262.13 L351.52 261.03 L351.97 263.20 L352.42 262.00 L352.86 261.29 L353.31 261.02 L353.76 262.69 L354.21 261.96 L354.66 261.81 L355.11 260.64 L355.56 261.95 L356.01 262.00 L356.46 261.94 L356.91 260.88 L357.36 261.13 L357.81 260.19 L358.26 260.09 L358.71 260.68 L359.16 258.90 L359.61 259.06 L360.05 257.31 L360.50 257.68 L360.95 255.79 L361.40 251.94 L361.85 249.71 L362.30 247.93 L362.75 246.62 L363.20 249.34 L363.65 251.99 L364.10 254.07 L364.55 257.01 L365.00 257.16 L365.45 258.13 L365.90 260.36 L366.35 261.00 L366.80 259.56 L367.25 261.77 L367.69 261.42 L368.14 262.50 L368.59 261.60 L369.04 261.76 L369.49 262.39 L369.94 262.63 L370.39 262.07 L370.84 261.38 L371.29 261.78 L371.74 261.24 L372.19 262.71 L372.64 260.99 L373.09 261.34 L373.54 262.50 L373.99 262.11 L374.44 260.80 L374.88 261.64 L375.33 261.57 L375.78 260.46 L376.23 261.19 L376.68 260.63 L377.13 260.26 L377.58 259.49 L378.03 258.99 L378.48 256.78 L378.93 256.15 L379.38 254.29 L379.83 250.09 L380.28 248.34 L380.73 249.19 L381.18 250.53 L381.63 253.51 L382.08 255.59 L382.52 257.01 L382.97 259.97 L383.42 260.75 L383.87 260.99 L384.32 260.52 L384.77 261.13 L385.22 260.33 L385.67 261.23 L386.12 262.00 L386.57 263.05 L387.02 261.30 L387.47 263.13 L387.92 261.85 L388.37 261.29 L388.82 261.81 L389.27 263.49 L389.72 262.92 L390.16 263.12 L390.61 263.03 L391.06 263.29 L391.51 261.68 L391.96 263.02 L392.41 262.84 L392.86 263.41 L393.31 262.68 L393.76 263.72 L394.21 263.50 L394.66 261.67 L395.11 263.73 L395.56 262.33 L396.01 262.29 L396.46 262.51 L396.91 263.71 L397.36 263.73 L397.80 262.16 L398.25 263.48 L398.70 262.99 L399.15 262.47 L399.60 262.97 L400.05 263.26 L400.50 262.89 L400.95 262.96 L401.40 263.13 L401.85 263.04 L402.30 263.32 L402.75 262.73 L403.20 262.51 L403.65 262.96 L404.10 262.87 L404.55 262.05 L404.99 262.53 L405.44 262.31 L405.89 261.98 L406.34 262.33 L406.79 263.69 L407.24 263.54 L407.69 262.94 L408.14 262.83 L408.59 263.45" stroke="#60f0f0" stroke-width="1.25"/>
<path d="M255.79 282.35 L256.24 280.40 L256.69 280.09 L257.14 282.03 L257.59 279.66 L258.04 279.59 L258.49 279.25 L258.94 280.45 L259.39 277.98 L259.84 278.61 L260.29 277.08 L260.74 277.25 L261.19 276.22 L261.64 275.83 L262.09 276.32 L262.54 275.07 L262.98 273.92 L263.43 273.72 L263.88 273.33 L264.33 275.00 L264.78 273.41 L265.23 272.68 L265.68 273.75 L266.13 274.11 L266.58 272.09 L267.03 272.22 L267.48 270.90 L267.93 272.30 L268.38 272.35 L268.83 270.79 L269.28 269.77 L269.73 269.88 L270.17 270.83 L270.62 269.86 L271.07 269.98 L271.52 268.91 L271.97 267.59 L272.42 267.99 L272.87 267.40 L273.32 267.78 L273.77 266.69 L274.22 265.18 L274.67 266.30 L275.12 266.21 L275.57 264.98 L276.02 264.24 L276.47 266.04 L276.92 264.48 L277.37 264.43 L277.81 264.28 L278.26 264.36 L278.71 263.79 L279.16 263.23 L279.61 264.52 L280.06 264.63 L280.51 264.47 L280.96 263.29 L281.41 263.83 L281.86 263.03 L282.31 262.62 L282.76 262.53 L283.21 261.73 L283.66 261.64 L284.11 261.39 L284.56 260.76 L285.00 261.85 L285.45 262.79 L285.90 260.69 L286.35 262.06 L286.80 261.97 L287.25 262.61 L287.70 261.40 L288.15 260.74 L288.60 262.46 L289.05 261.18 L289.50 262.37 L289.95 261.38 L290.40 261.96 L290.85 260.49 L291.30 259.94 L291.75 260.86 L292.20 261.22 L292.64 260.33 L293.09 260.19 L293.54 262.06 L293.99 261.10 L294.44 260.56 L294.89 260.17 L295.34 262.08 L295.79 260.39 L296.24 262.05 L296.69 261.19 L297.14 260.69 L297.59 260.79 L298.04 262.05 L298.49 261.12 L298.94 261.99 L299.39 262.61 L299.84 261.27 L300.28 263.98 L300.73 262.14 L301.18 264.74 L301.63 262.17 L302.08 262.70 L302.53 261.53 L302.98 261.45 L303.43 259.44 L303.88 258.93 L304.33 258.68 L304.78 260.07 L305.23 259.91 L305.68 260.32 L306.13 259.93 L306.58 258.60 L307.03 259.51 L307.48 259.45 L307.92 259.40 L308.37 259.33 L308.82 258.92 L309.27 257.52 L309.72 257.53 L310.17 257.47 L310.62 257.87 L311.07 256.53 L311.52 257.46 L311.97 255.93 L312.42 255.57 L312.87 254.62 L313.32 253.99 L313.77 253.72 L314.22 251.00 L314.67 250.71 L315.11 252.37 L315.56 252.33 L316.01 254.01 L316.46 254.79 L316.91 254.67 L317.36 253.79 L317.81 255.72 L318.26 255.24 L318.71 254.39 L319.16 255.17 L319.61 253.94 L320.06 254.21 L320.51 254.42 L320.96 254.90 L321.41 254.67 L321.86 254.31 L322.31 253.52 L322.75 255.31 L323.20 252.71 L323.65 253.71 L324.10 253.75 L324.55 252.21 L325.00 252.82 L325.45 252.56 L325.90 253.10 L326.35 251.60 L326.80 252.24 L327.25 253.19 L327.70 252.05 L328.15 254.67 L328.60 252.91 L329.05 253.12 L329.50 254.97 L329.95 253.78 L330.39 254.57 L330.84 255.37 L331.29 255.12 L331.74 254.65 L332.19 255.07 L332.64 255.10 L333.09 254.18 L333.54 254.50 L333.99 253.23 L334.44 253.28 L334.89 254.94 L335.34 253.14 L335.79 254.37 L336.24 252.99 L336.69 253.41 L337.14 251.65 L337.58 252.41 L338.03 250.64 L338.48 249.81 L338.93 250.94 L339.38 248.60 L339.83 250.36 L340.28 250.24 L340.73 250.54 L341.18 250.19 L341.63 252.19 L342.08 251.56 L342.53 251.07 L342.98 253.64 L343.43 251.88 L343.88 252.93 L344.33 253.07 L344.78 253.25 L345.22 253.43 L345.67 253.42 L346.12 252.36 L346.57 252.45 L347.02 252.73 L347.47 252.93 L347.92 253.87 L348.37 254.62 L348.82 252.60 L349.27 253.51 L349.72 253.42 L350.17 252.97 L350.62 253.86 L351.07 253.52 L351.52 253.16 L351.97 252.87 L352.42 254.61 L352.86 254.62 L353.31 252.29 L353.76 252.51 L354.21 252.70 L354.66 252.47 L355.11 252.97 L355.56 254.45 L356.01 253.36 L356.46 253.26 L356.91 252.79 L357.36 252.46 L357.81 252.58 L358.26 251.48 L358.71 252.99 L359.16 252.62 L359.61 251.43 L360.05 250.13 L360.50 248.21 L360.95 247.92 L361.40 245.91 L361.85 243.29 L362.30 239.64 L362.75 236.90 L363.20 239.42 L363.65 242.55 L364.10 245.58 L364.55 246.78 L365.00 248.49 L365.45 251.56 L365.90 250.19 L366.35 250.94 L366.80 252.51 L367.25 251.48 L367.69 251.62 L368.14 254.14 L368.59 253.05 L369.04 252.32 L369.49 254.10 L369.94 254.11 L370.39 253.73 L370.84 253.13 L371.29 254.63 L371.74 253.80 L372.19 254.16 L372.64 254.06 L373.09 253.27 L373.54 253.62 L373.99 252.35 L374.44 252.52 L374.88 252.69 L375.33 253.00 L375.78 251.81 L376.23 252.53 L376.68 251.38 L377.13 250.84 L377.58 250.13 L378.03 251.03 L378.48 248.36 L378.93 248.59 L379.38 244.06 L379.83 243.73 L380.28 241.28 L380.73 241.41 L381.18 242.42 L381.63 246.00 L382.08 248.49 L382.52 248.78 L382.97 251.24 L383.42 252.51 L383.87 251.85 L384.32 251.72 L384.77 253.68 L385.22 253.73 L385.67 252.70 L386.12 254.28 L386.57 254.33 L387.02 254.46 L387.47 254.49 L387.92 254.13 L388.37 254.61 L388.82 253.26 L389.27 254.13 L389.72 254.16 L390.16 255.15 L390.61 254.44 L391.06 254.84 L391.51 254.05 L391.96 254.28 L392.41 253.57 L392.86 255.43 L393.31 253.57 L393.76 255.17 L394.21 253.87 L394.66 254.69 L395.11 254.66 L395.56 253.97 L396.01 253.53 L396.46 253.88 L396.91 254.48 L397.36 255.89 L397.80 254.95 L398.25 254.59 L398.70 255.05 L399.15 253.70 L399.60 255.04 L400.05 253.93 L400.50 255.42 L400.95 254.83 L401.40 255.63 L401.85 255.01 L402.30 255.88 L402.75 254.64 L403.20 254.52 L403.65 255.99 L404.10 253.69 L404.55 255.06 L404.99 254.62 L405.44 255.55 L405.89 255.69 L406.34 254.80 L406.79 253.75 L407.24 255.86 L407.69 255.42 L408.14 255.80 L408.59 255.45" stroke="#50b8f0" stroke-width="1.25"/>
<path d="M255.79 273.92 L256.24 273.01 L256.69 273.51 L257.14 271.81 L257.59 272.30 L258.04 272.23 L258.49 270.36 L258.94 270.16 L259.39 269.50 L259.84 269.50 L260.29 270.22 L260.74 269.19 L261.19 269.07 L261.64 267.18 L262.09 268.69 L262.54 266.26 L262.98 267.42 L263.43 266.67 L263.88 265.50 L264.33 265.07 L264.78 265.22 L265.23 264.89 L265.68 264.56 L266.13 264.25 L266.58 265.19 L267.03 264.38 L267.48 264.75 L267.93 263.00 L268.38 263.32 L268.83 263.07 L269.28 262.60 L269.73 260.51 L270.17 262.16 L270.62 259.79 L271.07 259.37 L271.52 260.72 L271.97 258.72 L272.42 259.92 L272.87 258.37 L273.32 259.31 L273.77 258.44 L274.22 257.64 L274.67 257.60 L275.12 256.14 L275.57 256.31 L276.02 257.61 L276.47 256.06 L276.92 257.13 L277.37 256.79 L277.81 256.12 L278.26 256.17 L278.71 255.42 L279.16 254.19 L279.61 254.56 L280.06 254.99 L280.51 254.09 L280.96 255.62 L281.41 254.03 L281.86 253.15 L282.31 252.98 L282.76 253.80 L283.21 253.29 L283.66 253.52 L284.11 253.15 L284.56 251.70 L285.00 253.89 L285.45 252.08 L285.90 253.68 L286.35 252.81 L286.80 252.77 L287.25 253.97 L287.70 252.76 L288.15 253.83 L288.60 251.38 L289.05 251.29 L289.50 252.10 L289.95 251.53 L290.40 251.54 L290.85 252.79 L291.30 253.07 L291.75 252.23 L292.20 252.04 L292.64 251.90 L293.09 251.49 L293.54 251.33 L293.99 251.90 L294.44 253.40 L294.89 252.64 L295.34 251.98 L295.79 251.40 L296.24 253.70 L296.69 251.98 L297.14 252.68 L297.59 253.09 L298.04 251.80 L298.49 253.31 L298.94 253.49 L299.39 253.01 L299.84 253.26 L300.28 255.02 L300.73 254.62 L301.18 255.59 L301.63 253.64 L302.08 254.47 L302.53 251.38 L302.98 251.32 L303.43 251.36 L303.88 251.01 L304.33 249.90 L304.78 250.31 L305.23 251.24 L305.68 251.04 L306.13 251.09 L306.58 249.78 L307.03 249.23 L307.48 250.57 L307.92 248.54 L308.37 249.11 L308.82 248.24 L309.27 249.59 L309.72 249.56 L310.17 248.43 L310.62 247.37 L311.07 248.31 L311.52 248.07 L311.97 247.24 L312.42 248.07 L312.87 246.88 L313.32 245.34 L313.77 242.87 L314.22 242.14 L314.67 240.78 L315.11 242.00 L315.56 242.82 L316.01 244.06 L316.46 246.19 L316.91 245.33 L317.36 246.08 L317.81 245.61 L318.26 246.39 L318.71 247.28 L319.16 247.47 L319.61 246.20 L320.06 245.93 L320.51 245.66 L320.96 247.15 L321.41 247.41 L321.86 247.02 L322.31 244.90 L322.75 245.50 L323.20 246.44 L323.65 244.33 L324.10 244.24 L324.55 243.43 L325.00 244.80 L325.45 242.89 L325.90 243.86 L326.35 242.84 L326.80 244.24 L327.25 242.68 L327.70 243.08 L328.15 244.78 L328.60 244.95 L329.05 246.56 L329.50 245.20 L329.95 245.26 L330.39 244.97 L330.84 245.09 L331.29 246.49 L331.74 245.12 L332.19 245.55 L332.64 246.80 L333.09 246.87 L333.54 246.50 L333.99 246.48 L334.44 245.28 L334.89 245.20 L335.34 244.53 L335.79 244.79 L336.24 244.44 L336.69 244.03 L337.14 244.81 L337.58 243.18 L338.03 242.39 L338.48 242.45 L338.93 241.66 L339.38 239.16 L339.83 240.24 L340.28 241.34 L340.73 241.74 L341.18 241.28 L341.63 241.12 L342.08 243.62 L342.53 242.88 L342.98 243.51 L343.43 244.04 L343.88 244.49 L344.33 245.12 L344.78 245.10 L345.22 245.41 L345.67 243.93 L346.12 244.64 L346.57 243.56 L347.02 243.94 L347.47 244.94 L347.92 243.59 L348.37 244.09 L348.82 244.15 L349.27 244.37 L349.72 245.23 L350.17 243.58 L350.62 244.77 L351.07 245.67 L351.52 245.05 L351.97 243.91 L352.42 243.62 L352.86 244.90 L353.31 245.34 L353.76 244.57 L354.21 243.84 L354.66 245.90 L355.11 244.22 L355.56 243.81 L356.01 244.27 L356.46 243.51 L356.91 244.38 L357.36 244.72 L357.81 243.07 L358.26 243.24 L358.71 244.61 L359.16 244.55 L359.61 242.53 L360.05 242.06 L360.50 241.95 L360.95 241.28 L361.40 237.45 L361.85 235.67 L362.30 231.17 L362.75 228.70 L363.20 229.37 L363.65 231.62 L364.10 235.44 L364.55 238.48 L365.00 240.60 L365.45 241.25 L365.90 242.30 L366.35 244.23 L366.80 242.99 L367.25 245.20 L367.69 243.70 L368.14 244.64 L368.59 245.61 L369.04 245.40 L369.49 245.53 L369.94 244.86 L370.39 246.04 L370.84 245.85 L371.29 245.74 L371.74 244.47 L372.19 244.97 L372.64 245.09 L373.09 246.19 L373.54 244.72 L373.99 244.28 L374.44 244.68 L374.88 244.81 L375.33 245.96 L375.78 243.39 L376.23 244.39 L376.68 242.97 L377.13 243.78 L377.58 242.72 L378.03 241.71 L378.48 242.42 L378.93 240.72 L379.38 238.32 L379.83 234.67 L380.28 232.85 L380.73 232.47 L381.18 232.92 L381.63 236.68 L382.08 238.71 L382.52 240.71 L382.97 243.23 L383.42 242.56 L383.87 245.05 L384.32 243.75 L384.77 243.89 L385.22 245.39 L385.67 245.01 L386.12 244.95 L386.57 245.11 L387.02 246.53 L387.47 246.11 L387.92 244.78 L388.37 245.22 L388.82 246.76 L389.27 245.90 L389.72 246.27 L390.16 246.97 L390.61 247.36 L391.06 247.14 L391.51 245.89 L391.96 246.00 L392.41 246.01 L392.86 246.91 L393.31 246.69 L393.76 246.42 L394.21 245.69 L394.66 247.32 L395.11 246.59 L395.56 246.00 L396.01 247.19 L396.46 245.81 L396.91 245.54 L397.36 246.93 L397.80 247.03 L398.25 246.89 L398.70 245.58 L399.15 246.20 L399.60 246.44 L400.05 247.17 L400.50 245.58 L400.95 245.90 L401.40 247.26 L401.85 247.14 L402.30 247.87 L402.75 246.48 L403.20 246.95 L403.65 247.86 L404.10 247.98 L404.55 247.72 L404.99 245.82 L405.44 245.69 L405.89 245.76 L406.34 246.63 L406.79 247.58 L407.24 246.69 L407.69 245.84 L408.14 245.63 L408.59 245.57" stroke="#4078f0" stroke-width="1.25"/>
<path d="M255.79 265.21 L256.24 264.81 L256.69 263.84 L257.14 264.78 L257.59 264.39 L258.04 262.99 L258.49 263.07 L258.94 262.92 L259.39 262.30 L259.84 261.98 L260.29 261.88 L260.74 260.14 L261.19 258.93 L261.64 258.96 L262.09 258.62 L262.54 258.93 L262.98 258.24 L263.43 258.61 L263.88 256.71 L264.33 257.54 L264.78 257.30 L265.23 255.27 L265.68 256.71 L266.13 254.75 L266.58 255.39 L267.03 254.68 L267.48 254.68 L267.93 255.49 L268.38 253.69 L268.83 254.48 L269.28 253.67 L269.73 253.98 L270.17 253.74 L270.62 252.49 L271.07 252.98 L271.52 251.57 L271.97 249.92 L272.42 249.10 L272.87 250.20 L273.32 250.63 L273.77 249.62 L274.22 250.00 L274.67 249.26 L275.12 247.88 L275.57 247.61 L276.02 248.90 L276.47 247.49 L276.92 247.57 L277.37 247.53 L277.81 248.10 L278.26 247.30 L278.71 247.93 L279.16 246.26 L279.61 246.21 L280.06 246.12 L280.51 246.54 L280.96 244.93 L281.41 246.29 L281.86 246.52 L282.31 245.86 L282.76 244.20 L283.21 245.92 L283.66 244.06 L284.11 243.38 L284.56 243.51 L285.00 244.47 L285.45 244.46 L285.90 243.29 L286.35 243.62 L286.80 243.27 L287.25 244.81 L287.70 243.55 L288.15 243.08 L288.60 244.27 L289.05 244.23 L289.50 242.45 L289.95 243.06 L290.40 243.38 L290.85 243.08 L291.30 243.60 L291.75 243.55 L292.20 243.85 L292.64 243.12 L293.09 243.85 L293.54 241.95 L293.99 241.87 L294.44 242.92 L294.89 244.33 L295.34 243.09 L295.79 244.35 L296.24 243.88 L296.69 244.61 L297.14 243.72 L297.59 244.91 L298.04 244.44 L298.49 244.62 L298.94 244.05 L299.39 243.20 L299.84 244.67 L300.28 244.74 L300.73 245.44 L301.18 246.32 L301.63 246.81 L302.08 245.76 L302.53 244.37 L302.98 242.29 L303.43 242.02 L303.88 240.40 L304.33 242.24 L304.78 242.32 L305.23 240.87 L305.68 240.83 L306.13 242.15 L306.58 241.24 L307.03 240.83 L307.48 239.68 L307.92 239.64 L308.37 239.24 L308.82 239.98 L309.27 238.77 L309.72 239.85 L310.17 240.16 L310.62 240.35 L311.07 238.27 L311.52 238.42 L311.97 238.07 L312.42 236.53 L312.87 236.61 L313.32 236.30 L313.77 233.73 L314.22 231.45 L314.67 232.55 L315.11 231.17 L315.56 233.99 L316.01 236.12 L316.46 236.02 L316.91 235.91 L317.36 237.06 L317.81 237.89 L318.26 236.73 L318.71 238.58 L319.16 237.17 L319.61 238.04 L320.06 237.40 L320.51 237.69 L320.96 238.27 L321.41 238.42 L321.86 236.74 L322.31 237.59 L322.75 237.90 L323.20 236.89 L323.65 236.17 L324.10 237.65 L324.55 236.40 L325.00 236.97 L325.45 235.05 L325.90 236.50 L326.35 233.91 L326.80 234.39 L327.25 234.83 L327.70 235.41 L328.15 236.67 L328.60 236.62 L329.05 237.63 L329.50 237.31 L329.95 236.79 L330.39 236.81 L330.84 237.59 L331.29 236.83 L331.74 236.38 L332.19 236.37 L332.64 238.36 L333.09 236.98 L333.54 237.76 L333.99 235.95 L334.44 236.44 L334.89 236.64 L335.34 236.00 L335.79 236.01 L336.24 236.49 L336.69 234.24 L337.14 236.00 L337.58 235.44 L338.03 234.02 L338.48 233.57 L338.93 232.11 L339.38 230.80 L339.83 231.11 L340.28 229.80 L340.73 232.10 L341.18 231.27 L341.63 231.94 L342.08 233.75 L342.53 233.62 L342.98 235.97 L343.43 234.05 L343.88 235.60 L344.33 236.07 L344.78 234.68 L345.22 236.17 L345.67 237.08 L346.12 237.31 L346.57 235.33 L347.02 236.99 L347.47 235.82 L347.92 237.29 L348.37 235.39 L348.82 234.99 L349.27 236.58 L349.72 235.46 L350.17 235.19 L350.62 236.95 L351.07 236.34 L351.52 234.98 L351.97 235.11 L352.42 236.14 L352.86 236.18 L353.31 237.57 L353.76 235.44 L354.21 235.13 L354.66 236.12 L355.11 236.97 L355.56 237.23 L356.01 235.85 L356.46 235.65 L356.91 235.84 L357.36 235.12 L357.81 237.12 L358.26 237.05 L358.71 236.61 L359.16 235.79 L359.61 236.11 L360.05 235.08 L360.50 234.41 L360.95 231.68 L361.40 230.69 L361.85 228.89 L362.30 224.39 L362.75 221.67 L363.20 218.80 L363.65 224.19 L364.10 227.74 L364.55 229.92 L365.00 231.13 L365.45 233.10 L365.90 235.37 L366.35 234.75 L366.80 234.85 L367.25 234.67 L367.69 235.70 L368.14 236.91 L368.59 235.54 L369.04 235.99 L369.49 235.58 L369.94 237.47 L370.39 235.85 L370.84 236.83 L371.29 237.54 L371.74 237.48 L372.19 237.89 L372.64 235.79 L373.09 237.75 L373.54 236.43 L373.99 237.39 L374.44 237.33 L374.88 236.98 L375.33 235.57 L375.78 237.47 L376.23 236.42 L376.68 236.32 L377.13 235.54 L377.58 234.67 L378.03 233.32 L378.48 232.89 L378.93 230.81 L379.38 228.57 L379.83 225.95 L380.28 225.33 L380.73 224.35 L381.18 224.87 L381.63 228.66 L382.08 230.88 L382.52 232.42 L382.97 233.79 L383.42 234.14 L383.87 234.81 L384.32 236.77 L384.77 236.21 L385.22 236.76 L385.67 237.06 L386.12 236.50 L386.57 236.68 L387.02 236.82 L387.47 237.78 L387.92 238.66 L388.37 237.42 L388.82 238.37 L389.27 238.28 L389.72 238.89 L390.16 239.01 L390.61 238.09 L391.06 236.77 L391.51 237.73 L391.96 238.71 L392.41 236.92 L392.86 238.94 L393.31 237.71 L393.76 239.33 L394.21 237.03 L394.66 237.18 L395.11 237.40 L395.56 238.63 L396.01 238.47 L396.46 238.38 L396.91 237.28 L397.36 238.20 L397.80 239.10 L398.25 237.39 L398.70 238.69 L399.15 237.90 L399.60 237.36 L400.05 237.82 L400.50 239.55 L400.95 237.74 L401.40 238.73 L401.85 237.31 L402.30 238.96 L402.75 239.50 L403.20 239.67 L403.65 237.37 L404.10 238.88 L404.55 239.99 L404.99 238.72 L405.44 237.53 L405.89 239.51 L406.34 237.63 L406.79 237.47 L407.24 239.56 L407.69 239.56 L408.14 239.74 L408.59 239.86" stroke="#4038f0" stroke-width="1.25"/>
<path d="M255.79 255.79 L256.24 257.59 L256.69 255.12 L257.14 256.75 L257.59 255.73 L258.04 254.10 L258.49 255.10 L258.94 254.18 L259.39 254.60 L259.84 251.89 L260.29 251.28 L260.74 252.95 L261.19 252.55 L261.64 251.07 L262.09 250.44 L262.54 249.27 L262.98 250.00 L263.43 248.92 L263.88 249.73 L264.33 249.28 L264.78 249.39 L265.23 247.92 L265.68 247.63 L266.13 247.20 L266.58 246.02 L267.03 247.39 L267.48 246.93 L267.93 246.21 L268.38 244.49 L268.83 245.80 L269.28 245.41 L269.73 244.59 L270.17 243.42 L270.62 244.08 L271.07 243.91 L271.52 241.94 L271.97 241.92 L272.42 241.47 L272.87 242.58 L273.32 241.53 L273.77 241.54 L274.22 240.46 L274.67 238.65 L275.12 238.11 L275.57 238.22 L276.02 239.27 L276.47 238.53 L276.92 237.55 L277.37 238.97 L277.81 238.72 L278.26 237.75 L278.71 238.64 L279.16 238.16 L279.61 238.32 L280.06 236.92 L280.51 237.60 L280.96 238.58 L281.41 238.63 L281.86 236.75 L282.31 237.98 L282.76 236.27 L283.21 237.26 L283.66 236.19 L284.11 236.50 L284.56 235.51 L285.00 236.81 L285.45 235.93 L285.90 235.12 L286.35 236.06 L286.80 233.92 L287.25 233.77 L287.70 233.68 L288.15 233.63 L288.60 233.46 L289.05 234.33 L289.50 233.48 L289.95 234.53 L290.40 235.33 L290.85 232.89 L291.30 232.81 L291.75 234.52 L292.20 234.12 L292.64 234.56 L293.09 233.33 L293.54 234.89 L293.99 233.23 L294.44 235.44 L294.89 234.55 L295.34 233.63 L295.79 234.54 L296.24 235.60 L296.69 236.00 L297.14 234.33 L297.59 236.07 L298.04 235.59 L298.49 234.78 L298.94 235.63 L299.39 236.78 L299.84 235.32 L300.28 236.19 L300.73 237.09 L301.18 238.89 L301.63 237.05 L302.08 234.58 L302.53 234.52 L302.98 234.06 L303.43 231.41 L303.88 232.94 L304.33 232.37 L304.78 233.25 L305.23 231.23 L305.68 231.59 L306.13 231.86 L306.58 231.82 L307.03 232.09 L307.48 231.61 L307.92 231.32 L308.37 232.51 L308.82 230.47 L309.27 230.22 L309.72 232.05 L310.17 231.60 L310.62 229.82 L311.07 230.56 L311.52 230.78 L311.97 228.81 L312.42 227.42 L312.87 228.25 L313.32 226.36 L313.77 224.80 L314.22 222.98 L314.67 221.95 L315.11 221.79 L315.56 223.53 L316.01 224.92 L316.46 226.51 L316.91 227.00 L317.36 227.46 L317.81 227.79 L318.26 228.13 L318.71 228.06 L319.16 230.08 L319.61 229.86 L320.06 228.61 L320.51 229.26 L320.96 229.80 L321.41 228.66 L321.86 229.84 L322.31 228.30 L322.75 229.43 L323.20 227.72 L323.65 229.24 L324.10 227.32 L324.55 228.82 L325.00 227.25 L325.45 228.53 L325.90 226.88 L326.35 226.58 L326.80 224.85 L327.25 225.55 L327.70 226.58 L328.15 228.42 L328.60 227.73 L329.05 228.78 L329.50 229.32 L329.95 227.79 L330.39 228.27 L330.84 227.07 L331.29 227.50 L331.74 229.66 L332.19 227.18 L332.64 228.25 L333.09 226.92 L333.54 228.69 L333.99 228.14 L334.44 227.38 L334.89 228.40 L335.34 227.77 L335.79 227.69 L336.24 227.34 L336.69 226.37 L337.14 225.94 L337.58 224.23 L338.03 225.16 L338.48 224.26 L338.93 223.20 L339.38 223.24 L339.83 222.06 L340.28 222.24 L340.73 223.61 L341.18 223.32 L341.63 225.34 L342.08 224.16 L342.53 224.36 L342.98 225.74 L343.43 227.22 L343.88 227.64 L344.33 228.10 L344.78 227.94 L345.22 226.26 L345.67 226.59 L346.12 226.41 L346.57 227.82 L347.02 227.35 L347.47 226.96 L347.92 227.13 L348.37 227.19 L348.82 228.88 L349.27 226.27 L349.72 227.41 L350.17 228.22 L350.62 228.12 L351.07 226.96 L351.52 226.54 L351.97 228.97 L352.42 228.50 L352.86 228.97 L353.31 227.36 L353.76 227.48 L354.21 227.44 L354.66 228.61 L355.11 227.98 L355.56 226.71 L356.01 228.20 L356.46 228.50 L356.91 228.43 L357.36 226.77 L357.81 228.22 L358.26 226.82 L358.71 226.93 L359.16 226.15 L359.61 227.91 L360.05 226.84 L360.50 224.43 L360.95 224.74 L361.40 224.40 L361.85 222.02 L362.30 218.32 L362.75 212.76 L363.20 211.43 L363.65 214.34 L364.10 218.21 L364.55 220.30 L365.00 222.87 L365.45 225.03 L365.90 226.60 L366.35 227.73 L366.80 228.16 L367.25 226.41 L367.69 227.40 L368.14 229.23 L368.59 227.29 L369.04 226.96 L369.49 228.55 L369.94 227.28 L370.39 228.87 L370.84 228.87 L371.29 228.73 L371.74 228.47 L372.19 228.85 L372.64 229.23 L373.09 229.64 L373.54 229.03 L373.99 228.26 L374.44 227.40 L374.88 227.77 L375.33 228.19 L375.78 228.35 L376.23 228.85 L376.68 227.16 L377.13 226.56 L377.58 227.31 L378.03 225.58 L378.48 224.39 L378.93 224.32 L379.38 223.20 L379.83 218.09 L380.28 215.89 L380.73 215.60 L381.18 215.68 L381.63 218.75 L382.08 221.67 L382.52 223.72 L382.97 225.45 L383.42 227.82 L383.87 226.20 L384.32 227.34 L384.77 227.16 L385.22 228.39 L385.67 228.17 L386.12 228.91 L386.57 228.32 L387.02 230.23 L387.47 229.70 L387.92 228.58 L388.37 229.80 L388.82 229.41 L389.27 229.95 L389.72 228.87 L390.16 230.70 L390.61 230.28 L391.06 230.95 L391.51 230.98 L391.96 230.14 L392.41 228.70 L392.86 230.85 L393.31 229.66 L393.76 229.35 L394.21 229.49 L394.66 231.34 L395.11 231.41 L395.56 229.54 L396.01 230.94 L396.46 229.46 L396.91 229.84 L397.36 229.00 L397.80 230.60 L398.25 229.52 L398.70 231.30 L399.15 231.03 L399.60 230.75 L400.05 230.80 L400.50 230.35 L400.95 231.09 L401.40 231.54 L401.85 230.61 L402.30 230.58 L402.75 229.72 L403.20 230.41 L403.65 230.73 L404.10 231.40 L404.55 230.04 L404.99 229.64 L405.44 231.89 L405.89 231.31 L406.34 230.06 L406.79 231.44 L407.24 231.93 L407.69 231.50 L408.14 229.48 L408.59 231.76" stroke="#8a20e0" stroke-width="1.25"/>
</g>
<line x1="251.50" y1="200.50" x2="408.50" y2="200.50" stroke="#555" stroke-width="1.00" />
<line x1="408.50" y1="200.50" x2="408.50" y2="357.50" stroke="#555" stroke-width="1.00" />
<line x1="251.50" y1="200.00" x2="251.50" y2="358.00" stroke="#555" stroke-width="1.00" />
<line x1="251.00" y1="357.50" x2="409.00" y2="357.50" stroke="#555" stroke-width="1.00" />
<line x1="251.30" y1="357.50" x2="253.50" y2="357.50" stroke="#555" stroke-width="0.80" />
<text x="249.10" y="360.40" font-size="8.50" text-anchor="end" fill="#1a1a1a" stroke="#1a1a1a" stroke-width="0.12" >0</text>
<line x1="251.30" y1="330.30" x2="253.50" y2="330.30" stroke="#555" stroke-width="0.80" />
<text x="249.10" y="333.20" font-size="8.50" text-anchor="end" fill="#1a1a1a" stroke="#1a1a1a" stroke-width="0.12" >1</text>
<line x1="251.30" y1="303.10" x2="253.50" y2="303.10" stroke="#555" stroke-width="0.80" />
<text x="249.10" y="306.00" font-size="8.50" text-anchor="end" fill="#1a1a1a" stroke="#1a1a1a" stroke-width="0.12" >2</text>
<line x1="251.30" y1="275.90" x2="253.50" y2="275.90" stroke="#555" stroke-width="0.80" />
<text x="249.10" y="278.80" font-size="8.50" text-anchor="end" fill="#1a1a1a" stroke="#1a1a1a" stroke-width="0.12" >3</text>
<line x1="251.30" y1="248.70" x2="253.50" y2="248.70" stroke="#555" stroke-width="0.80" />
<text x="249.10" y="251.60" font-size="8.50" text-anchor="end" fill="#1a1a1a" stroke="#1a1a1a" stroke-width="0.12" >4</text>
<line x1="251.30" y1="221.50" x2="253.50" y2="221.50" stroke="#555" stroke-width="0.80" />
<text x="249.10" y="224.40" font-size="8.50" text-anchor="end" fill="#1a1a1a" stroke="#1a1a1a" stroke-width="0.12" >5</text>
<line x1="251.30" y1="343.90" x2="252.70" y2="343.90" stroke="#555" stroke-width="0.70" />
<line x1="251.30" y1="316.70" x2="252.70" y2="316.70" stroke="#555" stroke-width="0.70" />
<line x1="251.30" y1="289.50" x2="252.70" y2="289.50" stroke="#555" stroke-width="0.70" />
<line x1="251.30" y1="262.30" x2="252.70" y2="262.30" stroke="#555" stroke-width="0.70" />
<line x1="251.30" y1="235.10" x2="252.70" y2="235.10" stroke="#555" stroke-width="0.70" />
<line x1="251.30" y1="207.90" x2="252.70" y2="207.90" stroke="#555" stroke-width="0.70" />
<line x1="251.30" y1="357.50" x2="251.30" y2="355.30" stroke="#555" stroke-width="0.70" />
<line x1="255.79" y1="357.50" x2="255.79" y2="356.30" stroke="#555" stroke-width="0.70" />
<line x1="260.29" y1="357.50" x2="260.29" y2="356.30" stroke="#555" stroke-width="0.70" />
<line x1="264.78" y1="357.50" x2="264.78" y2="356.30" stroke="#555" stroke-width="0.70" />
<line x1="269.28" y1="357.50" x2="269.28" y2="356.30" stroke="#555" stroke-width="0.70" />
<line x1="273.77" y1="357.50" x2="273.77" y2="355.30" stroke="#555" stroke-width="0.70" />
<line x1="278.26" y1="357.50" x2="278.26" y2="356.30" stroke="#555" stroke-width="0.70" />
<line x1="282.76" y1="357.50" x2="282.76" y2="356.30" stroke="#555" stroke-width="0.70" />
<line x1="287.25" y1="357.50" x2="287.25" y2="356.30" stroke="#555" stroke-width="0.70" />
<line x1="291.75" y1="357.50" x2="291.75" y2="356.30" stroke="#555" stroke-width="0.70" />
<line x1="296.24" y1="357.50" x2="296.24" y2="355.30" stroke="#555" stroke-width="0.70" />
<line x1="300.73" y1="357.50" x2="300.73" y2="356.30" stroke="#555" stroke-width="0.70" />
<line x1="305.23" y1="357.50" x2="305.23" y2="356.30" stroke="#555" stroke-width="0.70" />
<line x1="309.72" y1="357.50" x2="309.72" y2="356.30" stroke="#555" stroke-width="0.70" />
<line x1="314.22" y1="357.50" x2="314.22" y2="356.30" stroke="#555" stroke-width="0.70" />
<line x1="318.71" y1="357.50" x2="318.71" y2="355.30" stroke="#555" stroke-width="0.70" />
<line x1="323.20" y1="357.50" x2="323.20" y2="356.30" stroke="#555" stroke-width="0.70" />
<line x1="327.70" y1="357.50" x2="327.70" y2="356.30" stroke="#555" stroke-width="0.70" />
<line x1="332.19" y1="357.50" x2="332.19" y2="356.30" stroke="#555" stroke-width="0.70" />
<line x1="336.69" y1="357.50" x2="336.69" y2="356.30" stroke="#555" stroke-width="0.70" />
<line x1="341.18" y1="357.50" x2="341.18" y2="355.30" stroke="#555" stroke-width="0.70" />
<line x1="345.67" y1="357.50" x2="345.67" y2="356.30" stroke="#555" stroke-width="0.70" />
<line x1="350.17" y1="357.50" x2="350.17" y2="356.30" stroke="#555" stroke-width="0.70" />
<line x1="354.66" y1="357.50" x2="354.66" y2="356.30" stroke="#555" stroke-width="0.70" />
<line x1="359.16" y1="357.50" x2="359.16" y2="356.30" stroke="#555" stroke-width="0.70" />
<line x1="363.65" y1="357.50" x2="363.65" y2="355.30" stroke="#555" stroke-width="0.70" />
<line x1="368.14" y1="357.50" x2="368.14" y2="356.30" stroke="#555" stroke-width="0.70" />
<line x1="372.64" y1="357.50" x2="372.64" y2="356.30" stroke="#555" stroke-width="0.70" />
<line x1="377.13" y1="357.50" x2="377.13" y2="356.30" stroke="#555" stroke-width="0.70" />
<line x1="381.63" y1="357.50" x2="381.63" y2="356.30" stroke="#555" stroke-width="0.70" />
<line x1="386.12" y1="357.50" x2="386.12" y2="355.30" stroke="#555" stroke-width="0.70" />
<line x1="390.61" y1="357.50" x2="390.61" y2="356.30" stroke="#555" stroke-width="0.70" />
<line x1="395.11" y1="357.50" x2="395.11" y2="356.30" stroke="#555" stroke-width="0.70" />
<line x1="399.60" y1="357.50" x2="399.60" y2="356.30" stroke="#555" stroke-width="0.70" />
<line x1="404.10" y1="357.50" x2="404.10" y2="356.30" stroke="#555" stroke-width="0.70" />
<line x1="408.59" y1="357.50" x2="408.59" y2="355.30" stroke="#555" stroke-width="0.70" />
<text x="251.30" y="366.00" font-size="8.50" text-anchor="middle" fill="#1a1a1a" stroke="#1a1a1a" stroke-width="0.12" >0</text>
<text x="296.24" y="366.00" font-size="8.50" text-anchor="middle" fill="#1a1a1a" stroke="#1a1a1a" stroke-width="0.12" >100</text>
<text x="341.18" y="366.00" font-size="8.50" text-anchor="middle" fill="#1a1a1a" stroke="#1a1a1a" stroke-width="0.12" >200</text>
<text x="386.12" y="366.00" font-size="8.50" text-anchor="middle" fill="#1a1a1a" stroke="#1a1a1a" stroke-width="0.12" >300</text>
<text x="329.00" y="378.40" font-size="8.60" text-anchor="middle" fill="#222" stroke="#222" stroke-width="0.12" >Raman shift (cm<tspan dy="-3.5" font-size="5.5">-1</tspan><tspan dy="3.5">)</tspan></text>
<text x="0" y="0" font-size="8.6" text-anchor="middle" fill="#222" transform="translate(240.2,278.5) rotate(-90)" textLength="47" lengthAdjust="spacingAndGlyphs" stroke="#222" stroke-width="0.12">&#967;" (arb.units)</text>
<text x="293.2" y="211.3" font-size="8.3" text-anchor="middle" fill="#111" font-style="italic" stroke="#111" stroke-width="0.12">X'Y'</text>
<text x="293.5" y="221.6" font-size="8.3" text-anchor="middle" fill="#111" font-style="italic" stroke="#111" stroke-width="0.12">E+T<tspan font-size="5.5" dy="1.5" font-style="normal">1</tspan></text>
<line x1="284.11" y1="296.00" x2="284.11" y2="342.00" stroke="#999" stroke-width="0.80" stroke-dasharray="1.5 1.2"/>
<text x="282.6" y="351.2" font-size="8.6" fill="#111" font-style="italic" stroke="#111" stroke-width="0.12">E<tspan font-size="5.5" dy="-3" font-style="normal">1</tspan></text>
<text x="407.60" y="327.10" font-size="7.90" text-anchor="end" fill="#222" stroke="#222" stroke-width="0.12" >312 K</text>
<text x="407.60" y="317.70" font-size="7.90" text-anchor="end" fill="#222" stroke="#222" stroke-width="0.12" >261 K</text>
<text x="407.60" y="311.00" font-size="7.90" text-anchor="end" fill="#222" stroke="#222" stroke-width="0.12" >216 K</text>
<text x="407.60" y="303.60" font-size="7.90" text-anchor="end" fill="#222" stroke="#222" stroke-width="0.12" >196 K</text>
<text x="407.60" y="295.00" font-size="7.90" text-anchor="end" fill="#222" stroke="#222" stroke-width="0.12" >176 K</text>
<text x="407.60" y="285.50" font-size="7.90" text-anchor="end" fill="#222" stroke="#222" stroke-width="0.12" >156 K</text>
<text x="407.60" y="276.80" font-size="7.90" text-anchor="end" fill="#222" stroke="#222" stroke-width="0.12" >136 K</text>
<text x="407.60" y="269.00" font-size="7.90" text-anchor="end" fill="#222" stroke="#222" stroke-width="0.12" >116 K</text>
<text x="407.60" y="261.60" font-size="7.90" text-anchor="end" fill="#222" stroke="#222" stroke-width="0.12" >96 K</text>
<text x="407.60" y="250.60" font-size="7.90" text-anchor="end" fill="#222" stroke="#222" stroke-width="0.12" >76 K</text>
<text x="407.60" y="242.00" font-size="7.90" text-anchor="end" fill="#222" stroke="#222" stroke-width="0.12" >56 K</text>
<text x="407.60" y="234.90" font-size="7.90" text-anchor="end" fill="#222" stroke="#222" stroke-width="0.12" >32 K</text>
<text x="407.60" y="226.30" font-size="7.90" text-anchor="end" fill="#222" stroke="#222" stroke-width="0.12" >26 K</text>
<rect x="451.50" y="10.60" width="112.70" height="115.00" fill="#e4f6fb" />
<rect x="564.20" y="10.60" width="119.90" height="115.00" fill="#fcfae6" />
<rect x="451.50" y="125.60" width="112.70" height="115.80" fill="#e4f6fb" />
<rect x="564.20" y="125.60" width="119.90" height="115.80" fill="#fcfae6" />
<rect x="451.50" y="241.40" width="112.70" height="114.60" fill="#e4f6fb" />
<rect x="564.20" y="241.40" width="119.90" height="114.60" fill="#fcfae6" />
<line x1="451.00" y1="10.50" x2="685.00" y2="10.50" stroke="#333" stroke-width="1.00" />
<line x1="451.00" y1="125.50" x2="685.00" y2="125.50" stroke="#333" stroke-width="1.00" />
<line x1="451.00" y1="241.50" x2="685.00" y2="241.50" stroke="#333" stroke-width="1.00" />
<line x1="451.00" y1="356.50" x2="685.00" y2="356.50" stroke="#333" stroke-width="1.00" />
<line x1="451.50" y1="10.50" x2="451.50" y2="356.50" stroke="#333" stroke-width="1.00" />
<line x1="684.50" y1="10.50" x2="684.50" y2="356.50" stroke="#333" stroke-width="1.00" />
<line x1="563.50" y1="10.60" x2="563.50" y2="356.00" stroke="#222" stroke-width="1.00" stroke-dasharray="1.5 1.3"/>
<line x1="451.50" y1="116.78" x2="454.00" y2="116.78" stroke="#3a4a4a" stroke-width="0.80" />
<text x="449.70" y="119.68" font-size="8.50" text-anchor="end" fill="#1a1a1a" stroke="#1a1a1a" stroke-width="0.12" >40</text>
<line x1="451.50" y1="81.42" x2="454.00" y2="81.42" stroke="#3a4a4a" stroke-width="0.80" />
<text x="449.70" y="84.32" font-size="8.50" text-anchor="end" fill="#1a1a1a" stroke="#1a1a1a" stroke-width="0.12" >60</text>
<line x1="451.50" y1="46.06" x2="454.00" y2="46.06" stroke="#3a4a4a" stroke-width="0.80" />
<text x="449.70" y="48.96" font-size="8.50" text-anchor="end" fill="#1a1a1a" stroke="#1a1a1a" stroke-width="0.12" >80</text>
<line x1="451.50" y1="10.70" x2="454.00" y2="10.70" stroke="#3a4a4a" stroke-width="0.80" />
<text x="449.70" y="13.60" font-size="8.50" text-anchor="end" fill="#1a1a1a" stroke="#1a1a1a" stroke-width="0.12" >100</text>
<line x1="451.50" y1="107.94" x2="453.00" y2="107.94" stroke="#3a4a4a" stroke-width="0.70" />
<line x1="451.50" y1="99.10" x2="453.00" y2="99.10" stroke="#3a4a4a" stroke-width="0.70" />
<line x1="451.50" y1="90.26" x2="453.00" y2="90.26" stroke="#3a4a4a" stroke-width="0.70" />
<line x1="451.50" y1="72.58" x2="453.00" y2="72.58" stroke="#3a4a4a" stroke-width="0.70" />
<line x1="451.50" y1="63.74" x2="453.00" y2="63.74" stroke="#3a4a4a" stroke-width="0.70" />
<line x1="451.50" y1="54.90" x2="453.00" y2="54.90" stroke="#3a4a4a" stroke-width="0.70" />
<line x1="451.50" y1="37.22" x2="453.00" y2="37.22" stroke="#3a4a4a" stroke-width="0.70" />
<line x1="451.50" y1="28.38" x2="453.00" y2="28.38" stroke="#3a4a4a" stroke-width="0.70" />
<line x1="451.50" y1="19.54" x2="453.00" y2="19.54" stroke="#3a4a4a" stroke-width="0.70" />
<line x1="451.50" y1="241.40" x2="454.00" y2="241.40" stroke="#3a4a4a" stroke-width="0.80" />
<text x="449.70" y="244.30" font-size="8.50" text-anchor="end" fill="#1a1a1a" stroke="#1a1a1a" stroke-width="0.12" >0</text>
<line x1="451.50" y1="190.00" x2="454.00" y2="190.00" stroke="#3a4a4a" stroke-width="0.80" />
<text x="449.70" y="192.90" font-size="8.50" text-anchor="end" fill="#1a1a1a" stroke="#1a1a1a" stroke-width="0.12" >20</text>
<line x1="451.50" y1="138.60" x2="454.00" y2="138.60" stroke="#3a4a4a" stroke-width="0.80" />
<text x="449.70" y="141.50" font-size="8.50" text-anchor="end" fill="#1a1a1a" stroke="#1a1a1a" stroke-width="0.12" >40</text>
<line x1="451.50" y1="228.55" x2="453.00" y2="228.55" stroke="#3a4a4a" stroke-width="0.70" />
<line x1="451.50" y1="215.70" x2="453.00" y2="215.70" stroke="#3a4a4a" stroke-width="0.70" />
<line x1="451.50" y1="202.85" x2="453.00" y2="202.85" stroke="#3a4a4a" stroke-width="0.70" />
<line x1="451.50" y1="177.15" x2="453.00" y2="177.15" stroke="#3a4a4a" stroke-width="0.70" />
<line x1="451.50" y1="164.30" x2="453.00" y2="164.30" stroke="#3a4a4a" stroke-width="0.70" />
<line x1="451.50" y1="151.45" x2="453.00" y2="151.45" stroke="#3a4a4a" stroke-width="0.70" />
<line x1="451.50" y1="356.00" x2="454.00" y2="356.00" stroke="#3a4a4a" stroke-width="0.80" />
<text x="449.70" y="358.90" font-size="8.50" text-anchor="end" fill="#1a1a1a" stroke="#1a1a1a" stroke-width="0.12" >0</text>
<line x1="451.50" y1="309.96" x2="454.00" y2="309.96" stroke="#3a4a4a" stroke-width="0.80" />
<text x="449.70" y="312.86" font-size="8.50" text-anchor="end" fill="#1a1a1a" stroke="#1a1a1a" stroke-width="0.12" >40</text>
<line x1="451.50" y1="263.92" x2="454.00" y2="263.92" stroke="#3a4a4a" stroke-width="0.80" />
<text x="449.70" y="266.82" font-size="8.50" text-anchor="end" fill="#1a1a1a" stroke="#1a1a1a" stroke-width="0.12" >80</text>
<line x1="451.50" y1="344.49" x2="453.00" y2="344.49" stroke="#3a4a4a" stroke-width="0.70" />
<line x1="451.50" y1="332.98" x2="453.00" y2="332.98" stroke="#3a4a4a" stroke-width="0.70" />
<line x1="451.50" y1="321.47" x2="453.00" y2="321.47" stroke="#3a4a4a" stroke-width="0.70" />
<line x1="451.50" y1="298.45" x2="453.00" y2="298.45" stroke="#3a4a4a" stroke-width="0.70" />
<line x1="451.50" y1="286.94" x2="453.00" y2="286.94" stroke="#3a4a4a" stroke-width="0.70" />
<line x1="451.50" y1="275.43" x2="453.00" y2="275.43" stroke="#3a4a4a" stroke-width="0.70" />
<line x1="451.50" y1="252.41" x2="453.00" y2="252.41" stroke="#3a4a4a" stroke-width="0.70" />
<line x1="451.50" y1="125.60" x2="451.50" y2="123.20" stroke="#3a4a4a" stroke-width="0.70" />
<line x1="451.50" y1="241.40" x2="451.50" y2="239.00" stroke="#3a4a4a" stroke-width="0.70" />
<line x1="451.50" y1="356.00" x2="451.50" y2="353.60" stroke="#3a4a4a" stroke-width="0.70" />
<line x1="458.77" y1="125.60" x2="458.77" y2="124.20" stroke="#3a4a4a" stroke-width="0.70" />
<line x1="458.77" y1="241.40" x2="458.77" y2="240.00" stroke="#3a4a4a" stroke-width="0.70" />
<line x1="458.77" y1="356.00" x2="458.77" y2="354.60" stroke="#3a4a4a" stroke-width="0.70" />
<line x1="466.04" y1="125.60" x2="466.04" y2="124.20" stroke="#3a4a4a" stroke-width="0.70" />
<line x1="466.04" y1="241.40" x2="466.04" y2="240.00" stroke="#3a4a4a" stroke-width="0.70" />
<line x1="466.04" y1="356.00" x2="466.04" y2="354.60" stroke="#3a4a4a" stroke-width="0.70" />
<line x1="473.31" y1="125.60" x2="473.31" y2="124.20" stroke="#3a4a4a" stroke-width="0.70" />
<line x1="473.31" y1="241.40" x2="473.31" y2="240.00" stroke="#3a4a4a" stroke-width="0.70" />
<line x1="473.31" y1="356.00" x2="473.31" y2="354.60" stroke="#3a4a4a" stroke-width="0.70" />
<line x1="480.58" y1="125.60" x2="480.58" y2="124.20" stroke="#3a4a4a" stroke-width="0.70" />
<line x1="480.58" y1="241.40" x2="480.58" y2="240.00" stroke="#3a4a4a" stroke-width="0.70" />
<line x1="480.58" y1="356.00" x2="480.58" y2="354.60" stroke="#3a4a4a" stroke-width="0.70" />
<line x1="487.85" y1="125.60" x2="487.85" y2="123.20" stroke="#3a4a4a" stroke-width="0.70" />
<line x1="487.85" y1="241.40" x2="487.85" y2="239.00" stroke="#3a4a4a" stroke-width="0.70" />
<line x1="487.85" y1="356.00" x2="487.85" y2="353.60" stroke="#3a4a4a" stroke-width="0.70" />
<line x1="495.12" y1="125.60" x2="495.12" y2="124.20" stroke="#3a4a4a" stroke-width="0.70" />
<line x1="495.12" y1="241.40" x2="495.12" y2="240.00" stroke="#3a4a4a" stroke-width="0.70" />
<line x1="495.12" y1="356.00" x2="495.12" y2="354.60" stroke="#3a4a4a" stroke-width="0.70" />
<line x1="502.39" y1="125.60" x2="502.39" y2="124.20" stroke="#3a4a4a" stroke-width="0.70" />
<line x1="502.39" y1="241.40" x2="502.39" y2="240.00" stroke="#3a4a4a" stroke-width="0.70" />
<line x1="502.39" y1="356.00" x2="502.39" y2="354.60" stroke="#3a4a4a" stroke-width="0.70" />
<line x1="509.66" y1="125.60" x2="509.66" y2="124.20" stroke="#3a4a4a" stroke-width="0.70" />
<line x1="509.66" y1="241.40" x2="509.66" y2="240.00" stroke="#3a4a4a" stroke-width="0.70" />
<line x1="509.66" y1="356.00" x2="509.66" y2="354.60" stroke="#3a4a4a" stroke-width="0.70" />
<line x1="516.93" y1="125.60" x2="516.93" y2="124.20" stroke="#3a4a4a" stroke-width="0.70" />
<line x1="516.93" y1="241.40" x2="516.93" y2="240.00" stroke="#3a4a4a" stroke-width="0.70" />
<line x1="516.93" y1="356.00" x2="516.93" y2="354.60" stroke="#3a4a4a" stroke-width="0.70" />
<line x1="524.20" y1="125.60" x2="524.20" y2="123.20" stroke="#3a4a4a" stroke-width="0.70" />
<line x1="524.20" y1="241.40" x2="524.20" y2="239.00" stroke="#3a4a4a" stroke-width="0.70" />
<line x1="524.20" y1="356.00" x2="524.20" y2="353.60" stroke="#3a4a4a" stroke-width="0.70" />
<line x1="531.47" y1="125.60" x2="531.47" y2="124.20" stroke="#3a4a4a" stroke-width="0.70" />
<line x1="531.47" y1="241.40" x2="531.47" y2="240.00" stroke="#3a4a4a" stroke-width="0.70" />
<line x1="531.47" y1="356.00" x2="531.47" y2="354.60" stroke="#3a4a4a" stroke-width="0.70" />
<line x1="538.74" y1="125.60" x2="538.74" y2="124.20" stroke="#3a4a4a" stroke-width="0.70" />
<line x1="538.74" y1="241.40" x2="538.74" y2="240.00" stroke="#3a4a4a" stroke-width="0.70" />
<line x1="538.74" y1="356.00" x2="538.74" y2="354.60" stroke="#3a4a4a" stroke-width="0.70" />
<line x1="546.01" y1="125.60" x2="546.01" y2="124.20" stroke="#3a4a4a" stroke-width="0.70" />
<line x1="546.01" y1="241.40" x2="546.01" y2="240.00" stroke="#3a4a4a" stroke-width="0.70" />
<line x1="546.01" y1="356.00" x2="546.01" y2="354.60" stroke="#3a4a4a" stroke-width="0.70" />
<line x1="553.28" y1="125.60" x2="553.28" y2="124.20" stroke="#3a4a4a" stroke-width="0.70" />
<line x1="553.28" y1="241.40" x2="553.28" y2="240.00" stroke="#3a4a4a" stroke-width="0.70" />
<line x1="553.28" y1="356.00" x2="553.28" y2="354.60" stroke="#3a4a4a" stroke-width="0.70" />
<line x1="560.55" y1="125.60" x2="560.55" y2="123.20" stroke="#3a4a4a" stroke-width="0.70" />
<line x1="560.55" y1="241.40" x2="560.55" y2="239.00" stroke="#3a4a4a" stroke-width="0.70" />
<line x1="560.55" y1="356.00" x2="560.55" y2="353.60" stroke="#3a4a4a" stroke-width="0.70" />
<line x1="567.82" y1="125.60" x2="567.82" y2="124.20" stroke="#3a4a4a" stroke-width="0.70" />
<line x1="567.82" y1="241.40" x2="567.82" y2="240.00" stroke="#3a4a4a" stroke-width="0.70" />
<line x1="567.82" y1="356.00" x2="567.82" y2="354.60" stroke="#3a4a4a" stroke-width="0.70" />
<line x1="575.09" y1="125.60" x2="575.09" y2="124.20" stroke="#3a4a4a" stroke-width="0.70" />
<line x1="575.09" y1="241.40" x2="575.09" y2="240.00" stroke="#3a4a4a" stroke-width="0.70" />
<line x1="575.09" y1="356.00" x2="575.09" y2="354.60" stroke="#3a4a4a" stroke-width="0.70" />
<line x1="582.36" y1="125.60" x2="582.36" y2="124.20" stroke="#3a4a4a" stroke-width="0.70" />
<line x1="582.36" y1="241.40" x2="582.36" y2="240.00" stroke="#3a4a4a" stroke-width="0.70" />
<line x1="582.36" y1="356.00" x2="582.36" y2="354.60" stroke="#3a4a4a" stroke-width="0.70" />
<line x1="589.63" y1="125.60" x2="589.63" y2="124.20" stroke="#3a4a4a" stroke-width="0.70" />
<line x1="589.63" y1="241.40" x2="589.63" y2="240.00" stroke="#3a4a4a" stroke-width="0.70" />
<line x1="589.63" y1="356.00" x2="589.63" y2="354.60" stroke="#3a4a4a" stroke-width="0.70" />
<line x1="596.90" y1="125.60" x2="596.90" y2="123.20" stroke="#3a4a4a" stroke-width="0.70" />
<line x1="596.90" y1="241.40" x2="596.90" y2="239.00" stroke="#3a4a4a" stroke-width="0.70" />
<line x1="596.90" y1="356.00" x2="596.90" y2="353.60" stroke="#3a4a4a" stroke-width="0.70" />
<line x1="604.17" y1="125.60" x2="604.17" y2="124.20" stroke="#3a4a4a" stroke-width="0.70" />
<line x1="604.17" y1="241.40" x2="604.17" y2="240.00" stroke="#3a4a4a" stroke-width="0.70" />
<line x1="604.17" y1="356.00" x2="604.17" y2="354.60" stroke="#3a4a4a" stroke-width="0.70" />
<line x1="611.44" y1="125.60" x2="611.44" y2="124.20" stroke="#3a4a4a" stroke-width="0.70" />
<line x1="611.44" y1="241.40" x2="611.44" y2="240.00" stroke="#3a4a4a" stroke-width="0.70" />
<line x1="611.44" y1="356.00" x2="611.44" y2="354.60" stroke="#3a4a4a" stroke-width="0.70" />
<line x1="618.71" y1="125.60" x2="618.71" y2="124.20" stroke="#3a4a4a" stroke-width="0.70" />
<line x1="618.71" y1="241.40" x2="618.71" y2="240.00" stroke="#3a4a4a" stroke-width="0.70" />
<line x1="618.71" y1="356.00" x2="618.71" y2="354.60" stroke="#3a4a4a" stroke-width="0.70" />
<line x1="625.98" y1="125.60" x2="625.98" y2="124.20" stroke="#3a4a4a" stroke-width="0.70" />
<line x1="625.98" y1="241.40" x2="625.98" y2="240.00" stroke="#3a4a4a" stroke-width="0.70" />
<line x1="625.98" y1="356.00" x2="625.98" y2="354.60" stroke="#3a4a4a" stroke-width="0.70" />
<line x1="633.25" y1="125.60" x2="633.25" y2="123.20" stroke="#3a4a4a" stroke-width="0.70" />
<line x1="633.25" y1="241.40" x2="633.25" y2="239.00" stroke="#3a4a4a" stroke-width="0.70" />
<line x1="633.25" y1="356.00" x2="633.25" y2="353.60" stroke="#3a4a4a" stroke-width="0.70" />
<line x1="640.52" y1="125.60" x2="640.52" y2="124.20" stroke="#3a4a4a" stroke-width="0.70" />
<line x1="640.52" y1="241.40" x2="640.52" y2="240.00" stroke="#3a4a4a" stroke-width="0.70" />
<line x1="640.52" y1="356.00" x2="640.52" y2="354.60" stroke="#3a4a4a" stroke-width="0.70" />
<line x1="647.79" y1="125.60" x2="647.79" y2="124.20" stroke="#3a4a4a" stroke-width="0.70" />
<line x1="647.79" y1="241.40" x2="647.79" y2="240.00" stroke="#3a4a4a" stroke-width="0.70" />
<line x1="647.79" y1="356.00" x2="647.79" y2="354.60" stroke="#3a4a4a" stroke-width="0.70" />
<line x1="655.06" y1="125.60" x2="655.06" y2="124.20" stroke="#3a4a4a" stroke-width="0.70" />
<line x1="655.06" y1="241.40" x2="655.06" y2="240.00" stroke="#3a4a4a" stroke-width="0.70" />
<line x1="655.06" y1="356.00" x2="655.06" y2="354.60" stroke="#3a4a4a" stroke-width="0.70" />
<line x1="662.33" y1="125.60" x2="662.33" y2="124.20" stroke="#3a4a4a" stroke-width="0.70" />
<line x1="662.33" y1="241.40" x2="662.33" y2="240.00" stroke="#3a4a4a" stroke-width="0.70" />
<line x1="662.33" y1="356.00" x2="662.33" y2="354.60" stroke="#3a4a4a" stroke-width="0.70" />
<line x1="669.60" y1="125.60" x2="669.60" y2="123.20" stroke="#3a4a4a" stroke-width="0.70" />
<line x1="669.60" y1="241.40" x2="669.60" y2="239.00" stroke="#3a4a4a" stroke-width="0.70" />
<line x1="669.60" y1="356.00" x2="669.60" y2="353.60" stroke="#3a4a4a" stroke-width="0.70" />
<line x1="676.87" y1="125.60" x2="676.87" y2="124.20" stroke="#3a4a4a" stroke-width="0.70" />
<line x1="676.87" y1="241.40" x2="676.87" y2="240.00" stroke="#3a4a4a" stroke-width="0.70" />
<line x1="676.87" y1="356.00" x2="676.87" y2="354.60" stroke="#3a4a4a" stroke-width="0.70" />
<line x1="684.14" y1="125.60" x2="684.14" y2="124.20" stroke="#3a4a4a" stroke-width="0.70" />
<line x1="684.14" y1="241.40" x2="684.14" y2="240.00" stroke="#3a4a4a" stroke-width="0.70" />
<line x1="684.14" y1="356.00" x2="684.14" y2="354.60" stroke="#3a4a4a" stroke-width="0.70" />
<text x="451.50" y="366.90" font-size="8.50" text-anchor="middle" fill="#1a1a1a" stroke="#1a1a1a" stroke-width="0.12" >0</text>
<text x="487.85" y="366.90" font-size="8.50" text-anchor="middle" fill="#1a1a1a" stroke="#1a1a1a" stroke-width="0.12" >50</text>
<text x="524.20" y="366.90" font-size="8.50" text-anchor="middle" fill="#1a1a1a" stroke="#1a1a1a" stroke-width="0.12" >100</text>
<text x="560.55" y="366.90" font-size="8.50" text-anchor="middle" fill="#1a1a1a" stroke="#1a1a1a" stroke-width="0.12" >150</text>
<text x="596.90" y="366.90" font-size="8.50" text-anchor="middle" fill="#1a1a1a" stroke="#1a1a1a" stroke-width="0.12" >200</text>
<text x="633.25" y="366.90" font-size="8.50" text-anchor="middle" fill="#1a1a1a" stroke="#1a1a1a" stroke-width="0.12" >250</text>
<text x="669.60" y="366.90" font-size="8.50" text-anchor="middle" fill="#1a1a1a" stroke="#1a1a1a" stroke-width="0.12" >300</text>
<text x="567.00" y="379.00" font-size="8.90" text-anchor="middle" fill="#222" stroke="#222" stroke-width="0.12" >Temperature (K)</text>
<text x="0" y="0" font-size="8.5" text-anchor="middle" fill="#222" transform="translate(432.5,67.8) rotate(-90)" stroke="#222" stroke-width="0.12">Raman shift (cm<tspan dy="-4" font-size="6">-1</tspan><tspan dy="4">)</tspan></text>
<text x="0" y="0" font-size="8.8" text-anchor="middle" fill="#222" transform="translate(434.6,180.6) rotate(-90)" stroke="#222" stroke-width="0.12">HWHM (cm<tspan dy="-4" font-size="6">-1</tspan><tspan dy="4">)</tspan></text>
<text x="0" y="0" font-size="9.0" text-anchor="middle" fill="#222" transform="translate(435.0,298.5) rotate(-90)" textLength="78" lengthAdjust="spacingAndGlyphs" stroke="#222" stroke-width="0.12">Int. Area (arb.units)</text>
<line x1="470.40" y1="27.50" x2="470.40" y2="31.03" stroke="#40e840" stroke-width="1.00" />
<line x1="468.10" y1="27.50" x2="472.70" y2="27.50" stroke="#40e840" stroke-width="1.00" />
<line x1="468.10" y1="31.03" x2="472.70" y2="31.03" stroke="#40e840" stroke-width="1.00" />
<line x1="481.31" y1="26.79" x2="481.31" y2="30.32" stroke="#40e840" stroke-width="1.00" />
<line x1="479.01" y1="26.79" x2="483.61" y2="26.79" stroke="#40e840" stroke-width="1.00" />
<line x1="479.01" y1="30.32" x2="483.61" y2="30.32" stroke="#40e840" stroke-width="1.00" />
<line x1="499.48" y1="28.20" x2="499.48" y2="31.74" stroke="#40e840" stroke-width="1.00" />
<line x1="497.18" y1="28.20" x2="501.78" y2="28.20" stroke="#40e840" stroke-width="1.00" />
<line x1="497.18" y1="31.74" x2="501.78" y2="31.74" stroke="#40e840" stroke-width="1.00" />
<line x1="517.66" y1="29.09" x2="517.66" y2="34.39" stroke="#40e840" stroke-width="1.00" />
<line x1="515.36" y1="29.09" x2="519.96" y2="29.09" stroke="#40e840" stroke-width="1.00" />
<line x1="515.36" y1="34.39" x2="519.96" y2="34.39" stroke="#40e840" stroke-width="1.00" />
<line x1="524.93" y1="28.38" x2="524.93" y2="33.68" stroke="#40e840" stroke-width="1.00" />
<line x1="522.63" y1="28.38" x2="527.23" y2="28.38" stroke="#40e840" stroke-width="1.00" />
<line x1="522.63" y1="33.68" x2="527.23" y2="33.68" stroke="#40e840" stroke-width="1.00" />
<path d="M470.40 32.16 L473.30 26.94 L467.50 26.94 Z" fill="#40e840"/>
<path d="M481.31 31.46 L484.21 26.24 L478.41 26.24 Z" fill="#40e840"/>
<path d="M499.48 32.87 L502.38 27.65 L496.58 27.65 Z" fill="#40e840"/>
<path d="M517.66 34.64 L520.56 29.42 L514.76 29.42 Z" fill="#40e840"/>
<path d="M524.93 33.93 L527.83 28.71 L522.03 28.71 Z" fill="#40e840"/>
<line x1="470.40" y1="62.86" x2="470.40" y2="69.93" stroke="#2020e8" stroke-width="1.00" />
<line x1="468.10" y1="62.86" x2="472.70" y2="62.86" stroke="#2020e8" stroke-width="1.00" />
<line x1="468.10" y1="69.93" x2="472.70" y2="69.93" stroke="#2020e8" stroke-width="1.00" />
<line x1="481.31" y1="61.62" x2="481.31" y2="68.69" stroke="#2020e8" stroke-width="1.00" />
<line x1="479.01" y1="61.62" x2="483.61" y2="61.62" stroke="#2020e8" stroke-width="1.00" />
<line x1="479.01" y1="68.69" x2="483.61" y2="68.69" stroke="#2020e8" stroke-width="1.00" />
<line x1="499.48" y1="60.20" x2="499.48" y2="67.28" stroke="#2020e8" stroke-width="1.00" />
<line x1="497.18" y1="60.20" x2="501.78" y2="60.20" stroke="#2020e8" stroke-width="1.00" />
<line x1="497.18" y1="67.28" x2="501.78" y2="67.28" stroke="#2020e8" stroke-width="1.00" />
<line x1="517.66" y1="58.79" x2="517.66" y2="67.63" stroke="#2020e8" stroke-width="1.00" />
<line x1="515.36" y1="58.79" x2="519.96" y2="58.79" stroke="#2020e8" stroke-width="1.00" />
<line x1="515.36" y1="67.63" x2="519.96" y2="67.63" stroke="#2020e8" stroke-width="1.00" />
<line x1="524.93" y1="59.67" x2="524.93" y2="66.75" stroke="#2020e8" stroke-width="1.00" />
<line x1="522.63" y1="59.67" x2="527.23" y2="59.67" stroke="#2020e8" stroke-width="1.00" />
<line x1="522.63" y1="66.75" x2="527.23" y2="66.75" stroke="#2020e8" stroke-width="1.00" />
<path d="M470.40 63.49 L473.30 68.71 L467.50 68.71 Z" fill="#2020e8"/>
<path d="M481.31 62.25 L484.21 67.47 L478.41 67.47 Z" fill="#2020e8"/>
<path d="M499.48 60.84 L502.38 66.06 L496.58 66.06 Z" fill="#2020e8"/>
<path d="M517.66 60.31 L520.56 65.53 L514.76 65.53 Z" fill="#2020e8"/>
<path d="M524.93 60.31 L527.83 65.53 L522.03 65.53 Z" fill="#2020e8"/>
<line x1="470.40" y1="77.71" x2="470.40" y2="86.55" stroke="#e8282a" stroke-width="1.00" />
<line x1="468.10" y1="77.71" x2="472.70" y2="77.71" stroke="#e8282a" stroke-width="1.00" />
<line x1="468.10" y1="86.55" x2="472.70" y2="86.55" stroke="#e8282a" stroke-width="1.00" />
<line x1="481.31" y1="74.35" x2="481.31" y2="84.96" stroke="#e8282a" stroke-width="1.00" />
<line x1="479.01" y1="74.35" x2="483.61" y2="74.35" stroke="#e8282a" stroke-width="1.00" />
<line x1="479.01" y1="84.96" x2="483.61" y2="84.96" stroke="#e8282a" stroke-width="1.00" />
<line x1="499.48" y1="77.71" x2="499.48" y2="86.55" stroke="#e8282a" stroke-width="1.00" />
<line x1="497.18" y1="77.71" x2="501.78" y2="77.71" stroke="#e8282a" stroke-width="1.00" />
<line x1="497.18" y1="86.55" x2="501.78" y2="86.55" stroke="#e8282a" stroke-width="1.00" />
<line x1="517.66" y1="83.54" x2="517.66" y2="90.61" stroke="#e8282a" stroke-width="1.00" />
<line x1="515.36" y1="83.54" x2="519.96" y2="83.54" stroke="#e8282a" stroke-width="1.00" />
<line x1="515.36" y1="90.61" x2="519.96" y2="90.61" stroke="#e8282a" stroke-width="1.00" />
<line x1="524.93" y1="86.72" x2="524.93" y2="92.03" stroke="#e8282a" stroke-width="1.00" />
<line x1="522.63" y1="86.72" x2="527.23" y2="86.72" stroke="#e8282a" stroke-width="1.00" />
<line x1="522.63" y1="92.03" x2="527.23" y2="92.03" stroke="#e8282a" stroke-width="1.00" />
<line x1="550.37" y1="95.92" x2="550.37" y2="101.22" stroke="#e8282a" stroke-width="1.00" />
<line x1="548.07" y1="95.92" x2="552.67" y2="95.92" stroke="#e8282a" stroke-width="1.00" />
<line x1="548.07" y1="101.22" x2="552.67" y2="101.22" stroke="#e8282a" stroke-width="1.00" />
<line x1="557.64" y1="91.14" x2="557.64" y2="107.76" stroke="#e8282a" stroke-width="1.00" />
<line x1="555.34" y1="91.14" x2="559.94" y2="91.14" stroke="#e8282a" stroke-width="1.00" />
<line x1="555.34" y1="107.76" x2="559.94" y2="107.76" stroke="#e8282a" stroke-width="1.00" />
<line x1="561.28" y1="95.74" x2="561.28" y2="113.42" stroke="#e8282a" stroke-width="1.00" />
<line x1="558.98" y1="95.74" x2="563.58" y2="95.74" stroke="#e8282a" stroke-width="1.00" />
<line x1="558.98" y1="113.42" x2="563.58" y2="113.42" stroke="#e8282a" stroke-width="1.00" />
<circle cx="470.40" cy="82.13" r="2.40" fill="#e8282a"/>
<circle cx="481.31" cy="79.65" r="2.40" fill="#e8282a"/>
<circle cx="499.48" cy="82.13" r="2.40" fill="#e8282a"/>
<circle cx="517.66" cy="87.08" r="2.40" fill="#e8282a"/>
<circle cx="524.93" cy="89.38" r="2.40" fill="#e8282a"/>
<circle cx="535.83" cy="91.32" r="2.40" fill="#e8282a"/>
<circle cx="543.10" cy="95.21" r="2.40" fill="#e8282a"/>
<circle cx="550.37" cy="98.57" r="2.40" fill="#e8282a"/>
<circle cx="557.64" cy="99.45" r="2.40" fill="#e8282a"/>
<circle cx="561.28" cy="104.58" r="2.40" fill="#e8282a"/>
<path d="M564.91 59.23 L568.01 62.33 L564.91 65.43 L561.81 62.33 Z" fill="#111"/>
<path d="M579.45 58.70 L582.55 61.80 L579.45 64.90 L576.35 61.80 Z" fill="#111"/>
<path d="M593.99 58.34 L597.09 61.44 L593.99 64.54 L590.89 61.44 Z" fill="#111"/>
<path d="M608.53 55.87 L611.63 58.97 L608.53 62.07 L605.43 58.97 Z" fill="#111"/>
<path d="M641.25 53.39 L644.35 56.49 L641.25 59.59 L638.15 56.49 Z" fill="#111"/>
<path d="M678.32 49.68 L681.42 52.78 L678.32 55.88 L675.22 52.78 Z" fill="#111"/>
<line x1="470.40" y1="223.92" x2="470.40" y2="236.77" stroke="#2020e8" stroke-width="1.00" />
<line x1="468.10" y1="223.92" x2="472.70" y2="223.92" stroke="#2020e8" stroke-width="1.00" />
<line x1="468.10" y1="236.77" x2="472.70" y2="236.77" stroke="#2020e8" stroke-width="1.00" />
<line x1="481.31" y1="217.24" x2="481.31" y2="241.40" stroke="#2020e8" stroke-width="1.00" />
<line x1="479.01" y1="217.24" x2="483.61" y2="217.24" stroke="#2020e8" stroke-width="1.00" />
<line x1="479.01" y1="241.40" x2="483.61" y2="241.40" stroke="#2020e8" stroke-width="1.00" />
<line x1="499.48" y1="219.81" x2="499.48" y2="237.80" stroke="#2020e8" stroke-width="1.00" />
<line x1="497.18" y1="219.81" x2="501.78" y2="219.81" stroke="#2020e8" stroke-width="1.00" />
<line x1="497.18" y1="237.80" x2="501.78" y2="237.80" stroke="#2020e8" stroke-width="1.00" />
<line x1="517.66" y1="216.73" x2="517.66" y2="234.72" stroke="#2020e8" stroke-width="1.00" />
<line x1="515.36" y1="216.73" x2="519.96" y2="216.73" stroke="#2020e8" stroke-width="1.00" />
<line x1="515.36" y1="234.72" x2="519.96" y2="234.72" stroke="#2020e8" stroke-width="1.00" />
<line x1="524.93" y1="218.27" x2="524.93" y2="236.26" stroke="#2020e8" stroke-width="1.00" />
<line x1="522.63" y1="218.27" x2="527.23" y2="218.27" stroke="#2020e8" stroke-width="1.00" />
<line x1="522.63" y1="236.26" x2="527.23" y2="236.26" stroke="#2020e8" stroke-width="1.00" />
<path d="M470.40 227.45 L473.30 232.67 L467.50 232.67 Z" fill="#2020e8"/>
<path d="M481.31 227.19 L484.21 232.41 L478.41 232.41 Z" fill="#2020e8"/>
<path d="M499.48 225.91 L502.38 231.13 L496.58 231.13 Z" fill="#2020e8"/>
<path d="M517.66 222.82 L520.56 228.04 L514.76 228.04 Z" fill="#2020e8"/>
<path d="M524.93 224.37 L527.83 229.59 L522.03 229.59 Z" fill="#2020e8"/>
<line x1="470.40" y1="220.33" x2="470.40" y2="228.04" stroke="#40e840" stroke-width="1.00" />
<line x1="468.10" y1="220.33" x2="472.70" y2="220.33" stroke="#40e840" stroke-width="1.00" />
<line x1="468.10" y1="228.04" x2="472.70" y2="228.04" stroke="#40e840" stroke-width="1.00" />
<line x1="481.31" y1="221.10" x2="481.31" y2="228.81" stroke="#40e840" stroke-width="1.00" />
<line x1="479.01" y1="221.10" x2="483.61" y2="221.10" stroke="#40e840" stroke-width="1.00" />
<line x1="479.01" y1="228.81" x2="483.61" y2="228.81" stroke="#40e840" stroke-width="1.00" />
<line x1="499.48" y1="218.53" x2="499.48" y2="231.38" stroke="#40e840" stroke-width="1.00" />
<line x1="497.18" y1="218.53" x2="501.78" y2="218.53" stroke="#40e840" stroke-width="1.00" />
<line x1="497.18" y1="231.38" x2="501.78" y2="231.38" stroke="#40e840" stroke-width="1.00" />
<line x1="517.66" y1="218.01" x2="517.66" y2="233.43" stroke="#40e840" stroke-width="1.00" />
<line x1="515.36" y1="218.01" x2="519.96" y2="218.01" stroke="#40e840" stroke-width="1.00" />
<line x1="515.36" y1="233.43" x2="519.96" y2="233.43" stroke="#40e840" stroke-width="1.00" />
<line x1="524.93" y1="216.99" x2="524.93" y2="237.55" stroke="#40e840" stroke-width="1.00" />
<line x1="522.63" y1="216.99" x2="527.23" y2="216.99" stroke="#40e840" stroke-width="1.00" />
<line x1="522.63" y1="237.55" x2="527.23" y2="237.55" stroke="#40e840" stroke-width="1.00" />
<path d="M470.40 227.08 L473.30 221.86 L467.50 221.86 Z" fill="#40e840"/>
<path d="M481.31 227.85 L484.21 222.63 L478.41 222.63 Z" fill="#40e840"/>
<path d="M499.48 227.85 L502.38 222.63 L496.58 222.63 Z" fill="#40e840"/>
<path d="M517.66 228.62 L520.56 223.40 L514.76 223.40 Z" fill="#40e840"/>
<path d="M524.93 230.17 L527.83 224.95 L522.03 224.95 Z" fill="#40e840"/>
<line x1="470.40" y1="204.13" x2="470.40" y2="222.12" stroke="#e8282a" stroke-width="1.00" />
<line x1="468.10" y1="204.13" x2="472.70" y2="204.13" stroke="#e8282a" stroke-width="1.00" />
<line x1="468.10" y1="222.12" x2="472.70" y2="222.12" stroke="#e8282a" stroke-width="1.00" />
<line x1="481.31" y1="201.31" x2="481.31" y2="221.87" stroke="#e8282a" stroke-width="1.00" />
<line x1="479.01" y1="201.31" x2="483.61" y2="201.31" stroke="#e8282a" stroke-width="1.00" />
<line x1="479.01" y1="221.87" x2="483.61" y2="221.87" stroke="#e8282a" stroke-width="1.00" />
<line x1="499.48" y1="203.11" x2="499.48" y2="221.10" stroke="#e8282a" stroke-width="1.00" />
<line x1="497.18" y1="203.11" x2="501.78" y2="203.11" stroke="#e8282a" stroke-width="1.00" />
<line x1="497.18" y1="221.10" x2="501.78" y2="221.10" stroke="#e8282a" stroke-width="1.00" />
<line x1="517.66" y1="202.59" x2="517.66" y2="219.04" stroke="#e8282a" stroke-width="1.00" />
<line x1="515.36" y1="202.59" x2="519.96" y2="202.59" stroke="#e8282a" stroke-width="1.00" />
<line x1="515.36" y1="219.04" x2="519.96" y2="219.04" stroke="#e8282a" stroke-width="1.00" />
<line x1="524.93" y1="200.79" x2="524.93" y2="216.21" stroke="#e8282a" stroke-width="1.00" />
<line x1="522.63" y1="200.79" x2="527.23" y2="200.79" stroke="#e8282a" stroke-width="1.00" />
<line x1="522.63" y1="216.21" x2="527.23" y2="216.21" stroke="#e8282a" stroke-width="1.00" />
<line x1="535.83" y1="200.28" x2="535.83" y2="210.56" stroke="#e8282a" stroke-width="1.00" />
<line x1="533.53" y1="200.28" x2="538.13" y2="200.28" stroke="#e8282a" stroke-width="1.00" />
<line x1="533.53" y1="210.56" x2="538.13" y2="210.56" stroke="#e8282a" stroke-width="1.00" />
<line x1="543.10" y1="195.14" x2="543.10" y2="207.99" stroke="#e8282a" stroke-width="1.00" />
<line x1="540.80" y1="195.14" x2="545.40" y2="195.14" stroke="#e8282a" stroke-width="1.00" />
<line x1="540.80" y1="207.99" x2="545.40" y2="207.99" stroke="#e8282a" stroke-width="1.00" />
<line x1="550.37" y1="179.98" x2="550.37" y2="205.16" stroke="#e8282a" stroke-width="1.00" />
<line x1="548.07" y1="179.98" x2="552.67" y2="179.98" stroke="#e8282a" stroke-width="1.00" />
<line x1="548.07" y1="205.16" x2="552.67" y2="205.16" stroke="#e8282a" stroke-width="1.00" />
<line x1="557.64" y1="148.88" x2="557.64" y2="186.40" stroke="#e8282a" stroke-width="1.00" />
<line x1="555.34" y1="148.88" x2="559.94" y2="148.88" stroke="#e8282a" stroke-width="1.00" />
<line x1="555.34" y1="186.40" x2="559.94" y2="186.40" stroke="#e8282a" stroke-width="1.00" />
<line x1="561.28" y1="136.54" x2="561.28" y2="179.72" stroke="#e8282a" stroke-width="1.00" />
<line x1="558.98" y1="136.54" x2="563.58" y2="136.54" stroke="#e8282a" stroke-width="1.00" />
<line x1="558.98" y1="179.72" x2="563.58" y2="179.72" stroke="#e8282a" stroke-width="1.00" />
<circle cx="470.40" cy="213.13" r="2.40" fill="#e8282a"/>
<circle cx="481.31" cy="211.59" r="2.40" fill="#e8282a"/>
<circle cx="499.48" cy="212.10" r="2.40" fill="#e8282a"/>
<circle cx="517.66" cy="210.82" r="2.40" fill="#e8282a"/>
<circle cx="524.93" cy="208.50" r="2.40" fill="#e8282a"/>
<circle cx="535.83" cy="205.42" r="2.40" fill="#e8282a"/>
<circle cx="543.10" cy="201.56" r="2.40" fill="#e8282a"/>
<circle cx="550.37" cy="192.57" r="2.40" fill="#e8282a"/>
<circle cx="557.64" cy="167.64" r="2.40" fill="#e8282a"/>
<circle cx="561.28" cy="158.13" r="2.40" fill="#e8282a"/>
<line x1="564.91" y1="190.51" x2="564.91" y2="198.22" stroke="#111" stroke-width="1.00" />
<line x1="562.61" y1="190.51" x2="567.21" y2="190.51" stroke="#111" stroke-width="1.00" />
<line x1="562.61" y1="198.22" x2="567.21" y2="198.22" stroke="#111" stroke-width="1.00" />
<line x1="579.45" y1="202.08" x2="579.45" y2="208.25" stroke="#111" stroke-width="1.00" />
<line x1="577.15" y1="202.08" x2="581.75" y2="202.08" stroke="#111" stroke-width="1.00" />
<line x1="577.15" y1="208.25" x2="581.75" y2="208.25" stroke="#111" stroke-width="1.00" />
<line x1="593.99" y1="203.62" x2="593.99" y2="209.79" stroke="#111" stroke-width="1.00" />
<line x1="591.69" y1="203.62" x2="596.29" y2="203.62" stroke="#111" stroke-width="1.00" />
<line x1="591.69" y1="209.79" x2="596.29" y2="209.79" stroke="#111" stroke-width="1.00" />
<line x1="608.53" y1="204.39" x2="608.53" y2="210.56" stroke="#111" stroke-width="1.00" />
<line x1="606.23" y1="204.39" x2="610.83" y2="204.39" stroke="#111" stroke-width="1.00" />
<line x1="606.23" y1="210.56" x2="610.83" y2="210.56" stroke="#111" stroke-width="1.00" />
<line x1="641.25" y1="202.34" x2="641.25" y2="208.50" stroke="#111" stroke-width="1.00" />
<line x1="638.95" y1="202.34" x2="643.55" y2="202.34" stroke="#111" stroke-width="1.00" />
<line x1="638.95" y1="208.50" x2="643.55" y2="208.50" stroke="#111" stroke-width="1.00" />
<line x1="678.32" y1="203.62" x2="678.32" y2="208.76" stroke="#111" stroke-width="1.00" />
<line x1="676.02" y1="203.62" x2="680.62" y2="203.62" stroke="#111" stroke-width="1.00" />
<line x1="676.02" y1="208.76" x2="680.62" y2="208.76" stroke="#111" stroke-width="1.00" />
<path d="M564.91 191.27 L568.01 194.37 L564.91 197.47 L561.81 194.37 Z" fill="#111"/>
<path d="M579.45 202.06 L582.55 205.16 L579.45 208.26 L576.35 205.16 Z" fill="#111"/>
<path d="M593.99 203.61 L597.09 206.71 L593.99 209.81 L590.89 206.71 Z" fill="#111"/>
<path d="M608.53 204.38 L611.63 207.48 L608.53 210.58 L605.43 207.48 Z" fill="#111"/>
<path d="M641.25 202.32 L644.35 205.42 L641.25 208.52 L638.15 205.42 Z" fill="#111"/>
<path d="M678.32 203.09 L681.42 206.19 L678.32 209.29 L675.22 206.19 Z" fill="#111"/>
<circle cx="470.30" cy="143.50" r="2.90" fill="#e8282a"/>
<text x="479.6" y="146.4" font-size="8.6" fill="#111" font-style="italic" stroke="#111" stroke-width="0.12">A<tspan font-size="5.8" dy="-6.5" dx="0.8" font-style="normal">1</tspan></text>
<path d="M470.20 153.65 L473.35 159.32 L467.05 159.32 Z" fill="#2020e8"/>
<text x="479.6" y="160.0" font-size="8.6" fill="#111" font-style="italic" stroke="#111" stroke-width="0.12">A<tspan font-size="5.8" dy="-6.5" dx="0.8" font-style="normal">2</tspan></text>
<path d="M470.20 174.35 L473.35 168.68 L467.05 168.68 Z" fill="#40e840"/>
<text x="479.6" y="174.4" font-size="8.6" fill="#111" font-style="italic" stroke="#111" stroke-width="0.12">A<tspan font-size="5.8" dy="-6.5" dx="0.8" font-style="normal">3</tspan></text>
<path d="M646.90 139.60 L650.90 143.60 L646.90 147.60 L642.90 143.60 Z" fill="#111"/>
<text x="658.6" y="146.7" font-size="8.6" fill="#111" font-style="italic" stroke="#111" stroke-width="0.12">E<tspan font-size="5.8" dy="-6.5" dx="0.8" font-style="normal">1</tspan></text>
<line x1="470.40" y1="329.53" x2="470.40" y2="346.79" stroke="#2020e8" stroke-width="1.00" />
<line x1="468.10" y1="329.53" x2="472.70" y2="329.53" stroke="#2020e8" stroke-width="1.00" />
<line x1="468.10" y1="346.79" x2="472.70" y2="346.79" stroke="#2020e8" stroke-width="1.00" />
<line x1="481.31" y1="339.54" x2="481.31" y2="353.35" stroke="#2020e8" stroke-width="1.00" />
<line x1="479.01" y1="339.54" x2="483.61" y2="339.54" stroke="#2020e8" stroke-width="1.00" />
<line x1="479.01" y1="353.35" x2="483.61" y2="353.35" stroke="#2020e8" stroke-width="1.00" />
<line x1="499.48" y1="339.77" x2="499.48" y2="355.88" stroke="#2020e8" stroke-width="1.00" />
<line x1="497.18" y1="339.77" x2="501.78" y2="339.77" stroke="#2020e8" stroke-width="1.00" />
<line x1="497.18" y1="355.88" x2="501.78" y2="355.88" stroke="#2020e8" stroke-width="1.00" />
<line x1="517.66" y1="338.04" x2="517.66" y2="354.16" stroke="#2020e8" stroke-width="1.00" />
<line x1="515.36" y1="338.04" x2="519.96" y2="338.04" stroke="#2020e8" stroke-width="1.00" />
<line x1="515.36" y1="354.16" x2="519.96" y2="354.16" stroke="#2020e8" stroke-width="1.00" />
<line x1="524.93" y1="343.34" x2="524.93" y2="356.00" stroke="#2020e8" stroke-width="1.00" />
<line x1="522.63" y1="343.34" x2="527.23" y2="343.34" stroke="#2020e8" stroke-width="1.00" />
<line x1="522.63" y1="356.00" x2="527.23" y2="356.00" stroke="#2020e8" stroke-width="1.00" />
<path d="M470.40 335.26 L473.30 340.48 L467.50 340.48 Z" fill="#2020e8"/>
<path d="M481.31 343.55 L484.21 348.77 L478.41 348.77 Z" fill="#2020e8"/>
<path d="M499.48 344.93 L502.38 350.15 L496.58 350.15 Z" fill="#2020e8"/>
<path d="M517.66 343.20 L520.56 348.42 L514.76 348.42 Z" fill="#2020e8"/>
<path d="M524.93 351.95 L527.83 357.17 L522.03 357.17 Z" fill="#2020e8"/>
<line x1="470.40" y1="328.38" x2="470.40" y2="342.19" stroke="#40e840" stroke-width="1.00" />
<line x1="468.10" y1="328.38" x2="472.70" y2="328.38" stroke="#40e840" stroke-width="1.00" />
<line x1="468.10" y1="342.19" x2="472.70" y2="342.19" stroke="#40e840" stroke-width="1.00" />
<line x1="481.31" y1="331.25" x2="481.31" y2="345.07" stroke="#40e840" stroke-width="1.00" />
<line x1="479.01" y1="331.25" x2="483.61" y2="331.25" stroke="#40e840" stroke-width="1.00" />
<line x1="479.01" y1="345.07" x2="483.61" y2="345.07" stroke="#40e840" stroke-width="1.00" />
<line x1="499.48" y1="338.85" x2="499.48" y2="349.21" stroke="#40e840" stroke-width="1.00" />
<line x1="497.18" y1="338.85" x2="501.78" y2="338.85" stroke="#40e840" stroke-width="1.00" />
<line x1="497.18" y1="349.21" x2="501.78" y2="349.21" stroke="#40e840" stroke-width="1.00" />
<line x1="517.66" y1="339.20" x2="517.66" y2="353.01" stroke="#40e840" stroke-width="1.00" />
<line x1="515.36" y1="339.20" x2="519.96" y2="339.20" stroke="#40e840" stroke-width="1.00" />
<line x1="515.36" y1="353.01" x2="519.96" y2="353.01" stroke="#40e840" stroke-width="1.00" />
<line x1="524.93" y1="342.42" x2="524.93" y2="355.08" stroke="#40e840" stroke-width="1.00" />
<line x1="522.63" y1="342.42" x2="527.23" y2="342.42" stroke="#40e840" stroke-width="1.00" />
<line x1="522.63" y1="355.08" x2="527.23" y2="355.08" stroke="#40e840" stroke-width="1.00" />
<path d="M470.40 332.38 L473.30 337.60 L467.50 337.60 Z" fill="#40e840"/>
<path d="M481.31 335.26 L484.21 340.48 L478.41 340.48 Z" fill="#40e840"/>
<path d="M499.48 341.13 L502.38 346.35 L496.58 346.35 Z" fill="#40e840"/>
<path d="M517.66 343.20 L520.56 348.42 L514.76 348.42 Z" fill="#40e840"/>
<path d="M524.93 345.85 L527.83 351.07 L522.03 351.07 Z" fill="#40e840"/>
<line x1="470.40" y1="266.11" x2="470.40" y2="279.46" stroke="#e8282a" stroke-width="1.00" />
<line x1="468.10" y1="266.11" x2="472.70" y2="266.11" stroke="#e8282a" stroke-width="1.00" />
<line x1="468.10" y1="279.46" x2="472.70" y2="279.46" stroke="#e8282a" stroke-width="1.00" />
<line x1="481.31" y1="270.25" x2="481.31" y2="282.91" stroke="#e8282a" stroke-width="1.00" />
<line x1="479.01" y1="270.25" x2="483.61" y2="270.25" stroke="#e8282a" stroke-width="1.00" />
<line x1="479.01" y1="282.91" x2="483.61" y2="282.91" stroke="#e8282a" stroke-width="1.00" />
<line x1="499.48" y1="273.36" x2="499.48" y2="284.87" stroke="#e8282a" stroke-width="1.00" />
<line x1="497.18" y1="273.36" x2="501.78" y2="273.36" stroke="#e8282a" stroke-width="1.00" />
<line x1="497.18" y1="284.87" x2="501.78" y2="284.87" stroke="#e8282a" stroke-width="1.00" />
<line x1="517.66" y1="284.18" x2="517.66" y2="294.54" stroke="#e8282a" stroke-width="1.00" />
<line x1="515.36" y1="284.18" x2="519.96" y2="284.18" stroke="#e8282a" stroke-width="1.00" />
<line x1="515.36" y1="294.54" x2="519.96" y2="294.54" stroke="#e8282a" stroke-width="1.00" />
<line x1="524.93" y1="283.26" x2="524.93" y2="292.46" stroke="#e8282a" stroke-width="1.00" />
<line x1="522.63" y1="283.26" x2="527.23" y2="283.26" stroke="#e8282a" stroke-width="1.00" />
<line x1="522.63" y1="292.46" x2="527.23" y2="292.46" stroke="#e8282a" stroke-width="1.00" />
<line x1="535.83" y1="289.24" x2="535.83" y2="298.45" stroke="#e8282a" stroke-width="1.00" />
<line x1="533.53" y1="289.24" x2="538.13" y2="289.24" stroke="#e8282a" stroke-width="1.00" />
<line x1="533.53" y1="298.45" x2="538.13" y2="298.45" stroke="#e8282a" stroke-width="1.00" />
<line x1="543.10" y1="294.31" x2="543.10" y2="305.82" stroke="#e8282a" stroke-width="1.00" />
<line x1="540.80" y1="294.31" x2="545.40" y2="294.31" stroke="#e8282a" stroke-width="1.00" />
<line x1="540.80" y1="305.82" x2="545.40" y2="305.82" stroke="#e8282a" stroke-width="1.00" />
<line x1="550.37" y1="297.99" x2="550.37" y2="318.71" stroke="#e8282a" stroke-width="1.00" />
<line x1="548.07" y1="297.99" x2="552.67" y2="297.99" stroke="#e8282a" stroke-width="1.00" />
<line x1="548.07" y1="318.71" x2="552.67" y2="318.71" stroke="#e8282a" stroke-width="1.00" />
<line x1="557.64" y1="305.70" x2="557.64" y2="331.02" stroke="#e8282a" stroke-width="1.00" />
<line x1="555.34" y1="305.70" x2="559.94" y2="305.70" stroke="#e8282a" stroke-width="1.00" />
<line x1="555.34" y1="331.02" x2="559.94" y2="331.02" stroke="#e8282a" stroke-width="1.00" />
<line x1="561.28" y1="314.33" x2="561.28" y2="344.26" stroke="#e8282a" stroke-width="1.00" />
<line x1="558.98" y1="314.33" x2="563.58" y2="314.33" stroke="#e8282a" stroke-width="1.00" />
<line x1="558.98" y1="344.26" x2="563.58" y2="344.26" stroke="#e8282a" stroke-width="1.00" />
<circle cx="470.40" cy="272.78" r="2.40" fill="#e8282a"/>
<circle cx="481.31" cy="276.58" r="2.40" fill="#e8282a"/>
<circle cx="499.48" cy="279.11" r="2.40" fill="#e8282a"/>
<circle cx="517.66" cy="289.36" r="2.40" fill="#e8282a"/>
<circle cx="524.93" cy="287.86" r="2.40" fill="#e8282a"/>
<circle cx="535.83" cy="293.85" r="2.40" fill="#e8282a"/>
<circle cx="543.10" cy="300.06" r="2.40" fill="#e8282a"/>
<circle cx="550.37" cy="308.35" r="2.40" fill="#e8282a"/>
<circle cx="557.64" cy="318.36" r="2.40" fill="#e8282a"/>
<circle cx="561.28" cy="329.30" r="2.40" fill="#e8282a"/>
<line x1="564.91" y1="341.73" x2="564.91" y2="345.18" stroke="#111" stroke-width="1.00" />
<line x1="562.61" y1="341.73" x2="567.21" y2="341.73" stroke="#111" stroke-width="1.00" />
<line x1="562.61" y1="345.18" x2="567.21" y2="345.18" stroke="#111" stroke-width="1.00" />
<line x1="579.45" y1="344.84" x2="579.45" y2="347.14" stroke="#111" stroke-width="1.00" />
<line x1="577.15" y1="344.84" x2="581.75" y2="344.84" stroke="#111" stroke-width="1.00" />
<line x1="577.15" y1="347.14" x2="581.75" y2="347.14" stroke="#111" stroke-width="1.00" />
<line x1="593.99" y1="344.84" x2="593.99" y2="347.14" stroke="#111" stroke-width="1.00" />
<line x1="591.69" y1="344.84" x2="596.29" y2="344.84" stroke="#111" stroke-width="1.00" />
<line x1="591.69" y1="347.14" x2="596.29" y2="347.14" stroke="#111" stroke-width="1.00" />
<line x1="608.53" y1="344.49" x2="608.53" y2="346.79" stroke="#111" stroke-width="1.00" />
<line x1="606.23" y1="344.49" x2="610.83" y2="344.49" stroke="#111" stroke-width="1.00" />
<line x1="606.23" y1="346.79" x2="610.83" y2="346.79" stroke="#111" stroke-width="1.00" />
<line x1="641.25" y1="342.76" x2="641.25" y2="345.07" stroke="#111" stroke-width="1.00" />
<line x1="638.95" y1="342.76" x2="643.55" y2="342.76" stroke="#111" stroke-width="1.00" />
<line x1="638.95" y1="345.07" x2="643.55" y2="345.07" stroke="#111" stroke-width="1.00" />
<line x1="678.32" y1="343.91" x2="678.32" y2="346.22" stroke="#111" stroke-width="1.00" />
<line x1="676.02" y1="343.91" x2="680.62" y2="343.91" stroke="#111" stroke-width="1.00" />
<line x1="676.02" y1="346.22" x2="680.62" y2="346.22" stroke="#111" stroke-width="1.00" />
<path d="M564.91 340.35 L568.01 343.45 L564.91 346.55 L561.81 343.45 Z" fill="#111"/>
<path d="M579.45 342.89 L582.55 345.99 L579.45 349.09 L576.35 345.99 Z" fill="#111"/>
<path d="M593.99 342.89 L597.09 345.99 L593.99 349.09 L590.89 345.99 Z" fill="#111"/>
<path d="M608.53 342.54 L611.63 345.64 L608.53 348.74 L605.43 345.64 Z" fill="#111"/>
<path d="M641.25 340.81 L644.35 343.91 L641.25 347.01 L638.15 343.91 Z" fill="#111"/>
<path d="M678.32 341.97 L681.42 345.07 L678.32 348.17 L675.22 345.07 Z" fill="#111"/>
<text x="567.5" y="334.0" font-size="10" fill="#111" font-style="italic" stroke="#111" stroke-width="0.12">T*</text>
</svg></body></html>
